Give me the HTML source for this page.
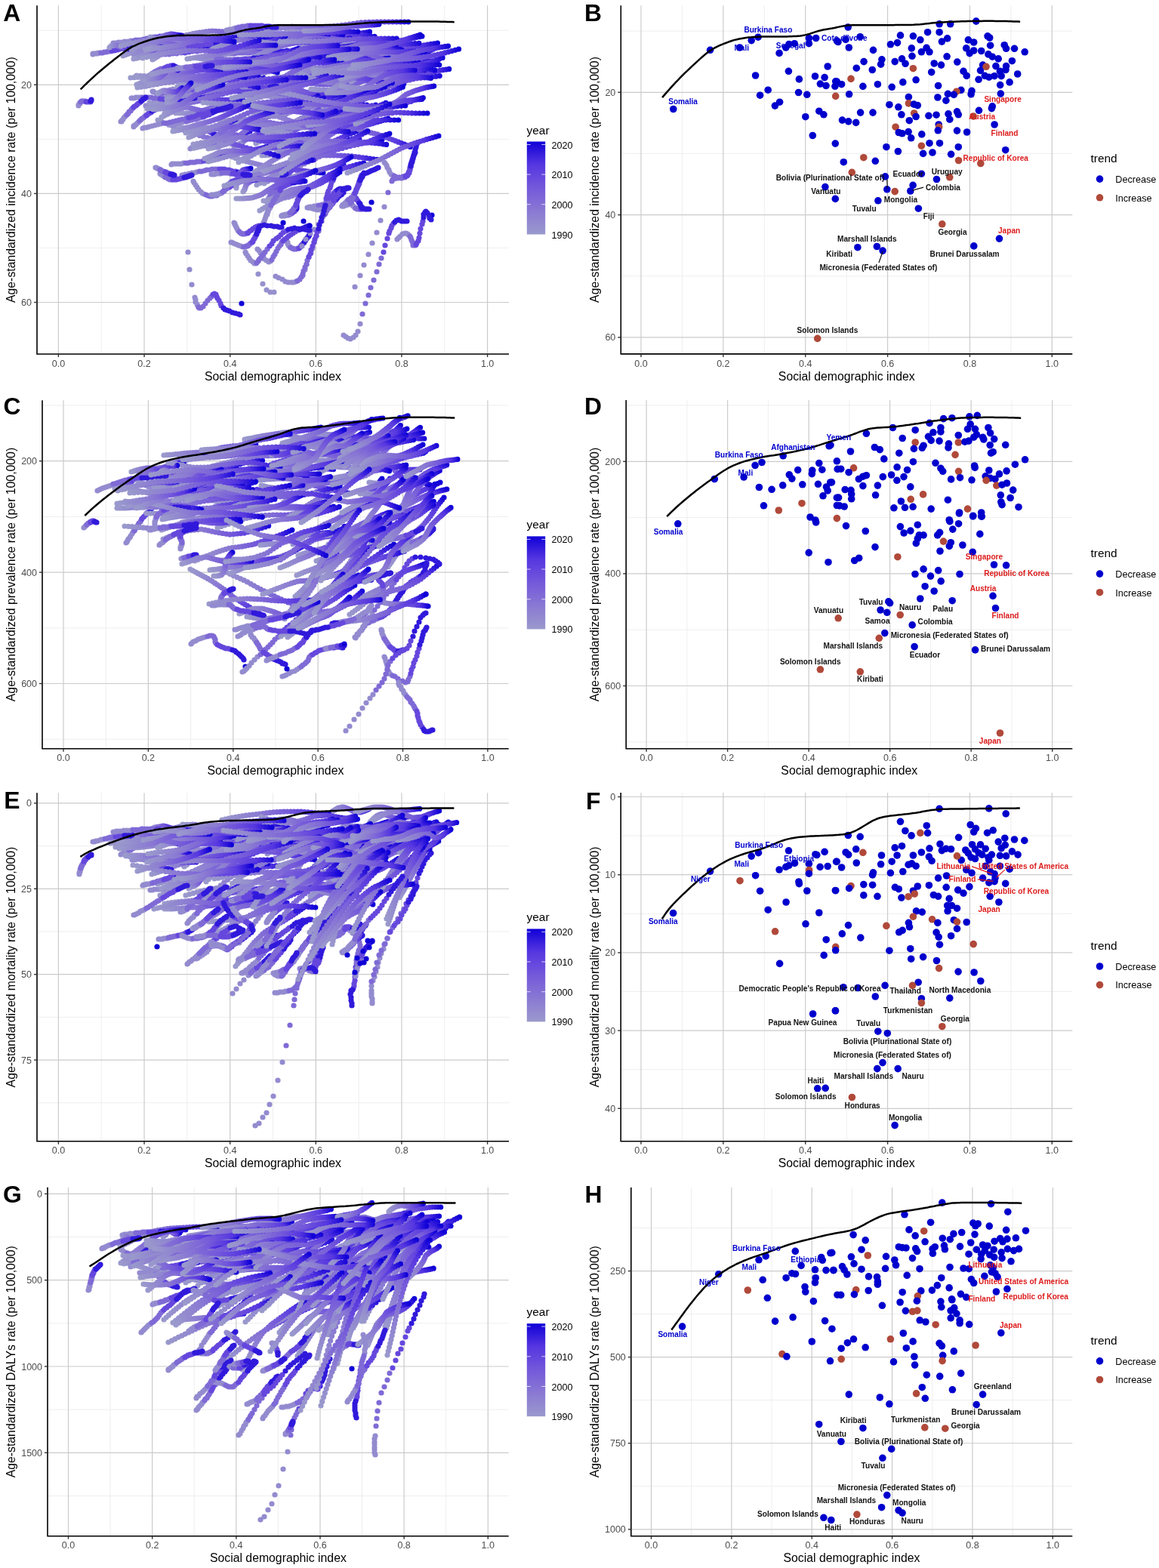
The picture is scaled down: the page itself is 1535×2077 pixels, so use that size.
<!DOCTYPE html><html><head><meta charset="utf-8"><title>SDI figure</title><style>html,body{margin:0;padding:0;background:#fff;}svg{display:block;}</style></head><body>
<svg width="1535" height="2077" viewBox="0 0 1535 2077" font-family="'Liberation Sans', Arial, Helvetica, sans-serif">
<rect width="1535" height="2077" fill="#fff"/>
<defs><linearGradient id="gr" x1="0" y1="0" x2="1" y2="0"><stop offset="0" stop-color="#9a99cc"/><stop offset=".35" stop-color="#8a79d3"/><stop offset=".62" stop-color="#7459da"/><stop offset=".84" stop-color="#5637e0"/><stop offset="1" stop-color="#1000d7"/></linearGradient><linearGradient id="gl" x1="1" y1="0" x2="0" y2="0"><stop offset="0" stop-color="#9a99cc"/><stop offset=".35" stop-color="#8a79d3"/><stop offset=".62" stop-color="#7459da"/><stop offset=".84" stop-color="#5637e0"/><stop offset="1" stop-color="#1000d7"/></linearGradient><linearGradient id="gu" x1="0" y1="1" x2="0" y2="0"><stop offset="0" stop-color="#9a99cc"/><stop offset=".35" stop-color="#8a79d3"/><stop offset=".62" stop-color="#7459da"/><stop offset=".84" stop-color="#5637e0"/><stop offset="1" stop-color="#1000d7"/></linearGradient><linearGradient id="gd" x1="0" y1="0" x2="0" y2="1"><stop offset="0" stop-color="#9a99cc"/><stop offset=".35" stop-color="#8a79d3"/><stop offset=".62" stop-color="#7459da"/><stop offset=".84" stop-color="#5637e0"/><stop offset="1" stop-color="#1000d7"/></linearGradient><linearGradient id="gur" x1="0" y1="1" x2="1" y2="0"><stop offset="0" stop-color="#9a99cc"/><stop offset=".35" stop-color="#8a79d3"/><stop offset=".62" stop-color="#7459da"/><stop offset=".84" stop-color="#5637e0"/><stop offset="1" stop-color="#1000d7"/></linearGradient><linearGradient id="gdr" x1="0" y1="0" x2="1" y2="1"><stop offset="0" stop-color="#9a99cc"/><stop offset=".35" stop-color="#8a79d3"/><stop offset=".62" stop-color="#7459da"/><stop offset=".84" stop-color="#5637e0"/><stop offset="1" stop-color="#1000d7"/></linearGradient><linearGradient id="gul" x1="1" y1="1" x2="0" y2="0"><stop offset="0" stop-color="#9a99cc"/><stop offset=".35" stop-color="#8a79d3"/><stop offset=".62" stop-color="#7459da"/><stop offset=".84" stop-color="#5637e0"/><stop offset="1" stop-color="#1000d7"/></linearGradient><linearGradient id="gdl" x1="1" y1="0" x2="0" y2="1"><stop offset="0" stop-color="#9a99cc"/><stop offset=".35" stop-color="#8a79d3"/><stop offset=".62" stop-color="#7459da"/><stop offset=".84" stop-color="#5637e0"/><stop offset="1" stop-color="#1000d7"/></linearGradient></defs>
<line x1="49.0" y1="40.25" x2="674.0" y2="40.25" stroke="#ececec" stroke-width="0.9"/>
<line x1="49.0" y1="184.35" x2="674.0" y2="184.35" stroke="#ececec" stroke-width="0.9"/>
<line x1="49.0" y1="328.45" x2="674.0" y2="328.45" stroke="#ececec" stroke-width="0.9"/>
<line x1="134.22" y1="7.2" x2="134.22" y2="469.0" stroke="#ececec" stroke-width="0.9"/>
<line x1="247.86" y1="7.2" x2="247.86" y2="469.0" stroke="#ececec" stroke-width="0.9"/>
<line x1="361.50" y1="7.2" x2="361.50" y2="469.0" stroke="#ececec" stroke-width="0.9"/>
<line x1="475.14" y1="7.2" x2="475.14" y2="469.0" stroke="#ececec" stroke-width="0.9"/>
<line x1="588.78" y1="7.2" x2="588.78" y2="469.0" stroke="#ececec" stroke-width="0.9"/>
<line x1="49.0" y1="112.30" x2="674.0" y2="112.30" stroke="#cbcbcb" stroke-width="1.2"/>
<line x1="49.0" y1="256.40" x2="674.0" y2="256.40" stroke="#cbcbcb" stroke-width="1.2"/>
<line x1="49.0" y1="400.50" x2="674.0" y2="400.50" stroke="#cbcbcb" stroke-width="1.2"/>
<line x1="77.40" y1="7.2" x2="77.40" y2="469.0" stroke="#cbcbcb" stroke-width="1.2"/>
<line x1="191.04" y1="7.2" x2="191.04" y2="469.0" stroke="#cbcbcb" stroke-width="1.2"/>
<line x1="304.68" y1="7.2" x2="304.68" y2="469.0" stroke="#cbcbcb" stroke-width="1.2"/>
<line x1="418.32" y1="7.2" x2="418.32" y2="469.0" stroke="#cbcbcb" stroke-width="1.2"/>
<line x1="531.96" y1="7.2" x2="531.96" y2="469.0" stroke="#cbcbcb" stroke-width="1.2"/>
<line x1="645.60" y1="7.2" x2="645.60" y2="469.0" stroke="#cbcbcb" stroke-width="1.2"/>
<g clip-path="url(#clipA)">
<defs><clipPath id="clipA"><rect x="49.0" y="7.2" width="625.0" height="461.8"/></clipPath></defs>
<g fill="none" stroke-width="7.2" stroke-linecap="round">
<path stroke="url(#gr)" stroke-dasharray="0 4.56" d="M221 138L233 131L251 123L268 119L285 120L302 121L321 117L341 109L355 103"/>
<path stroke="url(#gr)" stroke-dasharray="0 4.83" d="M356 195L372 199L394 204L414 206L431 206L448 206L467 207L489 210L504 212"/>
<path stroke="#938bcf" d="M104 140h0m0-1h0m1-1h0m0-1h0m1 0h0m0-1h0"/><path stroke="#7f6ad6" d="M107 135h0m1-1h0m1 0h0m1 0h0m1 0h0m2 0h0"/><path stroke="#6547dd" d="M114 135h0m1 0h0m1 0h0m1 0h0m1 0h0m1 0h0m1 0h0"/><path stroke="#3019db" d="M120 134h0m1-1h0m0-1h0"/>
<path stroke="url(#gr)" stroke-dasharray="0 3.91" d="M369 50L380 49L396 49L412 48L428 49L444 49L460 48L478 44L490 42"/>
<path stroke="url(#gr)" stroke-dasharray="0 4.35" d="M230 50L244 47L264 43L281 41L295 42L309 43L327 41L348 38L364 36"/>
<path stroke="url(#gr)" stroke-dasharray="0 1.61" d="M188 57L192 54L198 50L203 49L208 54L212 58L218 58L225 54L230 51"/>
<path stroke="#938bcf" d="M256 240h0m1 2h0m2 3h0m2 3h0m2 3h0m3 3h0m2 2h0m2 1h0"/><path stroke="#7f6ad6" d="M273 258h0m2 1h0m3 1h0m3 0h0m3-1h0m3 0h0m3-2h0m4-2h0"/><path stroke="#6547dd" d="M297 252h0m3-2h0m4-2h0m3-2h0m4-2h0m3-1h0m4-2h0m3-1h0"/><path stroke="#3019db" d="M324 239h0m3-1h0m4 0h0m3 0h0m4 0h0m3 0h0m3 0h0m2 0h0"/>
<path stroke="url(#gr)" stroke-dasharray="0 5.40" d="M350 243L364 235L385 225L405 216L424 207L444 199L465 193L489 188L506 185"/>
<path stroke="url(#gr)" stroke-dasharray="0 5.15" d="M378 141L392 138L412 133L432 129L453 124L474 120L495 116L518 113L535 111"/>
<path stroke="#938bcf" d="M466 271h0m1 1h0m1 1h0m1 1h0m1 1h0"/><path stroke="#7f6ad6" d="M471 276h0m1 0h0m1 1h0m1 0h0m1 0h0m1 0h0m1 0h0"/><path stroke="#6547dd" d="M478 277h0m1 0h0m1 0h0m1 0h0m1 0h0m1 0h0m1 0h0"/><path stroke="#3019db" d="M485 277h0m1 0h0m1 0h0m1 0h0m1 0h0"/>
<path stroke="url(#gr)" stroke-dasharray="0 4.16" d="M366 102L380 102L398 102L415 100L428 95L441 90L458 86L478 83L492 80"/>
<path stroke="url(#gr)" stroke-dasharray="0 1.66" d="M221 140L226 137L232 133L239 130L246 127L252 125L259 124L265 124L269 124"/>
<path stroke="#938bcf" d="M193 140h0m2 0h0m3 0h0m3-1h0m3 0h0m3-1h0m4 0h0m4-1h0"/><path stroke="#7f6ad6" d="M219 136h0m4 0h0m4-1h0m4 0h0m4-1h0m4-1h0m4 0h0m3-1h0"/><path stroke="#6547dd" d="M249 132h0m3-1h0m4 0h0m3-1h0m3 0h0m3-1h0m3 0h0m3 0h0"/><path stroke="#3019db" d="M274 128h0m3 0h0m2-1h0m3 0h0m2 0h0m2-1h0m2 0h0m1 0h0"/>
<path stroke="url(#gr)" stroke-dasharray="0 3.07" d="M218 150L226 146L237 140L249 135L261 131L274 126L286 122L298 118L307 115"/>
<path stroke="#938bcf" d="M321 211h0m1 0h0m1-1h0m2-1h0m2-1h0m1-1h0m3-1h0m2-1h0"/><path stroke="#7f6ad6" d="M335 203h0m2-1h0m3-1h0m2-1h0m2-2h0m3-1h0m2-1h0m2-1h0"/><path stroke="#6547dd" d="M353 194h0m2-1h0m2-1h0m2 0h0m2-1h0m2-1h0m2-1h0m2 0h0"/><path stroke="#3019db" d="M369 188h0m2-1h0m2 0h0m2-1h0m1-1h0m2 0h0m1 0h0m1-1h0"/>
<path stroke="url(#gr)" stroke-dasharray="0 5.50" d="M280 138L297 133L322 127L344 125L362 127L381 129L403 127L429 122L447 118"/>
<path stroke="url(#gr)" stroke-dasharray="0 3.24" d="M489 103L499 104L512 105L524 102L534 94L544 85L557 82L571 81L582 81"/>
<path stroke="#938bcf" d="M241 232h0m2 0h0m2-1h0m3 0h0m2-1h0m4-1h0m3 0h0m3-1h0"/><path stroke="#7f6ad6" d="M264 227h0m3 0h0m4-1h0m3-1h0m4 0h0m3-1h0m4 0h0m3 0h0"/><path stroke="#6547dd" d="M291 224h0m3 0h0m3 0h0m3 1h0m3 0h0m3 1h0m3 1h0m3 0h0"/><path stroke="#3019db" d="M315 228h0m3 1h0m3 0h0m2 1h0m3 1h0m2 0h0m2 1h0m1 0h0"/>
<path stroke="url(#gr)" stroke-dasharray="0 3.66" d="M337 105L350 105L366 106L381 110L392 116L404 122L418 124L435 125L447 125"/>
<path stroke="url(#gr)" stroke-dasharray="0 3.47" d="M243 116L254 112L269 107L282 103L293 100L304 98L319 97L336 98L348 100"/>
<path stroke="url(#gur)" stroke-dasharray="0 1.05" d="M322 254L324 251L326 245L329 242L332 240L335 239L339 238L343 238L346 238"/>
<path stroke="#938bcf" d="M150 57h0m2 0h0m2 0h0m3-1h0m4 0h0m4-1h0m4 0h0m4-1h0"/><path stroke="#7f6ad6" d="M177 54h0m3-1h0m4 0h0m3 0h0m3-1h0m4-1h0m3 0h0m3-1h0"/><path stroke="#6547dd" d="M203 50h0m3-1h0m3 0h0m3-1h0m3 0h0m2 0h0m3-1h0m3 0h0"/><path stroke="#3019db" d="M226 47h0m3 0h0m2 0h0m3 0h0m2 0h0m2 0h0m2 0h0m1 0h0"/>
<path stroke="url(#gr)" stroke-dasharray="0 4.87" d="M388 76L401 77L420 79L440 77L461 72L482 67L503 64L523 63L537 63"/>
<path stroke="url(#gr)" stroke-dasharray="0 4.33" d="M347 206L359 205L376 203L393 201L408 197L424 193L442 187L462 178L476 172"/>
<path stroke="#1000d7" d="M332 223h0"/>
<path stroke="url(#gr)" stroke-dasharray="0 3.41" d="M444 79L454 79L468 78L482 77L495 76L508 75L522 72L537 67L548 64"/>
<path stroke="url(#gr)" stroke-dasharray="0 0.87" d="M241 127L244 127L247 126L251 125L254 123L257 121L259 122L261 125L263 128"/>
<path stroke="#938bcf" d="M249 334h0m2 23h0m3 20h0m4 17h0m1 3h0m0 3h0m2 3h0m1 2h0"/><path stroke="#7f6ad6" d="M263 407h0m1 1h0m2 0h0m3-2h0m3-4h0m3-4h0m3-3h0m2-2h0"/><path stroke="#6547dd" d="M282 390h0m2-1h0m2 1h0m1 3h0m1 2h0m2 3h0m2 4h0m1 3h0"/><path stroke="#3019db" d="M296 408h0m2 2h0m3 1h0m3 1h0m4 2h0m4 1h0m4 1h0m2 1h0"/>
<path stroke="url(#gr)" stroke-dasharray="0 5.44" d="M335 53L350 55L371 58L393 57L416 51L440 45L462 44L485 47L501 49"/>
<path stroke="url(#gr)" stroke-dasharray="0 4.48" d="M443 81L458 77L479 71L497 68L514 66L530 65L548 62L567 59L580 57"/>
<path stroke="url(#gr)" stroke-dasharray="0 4.39" d="M404 68L416 69L435 70L452 71L470 69L487 67L505 63L524 58L537 53"/>
<path stroke="#938bcf" d="M408 275h0m1 0h0m1-1h0m2 0h0m2 0h0m2-1h0m2 0h0m2 0h0"/><path stroke="#7f6ad6" d="M422 272h0m2 0h0m3-1h0m2 0h0m2-1h0m1-1h0m2-2h0m2-2h0"/><path stroke="#6547dd" d="M437 263h0m1-2h0m2-2h0m1-1h0m1-2h0m1-1h0m1-1h0m1-1h0"/><path stroke="#3019db" d="M447 252h0m1-1h0m2-1h0m2 0h0m3 0h0m2 0h0m2-1h0m2 0h0"/>
<path stroke="url(#gr)" stroke-dasharray="0 2.85" d="M459 114L468 110L481 104L493 101L502 101L511 102L523 101L535 99L544 97"/>
<path stroke="#938bcf" d="M401 365h0m3-8h0m2-7h0m3-9h0m3-6h0m2-6h0m2-8h0m3-8h0"/><path stroke="#7f6ad6" d="M422 306h0m4-13h0m2-10h0m1-3h0m1-3h0m0-4h0m1-3h0m1-3h0"/><path stroke="#6547dd" d="M432 263h0m1-3h0m1-4h0m1-3h0m2-4h0m1-3h0m1-4h0m2-3h0"/><path stroke="#3019db" d="M442 236h0m2-4h0m2-2h0m2-3h0m2-3h0m2-2h0m1-2h0m2-2h0"/>
<path stroke="url(#gr)" stroke-dasharray="0 3.08" d="M387 109L396 105L408 100L421 96L433 94L446 93L458 91L470 90L479 89"/>
<path stroke="url(#gr)" stroke-dasharray="0 3.41" d="M458 110L468 105L483 100L496 98L508 102L520 105L534 104L548 99L558 94"/>
<path stroke="#938bcf" d="M379 318h0m1 2h0m1 1h0m0 2h0m1 2h0m1 1h0m1 1h0"/><path stroke="#7f6ad6" d="M385 328h0m2 1h0m1 0h0m1 1h0m2 0h0m1 0h0m2-1h0m1 0h0"/><path stroke="#6547dd" d="M396 329h0m1-1h0m1-1h0m1-1h0m0-1h0m1-1h0m1-1h0m1-1h0"/><path stroke="#3019db" d="M403 321h0m1-2h0m1-1h0m1-2h0m1-1h0m2-2h0m0-1h0m1-1h0"/>
<path stroke="url(#gr)" stroke-dasharray="0 3.27" d="M337 63L347 62L360 59L373 55L387 50L401 45L415 44L427 44L436 45"/>
<path stroke="url(#gr)" stroke-dasharray="0 4.00" d="M476 103L487 104L503 105L519 105L533 103L548 100L565 97L584 93L598 91"/>
<path stroke="url(#gur)" stroke-dasharray="0 4.57" d="M340 245L354 237L372 226L389 216L404 207L419 200L435 193L454 188L467 184"/>
<path stroke="#938bcf" d="M177 72h0m2 0h0m3 0h0m3 0h0m4 0h0m4 0h0m4 0h0m4 0h0"/><path stroke="#7f6ad6" d="M206 72h0m4 0h0m5 0h0m4 0h0m5 0h0m5-1h0m5 0h0m6-1h0"/><path stroke="#6547dd" d="M245 70h0m5-1h0m5-1h0m6 0h0m4-1h0m5-1h0m5-1h0m4-1h0"/><path stroke="#3019db" d="M284 63h0m5-1h0m4-1h0m5-1h0m3-1h0m4-1h0m3 0h0m2-1h0"/>
<path stroke="url(#gr)" stroke-dasharray="0 3.41" d="M482 82L491 78L504 73L517 71L531 73L545 75L558 72L572 66L582 61"/>
<path stroke="url(#gr)" stroke-dasharray="0 5.03" d="M436 135L451 132L474 128L494 123L512 116L530 109L550 104L571 102L587 100"/>
<path stroke="url(#gr)" stroke-dasharray="0 5.16" d="M297 65L312 64L333 62L354 65L374 72L394 80L415 83L438 84L454 84"/>
<path stroke="url(#gr)" stroke-dasharray="0 5.20" d="M326 104L341 99L363 93L383 89L402 91L420 93L442 90L465 84L483 78"/>
<path stroke="url(#gr)" stroke-dasharray="0 5.01" d="M334 112L350 110L373 108L393 107L409 110L426 112L447 111L471 107L488 104"/>
<path stroke="url(#gr)" stroke-dasharray="0 3.57" d="M344 77L354 73L368 69L382 68L397 71L412 74L427 74L442 72L452 70"/>
<path stroke="url(#gr)" stroke-dasharray="0 3.82" d="M351 187L364 187L382 186L397 183L409 178L421 172L436 167L453 164L466 162"/>
<path stroke="url(#gr)" stroke-dasharray="0 4.24" d="M424 151L435 156L452 163L468 169L484 174L500 178L517 184L535 191L547 196"/>
<path stroke="url(#gr)" stroke-dasharray="0 3.47" d="M163 74L173 70L187 66L202 63L216 62L231 62L245 63L259 65L269 66"/>
<path stroke="#938bcf" d="M193 105h0m1-1h0m1 0h0m1-1h0m1-1h0m1-2h0m1-1h0m2-1h0"/><path stroke="#7f6ad6" d="M202 97h0m2-1h0m1-1h0m2-1h0m2-1h0m2-1h0m2-1h0m3 0h0"/><path stroke="#6547dd" d="M218 90h0m2-1h0m2-1h0m2 0h0m2-1h0m1 0h0m1 0h0m1 0h0"/><path stroke="#3019db" d="M230 87h0m1 1h0m1 0h0m1 1h0m1 0h0"/>
<path stroke="url(#gr)" stroke-dasharray="0 4.13" d="M234 69L246 67L262 64L278 60L294 56L310 52L327 50L347 50L360 50"/>
<path stroke="url(#gr)" stroke-dasharray="0 3.94" d="M308 208L319 212L335 216L350 220L367 222L383 224L399 226L416 228L428 229"/>
<path stroke="#938bcf" d="M353 284h0m1-2h0m1-3h0m2-3h0m1-3h0m2-4h0m2-3h0m1-3h0"/><path stroke="#7f6ad6" d="M365 260h0m1-3h0m2-3h0m1-3h0m2-2h0m1-3h0m2-3h0m1-3h0"/><path stroke="#6547dd" d="M377 238h0m2-3h0m2-2h0m2-3h0m2-3h0m3-3h0m3-3h0m3-3h0"/><path stroke="#3019db" d="M396 216h0m3-2h0m3-1h0m3 0h0m3-1h0m3 0h0m2 0h0m2 0h0"/>
<path stroke="#938bcf" d="M227 218h0m1-1h0m2 0h0m2 0h0m3 0h0m2 0h0m3 0h0m3-1h0"/><path stroke="#7f6ad6" d="M246 216h0m3 0h0m3-1h0m3 0h0m3 0h0m3-1h0m3 0h0m3 0h0"/><path stroke="#6547dd" d="M270 213h0m3 0h0m3-1h0m3-1h0m3 0h0m3-1h0m3-1h0m3-1h0"/><path stroke="#3019db" d="M294 207h0m3 0h0m3-1h0m2-1h0m3-1h0m2 0h0m2-1h0m1 0h0"/>
<path stroke="#1000d7" d="M572 285h0"/>
<path stroke="#938bcf" d="M212 230h0m1 0h0m0 1h0m1 0h0m1 1h0m1 1h0m1 0h0m1 1h0"/><path stroke="#7f6ad6" d="M219 235h0m1 0h0m2 1h0m1 1h0m1 0h0m1 1h0m2 0h0m1 0h0"/><path stroke="#6547dd" d="M229 238h0m2 0h0m2 0h0m1 0h0m2-1h0m2 0h0m2-1h0m2 0h0"/><path stroke="#3019db" d="M244 235h0m2 0h0m1-1h0m2 0h0m1-1h0m2 0h0m1-1h0m1 0h0"/>
<path stroke="url(#gr)" stroke-dasharray="0 4.10" d="M321 203L332 201L348 198L364 191L379 181L393 171L409 165L426 162L438 161"/>
<path stroke="url(#gr)" stroke-dasharray="0 4.25" d="M435 99L449 99L469 99L486 98L500 95L514 93L531 92L551 93L566 93"/>
<path stroke="url(#gr)" stroke-dasharray="0 1.35" d="M199 49L202 50L207 51L212 50L216 48L221 46L227 45L234 46L239 47"/>
<path stroke="url(#gur)" stroke-dasharray="0 3.44" d="M337 228L345 223L357 215L369 208L383 201L397 194L410 189L424 185L433 182"/>
<path stroke="url(#gur)" stroke-dasharray="0 3.05" d="M414 160L422 159L434 157L446 153L458 146L469 139L480 133L491 126L499 122"/>
<path stroke="url(#gr)" stroke-dasharray="0 3.82" d="M406 105L420 105L438 104L454 102L466 99L479 96L494 93L511 90L523 88"/>
<path stroke="url(#gr)" stroke-dasharray="0 3.33" d="M315 234L323 233L336 232L349 230L364 225L379 221L392 217L406 214L415 211"/>
<path stroke="#938bcf" d="M310 195h0m1-1h0m2-1h0m1-1h0m2-1h0m2-1h0m2-1h0m2-1h0"/><path stroke="#7f6ad6" d="M324 186h0m2-1h0m3-1h0m2-1h0m2-2h0m3-1h0m2-1h0m2-1h0"/><path stroke="#6547dd" d="M343 178h0m2-1h0m3-1h0m2-1h0m3 0h0m3-1h0m3-1h0m3 0h0"/><path stroke="#3019db" d="M365 172h0m3 0h0m2-1h0m3 0h0m2 0h0m2-1h0m2 0h0m1 0h0"/>
<path stroke="#938bcf" d="M268 78h0m5 1h0m6 2h0m8 3h0m8 2h0m8 3h0m8 2h0m6 2h0"/><path stroke="#7f6ad6" d="M322 95h0m3 1h0m2 1h0m2 1h0m1 1h0m1 1h0m0 1h0m0 1h0"/><path stroke="#6547dd" d="M331 104h0m-2 2h0m-3 2h0m-3 3h0m-4 2h0m-3 2h0m-1 2h0m-1 2h0"/><path stroke="#3019db" d="M316 121h0m3 1h0m4 0h0m5 1h0m6 1h0m5 0h0m4 0h0m3 1h0"/>
<path stroke="url(#gr)" stroke-dasharray="0 3.12" d="M214 55L223 54L235 53L248 53L260 55L273 56L286 55L300 51L310 49"/>
<path stroke="#938bcf" d="M300 86h0m1 0h0m2 0h0m2 0h0m3 0h0m2 0h0m3 0h0m3 0h0"/><path stroke="#7f6ad6" d="M319 86h0m3 1h0m3 0h0m3 0h0m3 0h0m3-1h0m3 0h0m3 0h0"/><path stroke="#6547dd" d="M343 86h0m2 0h0m3 0h0m3-1h0m3 0h0m3 0h0m3 0h0m3-1h0"/><path stroke="#3019db" d="M365 84h0m3 0h0m3-1h0m2 0h0m2 0h0m2-1h0m2 0h0m1 0h0"/>
<path stroke="url(#gr)" stroke-dasharray="0 2.99" d="M202 79L210 74L222 67L233 62L244 59L256 58L268 56L281 55L290 55"/>
<path stroke="#938bcf" d="M400 326h0m5-9h0m6-8h0m5-5h0m6-7h0m5-9h0m1-2h0m1-1h0"/><path stroke="#7f6ad6" d="M430 284h0m1-1h0m0-2h0m1-1h0m1-1h0m1-2h0m1-1h0m1-1h0"/><path stroke="#6547dd" d="M437 274h0m1-2h0m1-1h0m1-1h0m1-1h0m1-2h0m1-1h0m2-1h0"/><path stroke="#3019db" d="M446 263h0m1-1h0m2-2h0m1-1h0m2-1h0m1-1h0m1-2h0m1 0h0"/>
<path stroke="#938bcf" d="M373 286h0m1 0h0m1 0h0m1 0h0m1 0h0m1-1h0m1 0h0"/><path stroke="#7f6ad6" d="M381 285h0m1 0h0m1-1h0m1 0h0m1-1h0m1 0h0m0-1h0m1 0h0"/><path stroke="#6547dd" d="M388 281h0m1-1h0m1 0h0m0-1h0m1-1h0m1 0h0m0-1h0m0-1h0"/><path stroke="#3019db" d="M393 276h0m0-1h0m0-1h0m0-1h0m0-1h0"/>
<path stroke="url(#gr)" stroke-dasharray="0 3.36" d="M181 112L189 109L202 105L215 101L227 97L240 94L254 91L270 89L281 87"/>
<path stroke="#938bcf" d="M252 197h0m1-1h0m2 0h0m2 0h0m2-1h0m2 0h0m2-1h0m3 0h0"/><path stroke="#7f6ad6" d="M269 193h0m2 0h0m3-1h0m3-1h0m3 0h0m3-1h0m2-1h0m3 0h0"/><path stroke="#6547dd" d="M291 188h0m2-1h0m3-1h0m3-1h0m3-1h0m3-1h0m4-1h0m3-1h0"/><path stroke="#3019db" d="M315 180h0m3-1h0m2-1h0m3-1h0m3-1h0m2-1h0m1-1h0m2 0h0"/>
<path stroke="#938bcf" d="M123 72h0m0-1h0m2 0h0m1 0h0m1 0h0m2 0h0m1-1h0m2 0h0"/><path stroke="#7f6ad6" d="M134 70h0m2 0h0m2-1h0m2 0h0m1 0h0m2-1h0m2 0h0m2 0h0"/><path stroke="#6547dd" d="M148 67h0m2 0h0m2 0h0m2-1h0m2 0h0m1-1h0m2 0h0m2-1h0"/><path stroke="#3019db" d="M163 64h0m2 0h0m1-1h0m2 0h0m1-1h0m2 0h0m1 0h0m1 0h0"/>
<path stroke="#938bcf" d="M407 275h0m3 0h0m3 1h0m3 1h0m4 1h0m4 0h0m3 0h0m2 0h0"/><path stroke="#7f6ad6" d="M431 278h0m1-1h0m1-1h0m2-1h0m1-1h0m1-2h0m2-2h0m1-2h0"/><path stroke="#6547dd" d="M442 266h0m1-3h0m2-2h0m1-2h0m2-1h0m1-2h0m2-2h0m1-1h0"/><path stroke="#3019db" d="M454 252h0m1-1h0m1-1h0m2 0h0m1 0h0m1-1h0m1 0h0m1 0h0"/>
<path stroke="#9691ce" d="M342 363h0m6 13h0m5 8h0m5 3h0m5 0h0"/>
<path stroke="url(#gr)" stroke-dasharray="0 3.21" d="M479 99L489 98L503 97L514 93L524 85L534 77L546 73L561 73L571 73"/>
<path stroke="url(#gr)" stroke-dasharray="0 5.26" d="M399 79L415 75L437 70L458 66L478 63L498 61L520 59L544 58L560 57"/>
<path stroke="url(#gr)" stroke-dasharray="0 3.47" d="M177 78L189 75L205 70L219 66L230 62L241 58L255 57L270 56L282 56"/>
<path stroke="url(#gr)" stroke-dasharray="0 3.66" d="M406 190L416 185L430 179L443 174L456 172L470 170L485 166L502 161L514 157"/>
<path stroke="url(#gr)" stroke-dasharray="0 2.99" d="M441 73L450 71L462 69L475 66L486 63L498 61L510 62L523 64L532 66"/>
<path stroke="#938bcf" d="M289 72h0m2 0h0m2-1h0m2 0h0m2 0h0m2 0h0m3 0h0m3 0h0"/><path stroke="#7f6ad6" d="M308 71h0m3 0h0m3-1h0m3 0h0m3 0h0m3 0h0m4 0h0m3 0h0"/><path stroke="#6547dd" d="M333 69h0m3 0h0m3 0h0m4 0h0m3 0h0m4 0h0m4 0h0m3-1h0"/><path stroke="#3019db" d="M361 68h0m3 0h0m4 0h0m3 0h0m2 0h0m3 0h0m2 0h0m2-1h0"/>
<path stroke="url(#gr)" stroke-dasharray="0 5.10" d="M192 64L207 61L227 58L248 56L270 54L292 53L313 53L335 53L350 53"/>
<path stroke="#938bcf" d="M306 49h0m2 0h0m2-1h0m2 0h0m3 0h0m3 0h0m3 0h0m4-1h0"/><path stroke="#7f6ad6" d="M328 47h0m4 0h0m3 0h0m3-1h0m4 0h0m3 0h0m3 0h0m3 0h0"/><path stroke="#6547dd" d="M353 46h0m2-1h0m3 0h0m2 0h0m2 0h0m2 0h0m2 0h0m2 0h0"/><path stroke="#3019db" d="M370 45h0m2 0h0m2 0h0m1 0h0m2 0h0m1 0h0m1 0h0m1 0h0"/>
<path stroke="#938bcf" d="M453 273h0m2 0h0m1-1h0m2-1h0m2 0h0m2-1h0m2-2h0m1-1h0"/><path stroke="#7f6ad6" d="M466 265h0m1-2h0m1-2h0m1-2h0m1-3h0m1-2h0m1-3h0m1-2h0"/><path stroke="#6547dd" d="M474 246h0m1-3h0m1-3h0m1-3h0m1-3h0m1-2h0m2-1h0m2-1h0"/><path stroke="#3019db" d="M486 229h0m2-1h0m2-1h0m2-1h0m3-1h0m2-1h0m2-1h0m2-1h0"/>
<path stroke="url(#gr)" stroke-dasharray="0 3.48" d="M452 60L463 59L479 59L494 58L507 57L521 55L535 53L549 50L559 48"/>
<path stroke="url(#gr)" stroke-dasharray="0 3.99" d="M381 100L392 98L408 94L423 92L437 90L451 88L468 83L487 76L500 70"/>
<path stroke="#938bcf" d="M341 330h0m2 2h0m2 3h0m3 4h0m2 4h0m3 2h0m3 2h0m2-1h0"/><path stroke="#7f6ad6" d="M360 344h0m2-4h0m2-3h0m2-4h0m2-4h0m2-3h0m2-2h0m1-3h0"/><path stroke="#6547dd" d="M375 319h0m2-2h0m3-2h0m2-2h0m3-2h0m3-2h0m3-2h0m4-2h0"/><path stroke="#3019db" d="M398 304h0m2-1h0m2-1h0m2-1h0m2-1h0m2 0h0m1-1h0m1 0h0"/>
<path stroke="url(#gr)" stroke-dasharray="0 4.43" d="M350 227L362 222L379 216L396 210L412 205L429 200L447 194L466 188L480 183"/>
<path stroke="url(#gr)" stroke-dasharray="0 1.01" d="M145 63L147 61L150 60L154 60L160 62L165 65L169 65L171 64L173 63"/>
<path stroke="#938bcf" d="M266 168h0m1 0h0m1 0h0m0 1h0m1 0h0m1 0h0m0 1h0"/><path stroke="#7f6ad6" d="M271 170h0m1 1h0m1 0h0m0 1h0m1 0h0m1 1h0m1 0h0m0 1h0"/><path stroke="#6547dd" d="M277 174h0m1 0h0m1 1h0m1 1h0m1 0h0m1 1h0"/><path stroke="#3019db" d="M283 178h0m1 0h0m1 0h0m0 1h0m1 0h0m0 1h0m1 0h0"/>
<path stroke="url(#gr)" stroke-dasharray="0 4.79" d="M233 150L246 150L266 149L285 147L306 144L326 141L346 138L367 137L381 136"/>
<path stroke="url(#gr)" stroke-dasharray="0 5.37" d="M209 159L225 166L248 174L269 181L290 186L310 191L331 197L353 202L369 207"/>
<path stroke="url(#gr)" stroke-dasharray="0 3.62" d="M278 107L288 103L303 97L318 92L332 87L347 83L361 80L375 78L385 76"/>
<path stroke="url(#gr)" stroke-dasharray="0 4.79" d="M349 266L363 264L383 261L402 254L419 243L437 231L455 223L473 218L486 215"/>
<path stroke="url(#gr)" stroke-dasharray="0 0.80" d="M192 64L195 66L198 68L201 68L204 66L206 64L209 63L212 61L214 60"/>
<path stroke="url(#gr)" stroke-dasharray="0 4.45" d="M408 140L420 140L438 139L455 139L474 142L493 144L511 142L531 137L545 134"/>
<path stroke="url(#gr)" stroke-dasharray="0 4.26" d="M384 86L395 88L412 90L429 90L446 87L463 84L482 81L501 78L515 77"/>
<path stroke="url(#gr)" stroke-dasharray="0 4.08" d="M430 64L441 64L457 64L474 66L492 73L509 79L526 81L543 82L555 82"/>
<path stroke="url(#gr)" stroke-dasharray="0 2.98" d="M489 143L497 143L508 142L518 139L528 133L538 125L550 120L564 116L575 114"/>
<path stroke="#938bcf" d="M526 317h0m2-2h0m2-2h0m3-3h0m3-1h0m2 0h0m2 1h0m1 1h0"/><path stroke="#7f6ad6" d="M543 313h0m1 2h0m1 3h0m1 2h0m1 3h0m0 2h0m2 0h0m1 0h0"/><path stroke="#6547dd" d="M551 324h0m1-2h0m2-3h0m1-4h0m1-6h0m1-6h0m2-6h0m1-4h0"/><path stroke="#3019db" d="M561 288h0m0-4h0m2-3h0m1-1h0m2 2h0m2 3h0m1 4h0m2 2h0"/>
<path stroke="url(#gur)" stroke-dasharray="0 3.60" d="M276 197L286 195L300 191L312 184L324 174L337 164L350 156L364 151L375 148"/>
<path stroke="#938bcf" d="M229 65h0m2 0h0m3 0h0m3 0h0m3 0h0m3 0h0m4 0h0m4 0h0"/><path stroke="#7f6ad6" d="M256 65h0m4-1h0m4 0h0m5 0h0m5 0h0m4 0h0m5 0h0m4-1h0"/><path stroke="#6547dd" d="M292 63h0m4 0h0m5 0h0m5-1h0m6 0h0m5 0h0m6-1h0m5 0h0"/><path stroke="#3019db" d="M334 61h0m5 0h0m5-1h0m4 0h0m5 0h0m3-1h0m4 0h0m2 0h0"/>
<path stroke="url(#gr)" stroke-dasharray="0 3.97" d="M361 185L371 179L385 171L400 165L417 159L433 155L449 149L464 144L475 140"/>
<path stroke="#938bcf" d="M185 115h0m2 0h0m4-1h0m3 0h0m4-1h0m5-1h0m4-1h0m5-1h0"/><path stroke="#7f6ad6" d="M217 109h0m4-1h0m4-1h0m4 0h0m5-1h0m4-1h0m4 0h0m4-1h0"/><path stroke="#6547dd" d="M250 104h0m4-1h0m4-1h0m4 0h0m4-1h0m4 0h0m3-1h0m4-1h0"/><path stroke="#3019db" d="M280 99h0m4-1h0m3-1h0m3 0h0m3-1h0m3-1h0m2 0h0m2 0h0"/>
<path stroke="url(#gr)" stroke-dasharray="0 3.15" d="M351 174L362 172L377 169L389 166L399 163L408 160L421 159L436 159L447 159"/>
<path stroke="url(#gr)" stroke-dasharray="0 3.11" d="M400 62L409 60L421 57L433 56L444 59L455 62L468 60L483 56L493 53"/>
<path stroke="url(#gr)" stroke-dasharray="0 3.92" d="M281 74L292 71L308 67L324 66L339 70L354 74L370 72L387 67L398 63"/>
<path stroke="url(#gr)" stroke-dasharray="0 4.94" d="M356 181L370 175L389 166L409 160L429 155L449 151L469 146L489 141L502 138"/>
<path stroke="url(#gur)" stroke-dasharray="0 1.19" d="M313 249L313 244L314 237L316 232L319 228L322 225L326 224L329 224L332 224"/>
<path stroke="url(#gr)" stroke-dasharray="0 5.40" d="M292 160L309 159L333 158L355 155L376 147L396 140L417 134L439 129L455 126"/>
<path stroke="url(#gr)" stroke-dasharray="0 3.88" d="M322 120L334 120L352 118L368 115L383 109L397 104L413 101L428 100L439 100"/>
<path stroke="url(#gr)" stroke-dasharray="0 3.33" d="M338 150L348 152L362 154L375 153L387 147L398 140L412 137L427 138L437 138"/>
<path stroke="url(#gr)" stroke-dasharray="0 3.49" d="M261 77L272 78L287 79L301 81L314 83L327 85L341 89L356 93L368 96"/>
<path stroke="url(#gr)" stroke-dasharray="0 4.96" d="M339 125L354 127L375 131L395 133L413 135L431 136L451 141L474 148L489 153"/>
<path stroke="url(#gr)" stroke-dasharray="0 3.53" d="M412 118L423 119L437 119L452 117L467 112L482 107L497 106L510 108L520 110"/>
<path stroke="url(#gr)" stroke-dasharray="0 5.21" d="M380 41L395 39L417 37L438 35L457 33L477 30L499 29L523 29L541 29"/>
<path stroke="url(#gr)" stroke-dasharray="0 3.22" d="M469 99L478 94L490 88L502 84L514 84L526 84L539 81L553 75L563 70"/>
<path stroke="url(#gr)" stroke-dasharray="0 4.65" d="M281 78L295 73L315 67L334 62L352 59L370 57L389 56L409 56L422 56"/>
<path stroke="#938bcf" d="M365 366h0m4 2h0m5 2h0m4 3h0m4 1h0m4 0h0m3 0h0m3-1h0"/><path stroke="#7f6ad6" d="M394 372h0m3-2h0m2-3h0m2-4h0m1-4h0m2-5h0m2-4h0m1-5h0"/><path stroke="#6547dd" d="M409 340h0m2-4h0m1-5h0m2-5h0m2-5h0m1-4h0m2-5h0m1-5h0"/><path stroke="#3019db" d="M422 303h0m1-5h0m2-5h0m1-5h0m2-4h0m1-5h0m1-4h0m1-3h0"/>
<path stroke="url(#gr)" stroke-dasharray="0 5.30" d="M182 116L199 113L222 109L243 107L263 107L282 107L304 106L328 106L346 105"/>
<path stroke="url(#gur)" stroke-dasharray="0 1.62" d="M273 189L276 188L281 185L287 181L293 175L300 169L305 165L311 164L315 163"/>
<path stroke="url(#gur)" stroke-dasharray="0 3.63" d="M387 205L396 202L409 197L421 190L434 181L448 172L462 165L477 160L488 157"/>
<path stroke="#938bcf" d="M470 380h0m7-15h0m5-14h0m6-14h0m5-15h0m6-14h0m5-16h0m5-18h0"/><path stroke="#7f6ad6" d="M514 255h0m5-15h0m1-2h0m2-1h0m2-1h0m3 0h0m2-1h0m3 0h0"/><path stroke="#6547dd" d="M534 234h0m3-1h0m2-1h0m2-3h0m1-2h0m1-3h0m1-3h0m1-4h0"/><path stroke="#3019db" d="M546 214h0m1-4h0m1-4h0m1-4h0m1-4h0m1-3h0m1-4h0m1-2h0"/>
<path stroke="url(#gr)" stroke-dasharray="0 4.18" d="M377 150L391 147L410 143L427 139L440 135L453 131L469 125L488 119L502 114"/>
<path stroke="url(#gr)" stroke-dasharray="0 4.21" d="M339 190L352 183L370 175L386 169L400 168L414 167L429 160L446 149L457 141"/>
<path stroke="url(#gr)" stroke-dasharray="0 3.47" d="M329 79L338 75L351 69L364 64L376 60L389 57L404 55L420 54L432 54"/>
<path stroke="url(#gur)" stroke-dasharray="0 4.00" d="M344 279L354 273L369 265L384 258L398 252L412 246L427 238L442 229L453 222"/>
<path stroke="url(#gr)" stroke-dasharray="0 5.15" d="M332 48L347 44L367 38L388 35L407 37L428 38L450 37L473 34L490 32"/>
<path stroke="url(#gr)" stroke-dasharray="0 4.22" d="M460 229L473 224L490 217L506 210L519 203L532 196L548 190L567 184L581 180"/>
<path stroke="url(#gr)" stroke-dasharray="0 5.26" d="M310 79L326 78L349 77L370 74L390 71L410 68L432 65L455 62L472 60"/>
<path stroke="#938bcf" d="M177 168h0m0-1h0m1-1h0m1 0h0m1-1h0m1-1h0m1-1h0m1-1h0"/><path stroke="#7f6ad6" d="M185 160h0m1-1h0m1-1h0m1-1h0m2-1h0m1-1h0m1-1h0m1-1h0"/><path stroke="#6547dd" d="M194 153h0m1-1h0m1-1h0m1-1h0m1 0h0m1-1h0m1 0h0m0-1h0"/><path stroke="#3019db" d="M201 147h0m1 0h0m1-1h0m1 0h0m1-1h0m1 0h0"/>
<path stroke="url(#gr)" stroke-dasharray="0 4.12" d="M276 214L288 211L305 206L322 202L340 199L357 196L374 194L390 193L401 193"/>
<path stroke="url(#gr)" stroke-dasharray="0 4.17" d="M195 144L208 143L225 141L241 138L257 135L273 132L290 132L310 133L324 134"/>
<path stroke="url(#gr)" stroke-dasharray="0 3.16" d="M367 58L376 56L387 54L400 53L412 55L425 57L439 56L453 53L464 51"/>
<path stroke="url(#gr)" stroke-dasharray="0 5.01" d="M416 98L431 94L451 89L471 87L491 91L511 94L531 92L553 86L568 81"/>
<path stroke="url(#gr)" stroke-dasharray="0 5.34" d="M349 150L365 145L387 139L408 135L427 134L447 134L469 129L493 121L510 115"/>
<path stroke="url(#gr)" stroke-dasharray="0 3.42" d="M174 65L184 61L199 56L213 55L227 58L241 62L255 63L268 61L278 60"/>
<path stroke="url(#gr)" stroke-dasharray="0 2.94" d="M465 108L473 103L484 96L495 90L505 87L515 85L527 83L540 81L550 80"/>
<path stroke="url(#gr)" stroke-dasharray="0 3.27" d="M479 103L488 105L501 107L513 105L527 97L540 90L553 89L566 91L576 93"/>
<path stroke="url(#gr)" stroke-dasharray="0 4.52" d="M454 106L467 103L486 99L504 95L521 93L538 90L556 86L576 80L590 75"/>
<path stroke="url(#gr)" stroke-dasharray="0 4.85" d="M237 169L251 169L270 169L290 171L310 178L331 184L351 187L371 188L385 189"/>
<path stroke="url(#gr)" stroke-dasharray="0 4.25" d="M308 95L320 93L336 89L353 86L372 82L390 79L408 76L426 74L438 73"/>
<path stroke="#938bcf" d="M268 77h0m2 0h0m2 0h0m2 0h0m2 0h0m3 1h0m3 0h0m2 0h0"/><path stroke="#7f6ad6" d="M287 78h0m4 0h0m3 0h0m3 1h0m3 0h0m3 0h0m3 0h0m3 0h0"/><path stroke="#6547dd" d="M312 79h0m2 0h0m3 0h0m3 0h0m4-1h0m3 0h0m3 0h0m3 0h0"/><path stroke="#3019db" d="M336 77h0m3 0h0m2 0h0m3 0h0m2-1h0m3 0h0m1 0h0m2 0h0"/>
<path stroke="#938bcf" d="M248 59h0m2 0h0m3-1h0m3 0h0m4-1h0m4 0h0m4-1h0m4 0h0"/><path stroke="#7f6ad6" d="M277 55h0m4-1h0m5 0h0m5-1h0m5 0h0m4-1h0m4-1h0m4 0h0"/><path stroke="#6547dd" d="M312 51h0m4-1h0m4 0h0m4-1h0m4 0h0m4 0h0m3 0h0m4-1h0"/><path stroke="#3019db" d="M343 48h0m3 0h0m4-1h0m3 0h0m3 0h0m2 0h0m2 0h0m2 0h0"/>
<path stroke="url(#gr)" stroke-dasharray="0 5.45" d="M198 136L213 136L235 135L257 133L281 128L305 122L327 118L349 116L365 115"/>
<path stroke="url(#gr)" stroke-dasharray="0 3.96" d="M435 76L447 73L463 70L479 68L494 69L510 69L527 69L545 68L557 68"/>
<path stroke="#938bcf" d="M354 268h0m0-1h0m1-1h0m0-1h0m1-1h0m0-2h0m1-1h0m1-2h0"/><path stroke="#7f6ad6" d="M358 258h0m1-1h0m1-2h0m1-1h0m0-1h0m1-1h0m1-1h0m1-2h0"/><path stroke="#6547dd" d="M364 248h0m1-1h0m1-1h0m1-1h0m1-2h0m1-1h0m1-1h0m1-2h0"/><path stroke="#3019db" d="M372 238h0m1-1h0m1-2h0m2-1h0m1-1h0m0-1h0m1-1h0m1-1h0"/>
<path stroke="#938bcf" d="M454 272h0m0-1h0m1 0h0m1-1h0m1-1h0m1-1h0m1-1h0m1-1h0"/><path stroke="#7f6ad6" d="M461 265h0m1-1h0m1 0h0m1-1h0m1-1h0m1 0h0m1-1h0m1 0h0"/><path stroke="#6547dd" d="M469 261h0m1 1h0m1 0h0m1 1h0m0 1h0m1 1h0m1 1h0m1 2h0"/><path stroke="#3019db" d="M476 269h0m1 1h0m0 1h0m1 2h0m1 1h0m0 1h0m1 0h0m0 1h0"/>
<path stroke="url(#gr)" stroke-dasharray="0 3.41" d="M353 267L362 262L375 256L387 251L400 249L412 248L426 242L440 234L450 228"/>
<path stroke="#938bcf" d="M223 120h0m2-1h0m4-1h0m4 0h0m4-1h0m5-1h0m5-1h0m5-1h0"/><path stroke="#7f6ad6" d="M257 113h0m5-1h0m5-1h0m4 0h0m4-1h0m4-1h0m4-1h0m4-1h0"/><path stroke="#6547dd" d="M291 107h0m3-1h0m4-1h0m5 0h0m4 0h0m5 0h0m5 0h0m6 1h0"/><path stroke="#3019db" d="M329 107h0m7 1h0m6 1h0m6 2h0m6 1h0m5 1h0m4 1h0m3 0h0"/>
<path stroke="#938bcf" d="M196 63h0m1 0h0m3 0h0m2 0h0m3 0h0m3 0h0m3 0h0m4 0h0"/><path stroke="#7f6ad6" d="M219 63h0m3 0h0m4 0h0m4 0h0m4-1h0m4 0h0m4 0h0m4 0h0"/><path stroke="#6547dd" d="M250 61h0m4 0h0m4 0h0m4-1h0m5 0h0m5-1h0m4 0h0m5-1h0"/><path stroke="#3019db" d="M286 58h0m4-1h0m4 0h0m4-1h0m4 0h0m3 0h0m3-1h0m2 0h0"/>
<path stroke="url(#gr)" stroke-dasharray="0 4.80" d="M287 169L303 165L325 161L345 160L361 163L377 166L396 165L418 162L434 160"/>
<path stroke="url(#gr)" stroke-dasharray="0 3.54" d="M439 98L450 95L467 91L481 88L493 86L505 84L519 84L535 85L547 87"/>
<path stroke="#938bcf" d="M349 295h0m1-2h0m1-3h0m1-3h0m2-3h0m1-4h0m1-3h0m2-3h0"/><path stroke="#7f6ad6" d="M359 272h0m2-3h0m1-3h0m2-2h0m1-3h0m2-2h0m1-3h0m1-2h0"/><path stroke="#6547dd" d="M371 252h0m1-2h0m2-2h0m2-1h0m2-1h0m2-1h0m3-1h0m2-1h0"/><path stroke="#3019db" d="M388 242h0m2 0h0m2-1h0m3 0h0m3 0h0m2-1h0m3 0h0m1 0h0"/>
<path stroke="url(#gr)" stroke-dasharray="0 3.15" d="M313 263L321 263L334 262L346 258L358 250L370 243L383 240L396 239L405 240"/>
<path stroke="#938bcf" d="M202 121h0m1 0h0m0 1h0m1 0h0m2 1h0m1 1h0m1 0h0m2 1h0"/><path stroke="#7f6ad6" d="M212 126h0m2 0h0m2 1h0m2 0h0m3 0h0m2 0h0m4 0h0m3 0h0"/><path stroke="#6547dd" d="M233 127h0m4 0h0m3-1h0m3 0h0m3 0h0m2 0h0m3 0h0m2-1h0"/><path stroke="#3019db" d="M256 125h0m2 0h0m2 0h0m2-1h0m2 0h0m2 0h0m1 0h0m1 0h0"/>
<path stroke="#938bcf" d="M206 222h0m1 0h0m1 1h0m1 0h0m1 1h0m1 0h0"/><path stroke="#7f6ad6" d="M212 225h0m1 0h0m0 1h0m1 0h0m1 1h0m1 0h0m1 0h0m1 1h0"/><path stroke="#6547dd" d="M219 228h0m1 0h0m1 1h0m1 0h0m1 1h0m1 0h0m1 0h0"/><path stroke="#3019db" d="M226 231h0m1 0h0m1 0h0m1 0h0m0 1h0m1 0h0m1 0h0"/>
<path stroke="url(#gr)" stroke-dasharray="0 3.24" d="M235 115L246 111L261 106L274 103L283 102L293 102L306 102L322 104L333 104"/>
<path stroke="url(#gr)" stroke-dasharray="0 5.16" d="M160 61L175 57L196 53L216 51L235 51L255 51L277 51L302 50L319 49"/>
<path stroke="#938bcf" d="M373 286h0m1-1h0m1 0h0m2 0h0m1-1h0m2 0h0m2-1h0m1 0h0"/><path stroke="#7f6ad6" d="M384 282h0m1-1h0m1-1h0m1-1h0m1-1h0m1-2h0m1-1h0m1-1h0"/><path stroke="#6547dd" d="M392 272h0m0-1h0m1-2h0m1-2h0m0-2h0m1-1h0m1-2h0m0-1h0"/><path stroke="#3019db" d="M398 259h0m1-1h0m2-2h0m1-1h0m2-1h0m2-1h0m1-1h0m1-1h0"/>
<path stroke="url(#gur)" stroke-dasharray="0 3.75" d="M354 175L363 172L376 168L389 162L403 155L418 148L432 140L448 133L460 128"/>
<path stroke="url(#gr)" stroke-dasharray="0 3.36" d="M281 65L292 61L307 55L321 52L334 55L346 57L358 55L371 51L380 47"/>
<path stroke="url(#gr)" stroke-dasharray="0 2.87" d="M271 210L279 207L290 202L301 200L311 200L321 200L334 199L348 196L357 194"/>
<path stroke="url(#gr)" stroke-dasharray="0 3.81" d="M340 54L350 56L365 58L379 57L393 49L408 42L424 41L441 44L454 46"/>
<path stroke="#938bcf" d="M289 195h0m1-1h0m0-2h0m1-1h0m0-2h0m1-2h0m0-2h0m1-2h0"/><path stroke="#7f6ad6" d="M294 181h0m1-2h0m0-2h0m1-2h0m1-2h0m1-2h0m1-2h0m0-1h0"/><path stroke="#6547dd" d="M300 167h0m1-1h0m1 0h0m1-1h0m1 0h0m1-1h0m1 0h0m1 0h0"/><path stroke="#3019db" d="M308 164h0m2 0h0m1 0h0m1 0h0m1 0h0m1-1h0"/>
<path stroke="url(#gr)" stroke-dasharray="0 4.68" d="M314 110L329 109L350 110L370 113L387 120L405 127L423 132L442 135L455 137"/>
<path stroke="#938bcf" d="M248 153h0m1-1h0m2 0h0m2-1h0m2-1h0m3-1h0m3 0h0m3-1h0"/><path stroke="#7f6ad6" d="M267 147h0m3-1h0m3-1h0m3-1h0m3-1h0m3-1h0m3-1h0m3 0h0"/><path stroke="#6547dd" d="M291 140h0m2 0h0m3-1h0m3 0h0m3 0h0m3-1h0m3 0h0m3 0h0"/><path stroke="#3019db" d="M314 138h0m3 0h0m2 0h0m3 0h0m2 0h0m2-1h0m1 0h0m2 0h0"/>
<path stroke="#938bcf" d="M280 258h0m1 0h0m2 0h0m2 0h0m2-1h0m2 0h0m2-1h0m2 0h0"/><path stroke="#7f6ad6" d="M295 254h0m2-1h0m1-2h0m2-2h0m1-3h0m2-2h0m2-2h0m1-1h0"/><path stroke="#6547dd" d="M308 240h0m3-1h0m2 0h0m2-1h0m3 0h0m2 0h0m3 0h0m2 0h0"/><path stroke="#3019db" d="M327 238h0m3 0h0m3 0h0m3 0h0m2 0h0m2 0h0m2-1h0m2 0h0"/>
<path stroke="url(#gr)" stroke-dasharray="0 4.67" d="M316 215L328 209L346 199L364 192L381 189L398 186L417 180L437 172L451 166"/>
<path stroke="url(#gr)" stroke-dasharray="0 5.00" d="M257 91L273 90L296 87L317 85L335 80L353 76L373 74L395 74L410 74"/>
<path stroke="url(#gr)" stroke-dasharray="0 3.83" d="M399 98L409 102L424 108L438 110L452 106L466 103L482 104L500 108L514 111"/>
<path stroke="url(#gr)" stroke-dasharray="0 3.14" d="M436 120L445 115L458 107L470 102L483 98L496 95L508 94L519 93L528 93"/>
<path stroke="url(#gr)" stroke-dasharray="0 3.86" d="M310 167L320 162L335 155L350 150L365 149L380 148L395 142L410 134L421 127"/>
<path stroke="url(#gr)" stroke-dasharray="0 3.73" d="M375 168L385 164L399 157L413 151L428 147L443 143L459 141L474 140L486 139"/>
<path stroke="#938bcf" d="M300 40h0m1 0h0m1 0h0m2-1h0m1 0h0m2 0h0m2-1h0m3-1h0"/><path stroke="#7f6ad6" d="M314 37h0m2-1h0m2 0h0m3-1h0m2 0h0m2 0h0m3-1h0m2 0h0"/><path stroke="#6547dd" d="M332 34h0m2 0h0m3 0h0m2 0h0m3 0h0m3 0h0m2 0h0m3 1h0"/><path stroke="#3019db" d="M353 35h0m2 0h0m2 0h0m3 1h0m2 0h0m2 0h0m1 0h0m1 0h0"/>
<path stroke="#938bcf" d="M310 295h0m1 1h0m0 1h0m1 2h0m1 2h0m1 2h0m1 2h0m1 1h0"/><path stroke="#7f6ad6" d="M317 307h0m1 1h0m1 1h0m1 0h0m1 1h0m2 0h0m1 0h0m2-1h0"/><path stroke="#6547dd" d="M328 309h0m1-1h0m2-2h0m2-1h0m2-2h0m3-2h0m2-1h0m3-1h0"/><path stroke="#3019db" d="M346 299h0m4-1h0m4 1h0m5 0h0m4 1h0m4 0h0m3 1h0m3 0h0"/>
<path stroke="url(#gr)" stroke-dasharray="0 4.66" d="M207 134L221 128L240 120L259 114L276 110L293 106L312 103L332 101L346 99"/>
<path stroke="url(#gr)" stroke-dasharray="0 4.76" d="M463 92L478 88L499 82L518 79L536 78L553 77L572 74L593 69L608 65"/>
<path stroke="url(#gr)" stroke-dasharray="0 2.92" d="M380 238L387 235L398 231L409 228L420 226L432 223L444 219L456 213L465 208"/>
<path stroke="#938bcf" d="M321 115h0m1 0h0m2 0h0m1 0h0m1 0h0m2 0h0m1 0h0"/><path stroke="#7f6ad6" d="M331 115h0m2 0h0m1 0h0m2 0h0m2 0h0m2-1h0m1 0h0m2 0h0"/><path stroke="#6547dd" d="M344 114h0m2 0h0m1 0h0m2 0h0m2 0h0m2 0h0m1 0h0m2 0h0"/><path stroke="#3019db" d="M358 114h0m1 0h0m2 0h0m1 0h0m1 0h0m2 0h0m1 0h0"/>
<path stroke="url(#gr)" stroke-dasharray="0 3.40" d="M423 67L433 66L448 65L462 63L476 59L489 57L503 57L517 59L527 60"/>
<path stroke="url(#gr)" stroke-dasharray="0 4.41" d="M240 91L254 90L273 88L292 88L310 90L327 92L344 90L362 87L375 84"/>
<path stroke="url(#gr)" stroke-dasharray="0 4.07" d="M451 104L464 101L482 97L498 95L512 98L526 100L542 98L561 92L574 88"/>
<path stroke="url(#gr)" stroke-dasharray="0 3.51" d="M428 141L438 138L451 135L465 133L480 131L496 128L510 124L524 119L534 115"/>
<path stroke="#1000d7" d="M320 402h0"/>
<path stroke="url(#gr)" stroke-dasharray="0 5.11" d="M336 155L351 149L373 141L393 137L413 138L433 139L453 134L473 125L488 118"/>
<path stroke="url(#gr)" stroke-dasharray="0 3.93" d="M327 110L339 110L355 109L371 105L386 96L401 88L416 83L432 80L443 79"/>
<path stroke="url(#gr)" stroke-dasharray="0 3.85" d="M307 130L320 127L338 123L354 120L368 117L382 115L397 112L413 109L424 106"/>
<path stroke="url(#gr)" stroke-dasharray="0 3.43" d="M413 167L422 164L435 160L448 156L460 154L473 151L488 146L503 140L514 135"/>
<path stroke="#938bcf" d="M174 130h0m1 0h0m1 0h0m2 0h0m2-1h0m2 0h0m3 0h0m2 0h0"/><path stroke="#7f6ad6" d="M189 129h0m3 0h0m3 0h0m2 0h0m3 0h0m3 1h0m3 0h0m3 0h0"/><path stroke="#6547dd" d="M212 131h0m3 0h0m3 1h0m4 0h0m3 0h0m3 0h0m3 0h0m3 0h0"/><path stroke="#3019db" d="M238 132h0m3-1h0m4 0h0m3 0h0m3 0h0m3-1h0m2 0h0m2 0h0"/>
<path stroke="url(#gr)" stroke-dasharray="0 5.33" d="M269 136L285 137L307 138L328 138L348 136L368 134L390 132L415 130L433 130"/>
<path stroke="url(#gr)" stroke-dasharray="0 3.83" d="M248 78L260 76L276 74L291 71L304 67L317 63L333 61L352 60L365 60"/>
<path stroke="url(#gr)" stroke-dasharray="0 5.43" d="M360 168L377 168L401 169L423 168L445 164L466 161L488 159L511 159L528 159"/>
<path stroke="#938bcf" d="M306 321h0m1 0h0m2 1h0m2 1h0m3 1h0m2 1h0m3 1h0m2 1h0"/><path stroke="#7f6ad6" d="M323 327h0m2 0h0m1-1h0m2 0h0m1-1h0m1-1h0m1-1h0m1-1h0"/><path stroke="#6547dd" d="M334 321h0m1-1h0m0-1h0m1-2h0m1-1h0m1-2h0m0-1h0m1-1h0"/><path stroke="#3019db" d="M340 310h0m0-1h0m1-2h0m1-1h0m0-2h0m1-1h0m0-1h0m0-1h0"/>
<path stroke="#1000d7" d="M375 295h0"/>
<path stroke="url(#gr)" stroke-dasharray="0 4.71" d="M173 103L187 102L207 100L226 98L244 95L262 92L282 91L303 92L318 93"/>
<path stroke="url(#gr)" stroke-dasharray="0 4.00" d="M297 246L308 243L324 239L340 237L358 238L375 239L391 236L407 231L418 226"/>
<path stroke="url(#gr)" stroke-dasharray="0 3.20" d="M471 164L481 159L494 153L507 147L518 143L528 139L540 135L554 131L563 129"/>
<path stroke="#938bcf" d="M509 215h0m1 1h0m2 3h0m1 3h0m2 3h0m1 3h0m2 3h0m2 1h0"/><path stroke="#7f6ad6" d="M522 233h0m2 1h0m2 1h0m3 0h0m2 1h0m1 0h0m2-1h0m2 0h0"/><path stroke="#6547dd" d="M537 234h0m2-1h0m1-1h0m1-2h0m1-1h0m0-2h0m1-2h0m0-3h0"/><path stroke="#3019db" d="M544 220h0m0-2h0m1-3h0m1-3h0m1-3h0m1-3h0m1-2h0m1-2h0"/>
<path stroke="url(#gr)" stroke-dasharray="0 4.10" d="M433 123L445 123L463 122L480 118L495 108L510 99L526 94L541 93L553 93"/>
<path stroke="url(#gr)" stroke-dasharray="0 5.14" d="M371 55L386 55L407 55L428 54L450 53L473 52L494 51L515 51L530 51"/>
<path stroke="url(#gr)" stroke-dasharray="0 4.25" d="M339 142L352 147L370 155L387 161L401 166L416 170L432 173L451 174L465 175"/>
<path stroke="#938bcf" d="M453 273h0m1 0h0m1 0h0m2-1h0m1 0h0m2-1h0m2 0h0m1-1h0"/><path stroke="#7f6ad6" d="M464 269h0m1-1h0m1-2h0m0-1h0m1-2h0m1-2h0m0-2h0m1-2h0"/><path stroke="#6547dd" d="M470 256h0m1-2h0m1-3h0m1-2h0m1-2h0m1-2h0m1-2h0m0-2h0"/><path stroke="#3019db" d="M477 239h0m1-2h0m1-2h0m1-1h0m0-2h0m1-1h0m1-1h0m0-1h0"/>
<path stroke="url(#gr)" stroke-dasharray="0 5.14" d="M408 166L424 164L447 162L468 159L486 155L505 151L526 149L549 150L566 150"/>
<path stroke="url(#gr)" stroke-dasharray="0 5.44" d="M180 101L197 103L222 105L244 106L264 105L284 104L306 107L330 113L346 117"/>
<path stroke="url(#gr)" stroke-dasharray="0 3.74" d="M443 64L455 65L471 65L486 64L499 63L512 60L527 56L544 50L557 46"/>
<path stroke="url(#gr)" stroke-dasharray="0 4.92" d="M366 173L382 177L405 184L425 187L440 187L456 187L476 188L500 190L516 192"/>
<path stroke="#938bcf" d="M160 161h0m1 0h0m0-1h0m1-1h0m1-1h0m1-2h0m1-1h0m1-1h0"/><path stroke="#7f6ad6" d="M168 152h0m1-1h0m1-1h0m1-2h0m2-1h0m1-2h0m1-1h0m1-1h0"/><path stroke="#6547dd" d="M177 142h0m1-1h0m2-1h0m1-1h0m1-1h0m1-1h0m2-1h0m1-1h0"/><path stroke="#3019db" d="M187 134h0m1-1h0m1-1h0m1-1h0m1 0h0m1-1h0m1-1h0"/>
<path stroke="url(#gr)" stroke-dasharray="0 3.07" d="M263 153L272 150L285 145L296 142L306 140L316 140L329 141L345 143L356 145"/>
<path stroke="url(#gr)" stroke-dasharray="0 5.46" d="M262 90L279 90L303 91L325 88L344 82L363 75L385 73L410 75L428 76"/>
<path stroke="url(#gr)" stroke-dasharray="0 4.63" d="M308 168L322 167L341 167L360 165L379 164L398 162L416 157L435 151L448 146"/>
<path stroke="url(#gr)" stroke-dasharray="0 3.46" d="M229 174L239 172L252 168L265 164L277 161L289 157L303 151L319 144L330 138"/>
<path stroke="url(#gr)" stroke-dasharray="0 4.63" d="M370 194L383 187L402 179L420 172L436 167L452 163L470 157L490 149L504 144"/>
<path stroke="url(#gr)" stroke-dasharray="0 5.06" d="M317 46L334 46L357 46L377 45L394 45L411 44L432 43L456 42L474 42"/>
<path stroke="#938bcf" d="M455 444h0m3 2h0m3 2h0m3 1h0m4-2h0m3-3h0m3-5h0m3-10h0"/><path stroke="#7f6ad6" d="M480 416h0m4-14h0m4-11h0m3-10h0m4-10h0m4-11h0m3-10h0m3-8h0"/><path stroke="#6547dd" d="M508 334h0m2-9h0m3-9h0m2-7h0m1-3h0m2-4h0m1-3h0m2-3h0"/><path stroke="#3019db" d="M523 294h0m2-2h0m3-1h0m2 1h0m2 1h0m2 0h0m3 0h0m2 0h0"/>
<path stroke="url(#gr)" stroke-dasharray="0 3.64" d="M297 89L310 87L327 85L342 84L354 86L366 87L380 85L397 82L409 79"/>
<path stroke="url(#gr)" stroke-dasharray="0 3.31" d="M403 41L412 41L426 40L439 39L451 37L464 35L478 34L494 33L505 32"/>
<path stroke="url(#gr)" stroke-dasharray="0 5.30" d="M374 123L390 126L412 131L433 135L453 138L474 140L496 141L520 141L537 140"/>
<path stroke="url(#gr)" stroke-dasharray="0 5.23" d="M189 77L206 73L229 69L250 67L269 67L287 68L308 64L331 57L348 52"/>
<path stroke="url(#gr)" stroke-dasharray="0 3.49" d="M370 80L379 78L393 74L406 71L421 68L435 66L450 65L465 65L476 65"/>
<path stroke="#938bcf" d="M280 231h0m1 0h0m1 0h0m2 0h0m2-1h0m2 0h0m2 0h0m2 0h0"/><path stroke="#7f6ad6" d="M294 229h0m2 0h0m2 0h0m1 0h0m2 0h0m2 0h0m2 1h0m2 0h0"/><path stroke="#6547dd" d="M308 230h0m2 0h0m2 1h0m2 0h0m1 0h0m2 0h0m2 0h0m1 0h0"/><path stroke="#3019db" d="M322 231h0m2 1h0m1 0h0m2 0h0m1 0h0m1 0h0m1 0h0m1 0h0"/>
<path stroke="url(#gr)" stroke-dasharray="0 4.05" d="M452 114L465 116L483 117L499 115L512 109L525 103L541 101L560 102L574 104"/>
<path stroke="#938bcf" d="M325 334h0m1 2h0m2 3h0m2 3h0m2 3h0m3 2h0m2 2h0m2 0h0"/><path stroke="#7f6ad6" d="M340 348h0m2-2h0m1-2h0m2-2h0m2-3h0m2-2h0m2-3h0m3-4h0"/><path stroke="#6547dd" d="M357 326h0m3-3h0m2-4h0m4-3h0m3-2h0m3-3h0m3-3h0m4-2h0"/><path stroke="#3019db" d="M382 304h0m4-1h0m4-1h0m5 1h0m4 0h0m5 1h0m4 1h0m2 0h0"/>
<path stroke="url(#gur)" stroke-dasharray="0 3.22" d="M401 196L410 189L424 179L436 171L448 166L459 161L470 156L481 153L489 150"/>
<path stroke="#1000d7" d="M410 299h0"/>
<path stroke="#1000d7" d="M492 268h0"/>
<path stroke="url(#gr)" stroke-dasharray="0 3.18" d="M250 182L259 178L272 174L284 171L297 169L309 168L322 168L336 171L346 172"/>
<path stroke="url(#gr)" stroke-dasharray="0 5.21" d="M256 191L273 188L297 184L318 182L336 182L353 182L374 181L399 178L417 177"/>
<path stroke="url(#gr)" stroke-dasharray="0 3.47" d="M359 80L370 78L387 75L401 72L412 71L423 69L437 68L453 66L465 65"/>
<path stroke="url(#gr)" stroke-dasharray="0 3.07" d="M214 155L222 151L234 145L247 142L260 145L272 148L285 147L296 144L305 141"/>
<path stroke="url(#gur)" stroke-dasharray="0 3.85" d="M257 196L268 193L284 187L299 180L312 171L325 161L339 155L354 150L364 147"/>
<path stroke="#938bcf" d="M227 165h0m1 0h0m2 0h0m3-1h0m2-1h0m3 0h0m3-1h0m3-1h0"/><path stroke="#7f6ad6" d="M247 161h0m3-1h0m4-1h0m3-1h0m3 0h0m2-1h0m3-1h0m2-1h0"/><path stroke="#6547dd" d="M269 155h0m2-1h0m2-1h0m2-1h0m2 0h0m1-1h0m2-1h0m1-1h0"/><path stroke="#3019db" d="M282 149h0m2-1h0m1-1h0m1 0h0m1-1h0m1-1h0m1 0h0"/>
<path stroke="url(#gr)" stroke-dasharray="0 3.59" d="M188 103L200 105L216 106L231 105L245 99L258 94L272 92L286 95L296 97"/>
<path stroke="url(#gr)" stroke-dasharray="0 5.41" d="M238 112L253 113L276 115L297 114L319 110L341 106L364 104L388 103L405 103"/>
<path stroke="url(#gr)" stroke-dasharray="0 3.45" d="M457 144L466 145L479 146L493 145L508 141L524 136L538 133L552 132L562 131"/>
<path stroke="url(#gr)" stroke-dasharray="0 1.13" d="M209 124L212 122L216 120L220 120L225 121L230 122L235 121L239 118L242 116"/>
<path stroke="url(#gr)" stroke-dasharray="0 4.14" d="M468 86L480 85L498 83L514 80L530 75L545 70L562 66L580 63L594 61"/>
<path stroke="url(#gr)" stroke-dasharray="0 4.85" d="M181 100L196 101L217 102L237 102L257 101L277 100L296 98L317 96L331 95"/>
<path stroke="url(#gr)" stroke-dasharray="0 5.34" d="M221 131L237 128L261 124L282 120L300 117L319 113L341 110L366 107L384 105"/>
<path stroke="url(#gr)" stroke-dasharray="0 4.46" d="M324 135L336 131L354 126L371 121L389 116L408 111L426 106L444 101L457 98"/>
<path stroke="url(#gur)" stroke-dasharray="0 1.37" d="M221 136L224 135L228 135L231 133L235 129L239 125L243 120L249 114L253 110"/>
<path stroke="url(#gr)" stroke-dasharray="0 3.72" d="M196 65L207 64L223 62L237 60L250 56L263 53L279 52L297 54L310 55"/>
<path stroke="url(#gr)" stroke-dasharray="0 4.46" d="M317 82L332 83L352 82L370 79L385 72L399 65L416 62L437 61L451 60"/>
<path stroke="url(#gr)" stroke-dasharray="0 5.08" d="M246 176L261 173L281 168L300 162L318 154L337 146L358 141L381 138L398 136"/>
<path stroke="#1000d7" d="M402 293h0"/>
<path stroke="url(#gr)" stroke-dasharray="0 1.55" d="M192 107L198 107L205 105L211 103L217 98L222 93L227 92L232 92L236 93"/>
<path stroke="url(#gr)" stroke-dasharray="0 3.08" d="M335 140L344 142L357 144L369 146L382 147L395 148L407 149L420 151L429 153"/>
<path stroke="url(#gr)" stroke-dasharray="0 5.42" d="M415 92L433 94L457 97L479 97L498 93L517 89L539 87L564 86L582 86"/>
<path stroke="url(#gr)" stroke-dasharray="0 3.19" d="M203 145L213 144L227 142L240 138L251 131L261 124L273 119L286 115L295 112"/>
<path stroke="url(#gr)" stroke-dasharray="0 5.57" d="M348 173L363 170L385 166L407 162L431 161L455 159L478 153L500 145L516 138"/>
<path stroke="#938bcf" d="M189 170h0m2-1h0m3 0h0m3-1h0m4-1h0m4-1h0m4-1h0m4-1h0"/><path stroke="#7f6ad6" d="M217 163h0m4 0h0m4-1h0m4-1h0m4-1h0m4-1h0m4-1h0m5-1h0"/><path stroke="#6547dd" d="M250 156h0m4-1h0m4-1h0m4-2h0m4-1h0m4 0h0m4-1h0m4-2h0"/><path stroke="#3019db" d="M282 147h0m4-1h0m5-1h0m3-1h0m4-1h0m3 0h0m3-1h0m2-1h0"/>
<path stroke="url(#gr)" stroke-dasharray="0 4.13" d="M198 112L211 110L230 107L246 104L261 101L275 99L292 99L312 101L325 102"/>
<path stroke="url(#gr)" stroke-dasharray="0 4.37" d="M201 98L214 95L232 92L249 89L266 86L283 83L302 82L321 82L335 82"/>
<path stroke="url(#gr)" stroke-dasharray="0 4.42" d="M385 211L398 205L416 197L434 192L452 192L470 192L487 188L504 181L516 177"/>
<path stroke="#938bcf" d="M235 90h0m1 0h0m1 0h0m1 0h0m1 0h0m2 0h0m1 0h0m2 0h0"/><path stroke="#7f6ad6" d="M246 89h0m1 0h0m2 0h0m2 0h0m1 0h0m2 0h0m2-1h0m1 0h0"/><path stroke="#6547dd" d="M259 88h0m1 0h0m2 0h0m2 0h0m1 0h0m2 0h0m2 0h0m2 0h0"/><path stroke="#3019db" d="M272 88h0m2 0h0m1-1h0m2 0h0m1 0h0m1 0h0m1 0h0m1 0h0"/>
<path stroke="url(#gr)" stroke-dasharray="0 4.53" d="M261 119L276 113L297 105L315 100L332 97L348 95L366 92L384 88L397 86"/>
<path stroke="url(#gur)" stroke-dasharray="0 4.25" d="M373 229L384 221L400 211L415 203L431 198L447 194L463 187L479 178L490 172"/>
</g>
<path d="M106.7 118.3L109.7 115.3L112.7 112.4L115.7 109.5L118.7 106.7L121.7 103.9L124.7 101.1L127.7 98.4L130.7 95.8L133.7 93.2L136.7 90.7L139.7 88.2L142.7 85.7L145.7 83.3L148.7 80.9L151.7 78.6L154.7 76.2L157.7 73.9L160.7 71.6L163.7 69.4L166.7 67.2L169.7 65.2L172.7 63.4L175.7 61.7L178.7 60.3L181.7 58.9L184.7 57.7L187.7 56.6L190.7 55.5L193.7 54.5L196.7 53.5L199.7 52.6L202.7 51.8L205.7 51.0L208.7 50.3L211.7 49.7L214.7 49.2L217.7 48.7L220.7 48.3L223.7 48.0L226.7 47.7L229.7 47.5L232.7 47.3L235.7 47.1L238.7 47.0L241.7 46.9L244.7 46.9L247.7 46.8L250.7 46.8L253.7 46.7L256.7 46.7L259.7 46.7L262.7 46.7L265.7 46.7L268.7 46.7L271.7 46.7L274.7 46.7L277.7 46.7L280.7 46.6L283.7 46.6L286.7 46.5L289.7 46.4L292.7 46.2L295.7 46.0L298.7 45.7L301.7 45.3L304.7 44.8L307.7 44.2L310.7 43.5L313.7 42.6L316.7 41.7L319.7 40.9L322.7 40.1L325.7 39.4L328.7 38.9L331.7 38.4L334.7 38.0L337.7 37.7L340.7 37.2L343.7 36.7L346.7 36.2L349.7 35.6L352.7 35.0L355.7 34.5L358.7 34.0L361.7 33.7L364.7 33.5L367.7 33.3L370.7 33.2L373.7 33.2L376.7 33.2L379.7 33.2L382.7 33.2L385.7 33.2L388.7 33.2L391.7 33.2L394.7 33.2L397.7 33.2L400.7 33.2L403.7 33.2L406.7 33.2L409.7 33.2L412.7 33.2L415.7 33.2L418.7 33.2L421.7 33.2L424.7 33.2L427.7 33.2L430.7 33.1L433.7 33.1L436.7 33.1L439.7 33.1L442.7 33.0L445.7 33.0L448.7 33.0L451.7 32.9L454.7 32.8L457.7 32.7L460.7 32.5L463.7 32.3L466.7 32.0L469.7 31.8L472.7 31.5L475.7 31.2L478.7 30.9L481.7 30.7L484.7 30.4L487.7 30.2L490.7 30.0L493.7 29.9L496.7 29.7L499.7 29.6L502.7 29.4L505.7 29.3L508.7 29.2L511.7 29.1L514.7 29.0L517.7 28.9L520.7 28.9L523.7 28.8L526.7 28.7L529.7 28.7L532.7 28.6L535.7 28.6L538.7 28.6L541.7 28.5L544.7 28.5L547.7 28.5L550.7 28.4L553.7 28.4L556.7 28.4L559.7 28.4L562.7 28.4L565.7 28.4L568.7 28.5L571.7 28.5L574.7 28.5L577.7 28.6L580.7 28.6L583.7 28.7L586.7 28.8L589.7 28.8L592.7 28.9L595.7 29.0L598.7 29.1L601.7 29.2" fill="none" stroke="#000" stroke-width="2.5"/>
</g>
<path d="M49.0 7.2 V469.0 H674.0" fill="none" stroke="#000" stroke-width="1.6"/>
<line x1="45.0" y1="112.30" x2="49.0" y2="112.30" stroke="#333" stroke-width="1.4"/>
<text x="42.0" y="116.80" text-anchor="end" font-size="12.5" fill="#4d4d4d">20</text>
<line x1="45.0" y1="256.40" x2="49.0" y2="256.40" stroke="#333" stroke-width="1.4"/>
<text x="42.0" y="260.90" text-anchor="end" font-size="12.5" fill="#4d4d4d">40</text>
<line x1="45.0" y1="400.50" x2="49.0" y2="400.50" stroke="#333" stroke-width="1.4"/>
<text x="42.0" y="405.00" text-anchor="end" font-size="12.5" fill="#4d4d4d">60</text>
<line x1="77.40" y1="469.0" x2="77.40" y2="473.0" stroke="#333" stroke-width="1.4"/>
<text x="77.40" y="485.6" text-anchor="middle" font-size="12.5" fill="#4d4d4d">0.0</text>
<line x1="191.04" y1="469.0" x2="191.04" y2="473.0" stroke="#333" stroke-width="1.4"/>
<text x="191.04" y="485.6" text-anchor="middle" font-size="12.5" fill="#4d4d4d">0.2</text>
<line x1="304.68" y1="469.0" x2="304.68" y2="473.0" stroke="#333" stroke-width="1.4"/>
<text x="304.68" y="485.6" text-anchor="middle" font-size="12.5" fill="#4d4d4d">0.4</text>
<line x1="418.32" y1="469.0" x2="418.32" y2="473.0" stroke="#333" stroke-width="1.4"/>
<text x="418.32" y="485.6" text-anchor="middle" font-size="12.5" fill="#4d4d4d">0.6</text>
<line x1="531.96" y1="469.0" x2="531.96" y2="473.0" stroke="#333" stroke-width="1.4"/>
<text x="531.96" y="485.6" text-anchor="middle" font-size="12.5" fill="#4d4d4d">0.8</text>
<line x1="645.60" y1="469.0" x2="645.60" y2="473.0" stroke="#333" stroke-width="1.4"/>
<text x="645.60" y="485.6" text-anchor="middle" font-size="12.5" fill="#4d4d4d">1.0</text>
<text x="361.5" y="503.6" text-anchor="middle" font-size="15.8" fill="#000">Social demographic index</text>
<text transform="translate(19.8 238.1) rotate(-90)" text-anchor="middle" font-size="15.8" fill="#000">Age-standardized incidence rate (per 100,000)</text>
<text x="4.2" y="27.8" font-size="31.8" font-weight="bold" fill="#000">A</text>
<defs><linearGradient id="ygA" x1="0" y1="1" x2="0" y2="0"><stop offset="0" stop-color="#9a99cc"/><stop offset="0.25" stop-color="#8a79d3"/><stop offset="0.5" stop-color="#7459da"/><stop offset="0.75" stop-color="#5637e0"/><stop offset="1" stop-color="#1000d7"/></linearGradient></defs>
<rect x="697.8" y="187.5" width="24.4" height="123.0" fill="url(#ygA)"/>
<text x="730.5" y="315.5" font-size="12.6" fill="#000">1990</text>
<line x1="697.8" y1="270.8" x2="702.7" y2="270.8" stroke="#fff" stroke-opacity="0.75" stroke-width="1"/>
<line x1="717.3" y1="270.8" x2="722.2" y2="270.8" stroke="#fff" stroke-opacity="0.75" stroke-width="1"/>
<text x="730.5" y="275.8" font-size="12.6" fill="#000">2000</text>
<line x1="697.8" y1="231.1" x2="702.7" y2="231.1" stroke="#fff" stroke-opacity="0.75" stroke-width="1"/>
<line x1="717.3" y1="231.1" x2="722.2" y2="231.1" stroke="#fff" stroke-opacity="0.75" stroke-width="1"/>
<text x="730.5" y="236.1" font-size="12.6" fill="#000">2010</text>
<line x1="697.8" y1="191.5" x2="702.7" y2="191.5" stroke="#fff" stroke-opacity="0.75" stroke-width="1"/>
<line x1="717.3" y1="191.5" x2="722.2" y2="191.5" stroke="#fff" stroke-opacity="0.75" stroke-width="1"/>
<text x="730.5" y="196.5" font-size="12.6" fill="#000">2020</text>
<text x="697.6" y="177.5" font-size="15.4" fill="#000">year</text>
<line x1="822.3" y1="41.15" x2="1420.3" y2="41.15" stroke="#ececec" stroke-width="0.9"/>
<line x1="822.3" y1="203.45" x2="1420.3" y2="203.45" stroke="#ececec" stroke-width="0.9"/>
<line x1="822.3" y1="365.75" x2="1420.3" y2="365.75" stroke="#ececec" stroke-width="0.9"/>
<line x1="903.43" y1="7.2" x2="903.43" y2="468.9" stroke="#ececec" stroke-width="0.9"/>
<line x1="1012.29" y1="7.2" x2="1012.29" y2="468.9" stroke="#ececec" stroke-width="0.9"/>
<line x1="1121.15" y1="7.2" x2="1121.15" y2="468.9" stroke="#ececec" stroke-width="0.9"/>
<line x1="1230.01" y1="7.2" x2="1230.01" y2="468.9" stroke="#ececec" stroke-width="0.9"/>
<line x1="1338.87" y1="7.2" x2="1338.87" y2="468.9" stroke="#ececec" stroke-width="0.9"/>
<line x1="822.3" y1="122.30" x2="1420.3" y2="122.30" stroke="#cbcbcb" stroke-width="1.2"/>
<line x1="822.3" y1="284.60" x2="1420.3" y2="284.60" stroke="#cbcbcb" stroke-width="1.2"/>
<line x1="822.3" y1="446.90" x2="1420.3" y2="446.90" stroke="#cbcbcb" stroke-width="1.2"/>
<line x1="849.00" y1="7.2" x2="849.00" y2="468.9" stroke="#cbcbcb" stroke-width="1.2"/>
<line x1="957.86" y1="7.2" x2="957.86" y2="468.9" stroke="#cbcbcb" stroke-width="1.2"/>
<line x1="1066.72" y1="7.2" x2="1066.72" y2="468.9" stroke="#cbcbcb" stroke-width="1.2"/>
<line x1="1175.58" y1="7.2" x2="1175.58" y2="468.9" stroke="#cbcbcb" stroke-width="1.2"/>
<line x1="1284.44" y1="7.2" x2="1284.44" y2="468.9" stroke="#cbcbcb" stroke-width="1.2"/>
<line x1="1393.30" y1="7.2" x2="1393.30" y2="468.9" stroke="#cbcbcb" stroke-width="1.2"/>
<circle cx="891.8" cy="144.5" r="4.8" fill="#0000CD"/>
<circle cx="940.6" cy="66.3" r="4.8" fill="#0000CD"/>
<circle cx="979.7" cy="63.0" r="4.8" fill="#0000CD"/>
<circle cx="995.2" cy="53.6" r="4.8" fill="#0000CD"/>
<circle cx="1004.1" cy="49.2" r="4.8" fill="#0000CD"/>
<circle cx="1032.1" cy="70.4" r="4.8" fill="#0000CD"/>
<circle cx="1040.8" cy="63.0" r="4.8" fill="#0000CD"/>
<circle cx="1044.9" cy="58.6" r="4.8" fill="#0000CD"/>
<circle cx="1052.2" cy="57.7" r="4.8" fill="#0000CD"/>
<circle cx="1071.4" cy="50.5" r="4.8" fill="#0000CD"/>
<circle cx="1071.4" cy="57.7" r="4.8" fill="#0000CD"/>
<circle cx="1080.7" cy="50.5" r="4.8" fill="#0000CD"/>
<circle cx="1108.4" cy="54.1" r="4.8" fill="#0000CD"/>
<circle cx="1096.2" cy="88.0" r="4.8" fill="#0000CD"/>
<circle cx="1044.4" cy="94.3" r="4.8" fill="#0000CD"/>
<circle cx="1000.6" cy="100.0" r="4.8" fill="#0000CD"/>
<circle cx="1058.4" cy="104.9" r="4.8" fill="#0000CD"/>
<circle cx="1079.5" cy="101.0" r="4.8" fill="#0000CD"/>
<circle cx="1092.1" cy="102.6" r="4.8" fill="#0000CD"/>
<circle cx="1086.4" cy="111.1" r="4.8" fill="#0000CD"/>
<circle cx="1094.0" cy="113.5" r="4.8" fill="#0000CD"/>
<circle cx="1106.7" cy="107.8" r="4.8" fill="#0000CD"/>
<circle cx="1105.9" cy="114.3" r="4.8" fill="#0000CD"/>
<circle cx="1017.2" cy="119.2" r="4.8" fill="#0000CD"/>
<circle cx="1006.6" cy="126.2" r="4.8" fill="#0000CD"/>
<circle cx="1057.6" cy="122.5" r="4.8" fill="#0000CD"/>
<circle cx="1068.8" cy="125.3" r="4.8" fill="#0000CD"/>
<circle cx="1106.7" cy="127.4" r="4.8" fill="#B0493A"/>
<circle cx="1032.6" cy="135.2" r="4.8" fill="#0000CD"/>
<circle cx="1026.4" cy="140.1" r="4.8" fill="#0000CD"/>
<circle cx="1084.8" cy="147.2" r="4.8" fill="#0000CD"/>
<circle cx="1090.9" cy="151.8" r="4.8" fill="#0000CD"/>
<circle cx="1066.8" cy="154.7" r="4.8" fill="#0000CD"/>
<circle cx="1123.2" cy="36.0" r="4.8" fill="#0000CD"/>
<circle cx="1244.1" cy="31.8" r="4.8" fill="#0000CD"/>
<circle cx="1258.7" cy="31.8" r="4.8" fill="#0000CD"/>
<circle cx="1292.8" cy="28.1" r="4.8" fill="#0000CD"/>
<circle cx="1228.6" cy="42.7" r="4.8" fill="#0000CD"/>
<circle cx="1244.1" cy="42.7" r="4.8" fill="#0000CD"/>
<circle cx="1139.2" cy="48.7" r="4.8" fill="#0000CD"/>
<circle cx="1120.1" cy="52.4" r="4.8" fill="#0000CD"/>
<circle cx="1110.0" cy="55.5" r="4.8" fill="#0000CD"/>
<circle cx="1192.5" cy="46.9" r="4.8" fill="#0000CD"/>
<circle cx="1209.4" cy="47.8" r="4.8" fill="#0000CD"/>
<circle cx="1218.9" cy="52.8" r="4.8" fill="#0000CD"/>
<circle cx="1254.7" cy="50.9" r="4.8" fill="#0000CD"/>
<circle cx="1247.4" cy="55.1" r="4.8" fill="#0000CD"/>
<circle cx="1308.0" cy="47.8" r="4.8" fill="#0000CD"/>
<circle cx="1310.7" cy="50.0" r="4.8" fill="#0000CD"/>
<circle cx="1282.4" cy="52.9" r="4.8" fill="#0000CD"/>
<circle cx="1289.7" cy="56.0" r="4.8" fill="#0000CD"/>
<circle cx="1188.5" cy="56.6" r="4.8" fill="#0000CD"/>
<circle cx="1179.4" cy="58.8" r="4.8" fill="#0000CD"/>
<circle cx="1124.3" cy="63.0" r="4.8" fill="#0000CD"/>
<circle cx="1156.5" cy="66.4" r="4.8" fill="#0000CD"/>
<circle cx="1207.3" cy="63.9" r="4.8" fill="#0000CD"/>
<circle cx="1227.1" cy="63.3" r="4.8" fill="#0000CD"/>
<circle cx="1231.0" cy="68.8" r="4.8" fill="#0000CD"/>
<circle cx="1220.4" cy="68.8" r="4.8" fill="#0000CD"/>
<circle cx="1311.6" cy="60.2" r="4.8" fill="#0000CD"/>
<circle cx="1330.2" cy="59.7" r="4.8" fill="#0000CD"/>
<circle cx="1332.6" cy="64.3" r="4.8" fill="#0000CD"/>
<circle cx="1343.5" cy="64.3" r="4.8" fill="#0000CD"/>
<circle cx="1357.2" cy="68.8" r="4.8" fill="#0000CD"/>
<circle cx="1279.7" cy="63.9" r="4.8" fill="#0000CD"/>
<circle cx="1289.7" cy="67.0" r="4.8" fill="#0000CD"/>
<circle cx="1284.2" cy="70.6" r="4.8" fill="#0000CD"/>
<circle cx="1299.7" cy="67.5" r="4.8" fill="#0000CD"/>
<circle cx="1208.0" cy="74.3" r="4.8" fill="#0000CD"/>
<circle cx="1254.1" cy="74.8" r="4.8" fill="#0000CD"/>
<circle cx="1308.9" cy="71.9" r="4.8" fill="#0000CD"/>
<circle cx="1314.3" cy="75.2" r="4.8" fill="#0000CD"/>
<circle cx="1322.2" cy="77.9" r="4.8" fill="#0000CD"/>
<circle cx="1340.4" cy="80.7" r="4.8" fill="#0000CD"/>
<circle cx="1167.9" cy="78.8" r="4.8" fill="#0000CD"/>
<circle cx="1166.6" cy="85.2" r="4.8" fill="#0000CD"/>
<circle cx="1144.1" cy="81.6" r="4.8" fill="#0000CD"/>
<circle cx="1134.3" cy="90.2" r="4.8" fill="#0000CD"/>
<circle cx="1155.3" cy="92.5" r="4.8" fill="#0000CD"/>
<circle cx="1185.2" cy="81.6" r="4.8" fill="#0000CD"/>
<circle cx="1194.5" cy="77.9" r="4.8" fill="#0000CD"/>
<circle cx="1199.1" cy="84.3" r="4.8" fill="#0000CD"/>
<circle cx="1209.4" cy="90.7" r="4.8" fill="#B0493A"/>
<circle cx="1237.2" cy="84.0" r="4.8" fill="#0000CD"/>
<circle cx="1246.5" cy="86.1" r="4.8" fill="#0000CD"/>
<circle cx="1267.8" cy="82.1" r="4.8" fill="#0000CD"/>
<circle cx="1233.7" cy="95.6" r="4.8" fill="#0000CD"/>
<circle cx="1276.0" cy="94.4" r="4.8" fill="#0000CD"/>
<circle cx="1280.2" cy="100.4" r="4.8" fill="#0000CD"/>
<circle cx="1301.6" cy="86.1" r="4.8" fill="#0000CD"/>
<circle cx="1298.5" cy="93.4" r="4.8" fill="#0000CD"/>
<circle cx="1318.9" cy="87.6" r="4.8" fill="#0000CD"/>
<circle cx="1332.6" cy="87.6" r="4.8" fill="#0000CD"/>
<circle cx="1324.4" cy="94.4" r="4.8" fill="#0000CD"/>
<circle cx="1332.0" cy="92.5" r="4.8" fill="#0000CD"/>
<circle cx="1347.7" cy="98.0" r="4.8" fill="#0000CD"/>
<circle cx="1304.3" cy="100.4" r="4.8" fill="#0000CD"/>
<circle cx="1309.8" cy="102.2" r="4.8" fill="#0000CD"/>
<circle cx="1317.1" cy="100.7" r="4.8" fill="#0000CD"/>
<circle cx="1326.2" cy="100.7" r="4.8" fill="#0000CD"/>
<circle cx="1296.1" cy="105.3" r="4.8" fill="#0000CD"/>
<circle cx="1337.1" cy="108.9" r="4.8" fill="#0000CD"/>
<circle cx="1324.7" cy="112.6" r="4.8" fill="#0000CD"/>
<circle cx="1325.3" cy="124.1" r="4.8" fill="#0000CD"/>
<circle cx="1306.1" cy="88.3" r="4.8" fill="#B0493A"/>
<circle cx="1127.0" cy="104.4" r="4.8" fill="#B0493A"/>
<circle cx="1108.2" cy="108.0" r="4.8" fill="#0000CD"/>
<circle cx="1114.6" cy="111.7" r="4.8" fill="#0000CD"/>
<circle cx="1142.9" cy="114.4" r="4.8" fill="#0000CD"/>
<circle cx="1162.4" cy="111.7" r="4.8" fill="#0000CD"/>
<circle cx="1181.2" cy="115.3" r="4.8" fill="#0000CD"/>
<circle cx="1195.8" cy="108.9" r="4.8" fill="#0000CD"/>
<circle cx="1213.1" cy="105.8" r="4.8" fill="#0000CD"/>
<circle cx="1242.6" cy="113.5" r="4.8" fill="#0000CD"/>
<circle cx="1272.9" cy="119.3" r="4.8" fill="#0000CD"/>
<circle cx="1266.9" cy="121.2" r="4.8" fill="#B0493A"/>
<circle cx="1287.0" cy="120.4" r="4.8" fill="#0000CD"/>
<circle cx="1286.1" cy="124.8" r="4.8" fill="#0000CD"/>
<circle cx="1255.4" cy="124.4" r="4.8" fill="#0000CD"/>
<circle cx="1263.3" cy="125.4" r="4.8" fill="#0000CD"/>
<circle cx="1241.9" cy="129.0" r="4.8" fill="#0000CD"/>
<circle cx="1252.9" cy="133.2" r="4.8" fill="#0000CD"/>
<circle cx="1124.6" cy="124.8" r="4.8" fill="#0000CD"/>
<circle cx="1203.4" cy="128.5" r="4.8" fill="#0000CD"/>
<circle cx="1203.4" cy="136.9" r="4.8" fill="#B0493A"/>
<circle cx="1210.4" cy="138.1" r="4.8" fill="#0000CD"/>
<circle cx="1215.3" cy="139.6" r="4.8" fill="#0000CD"/>
<circle cx="1177.9" cy="138.7" r="4.8" fill="#0000CD"/>
<circle cx="1189.9" cy="141.8" r="4.8" fill="#0000CD"/>
<circle cx="1139.6" cy="149.1" r="4.8" fill="#0000CD"/>
<circle cx="1156.0" cy="149.1" r="4.8" fill="#0000CD"/>
<circle cx="1193.9" cy="151.8" r="4.8" fill="#0000CD"/>
<circle cx="1210.7" cy="150.0" r="4.8" fill="#B0493A"/>
<circle cx="1213.1" cy="154.5" r="4.8" fill="#0000CD"/>
<circle cx="1229.9" cy="153.3" r="4.8" fill="#0000CD"/>
<circle cx="1240.1" cy="152.2" r="4.8" fill="#0000CD"/>
<circle cx="1256.0" cy="150.9" r="4.8" fill="#0000CD"/>
<circle cx="1267.5" cy="147.8" r="4.8" fill="#0000CD"/>
<circle cx="1269.3" cy="151.8" r="4.8" fill="#0000CD"/>
<circle cx="1257.8" cy="158.2" r="4.8" fill="#0000CD"/>
<circle cx="1296.5" cy="146.3" r="4.8" fill="#0000CD"/>
<circle cx="1314.3" cy="140.9" r="4.8" fill="#0000CD"/>
<circle cx="1313.4" cy="143.6" r="4.8" fill="#0000CD"/>
<circle cx="1289.2" cy="154.0" r="4.8" fill="#B0493A"/>
<circle cx="1115.5" cy="159.1" r="4.8" fill="#0000CD"/>
<circle cx="1123.7" cy="160.9" r="4.8" fill="#0000CD"/>
<circle cx="1133.7" cy="162.4" r="4.8" fill="#0000CD"/>
<circle cx="1204.3" cy="159.7" r="4.8" fill="#0000CD"/>
<circle cx="1243.2" cy="165.0" r="4.8" fill="#0000CD"/>
<circle cx="1317.1" cy="165.0" r="4.8" fill="#0000CD"/>
<circle cx="1186.1" cy="168.2" r="4.8" fill="#B0493A"/>
<circle cx="1243.7" cy="168.2" r="4.8" fill="#B0493A"/>
<circle cx="1242.3" cy="172.8" r="4.8" fill="#0000CD"/>
<circle cx="1190.3" cy="175.5" r="4.8" fill="#0000CD"/>
<circle cx="1194.9" cy="176.8" r="4.8" fill="#0000CD"/>
<circle cx="1203.1" cy="174.6" r="4.8" fill="#0000CD"/>
<circle cx="1206.7" cy="182.8" r="4.8" fill="#0000CD"/>
<circle cx="1220.8" cy="177.9" r="4.8" fill="#0000CD"/>
<circle cx="1267.5" cy="173.1" r="4.8" fill="#0000CD"/>
<circle cx="1280.6" cy="175.0" r="4.8" fill="#0000CD"/>
<circle cx="1076.3" cy="179.5" r="4.8" fill="#0000CD"/>
<circle cx="1106.3" cy="190.1" r="4.8" fill="#0000CD"/>
<circle cx="1173.9" cy="194.7" r="4.8" fill="#0000CD"/>
<circle cx="1189.4" cy="200.5" r="4.8" fill="#0000CD"/>
<circle cx="1220.4" cy="193.2" r="4.8" fill="#B0493A"/>
<circle cx="1231.0" cy="189.7" r="4.8" fill="#0000CD"/>
<circle cx="1244.5" cy="189.7" r="4.8" fill="#0000CD"/>
<circle cx="1269.3" cy="194.7" r="4.8" fill="#0000CD"/>
<circle cx="1222.6" cy="203.4" r="4.8" fill="#0000CD"/>
<circle cx="1235.0" cy="202.0" r="4.8" fill="#0000CD"/>
<circle cx="1259.6" cy="204.3" r="4.8" fill="#0000CD"/>
<circle cx="1331.7" cy="198.7" r="4.8" fill="#0000CD"/>
<circle cx="1143.8" cy="208.7" r="4.8" fill="#B0493A"/>
<circle cx="1117.3" cy="214.7" r="4.8" fill="#0000CD"/>
<circle cx="1159.3" cy="213.3" r="4.8" fill="#0000CD"/>
<circle cx="1269.6" cy="212.5" r="4.8" fill="#B0493A"/>
<circle cx="1298.8" cy="216.5" r="4.8" fill="#B0493A"/>
<circle cx="1128.3" cy="228.4" r="4.8" fill="#B0493A"/>
<circle cx="1172.4" cy="233.9" r="4.8" fill="#0000CD"/>
<circle cx="1220.4" cy="230.2" r="4.8" fill="#0000CD"/>
<circle cx="1240.5" cy="237.5" r="4.8" fill="#0000CD"/>
<circle cx="1257.8" cy="234.8" r="4.8" fill="#B0493A"/>
<circle cx="1209.1" cy="245.4" r="4.8" fill="#0000CD"/>
<circle cx="1174.8" cy="250.8" r="4.8" fill="#0000CD"/>
<circle cx="1185.2" cy="253.6" r="4.8" fill="#B0493A"/>
<circle cx="1205.8" cy="253.0" r="4.8" fill="#0000CD"/>
<circle cx="1092.9" cy="247.6" r="4.8" fill="#0000CD"/>
<circle cx="1106.3" cy="263.4" r="4.8" fill="#0000CD"/>
<circle cx="1162.9" cy="265.8" r="4.8" fill="#0000CD"/>
<circle cx="1216.4" cy="276.2" r="4.8" fill="#0000CD"/>
<circle cx="1247.8" cy="296.8" r="4.8" fill="#B0493A"/>
<circle cx="1323.5" cy="316.1" r="4.8" fill="#0000CD"/>
<circle cx="1289.8" cy="325.9" r="4.8" fill="#0000CD"/>
<circle cx="1135.9" cy="327.7" r="4.8" fill="#0000CD"/>
<circle cx="1161.4" cy="326.5" r="4.8" fill="#0000CD"/>
<circle cx="1169.1" cy="332.1" r="4.8" fill="#0000CD"/>
<circle cx="1082.7" cy="448.4" r="4.8" fill="#B0493A"/>
<path d="M877.1 129.1L880.1 125.6L883.1 122.1L886.1 118.8L889.1 115.4L892.1 112.1L895.1 108.9L898.1 105.8L901.1 102.7L904.1 99.7L907.1 96.7L910.1 93.8L913.1 91.0L916.1 88.1L919.1 85.4L922.1 82.6L925.1 79.8L928.1 77.1L931.1 74.5L934.1 71.9L937.1 69.6L940.1 67.4L943.1 65.4L946.1 63.7L949.1 62.1L952.1 60.7L955.1 59.4L958.1 58.1L961.1 57.0L964.1 55.8L967.1 54.8L970.1 53.8L973.1 52.9L976.1 52.2L979.1 51.5L982.1 50.9L985.1 50.4L988.1 50.0L991.1 49.6L994.1 49.4L997.1 49.1L1000.1 48.9L1003.1 48.8L1006.1 48.7L1009.1 48.6L1012.1 48.5L1015.1 48.5L1018.1 48.5L1021.1 48.4L1024.1 48.4L1027.1 48.4L1030.1 48.4L1033.1 48.4L1036.1 48.4L1039.1 48.4L1042.1 48.4L1045.1 48.3L1048.1 48.3L1051.1 48.1L1054.1 48.0L1057.1 47.7L1060.1 47.4L1063.1 47.0L1066.1 46.4L1069.1 45.7L1072.1 44.9L1075.1 43.9L1078.1 42.9L1081.1 41.9L1084.1 41.0L1087.1 40.2L1090.1 39.6L1093.1 39.0L1096.1 38.6L1099.1 38.1L1102.1 37.6L1105.1 37.0L1108.1 36.3L1111.1 35.6L1114.1 35.0L1117.1 34.4L1120.1 33.9L1123.1 33.6L1126.1 33.4L1129.1 33.3L1132.1 33.2L1135.1 33.2L1138.1 33.2L1141.1 33.2L1144.1 33.2L1147.1 33.2L1150.1 33.2L1153.1 33.2L1156.1 33.2L1159.1 33.2L1162.1 33.2L1165.1 33.2L1168.1 33.2L1171.1 33.2L1174.1 33.2L1177.1 33.2L1180.1 33.2L1183.1 33.2L1186.1 33.1L1189.1 33.1L1192.1 33.1L1195.1 33.1L1198.1 33.0L1201.1 33.0L1204.1 32.9L1207.1 32.9L1210.1 32.8L1213.1 32.6L1216.1 32.4L1219.1 32.2L1222.1 31.9L1225.1 31.6L1228.1 31.2L1231.1 30.9L1234.1 30.6L1237.1 30.3L1240.1 30.0L1243.1 29.8L1246.1 29.6L1249.1 29.4L1252.1 29.2L1255.1 29.0L1258.1 28.9L1261.1 28.8L1264.1 28.7L1267.1 28.5L1270.1 28.4L1273.1 28.3L1276.1 28.3L1279.1 28.2L1282.1 28.1L1285.1 28.1L1288.1 28.0L1291.1 28.0L1294.1 27.9L1297.1 27.9L1300.1 27.9L1303.1 27.8L1306.1 27.8L1309.1 27.8L1312.1 27.8L1315.1 27.8L1318.1 27.9L1321.1 27.9L1324.1 27.9L1327.1 28.0L1330.1 28.0L1333.1 28.1L1336.1 28.2L1339.1 28.3L1342.1 28.4L1345.1 28.5L1348.1 28.6L1351.1 28.7" fill="none" stroke="#000" stroke-width="2.5"/>
<line x1="1174.8" y1="237.5" x2="1175.2" y2="249.4" stroke="#111" stroke-width="1.2"/>
<line x1="1208.5" y1="252.1" x2="1223.1" y2="248.1" stroke="#111" stroke-width="1.2"/>
<line x1="1169.1" y1="333.2" x2="1164.0" y2="348.0" stroke="#111" stroke-width="1.2"/>
<text x="885.2" y="137.5" font-size="10.1" font-weight="bold" fill="#0000CD">Somalia</text>
<text x="985.4" y="42.7" font-size="10.1" font-weight="bold" fill="#0000CD">Burkina Faso</text>
<text x="972.4" y="66.8" font-size="10.1" font-weight="bold" fill="#0000CD">Mali</text>
<text x="1027.8" y="64.3" font-size="10.1" font-weight="bold" fill="#0000CD">Senegal</text>
<text x="1088.0" y="54.1" font-size="10.1" font-weight="bold" fill="#0000CD">Cote d&#39;Ivoire</text>
<text x="1303.4" y="135.4" font-size="10.1" font-weight="bold" fill="#DD1C1C">Singapore</text>
<text x="1283.3" y="157.6" font-size="10.1" font-weight="bold" fill="#DD1C1C">Austria</text>
<text x="1312.5" y="180.4" font-size="10.1" font-weight="bold" fill="#DD1C1C">Finland</text>
<text x="1275.5" y="212.9" font-size="10.1" font-weight="bold" fill="#DD1C1C">Republic of Korea</text>
<text x="1233.7" y="231.1" font-size="10.1" font-weight="bold" fill="#111">Uruguay</text>
<text x="1182.6" y="233.9" font-size="10.1" font-weight="bold" fill="#111">Ecuador</text>
<text x="1027.8" y="238.8" font-size="10.1" font-weight="bold" fill="#111">Bolivia (Plurinational State of)</text>
<text x="1225.9" y="251.6" font-size="10.1" font-weight="bold" fill="#111">Colombia</text>
<text x="1074.2" y="256.6" font-size="10.1" font-weight="bold" fill="#111">Vanuatu</text>
<text x="1170.8" y="267.6" font-size="10.1" font-weight="bold" fill="#111">Mongolia</text>
<text x="1128.8" y="280.4" font-size="10.1" font-weight="bold" fill="#111">Tuvalu</text>
<text x="1222.8" y="289.9" font-size="10.1" font-weight="bold" fill="#111">Fiji</text>
<text x="1242.4" y="310.5" font-size="10.1" font-weight="bold" fill="#111">Georgia</text>
<text x="1322.0" y="309.2" font-size="10.1" font-weight="bold" fill="#DD1C1C">Japan</text>
<text x="1109.1" y="319.9" font-size="10.1" font-weight="bold" fill="#111">Marshall Islands</text>
<text x="1094.3" y="339.8" font-size="10.1" font-weight="bold" fill="#111">Kiribati</text>
<text x="1231.6" y="339.8" font-size="10.1" font-weight="bold" fill="#111">Brunei Darussalam</text>
<text x="1085.4" y="357.6" font-size="10.1" font-weight="bold" fill="#111">Micronesia (Federated States of)</text>
<text x="1055.5" y="441.3" font-size="10.1" font-weight="bold" fill="#111">Solomon Islands</text>
<path d="M822.3 7.2 V468.9 H1420.3" fill="none" stroke="#000" stroke-width="1.6"/>
<line x1="818.3" y1="122.30" x2="822.3" y2="122.30" stroke="#333" stroke-width="1.4"/>
<text x="815.3" y="126.80" text-anchor="end" font-size="12.5" fill="#4d4d4d">20</text>
<line x1="818.3" y1="284.60" x2="822.3" y2="284.60" stroke="#333" stroke-width="1.4"/>
<text x="815.3" y="289.10" text-anchor="end" font-size="12.5" fill="#4d4d4d">40</text>
<line x1="818.3" y1="446.90" x2="822.3" y2="446.90" stroke="#333" stroke-width="1.4"/>
<text x="815.3" y="451.40" text-anchor="end" font-size="12.5" fill="#4d4d4d">60</text>
<line x1="849.00" y1="468.9" x2="849.00" y2="472.9" stroke="#333" stroke-width="1.4"/>
<text x="849.00" y="485.5" text-anchor="middle" font-size="12.5" fill="#4d4d4d">0.0</text>
<line x1="957.86" y1="468.9" x2="957.86" y2="472.9" stroke="#333" stroke-width="1.4"/>
<text x="957.86" y="485.5" text-anchor="middle" font-size="12.5" fill="#4d4d4d">0.2</text>
<line x1="1066.72" y1="468.9" x2="1066.72" y2="472.9" stroke="#333" stroke-width="1.4"/>
<text x="1066.72" y="485.5" text-anchor="middle" font-size="12.5" fill="#4d4d4d">0.4</text>
<line x1="1175.58" y1="468.9" x2="1175.58" y2="472.9" stroke="#333" stroke-width="1.4"/>
<text x="1175.58" y="485.5" text-anchor="middle" font-size="12.5" fill="#4d4d4d">0.6</text>
<line x1="1284.44" y1="468.9" x2="1284.44" y2="472.9" stroke="#333" stroke-width="1.4"/>
<text x="1284.44" y="485.5" text-anchor="middle" font-size="12.5" fill="#4d4d4d">0.8</text>
<line x1="1393.30" y1="468.9" x2="1393.30" y2="472.9" stroke="#333" stroke-width="1.4"/>
<text x="1393.30" y="485.5" text-anchor="middle" font-size="12.5" fill="#4d4d4d">1.0</text>
<text x="1121.3" y="503.5" text-anchor="middle" font-size="15.8" fill="#000">Social demographic index</text>
<text transform="translate(792.8 238.0) rotate(-90)" text-anchor="middle" font-size="15.8" fill="#000">Age-standardized incidence rate (per 100,000)</text>
<text x="773.9" y="27.6" font-size="31.8" font-weight="bold" fill="#000">B</text>
<text x="1444.5" y="215.0" font-size="15.4" fill="#000">trend</text>
<circle cx="1456.5" cy="237.1" r="4.8" fill="#0000CD"/>
<text x="1477.3" y="241.9" font-size="12.6" fill="#000">Decrease</text>
<circle cx="1456.5" cy="261.8" r="4.8" fill="#B0493A"/>
<text x="1477.3" y="266.5" font-size="12.6" fill="#000">Increase</text>
<line x1="56.0" y1="537.00" x2="673.7" y2="537.00" stroke="#ececec" stroke-width="0.9"/>
<line x1="56.0" y1="684.40" x2="673.7" y2="684.40" stroke="#ececec" stroke-width="0.9"/>
<line x1="56.0" y1="831.80" x2="673.7" y2="831.80" stroke="#ececec" stroke-width="0.9"/>
<line x1="56.0" y1="979.20" x2="673.7" y2="979.20" stroke="#ececec" stroke-width="0.9"/>
<line x1="140.19" y1="530.2" x2="140.19" y2="991.8" stroke="#ececec" stroke-width="0.9"/>
<line x1="252.57" y1="530.2" x2="252.57" y2="991.8" stroke="#ececec" stroke-width="0.9"/>
<line x1="364.95" y1="530.2" x2="364.95" y2="991.8" stroke="#ececec" stroke-width="0.9"/>
<line x1="477.33" y1="530.2" x2="477.33" y2="991.8" stroke="#ececec" stroke-width="0.9"/>
<line x1="589.71" y1="530.2" x2="589.71" y2="991.8" stroke="#ececec" stroke-width="0.9"/>
<line x1="56.0" y1="610.70" x2="673.7" y2="610.70" stroke="#cbcbcb" stroke-width="1.2"/>
<line x1="56.0" y1="758.10" x2="673.7" y2="758.10" stroke="#cbcbcb" stroke-width="1.2"/>
<line x1="56.0" y1="905.50" x2="673.7" y2="905.50" stroke="#cbcbcb" stroke-width="1.2"/>
<line x1="84.00" y1="530.2" x2="84.00" y2="991.8" stroke="#cbcbcb" stroke-width="1.2"/>
<line x1="196.38" y1="530.2" x2="196.38" y2="991.8" stroke="#cbcbcb" stroke-width="1.2"/>
<line x1="308.76" y1="530.2" x2="308.76" y2="991.8" stroke="#cbcbcb" stroke-width="1.2"/>
<line x1="421.14" y1="530.2" x2="421.14" y2="991.8" stroke="#cbcbcb" stroke-width="1.2"/>
<line x1="533.52" y1="530.2" x2="533.52" y2="991.8" stroke="#cbcbcb" stroke-width="1.2"/>
<line x1="645.90" y1="530.2" x2="645.90" y2="991.8" stroke="#cbcbcb" stroke-width="1.2"/>
<g clip-path="url(#clipC)">
<defs><clipPath id="clipC"><rect x="56.0" y="530.2" width="617.7" height="461.6"/></clipPath></defs>
<g fill="none" stroke-width="7.2" stroke-linecap="round">
<path stroke="url(#gur)" stroke-dasharray="0 3.87" d="M451 762L459 751L469 737L481 727L494 723L507 719L518 709L529 694L536 683"/>
<path stroke="url(#gr)" stroke-dasharray="0 4.38" d="M258 743L270 738L288 731L304 726L320 724L336 721L354 715L373 708L387 702"/>
<path stroke="url(#gur)" stroke-dasharray="0 3.69" d="M490 704L499 698L512 689L524 679L534 669L544 659L557 651L572 644L583 639"/>
<path stroke="url(#gr)" stroke-dasharray="0 5.04" d="M291 754L306 761L326 770L344 780L362 789L379 797L399 804L420 809L435 812"/>
<path stroke="#938bcf" d="M253 853h0m1-1h0m2-2h0m3-1h0m3-2h0m3-1h0m3-1h0m3-1h0"/><path stroke="#7f6ad6" d="M275 843h0m3-1h0m3 0h0m2 1h0m1 2h0m1 2h0m0 3h0m1 2h0"/><path stroke="#6547dd" d="M288 854h0m2 1h0m2 1h0m2 1h0m3 1h0m2 1h0m3 0h0m3 1h0"/><path stroke="#3019db" d="M308 861h0m3 1h0m2 2h0m3 2h0m2 2h0m2 2h0m2 2h0m1 2h0"/>
<path stroke="url(#gr)" stroke-dasharray="0 3.30" d="M324 582L335 580L350 577L364 575L377 573L390 572L403 570L416 568L425 566"/>
<path stroke="url(#gr)" stroke-dasharray="0 3.82" d="M350 743L360 741L375 736L389 731L402 723L416 715L431 711L449 709L462 708"/>
<path stroke="url(#gr)" stroke-dasharray="0 3.57" d="M414 794L426 791L441 786L455 781L465 774L475 767L489 763L505 760L518 759"/>
<path stroke="url(#gr)" stroke-dasharray="0 3.91" d="M217 603L230 602L248 600L264 599L278 599L292 599L308 597L325 593L337 590"/>
<path stroke="url(#gur)" stroke-dasharray="0 3.44" d="M471 795L482 790L497 783L510 776L519 768L528 761L540 755L555 750L565 746"/>
<path stroke="url(#gur)" stroke-dasharray="0 2.91" d="M509 683L517 679L530 674L541 668L552 662L563 657L574 653L584 650L592 648"/>
<path stroke="url(#gur)" stroke-dasharray="0 3.82" d="M514 751L522 739L534 723L544 711L552 703L560 696L570 684L580 669L588 659"/>
<path stroke="url(#gur)" stroke-dasharray="0 2.54" d="M448 686L453 683L462 679L469 674L476 668L483 661L491 652L500 642L506 634"/>
<path stroke="url(#gr)" stroke-dasharray="0 3.63" d="M402 587L412 591L427 596L441 600L454 602L467 603L482 604L499 603L511 602"/>
<path stroke="url(#gr)" stroke-dasharray="0 3.90" d="M411 591L423 588L439 584L455 582L471 582L487 582L503 578L518 573L529 568"/>
<path stroke="url(#gr)" stroke-dasharray="0 4.01" d="M261 643L274 640L294 636L310 633L322 633L335 634L351 633L370 632L384 630"/>
<path stroke="url(#gr)" stroke-dasharray="0 3.56" d="M456 615L467 611L482 604L496 602L508 604L521 606L534 602L549 595L560 589"/>
<path stroke="url(#gr)" stroke-dasharray="0 3.58" d="M363 621L375 620L390 618L404 613L416 605L427 597L441 593L457 591L468 590"/>
<path stroke="url(#gur)" stroke-dasharray="0 2.25" d="M484 584L489 583L497 582L505 578L513 569L521 560L529 555L537 552L542 550"/>
<path stroke="url(#gr)" stroke-dasharray="0 3.90" d="M352 619L363 624L380 631L395 636L407 641L420 644L436 648L454 652L467 654"/>
<path stroke="url(#gr)" stroke-dasharray="0 4.79" d="M216 714L230 709L249 703L267 701L286 705L304 708L324 706L345 700L360 695"/>
<path stroke="url(#gr)" stroke-dasharray="0 5.07" d="M288 699L303 694L324 687L343 683L361 682L380 682L401 679L425 675L442 671"/>
<path stroke="url(#gdr)" stroke-dasharray="0 3.75" d="M252 754L263 760L278 768L290 776L300 783L309 791L322 799L338 809L350 817"/>
<path stroke="url(#gr)" stroke-dasharray="0 3.28" d="M248 627L258 626L272 625L285 622L298 617L311 613L325 611L338 610L348 610"/>
<path stroke="url(#gr)" stroke-dasharray="0 2.89" d="M289 742L297 742L308 741L319 741L330 742L341 742L353 741L368 739L378 738"/>
<path stroke="url(#gr)" stroke-dasharray="0 3.48" d="M261 663L271 663L285 663L299 663L312 663L326 663L341 661L357 657L368 654"/>
<path stroke="url(#gr)" stroke-dasharray="0 3.14" d="M345 722L354 721L366 720L378 718L389 714L401 710L415 707L430 706L440 705"/>
<path stroke="url(#gur)" stroke-dasharray="0 3.96" d="M376 665L389 657L405 646L420 640L430 640L441 639L455 633L472 621L484 613"/>
<path stroke="url(#gr)" stroke-dasharray="0 3.07" d="M317 813L325 810L336 806L347 806L361 810L374 815L387 814L399 809L408 806"/>
<path stroke="#938bcf" d="M167 719h0m1-1h0m1-2h0m1-2h0m2-2h0m1-2h0m2-3h0m1-2h0"/><path stroke="#7f6ad6" d="M178 703h0m1-2h0m1-2h0m2-2h0m1-2h0m1-2h0m2-2h0m1-2h0"/><path stroke="#6547dd" d="M188 687h0m2-2h0m1-1h0m2-2h0m1-2h0m1-1h0m2-1h0m1-2h0"/><path stroke="#3019db" d="M199 675h0m1-1h0m1-1h0m1-1h0m1-2h0m1 0h0m0-1h0m1-1h0"/>
<path stroke="url(#gr)" stroke-dasharray="0 3.62" d="M334 623L345 620L360 617L374 616L388 616L402 617L417 619L433 621L445 622"/>
<path stroke="#1000d7" d="M567 803h0"/>
<path stroke="url(#gr)" stroke-dasharray="0 3.29" d="M306 759L316 755L330 749L343 745L356 743L368 740L380 735L392 728L401 723"/>
<path stroke="url(#gur)" stroke-dasharray="0 2.91" d="M427 590L436 589L447 586L458 581L467 572L476 564L487 558L499 555L507 554"/>
<path stroke="url(#gr)" stroke-dasharray="0 2.94" d="M327 817L335 818L346 820L358 819L372 815L386 811L398 809L409 809L417 809"/>
<path stroke="#938bcf" d="M484 825h0m3-1h0m4-1h0m4-1h0m4-2h0m4-2h0m4-2h0m3-2h0"/><path stroke="#7f6ad6" d="M514 812h0m2-3h0m3-3h0m2-3h0m2-4h0m2-4h0m2-4h0m3-4h0"/><path stroke="#6547dd" d="M533 783h0m3-4h0m2-3h0m3-2h0m3-3h0m3-2h0m4-2h0m3-2h0"/><path stroke="#3019db" d="M557 763h0m3-3h0m1-2h0m2-3h0m0-3h0m1-2h0m1-2h0m0-2h0"/>
<path stroke="url(#gr)" stroke-dasharray="0 4.90" d="M283 617L299 613L320 608L339 604L356 604L373 603L394 602L417 601L434 600"/>
<path stroke="url(#gr)" stroke-dasharray="0 3.74" d="M226 613L238 610L254 606L268 602L281 597L293 593L308 591L326 590L339 589"/>
<path stroke="url(#gr)" stroke-dasharray="0 3.06" d="M278 755L288 754L301 752L313 750L323 747L334 744L346 743L361 742L372 741"/>
<path stroke="url(#gur)" stroke-dasharray="0 3.87" d="M383 840L392 831L404 819L417 811L430 810L443 809L457 802L472 790L482 781"/>
<path stroke="url(#gdr)" stroke-dasharray="0 2.44" d="M503 608L509 609L517 611L526 615L535 623L545 631L554 637L563 640L569 642"/>
<path stroke="#938bcf" d="M471 845h0m1-2h0m2-2h0m1-2h0m1-2h0m1-1h0m2-1h0m1-2h0"/><path stroke="#7f6ad6" d="M481 831h0m2-2h0m2-3h0m3-1h0m3-2h0m3-1h0m3-2h0m3-1h0"/><path stroke="#6547dd" d="M503 818h0m3-1h0m3-2h0m2-2h0m3-2h0m2-3h0m2-2h0m1-2h0"/><path stroke="#3019db" d="M521 801h0m2-3h0m2-3h0m2-3h0m2-3h0m2-3h0m2-2h0m1-2h0"/>
<path stroke="url(#gur)" stroke-dasharray="0 4.14" d="M382 685L394 678L411 667L426 658L440 648L454 639L469 632L484 627L494 624"/>
<path stroke="url(#gr)" stroke-dasharray="0 4.97" d="M194 680L209 680L229 680L249 678L267 675L286 672L307 671L331 669L348 668"/>
<path stroke="url(#gr)" stroke-dasharray="0 3.61" d="M172 637L182 634L197 631L211 630L223 633L237 635L252 635L269 631L282 628"/>
<path stroke="url(#gr)" stroke-dasharray="0 3.07" d="M181 624L190 623L203 621L216 619L228 615L240 611L252 608L265 605L273 603"/>
<path stroke="#1000d7" d="M325 883h0"/>
<path stroke="url(#gr)" stroke-dasharray="0 3.10" d="M153 644L162 640L175 635L186 630L197 626L207 622L220 619L234 615L244 612"/>
<path stroke="url(#gr)" stroke-dasharray="0 2.96" d="M419 743L428 741L440 738L451 736L463 735L475 734L486 730L497 723L505 717"/>
<path stroke="url(#gr)" stroke-dasharray="0 5.21" d="M279 601L294 600L315 599L337 597L358 594L379 591L400 587L423 583L438 580"/>
<path stroke="url(#gur)" stroke-dasharray="0 2.74" d="M405 804L411 798L420 790L429 783L440 777L450 772L460 768L470 764L477 761"/>
<path stroke="url(#gr)" stroke-dasharray="0 3.61" d="M397 624L407 622L420 618L433 614L446 608L459 602L474 597L490 591L502 587"/>
<path stroke="url(#gr)" stroke-dasharray="0 2.41" d="M489 639L495 640L503 641L512 639L522 632L532 625L541 622L551 622L558 622"/>
<path stroke="#938bcf" d="M481 794h0m2-1h0m3-1h0m3-1h0m3-1h0m2-1h0m3 0h0m2 0h0"/><path stroke="#7f6ad6" d="M501 789h0m3 0h0m1-1h0m1-1h0m1-2h0m1-3h0m0-2h0m-1-2h0"/><path stroke="#6547dd" d="M507 776h0m-1-3h0m-2-2h0m-2-2h0m-1-2h0m0-2h0m0-1h0m1 0h0"/><path stroke="#3019db" d="M503 763h0m1 0h0m2-1h0m2 0h0m2-1h0m3-1h0m2 0h0m2-1h0"/>
<path stroke="url(#gur)" stroke-dasharray="0 1.49" d="M283 763L287 763L293 762L296 758L298 751L300 742L303 737L306 733L309 731"/>
<path stroke="url(#gr)" stroke-dasharray="0 2.96" d="M155 673L165 673L179 672L191 672L201 670L211 669L223 668L237 669L246 669"/>
<path stroke="url(#gr)" stroke-dasharray="0 3.11" d="M395 736L403 733L414 730L425 727L436 724L448 721L461 717L476 711L487 708"/>
<path stroke="url(#gur)" stroke-dasharray="0 4.45" d="M463 814L474 806L488 795L504 787L522 782L540 777L556 768L571 756L582 747"/>
<path stroke="url(#gur)" stroke-dasharray="0 2.25" d="M495 596L500 592L507 587L515 584L523 583L531 582L540 578L550 571L557 566"/>
<path stroke="#938bcf" d="M509 870h0m1 2h0m1 4h0m1 3h0m1 4h0m0 4h0m2 3h0m2 3h0"/><path stroke="#7f6ad6" d="M520 895h0m3 1h0m4 3h0m6 3h0m4 2h0m3-1h0m1-3h0m2-4h0"/><path stroke="#6547dd" d="M544 892h0m1-5h0m2-4h0m1-5h0m2-4h0m2-5h0m1-5h0m2-5h0"/><path stroke="#3019db" d="M556 854h0m2-5h0m1-4h0m1-4h0m1-4h0m2-2h0m1-2h0m1-2h0"/>
<path stroke="url(#gur)" stroke-dasharray="0 4.18" d="M377 820L386 807L398 790L409 776L416 766L423 757L434 744L448 729L457 718"/>
<path stroke="url(#gr)" stroke-dasharray="0 3.28" d="M307 669L318 667L334 664L347 660L357 654L367 649L379 646L394 644L404 642"/>
<path stroke="url(#gdr)" stroke-dasharray="0 2.34" d="M492 607L498 608L507 609L515 613L522 622L530 631L538 635L548 635L554 635"/>
<path stroke="url(#gr)" stroke-dasharray="0 3.79" d="M437 605L449 604L466 602L482 599L495 591L509 584L523 580L539 579L550 579"/>
<path stroke="url(#gr)" stroke-dasharray="0 4.14" d="M197 636L211 632L231 628L247 625L260 626L272 626L289 623L309 617L323 613"/>
<path stroke="url(#gur)" stroke-dasharray="0 2.95" d="M420 628L430 622L443 613L453 608L461 608L468 609L479 605L492 598L502 592"/>
<path stroke="url(#gur)" stroke-dasharray="0 3.23" d="M491 719L498 715L509 710L519 704L531 697L543 689L555 682L567 673L576 668"/>
<path stroke="url(#gur)" stroke-dasharray="0 2.67" d="M460 597L469 592L480 587L490 583L499 583L507 582L516 577L526 568L532 562"/>
<path stroke="url(#gur)" stroke-dasharray="0 2.40" d="M426 603L433 602L443 600L451 596L459 589L467 582L475 577L485 574L491 572"/>
<path stroke="url(#gr)" stroke-dasharray="0 2.78" d="M374 573L383 576L396 580L407 581L418 578L428 576L438 577L449 582L456 586"/>
<path stroke="url(#gr)" stroke-dasharray="0 3.24" d="M439 634L448 632L461 630L474 627L487 625L500 623L514 620L528 618L538 616"/>
<path stroke="url(#gur)" stroke-dasharray="0 3.35" d="M391 790L397 785L405 777L414 766L425 752L436 738L445 727L454 718L459 712"/>
<path stroke="url(#gur)" stroke-dasharray="0 1.05" d="M152 647L156 647L161 648L165 648L166 647L167 645L170 642L175 637L178 634"/>
<path stroke="url(#gr)" stroke-dasharray="0 5.43" d="M200 652L216 654L238 657L260 657L282 654L305 650L327 649L351 648L367 648"/>
<path stroke="url(#gr)" stroke-dasharray="0 3.98" d="M267 596L280 595L297 594L313 591L328 587L343 583L359 580L376 576L388 574"/>
<path stroke="url(#gr)" stroke-dasharray="0 3.56" d="M246 695L256 691L269 686L282 684L295 685L309 686L323 682L340 674L351 669"/>
<path stroke="url(#gr)" stroke-dasharray="0 4.26" d="M288 638L300 638L317 638L332 633L347 624L361 614L379 609L399 608L413 607"/>
<path stroke="url(#gr)" stroke-dasharray="0 3.80" d="M393 762L405 757L422 751L436 745L447 740L459 735L473 730L491 725L503 722"/>
<path stroke="url(#gr)" stroke-dasharray="0 1.56" d="M174 625L180 623L188 621L195 620L199 620L204 621L209 624L215 628L219 631"/>
<path stroke="url(#gr)" stroke-dasharray="0 2.38" d="M495 794L501 796L511 799L520 800L529 800L538 800L548 801L559 802L567 803"/>
<path stroke="url(#gr)" stroke-dasharray="0 2.82" d="M346 643L354 645L366 647L377 646L387 642L398 637L409 635L422 635L431 635"/>
<path stroke="url(#gr)" stroke-dasharray="0 2.72" d="M432 617L442 618L456 619L467 619L477 619L487 618L497 619L508 622L516 624"/>
<path stroke="#938bcf" d="M470 844h0m3-4h0m5-5h0m3-5h0m2-3h0m3-4h0m3-5h0m4-5h0"/><path stroke="#7f6ad6" d="M496 808h0m4-5h0m4-5h0m4-6h0m4-5h0m4-5h0m3-5h0m3-5h0"/><path stroke="#6547dd" d="M525 768h0m3-4h0m3-3h0m3-4h0m2-5h0m3-5h0m3-4h0m4-3h0"/><path stroke="#3019db" d="M550 738h0m7 0h0m7 1h0m5 1h0m5 1h0m3 2h0m3 2h0m2 2h0"/>
<path stroke="url(#gr)" stroke-dasharray="0 4.82" d="M223 613L236 615L255 619L274 619L294 616L314 613L335 613L356 617L371 619"/>
<path stroke="url(#gr)" stroke-dasharray="0 3.06" d="M428 708L437 707L449 706L461 703L473 697L485 691L497 686L509 681L517 678"/>
<path stroke="url(#gr)" stroke-dasharray="0 3.18" d="M215 688L224 686L236 684L248 684L262 688L276 692L289 691L302 687L311 684"/>
<path stroke="url(#gr)" stroke-dasharray="0 4.05" d="M348 787L361 782L379 775L394 770L407 769L419 768L435 764L454 757L468 752"/>
<path stroke="url(#gr)" stroke-dasharray="0 3.84" d="M223 641L235 643L251 645L266 646L280 647L294 646L309 644L328 641L340 638"/>
<path stroke="url(#gr)" stroke-dasharray="0 3.22" d="M417 574L427 575L442 576L455 577L466 578L478 580L491 581L505 584L516 586"/>
<path stroke="#938bcf" d="M534 722h0m1 0h0m1-1h0m1 0h0m2 0h0m1-1h0m2 0h0m2-1h0"/><path stroke="#7f6ad6" d="M546 719h0m1-1h0m2-1h0m1 0h0m2-1h0m2-1h0m1 0h0m2-1h0"/><path stroke="#6547dd" d="M558 713h0m2-1h0m1 0h0m2-1h0m1-1h0m1-1h0m2-1h0m1-1h0"/><path stroke="#3019db" d="M569 706h0m1-1h0m1-1h0m1-1h0m1-1h0m0-1h0m1 0h0m0-1h0"/>
<path stroke="url(#gur)" stroke-dasharray="0 3.38" d="M478 705L489 699L504 693L517 687L527 682L537 678L550 673L564 668L575 664"/>
<path stroke="url(#gur)" stroke-dasharray="0 2.70" d="M456 618L462 612L471 604L480 599L491 596L502 594L512 591L523 587L530 584"/>
<path stroke="url(#gr)" stroke-dasharray="0 3.86" d="M241 692L252 689L269 685L284 683L299 682L314 681L329 678L346 673L358 670"/>
<path stroke="url(#gr)" stroke-dasharray="0 3.43" d="M374 587L385 584L400 580L414 575L427 570L439 564L453 561L466 561L476 560"/>
<path stroke="url(#gr)" stroke-dasharray="0 3.16" d="M370 614L379 611L392 606L404 603L415 601L426 599L439 597L455 595L466 593"/>
<path stroke="url(#gr)" stroke-dasharray="0 2.49" d="M418 610L424 610L433 610L441 608L451 605L461 600L471 595L482 589L490 584"/>
<path stroke="url(#gr)" stroke-dasharray="0 4.11" d="M236 678L248 677L265 676L281 673L297 666L312 660L328 655L346 651L359 648"/>
<path stroke="url(#gr)" stroke-dasharray="0 4.40" d="M278 631L291 635L310 639L328 638L345 633L362 627L380 626L398 629L411 631"/>
<path stroke="url(#gr)" stroke-dasharray="0 3.82" d="M423 765L433 764L448 761L462 757L475 751L489 745L505 739L523 734L536 730"/>
<path stroke="url(#gur)" stroke-dasharray="0 3.70" d="M429 800L435 787L445 770L454 757L462 749L470 741L478 730L485 715L490 704"/>
<path stroke="#938bcf" d="M321 890h0m2-1h0m2-2h0m2-2h0m3-3h0m3-4h0m4-4h0m4-4h0"/><path stroke="#7f6ad6" d="M345 867h0m3-4h0m4-3h0m3-3h0m3-3h0m3-3h0m3-4h0m4-3h0"/><path stroke="#6547dd" d="M371 841h0m3-3h0m3-4h0m3-3h0m4-3h0m4-3h0m4-4h0m4-3h0"/><path stroke="#3019db" d="M399 815h0m2-2h0m3-3h0m2-3h0m3-3h0m3-4h0m3-3h0m2-2h0"/>
<path stroke="url(#gur)" stroke-dasharray="0 3.38" d="M387 623L396 615L408 606L421 601L434 602L447 604L459 599L470 590L478 583"/>
<path stroke="#938bcf" d="M374 896h0m3-1h0m2-1h0m4-2h0m3-2h0m4-1h0m3-2h0m3-2h0"/><path stroke="#7f6ad6" d="M399 883h0m2-2h0m3-2h0m2-2h0m2-2h0m1-3h0m1-2h0m2-2h0"/><path stroke="#6547dd" d="M414 867h0m3-2h0m2-1h0m3-2h0m3-1h0m4-1h0m4-1h0m4-1h0"/><path stroke="#3019db" d="M442 858h0m4-1h0m3 0h0m2 0h0m1 0h0m1 1h0m1 0h0"/>
<path stroke="url(#gr)" stroke-dasharray="0 2.81" d="M477 654L484 654L495 654L505 652L516 647L528 641L539 637L551 634L560 633"/>
<path stroke="#938bcf" d="M492 802h0m-1 1h0m-1 1h0m-1 1h0m-1 2h0m-1 2h0m-1 1h0m-1 2h0"/><path stroke="#7f6ad6" d="M483 813h0m-1 1h0m-1 1h0m-2 1h0m-2 1h0m-1 1h0m-2 1h0m-2 0h0"/><path stroke="#6547dd" d="M470 820h0m-2 1h0m-2 0h0m-2 1h0m-2 0h0m-2 1h0m-2 0h0m-2 0h0"/><path stroke="#3019db" d="M454 824h0m-2 0h0m-3 1h0m-2 0h0m-2 0h0m-2 0h0m-2 1h0m-1 0h0"/>
<path stroke="url(#gr)" stroke-dasharray="0 3.12" d="M341 672L350 672L363 672L375 673L386 673L398 673L411 671L426 666L437 663"/>
<path stroke="url(#gur)" stroke-dasharray="0 3.51" d="M505 722L511 715L521 705L531 696L542 688L553 679L562 667L570 652L576 641"/>
<path stroke="url(#gr)" stroke-dasharray="0 4.11" d="M179 635L190 641L206 650L221 654L235 652L250 650L267 653L286 660L299 666"/>
<path stroke="url(#gr)" stroke-dasharray="0 3.99" d="M206 643L217 638L232 633L248 629L265 627L283 625L300 624L316 622L327 622"/>
<path stroke="#938bcf" d="M332 840h0m0 1h0m1 1h0m1 2h0m2 1h0m1 2h0m1 1h0m1 2h0"/><path stroke="#7f6ad6" d="M340 851h0m1 2h0m1 1h0m1 2h0m1 2h0m1 2h0m2 1h0m1 2h0"/><path stroke="#6547dd" d="M349 864h0m1 1h0m2 1h0m2 1h0m1 1h0m2 1h0m2 1h0m1 1h0"/><path stroke="#3019db" d="M362 873h0m3 1h0m2 1h0m3 1h0m2 1h0m2 2h0m2 0h0m2 1h0"/>
<path stroke="#938bcf" d="M431 859h0m1 0h0m1 0h0m1 0h0m1 0h0m1-1h0m1 0h0"/><path stroke="#7f6ad6" d="M438 858h0m1 0h0m2-1h0m1 0h0m1 0h0m1 0h0m1 0h0m1-1h0"/><path stroke="#6547dd" d="M447 856h0m1 0h0m1 0h0m1 0h0m1 0h0m1-1h0"/><path stroke="#3019db" d="M452 855h0m1 0h0m1 0h0m1 0h0m1 0h0"/>
<path stroke="url(#gur)" stroke-dasharray="0 3.17" d="M381 844L389 838L401 830L413 824L424 819L435 815L445 807L456 798L463 791"/>
<path stroke="url(#gr)" stroke-dasharray="0 3.79" d="M216 686L228 684L246 682L261 679L273 676L285 673L299 668L316 661L328 656"/>
<path stroke="url(#gr)" stroke-dasharray="0 3.42" d="M462 594L473 595L489 595L504 593L516 587L528 582L541 580L555 581L565 581"/>
<path stroke="url(#gr)" stroke-dasharray="0 3.80" d="M440 619L450 616L464 612L479 607L494 599L509 592L525 587L540 584L551 582"/>
<path stroke="url(#gr)" stroke-dasharray="0 0.89" d="M213 625L215 624L217 623L220 623L223 625L227 626L230 624L233 619L235 616"/>
<path stroke="url(#gur)" stroke-dasharray="0 3.64" d="M464 628L475 622L490 615L502 606L511 596L520 586L533 580L549 576L560 573"/>
<path stroke="url(#gur)" stroke-dasharray="0 2.75" d="M454 687L461 683L471 677L480 671L488 664L497 656L505 648L513 639L518 632"/>
<path stroke="url(#gr)" stroke-dasharray="0 3.50" d="M315 628L325 627L339 624L353 623L367 624L382 626L396 627L412 628L423 628"/>
<path stroke="url(#gr)" stroke-dasharray="0 3.92" d="M360 617L370 615L384 612L399 608L414 603L430 598L446 591L463 583L474 578"/>
<path stroke="url(#gur)" stroke-dasharray="0 3.15" d="M513 691L519 686L528 679L537 669L548 655L558 642L567 633L576 627L583 623"/>
<path stroke="url(#gr)" stroke-dasharray="0 4.61" d="M277 800L291 797L310 794L329 793L348 794L368 796L387 796L406 795L419 795"/>
<path stroke="#938bcf" d="M353 875h0m1-1h0m1 0h0m2-1h0m3-1h0m2-1h0m3-1h0m2-1h0"/><path stroke="#7f6ad6" d="M371 867h0m3-1h0m4-1h0m4-2h0m3-1h0m2-1h0m3-2h0m2-1h0"/><path stroke="#6547dd" d="M394 857h0m2-2h0m1-1h0m2-2h0m2-1h0m1-2h0m1-2h0m2-2h0"/><path stroke="#3019db" d="M406 844h0m1-2h0m1-1h0m1-2h0m2-1h0m1-1h0m0-1h0m1-1h0"/>
<path stroke="url(#gur)" stroke-dasharray="0 2.91" d="M534 730L542 726L552 721L561 714L566 705L571 696L580 687L591 677L599 671"/>
<path stroke="#938bcf" d="M129 650h0m2-1h0m2-1h0m2-1h0m3-1h0m3-1h0m3-1h0m3-1h0"/><path stroke="#7f6ad6" d="M150 641h0m4-1h0m3-1h0m3-1h0m3-1h0m3-1h0m2 0h0m2-1h0"/><path stroke="#6547dd" d="M172 635h0m2-1h0m2 0h0m2 0h0m2-1h0m2 0h0m1 0h0m2 0h0"/><path stroke="#3019db" d="M188 633h0m3 0h0m4 0h0m6-1h0m6-1h0m5 0h0m5-1h0m3 0h0"/>
<path stroke="url(#gr)" stroke-dasharray="0 3.44" d="M214 702L225 698L241 693L255 690L267 691L280 693L293 693L308 691L319 691"/>
<path stroke="#938bcf" d="M240 740h0m1 0h0m1-1h0m1 0h0"/><path stroke="#7f6ad6" d="M244 739h0m1 0h0m1-1h0m1 0h0m1 0h0m1 0h0m0-1h0"/><path stroke="#6547dd" d="M250 737h0m1 0h0m1 0h0m1 0h0m1-1h0m1 0h0m1 0h0"/><path stroke="#3019db" d="M256 736h0m1-1h0m1 0h0m1 0h0m1 0h0"/>
<path stroke="url(#gur)" stroke-dasharray="0 3.08" d="M509 653L517 652L529 650L540 645L551 637L562 628L573 622L586 618L594 615"/>
<path stroke="url(#gur)" stroke-dasharray="0 3.51" d="M411 801L420 796L433 789L443 782L450 773L458 763L468 751L481 738L490 728"/>
<path stroke="url(#gur)" stroke-dasharray="0 3.86" d="M372 843L382 834L396 821L408 812L420 806L432 800L445 792L459 782L470 775"/>
<path stroke="url(#gr)" stroke-dasharray="0 5.35" d="M286 664L303 662L327 659L350 658L370 658L390 658L411 654L434 648L450 644"/>
<path stroke="url(#gr)" stroke-dasharray="0 3.16" d="M360 603L370 599L384 595L396 594L406 598L415 601L428 601L443 597L454 594"/>
<path stroke="#938bcf" d="M505 834h0m0 1h0m1 1h0m0 1h0m0 2h0m1 2h0m1 2h0m0 1h0"/><path stroke="#7f6ad6" d="M509 846h0m1 1h0m1 2h0m1 1h0m1 2h0m1 1h0m1 2h0m1 1h0"/><path stroke="#6547dd" d="M517 857h0m1 1h0m2 1h0m1 1h0m1 1h0m1 1h0m2 0h0m1 1h0"/><path stroke="#3019db" d="M527 863h0m1 0h0m1 0h0m1-1h0m1 0h0m1 0h0m1-1h0m1 0h0"/>
<path stroke="#938bcf" d="M528 904h0m0 2h0m1 2h0m2 2h0m1 3h0m2 2h0m1 3h0m2 2h0"/><path stroke="#7f6ad6" d="M539 923h0m2 2h0m2 2h0m1 3h0m2 2h0m2 3h0m1 2h0m1 2h0"/><path stroke="#6547dd" d="M552 942h0m1 3h0m0 3h0m1 3h0m1 4h0m1 2h0m1 3h0m2 3h0"/><path stroke="#3019db" d="M561 966h0m1 2h0m2 1h0m2 0h0m2 0h0m2-1h0m2-1h0m1 0h0"/>
<path stroke="url(#gur)" stroke-dasharray="0 3.11" d="M388 826L395 821L406 813L415 805L424 795L433 784L441 775L450 765L456 759"/>
<path stroke="url(#gr)" stroke-dasharray="0 2.26" d="M426 709L434 709L446 709L455 709L460 709L466 709L475 711L487 714L495 716"/>
<path stroke="url(#gur)" stroke-dasharray="0 2.95" d="M457 656L464 654L475 650L486 647L498 643L510 639L521 633L531 625L539 619"/>
<path stroke="url(#gur)" stroke-dasharray="0 4.95" d="M399 813L410 803L425 790L441 777L458 764L476 751L493 740L510 728L522 721"/>
<path stroke="#938bcf" d="M239 727h0m0-1h0m0-1h0m1-1h0m0-1h0m0-1h0m1-1h0m0-1h0"/><path stroke="#7f6ad6" d="M241 719h0m0-1h0m0-1h0m-1-1h0m0-1h0m-1-1h0m0-1h0m-1-1h0"/><path stroke="#6547dd" d="M239 711h0m0-1h0m0-1h0m0-1h0m1-1h0m1-1h0m1-1h0"/><path stroke="#3019db" d="M243 704h0m2-1h0m2-1h0m2-1h0m2-1h0m2-1h0m1 0h0m1-1h0"/>
<path stroke="url(#gr)" stroke-dasharray="0 4.04" d="M211 670L222 667L238 662L254 658L269 655L285 652L302 649L320 646L333 644"/>
<path stroke="url(#gr)" stroke-dasharray="0 3.04" d="M204 645L214 645L229 645L241 643L252 637L262 630L273 626L285 624L294 622"/>
<path stroke="url(#gur)" stroke-dasharray="0 3.03" d="M416 812L422 803L432 792L441 784L453 778L464 774L473 767L482 759L488 754"/>
<path stroke="url(#gr)" stroke-dasharray="0 4.80" d="M221 674L235 674L256 674L275 673L293 673L312 672L331 669L353 664L368 660"/>
<path stroke="#938bcf" d="M180 672h0m1 0h0m1 0h0m1-1h0m2 0h0m2 0h0m2-1h0m2 0h0"/><path stroke="#7f6ad6" d="M192 670h0m2 0h0m2 0h0m2-1h0m2 1h0m2 0h0m2 0h0m1 0h0"/><path stroke="#6547dd" d="M207 670h0m2 0h0m2 1h0m2 0h0m2 0h0m2 0h0m2 0h0m2 0h0"/><path stroke="#3019db" d="M223 671h0m3-1h0m2 0h0m2 0h0m2 0h0m1 0h0m2 0h0m1 0h0"/>
<path stroke="url(#gr)" stroke-dasharray="0 3.15" d="M241 747L250 744L262 739L274 738L285 741L296 744L310 745L325 744L336 743"/>
<path stroke="url(#gr)" stroke-dasharray="0 2.92" d="M454 598L461 597L472 595L483 592L494 587L505 582L517 577L530 572L539 568"/>
<path stroke="url(#gr)" stroke-dasharray="0 3.36" d="M324 834L334 830L347 824L361 819L374 816L387 813L399 808L412 801L421 797"/>
<path stroke="url(#gur)" stroke-dasharray="0 4.16" d="M388 721L398 714L413 704L429 695L445 688L461 682L476 675L491 667L501 661"/>
<path stroke="url(#gr)" stroke-dasharray="0 3.84" d="M452 824L464 823L481 821L496 817L510 812L523 806L537 800L553 793L564 787"/>
<path stroke="#938bcf" d="M211 722h0m1-1h0m1-1h0m2-1h0m1-1h0m1-1h0m1-1h0"/><path stroke="#7f6ad6" d="M219 715h0m1-1h0m2-1h0m1-1h0m1-1h0m2 0h0m1-1h0m2-1h0"/><path stroke="#6547dd" d="M230 708h0m2-1h0m1 0h0m2-1h0m1-1h0m2 0h0m2-1h0m2 0h0"/><path stroke="#3019db" d="M244 703h0m2-1h0m3 0h0m3-1h0m2 0h0m3-1h0m2 0h0m1-1h0"/>
<path stroke="url(#gr)" stroke-dasharray="0 3.30" d="M302 602L313 598L329 593L342 593L353 597L364 602L377 601L390 596L400 592"/>
<path stroke="url(#gr)" stroke-dasharray="0 4.68" d="M288 637L302 632L321 626L339 623L356 623L374 625L394 623L416 620L431 618"/>
<path stroke="url(#gur)" stroke-dasharray="0 3.01" d="M475 707L481 697L490 684L498 674L503 667L509 661L517 652L527 642L534 635"/>
<path stroke="url(#gr)" stroke-dasharray="0 5.36" d="M185 672L203 672L228 670L250 668L269 664L288 661L309 659L333 658L350 658"/>
<path stroke="url(#gr)" stroke-dasharray="0 3.13" d="M330 673L339 672L352 671L365 671L378 671L390 671L403 672L417 672L427 672"/>
<path stroke="#1000d7" d="M380 886h0"/>
<path stroke="#938bcf" d="M292 795h0m0-1h0m1-1h0m0-1h0m0-1h0"/><path stroke="#7f6ad6" d="M293 791h0m1-1h0m0-1h0m1-1h0m1-1h0m0-1h0"/><path stroke="#6547dd" d="M297 786h0m1-1h0m1 0h0m1-1h0m1 0h0m1-1h0m1 0h0"/><path stroke="#3019db" d="M304 782h0m1-1h0m1 0h0m1 0h0m1-1h0m1 0h0"/>
<path stroke="url(#gr)" stroke-dasharray="0 5.38" d="M169 670L188 667L213 665L235 662L253 660L271 657L292 654L317 651L335 649"/>
<path stroke="url(#gr)" stroke-dasharray="0 4.15" d="M440 642L452 639L468 635L484 630L498 622L512 614L529 608L548 603L561 600"/>
<path stroke="url(#gr)" stroke-dasharray="0 3.12" d="M402 801L411 797L423 791L434 785L445 779L455 774L467 771L482 769L492 768"/>
<path stroke="url(#gr)" stroke-dasharray="0 3.14" d="M470 624L478 621L490 617L502 613L515 609L528 605L541 602L554 600L564 598"/>
<path stroke="url(#gr)" stroke-dasharray="0 4.04" d="M242 609L255 608L273 606L289 605L302 604L316 602L333 601L352 599L367 598"/>
<path stroke="url(#gur)" stroke-dasharray="0 2.86" d="M509 685L516 681L526 676L534 669L539 657L545 645L554 637L565 631L573 627"/>
<path stroke="url(#gr)" stroke-dasharray="0 3.14" d="M344 636L353 635L367 634L379 634L390 635L402 637L415 636L430 633L440 631"/>
<path stroke="#938bcf" d="M281 802h0m1 0h0m3 0h0m3-1h0m3 0h0m4 0h0m3 0h0m3 0h0"/><path stroke="#7f6ad6" d="M303 801h0m2 0h0m1 1h0m1 1h0m1 1h0m1 1h0m1 1h0m2 1h0"/><path stroke="#6547dd" d="M314 807h0m2 1h0m3 1h0m3 0h0m3 1h0m3 0h0m3 1h0m2 0h0"/><path stroke="#3019db" d="M336 812h0m2 0h0m2 1h0m3 1h0m2 0h0m2 1h0m1 0h0m1 0h0"/>
<path stroke="url(#gr)" stroke-dasharray="0 5.01" d="M230 663L247 659L270 655L291 652L308 653L326 653L346 651L368 646L384 643"/>
<path stroke="url(#gr)" stroke-dasharray="0 3.98" d="M331 619L344 621L363 624L380 624L395 622L410 619L426 616L442 613L453 611"/>
<path stroke="url(#gr)" stroke-dasharray="0 3.79" d="M264 641L274 642L288 643L302 641L317 635L332 629L348 629L365 631L378 634"/>
<path stroke="url(#gr)" stroke-dasharray="0 4.16" d="M328 699L340 696L357 691L372 688L387 687L401 685L419 681L439 675L453 670"/>
<path stroke="url(#gr)" stroke-dasharray="0 3.03" d="M311 678L322 677L336 676L347 674L356 673L365 671L377 667L391 660L401 655"/>
<path stroke="url(#gr)" stroke-dasharray="0 2.49" d="M445 592L453 588L465 583L474 582L483 585L491 588L500 586L509 581L516 576"/>
<path stroke="url(#gr)" stroke-dasharray="0 4.73" d="M299 744L314 742L335 739L353 733L368 723L384 712L401 705L421 700L436 696"/>
<path stroke="#938bcf" d="M315 843h0m2-1h0m2-1h0m2-2h0m3-1h0m3-2h0m4-1h0m4-1h0"/><path stroke="#7f6ad6" d="M339 832h0m5-1h0m3-1h0m3 0h0m2 1h0m1 1h0m1 1h0m2 1h0"/><path stroke="#6547dd" d="M358 834h0m3 1h0m3 0h0m4 1h0m3 0h0m3 0h0m4 0h0m3 0h0"/><path stroke="#3019db" d="M384 836h0m3 0h0m4 0h0m3 1h0m4 1h0m4 1h0m3 1h0m2 0h0"/>
<path stroke="#1000d7" d="M456 853h0"/>
<path stroke="url(#gr)" stroke-dasharray="0 2.82" d="M214 643L221 643L232 643L243 644L253 646L264 648L277 647L290 644L300 641"/>
<path stroke="url(#gur)" stroke-dasharray="0 3.18" d="M452 730L459 727L469 723L480 715L492 704L504 693L516 687L528 684L536 682"/>
<path stroke="#938bcf" d="M111 699h0m1-1h0m1-1h0m1-1h0"/><path stroke="#7f6ad6" d="M115 695h0m1-1h0m1-1h0m1 0h0m1-1h0"/><path stroke="#6547dd" d="M120 692h0m0-1h0m1 0h0m1 0h0m0-1h0m1 0h0m1 0h0"/><path stroke="#3019db" d="M125 691h0m1 0h0m1 1h0m1 0h0"/>
<path stroke="url(#gr)" stroke-dasharray="0 3.97" d="M453 679L464 673L479 665L494 659L509 656L525 652L540 647L556 639L567 634"/>
<path stroke="url(#gur)" stroke-dasharray="0 2.20" d="M422 603L428 599L437 594L445 591L450 591L456 591L464 586L474 578L481 573"/>
<path stroke="url(#gur)" stroke-dasharray="0 3.42" d="M371 752L381 748L394 742L407 737L418 732L430 726L443 720L457 713L468 708"/>
<path stroke="url(#gr)" stroke-dasharray="0 3.87" d="M395 832L407 825L423 817L437 810L450 804L462 800L478 797L495 795L507 794"/>
<path stroke="url(#gr)" stroke-dasharray="0 2.79" d="M435 721L442 721L452 719L462 716L475 711L488 705L499 700L509 695L516 692"/>
<path stroke="url(#gr)" stroke-dasharray="0 3.29" d="M166 664L177 666L192 670L206 671L216 671L227 670L240 671L256 673L267 675"/>
<path stroke="url(#gr)" stroke-dasharray="0 3.23" d="M397 594L407 591L421 588L434 583L446 576L458 570L470 567L483 566L491 566"/>
<path stroke="url(#gur)" stroke-dasharray="0 3.00" d="M483 771L491 767L501 762L509 754L514 744L518 733L527 723L538 713L546 706"/>
<path stroke="url(#gur)" stroke-dasharray="0 2.76" d="M431 732L440 728L451 723L461 719L468 715L475 711L484 704L495 694L503 687"/>
<path stroke="url(#gr)" stroke-dasharray="0 2.42" d="M538 631L545 627L556 621L565 616L574 614L583 612L592 610L602 609L608 608"/>
<path stroke="url(#gur)" stroke-dasharray="0 4.40" d="M425 741L436 735L453 725L469 718L485 712L502 706L518 699L536 689L548 683"/>
<path stroke="url(#gr)" stroke-dasharray="0 4.95" d="M165 697L180 698L201 700L221 699L241 695L261 691L282 689L303 688L318 688"/>
<path stroke="url(#gr)" stroke-dasharray="0 3.73" d="M417 653L429 657L446 662L461 665L475 663L488 661L502 663L518 669L529 673"/>
<path stroke="url(#gur)" stroke-dasharray="0 3.77" d="M388 599L398 596L414 590L427 585L439 581L452 576L467 569L483 561L495 554"/>
<path stroke="#1000d7" d="M564 787h0"/>
<path stroke="url(#gr)" stroke-dasharray="0 5.25" d="M246 606L260 606L281 606L302 603L325 598L348 593L370 592L392 593L407 595"/>
<path stroke="url(#gur)" stroke-dasharray="0 2.81" d="M390 622L398 619L408 614L418 607L425 595L433 584L441 576L450 572L456 569"/>
<path stroke="url(#gr)" stroke-dasharray="0 2.81" d="M470 710L478 710L489 709L498 705L506 697L515 688L526 684L539 683L548 683"/>
<path stroke="url(#gr)" stroke-dasharray="0 3.17" d="M219 644L229 644L242 644L255 642L266 636L277 630L290 626L304 624L314 622"/>
<path stroke="url(#gr)" stroke-dasharray="0 3.05" d="M450 607L460 602L474 595L486 591L496 593L505 594L516 591L529 584L537 579"/>
<path stroke="#938bcf" d="M198 702h0m1 0h0m1 0h0m2-1h0m2 0h0m2-1h0m2 0h0m2-1h0"/><path stroke="#7f6ad6" d="M212 699h0m2 0h0m2-1h0m2 0h0m1 0h0m2 0h0m2 0h0m2-1h0"/><path stroke="#6547dd" d="M227 697h0m2 0h0m1 0h0m2 0h0m3 0h0m2 0h0m2 0h0m3-1h0"/><path stroke="#3019db" d="M244 696h0m3 0h0m3-1h0m2 0h0m3 0h0m2 0h0m2-1h0m1 0h0"/>
<path stroke="#938bcf" d="M205 696h0m0-1h0m0-1h0m0-2h0m0-1h0m1-2h0m0-1h0m1-2h0"/><path stroke="#7f6ad6" d="M207 685h0m1-1h0m1-2h0m1-1h0m2-1h0m1-1h0m1-2h0m2-1h0"/><path stroke="#6547dd" d="M217 676h0m2-1h0m1-1h0m2 0h0m1-1h0m2 0h0m2-1h0m2 0h0"/><path stroke="#3019db" d="M231 672h0m3 0h0m3 0h0m3 0h0m3 1h0m3 0h0m3 0h0m1 0h0"/>
<path stroke="#938bcf" d="M311 834h0m2 0h0m2-1h0m3-1h0m3-1h0m4-1h0m3-1h0m3 0h0"/><path stroke="#7f6ad6" d="M335 828h0m3-1h0m3-1h0m3-1h0m3-1h0m3 0h0m3-1h0m2-1h0"/><path stroke="#6547dd" d="M358 821h0m3 0h0m2-1h0m2 0h0m3-1h0m2 0h0m2-1h0m3 0h0"/><path stroke="#3019db" d="M378 817h0m2-1h0m4-1h0m3-1h0m3-1h0m2-1h0m3 0h0m1-1h0"/>
<path stroke="url(#gur)" stroke-dasharray="0 2.37" d="M441 727L446 722L453 716L461 710L470 705L479 701L488 696L497 692L504 689"/>
<path stroke="#938bcf" d="M490 807h0m-2 1h0m-2 2h0m-3 1h0m-3 2h0m-3 2h0m-3 2h0m-3 2h0"/><path stroke="#7f6ad6" d="M469 820h0m-2 1h0m-2 1h0m-2 0h0m-2 1h0m-1 0h0m-2 1h0m-2 0h0"/><path stroke="#6547dd" d="M454 825h0m-3 1h0m-2 1h0m-2 0h0m-3 1h0m-2 1h0m-3 0h0m-2 1h0"/><path stroke="#3019db" d="M434 831h0m-3 0h0m-3 1h0m-3 1h0m-3 1h0m-3 0h0m-2 1h0m-2 0h0"/>
<path stroke="#938bcf" d="M512 716h0m1-1h0m1 0h0m1 0h0m2 0h0m1 0h0m2-1h0m2 0h0"/><path stroke="#7f6ad6" d="M524 713h0m1 0h0m2 0h0m2-1h0m1 0h0m2-1h0m2 0h0m2-1h0"/><path stroke="#6547dd" d="M538 709h0m2 0h0m2-1h0m2-1h0m1 0h0m2-1h0m1-1h0m2 0h0"/><path stroke="#3019db" d="M551 704h0m2-1h0m1 0h0m1-1h0m1-1h0m1 0h0m1-1h0m1 0h0"/>
<path stroke="url(#gr)" stroke-dasharray="0 4.38" d="M325 752L339 750L357 746L374 740L388 730L402 720L418 712L437 706L450 702"/>
<path stroke="url(#gur)" stroke-dasharray="0 4.45" d="M387 809L396 801L407 788L417 773L424 752L431 732L440 716L451 703L459 694"/>
<path stroke="url(#gur)" stroke-dasharray="0 3.79" d="M433 620L442 615L456 608L470 601L484 595L498 589L513 584L529 579L541 575"/>
<path stroke="url(#gr)" stroke-dasharray="0 4.88" d="M198 666L213 670L233 675L252 679L270 679L287 678L308 680L331 683L348 685"/>
<path stroke="url(#gur)" stroke-dasharray="0 4.15" d="M425 769L434 760L446 747L459 735L472 724L485 713L497 701L509 688L517 679"/>
<path stroke="url(#gr)" stroke-dasharray="0 3.14" d="M181 673L190 670L202 665L214 660L225 654L237 648L250 645L263 643L273 642"/>
<path stroke="url(#gr)" stroke-dasharray="0 3.42" d="M264 659L273 656L285 650L298 645L313 639L328 633L342 629L355 626L364 625"/>
<path stroke="url(#gur)" stroke-dasharray="0 5.27" d="M426 784L439 777L456 766L473 751L488 732L504 712L519 697L536 686L548 678"/>
<path stroke="url(#gr)" stroke-dasharray="0 2.86" d="M153 648L161 647L173 645L184 643L195 641L207 639L219 639L231 642L240 645"/>
<path stroke="url(#gr)" stroke-dasharray="0 3.52" d="M477 614L487 610L501 605L514 603L527 604L540 605L554 601L570 594L581 589"/>
<path stroke="url(#gr)" stroke-dasharray="0 3.65" d="M209 648L221 647L238 646L254 645L268 642L282 640L297 639L311 640L322 640"/>
<path stroke="url(#gr)" stroke-dasharray="0 5.00" d="M200 629L216 626L237 623L258 622L276 625L295 629L316 628L338 624L353 621"/>
<path stroke="url(#gr)" stroke-dasharray="0 2.91" d="M300 630L308 627L319 624L331 623L344 626L357 629L369 630L380 629L388 629"/>
<path stroke="url(#gr)" stroke-dasharray="0 3.29" d="M248 663L259 659L274 655L287 654L298 657L308 660L321 661L337 659L348 658"/>
<path stroke="url(#gr)" stroke-dasharray="0 3.92" d="M231 646L244 643L262 639L277 635L289 630L301 625L316 623L335 621L349 621"/>
<path stroke="url(#gur)" stroke-dasharray="0 2.34" d="M465 622L470 617L477 609L485 602L493 596L502 591L510 588L519 586L525 585"/>
<path stroke="url(#gr)" stroke-dasharray="0 5.30" d="M287 643L303 647L326 652L348 654L370 654L391 653L413 654L435 658L450 660"/>
<path stroke="url(#gr)" stroke-dasharray="0 4.36" d="M155 667L169 665L188 662L205 659L220 657L235 653L252 648L272 639L286 633"/>
<path stroke="url(#gur)" stroke-dasharray="0 3.55" d="M418 762L426 757L437 751L448 743L458 732L470 720L483 712L497 705L508 700"/>
<path stroke="url(#gur)" stroke-dasharray="0 4.34" d="M440 700L451 692L466 682L481 673L497 668L512 662L527 653L543 640L553 630"/>
<path stroke="url(#gr)" stroke-dasharray="0 2.81" d="M172 648L181 650L192 652L203 654L214 655L225 655L237 653L249 650L258 647"/>
<path stroke="url(#gur)" stroke-dasharray="0 4.04" d="M406 775L412 765L422 750L431 736L442 722L452 709L462 695L471 682L478 673"/>
<path stroke="#938bcf" d="M458 968h0m5-6h0m6-9h0m6-7h0m5-8h0m5-7h0m5-6h0m4-5h0"/><path stroke="#7f6ad6" d="M498 914h0m4-5h0m4-5h0m3-5h0m2-6h0m2-6h0m1-6h0m3-5h0"/><path stroke="#6547dd" d="M520 872h0m4-4h0m4-3h0m4-3h0m3-1h0m4-2h0m3-4h0m2-6h0"/><path stroke="#3019db" d="M547 843h0m2-7h0m3-6h0m3-6h0m2-6h0m3-3h0m2-2h0m2-1h0"/>
<path stroke="url(#gr)" stroke-dasharray="0 5.42" d="M172 653L189 652L212 651L233 649L252 644L271 639L294 637L320 638L339 638"/>
<path stroke="url(#gr)" stroke-dasharray="0 5.14" d="M156 650L170 646L191 641L212 638L234 637L255 636L276 634L298 630L313 627"/>
<path stroke="url(#gr)" stroke-dasharray="0 4.53" d="M300 689L312 695L329 703L346 709L364 712L382 715L400 722L419 730L432 736"/>
<path stroke="url(#gur)" stroke-dasharray="0 3.25" d="M502 724L507 720L516 715L525 706L537 693L549 679L559 669L568 660L574 655"/>
<path stroke="url(#gur)" stroke-dasharray="0 2.63" d="M463 595L469 593L477 589L486 585L495 580L504 574L513 567L524 558L531 552"/>
<path stroke="url(#gur)" stroke-dasharray="0 3.81" d="M399 692L408 686L421 677L434 667L446 657L458 646L470 636L483 627L491 620"/>
</g>
<path d="M112.3 683.0L115.3 680.1L118.3 677.3L121.3 674.5L124.3 671.9L127.3 669.3L130.3 666.7L133.3 664.3L136.3 661.8L139.3 659.5L142.3 657.1L145.3 654.8L148.3 652.5L151.3 650.2L154.3 648.0L157.3 645.8L160.3 643.6L163.3 641.5L166.3 639.4L169.3 637.3L172.3 635.3L175.3 633.2L178.3 631.2L181.3 629.1L184.3 627.1L187.3 625.2L190.3 623.3L193.3 621.5L196.3 619.9L199.3 618.3L202.3 616.9L205.3 615.6L208.3 614.4L211.3 613.3L214.3 612.3L217.3 611.3L220.3 610.4L223.3 609.6L226.3 608.8L229.3 608.1L232.3 607.4L235.3 606.7L238.3 606.1L241.3 605.5L244.3 605.0L247.3 604.5L250.3 604.0L253.3 603.6L256.3 603.1L259.3 602.7L262.3 602.2L265.3 601.8L268.3 601.3L271.3 600.8L274.3 600.3L277.3 599.8L280.3 599.3L283.3 598.7L286.3 598.2L289.3 597.6L292.3 597.0L295.3 596.4L298.3 595.7L301.3 595.0L304.3 594.4L307.3 593.6L310.3 592.9L313.3 592.1L316.3 591.2L319.3 590.4L322.3 589.5L325.3 588.5L328.3 587.6L331.3 586.7L334.3 585.8L337.3 584.9L340.3 584.0L343.3 583.1L346.3 582.2L349.3 581.4L352.3 580.5L355.3 579.7L358.3 578.8L361.3 577.9L364.3 577.0L367.3 576.1L370.3 575.1L373.3 574.0L376.3 572.9L379.3 571.8L382.3 570.7L385.3 569.7L388.3 568.8L391.3 568.1L394.3 567.5L397.3 567.0L400.3 566.6L403.3 566.4L406.3 566.2L409.3 566.0L412.3 565.9L415.3 565.7L418.3 565.6L421.3 565.4L424.3 565.2L427.3 564.9L430.3 564.7L433.3 564.3L436.3 564.0L439.3 563.6L442.3 563.2L445.3 562.8L448.3 562.4L451.3 562.0L454.3 561.5L457.3 561.1L460.3 560.7L463.3 560.2L466.3 559.8L469.3 559.3L472.3 558.9L475.3 558.4L478.3 558.0L481.3 557.6L484.3 557.2L487.3 556.8L490.3 556.4L493.3 556.1L496.3 555.7L499.3 555.4L502.3 555.1L505.3 554.7L508.3 554.4L511.3 554.2L514.3 553.9L517.3 553.7L520.3 553.5L523.3 553.3L526.3 553.2L529.3 553.0L532.3 553.0L535.3 552.9L538.3 552.8L541.3 552.8L544.3 552.8L547.3 552.7L550.3 552.7L553.3 552.7L556.3 552.7L559.3 552.7L562.3 552.7L565.3 552.7L568.3 552.7L571.3 552.8L574.3 552.8L577.3 552.9L580.3 552.9L583.3 553.0L586.3 553.1L589.3 553.1L592.3 553.2L595.3 553.3L598.3 553.4L601.3 553.5L602.3 553.5" fill="none" stroke="#000" stroke-width="2.5"/>
</g>
<path d="M56.0 530.2 V991.8 H673.7" fill="none" stroke="#000" stroke-width="1.6"/>
<line x1="52.0" y1="610.70" x2="56.0" y2="610.70" stroke="#333" stroke-width="1.4"/>
<text x="49.0" y="615.20" text-anchor="end" font-size="12.5" fill="#4d4d4d">200</text>
<line x1="52.0" y1="758.10" x2="56.0" y2="758.10" stroke="#333" stroke-width="1.4"/>
<text x="49.0" y="762.60" text-anchor="end" font-size="12.5" fill="#4d4d4d">400</text>
<line x1="52.0" y1="905.50" x2="56.0" y2="905.50" stroke="#333" stroke-width="1.4"/>
<text x="49.0" y="910.00" text-anchor="end" font-size="12.5" fill="#4d4d4d">600</text>
<line x1="84.00" y1="991.8" x2="84.00" y2="995.8" stroke="#333" stroke-width="1.4"/>
<text x="84.00" y="1008.4" text-anchor="middle" font-size="12.5" fill="#4d4d4d">0.0</text>
<line x1="196.38" y1="991.8" x2="196.38" y2="995.8" stroke="#333" stroke-width="1.4"/>
<text x="196.38" y="1008.4" text-anchor="middle" font-size="12.5" fill="#4d4d4d">0.2</text>
<line x1="308.76" y1="991.8" x2="308.76" y2="995.8" stroke="#333" stroke-width="1.4"/>
<text x="308.76" y="1008.4" text-anchor="middle" font-size="12.5" fill="#4d4d4d">0.4</text>
<line x1="421.14" y1="991.8" x2="421.14" y2="995.8" stroke="#333" stroke-width="1.4"/>
<text x="421.14" y="1008.4" text-anchor="middle" font-size="12.5" fill="#4d4d4d">0.6</text>
<line x1="533.52" y1="991.8" x2="533.52" y2="995.8" stroke="#333" stroke-width="1.4"/>
<text x="533.52" y="1008.4" text-anchor="middle" font-size="12.5" fill="#4d4d4d">0.8</text>
<line x1="645.90" y1="991.8" x2="645.90" y2="995.8" stroke="#333" stroke-width="1.4"/>
<text x="645.90" y="1008.4" text-anchor="middle" font-size="12.5" fill="#4d4d4d">1.0</text>
<text x="364.9" y="1026.4" text-anchor="middle" font-size="15.8" fill="#000">Social demographic index</text>
<text transform="translate(19.8 761.0) rotate(-90)" text-anchor="middle" font-size="15.8" fill="#000">Age-standardized prevalence rate (per 100,000)</text>
<text x="4.4" y="549.4" font-size="31.8" font-weight="bold" fill="#000">C</text>
<defs><linearGradient id="ygC" x1="0" y1="1" x2="0" y2="0"><stop offset="0" stop-color="#9a99cc"/><stop offset="0.25" stop-color="#8a79d3"/><stop offset="0.5" stop-color="#7459da"/><stop offset="0.75" stop-color="#5637e0"/><stop offset="1" stop-color="#1000d7"/></linearGradient></defs>
<rect x="697.8" y="710.4" width="24.4" height="123.0" fill="url(#ygC)"/>
<text x="730.5" y="838.4" font-size="12.6" fill="#000">1990</text>
<line x1="697.8" y1="793.7" x2="702.7" y2="793.7" stroke="#fff" stroke-opacity="0.75" stroke-width="1"/>
<line x1="717.3" y1="793.7" x2="722.2" y2="793.7" stroke="#fff" stroke-opacity="0.75" stroke-width="1"/>
<text x="730.5" y="798.7" font-size="12.6" fill="#000">2000</text>
<line x1="697.8" y1="754.0" x2="702.7" y2="754.0" stroke="#fff" stroke-opacity="0.75" stroke-width="1"/>
<line x1="717.3" y1="754.0" x2="722.2" y2="754.0" stroke="#fff" stroke-opacity="0.75" stroke-width="1"/>
<text x="730.5" y="759.0" font-size="12.6" fill="#000">2010</text>
<line x1="697.8" y1="714.4" x2="702.7" y2="714.4" stroke="#fff" stroke-opacity="0.75" stroke-width="1"/>
<line x1="717.3" y1="714.4" x2="722.2" y2="714.4" stroke="#fff" stroke-opacity="0.75" stroke-width="1"/>
<text x="730.5" y="719.4" font-size="12.6" fill="#000">2020</text>
<text x="697.6" y="700.4" font-size="15.4" fill="#000">year</text>
<line x1="829.2" y1="537.00" x2="1420.3" y2="537.00" stroke="#ececec" stroke-width="0.9"/>
<line x1="829.2" y1="685.60" x2="1420.3" y2="685.60" stroke="#ececec" stroke-width="0.9"/>
<line x1="829.2" y1="834.20" x2="1420.3" y2="834.20" stroke="#ececec" stroke-width="0.9"/>
<line x1="829.2" y1="982.80" x2="1420.3" y2="982.80" stroke="#ececec" stroke-width="0.9"/>
<line x1="909.86" y1="530.1" x2="909.86" y2="991.8" stroke="#ececec" stroke-width="0.9"/>
<line x1="1017.38" y1="530.1" x2="1017.38" y2="991.8" stroke="#ececec" stroke-width="0.9"/>
<line x1="1124.90" y1="530.1" x2="1124.90" y2="991.8" stroke="#ececec" stroke-width="0.9"/>
<line x1="1232.42" y1="530.1" x2="1232.42" y2="991.8" stroke="#ececec" stroke-width="0.9"/>
<line x1="1339.94" y1="530.1" x2="1339.94" y2="991.8" stroke="#ececec" stroke-width="0.9"/>
<line x1="829.2" y1="611.30" x2="1420.3" y2="611.30" stroke="#cbcbcb" stroke-width="1.2"/>
<line x1="829.2" y1="759.90" x2="1420.3" y2="759.90" stroke="#cbcbcb" stroke-width="1.2"/>
<line x1="829.2" y1="908.50" x2="1420.3" y2="908.50" stroke="#cbcbcb" stroke-width="1.2"/>
<line x1="856.10" y1="530.1" x2="856.10" y2="991.8" stroke="#cbcbcb" stroke-width="1.2"/>
<line x1="963.62" y1="530.1" x2="963.62" y2="991.8" stroke="#cbcbcb" stroke-width="1.2"/>
<line x1="1071.14" y1="530.1" x2="1071.14" y2="991.8" stroke="#cbcbcb" stroke-width="1.2"/>
<line x1="1178.66" y1="530.1" x2="1178.66" y2="991.8" stroke="#cbcbcb" stroke-width="1.2"/>
<line x1="1286.18" y1="530.1" x2="1286.18" y2="991.8" stroke="#cbcbcb" stroke-width="1.2"/>
<line x1="1393.70" y1="530.1" x2="1393.70" y2="991.8" stroke="#cbcbcb" stroke-width="1.2"/>
<circle cx="946.3" cy="634.5" r="4.8" fill="#0000CD"/>
<circle cx="985.1" cy="632.0" r="4.8" fill="#0000CD"/>
<circle cx="1000.1" cy="616.5" r="4.8" fill="#0000CD"/>
<circle cx="1009.0" cy="612.5" r="4.8" fill="#0000CD"/>
<circle cx="1037.2" cy="603.8" r="4.8" fill="#0000CD"/>
<circle cx="1098.1" cy="590.8" r="4.8" fill="#0000CD"/>
<circle cx="1084.8" cy="613.6" r="4.8" fill="#0000CD"/>
<circle cx="1088.8" cy="622.2" r="4.8" fill="#0000CD"/>
<circle cx="1108.4" cy="610.8" r="4.8" fill="#0000CD"/>
<circle cx="1109.2" cy="621.4" r="4.8" fill="#0000CD"/>
<circle cx="1056.7" cy="622.6" r="4.8" fill="#0000CD"/>
<circle cx="1075.8" cy="623.1" r="4.8" fill="#0000CD"/>
<circle cx="1075.3" cy="627.6" r="4.8" fill="#0000CD"/>
<circle cx="1045.3" cy="628.8" r="4.8" fill="#0000CD"/>
<circle cx="1048.9" cy="634.1" r="4.8" fill="#0000CD"/>
<circle cx="1036.7" cy="642.9" r="4.8" fill="#0000CD"/>
<circle cx="1062.8" cy="641.8" r="4.8" fill="#0000CD"/>
<circle cx="1083.5" cy="641.3" r="4.8" fill="#0000CD"/>
<circle cx="1099.7" cy="639.0" r="4.8" fill="#0000CD"/>
<circle cx="1094.5" cy="645.0" r="4.8" fill="#0000CD"/>
<circle cx="1096.2" cy="649.9" r="4.8" fill="#0000CD"/>
<circle cx="1090.0" cy="656.8" r="4.8" fill="#0000CD"/>
<circle cx="1108.4" cy="659.2" r="4.8" fill="#0000CD"/>
<circle cx="1005.4" cy="645.5" r="4.8" fill="#0000CD"/>
<circle cx="1022.1" cy="648.3" r="4.8" fill="#0000CD"/>
<circle cx="1011.5" cy="669.8" r="4.8" fill="#0000CD"/>
<circle cx="1031.3" cy="676.0" r="4.8" fill="#B0493A"/>
<circle cx="1062.0" cy="666.7" r="4.8" fill="#B0493A"/>
<circle cx="1108.4" cy="669.5" r="4.8" fill="#0000CD"/>
<circle cx="1073.0" cy="685.0" r="4.8" fill="#0000CD"/>
<circle cx="1079.9" cy="689.0" r="4.8" fill="#0000CD"/>
<circle cx="1108.4" cy="686.6" r="4.8" fill="#B0493A"/>
<circle cx="1182.5" cy="566.5" r="4.8" fill="#0000CD"/>
<circle cx="1147.4" cy="574.3" r="4.8" fill="#0000CD"/>
<circle cx="1212.2" cy="569.7" r="4.8" fill="#0000CD"/>
<circle cx="1231.0" cy="560.4" r="4.8" fill="#0000CD"/>
<circle cx="1249.6" cy="554.6" r="4.8" fill="#0000CD"/>
<circle cx="1260.9" cy="553.7" r="4.8" fill="#0000CD"/>
<circle cx="1283.9" cy="551.9" r="4.8" fill="#0000CD"/>
<circle cx="1294.3" cy="550.4" r="4.8" fill="#0000CD"/>
<circle cx="1285.2" cy="561.9" r="4.8" fill="#0000CD"/>
<circle cx="1281.5" cy="568.3" r="4.8" fill="#0000CD"/>
<circle cx="1291.5" cy="568.3" r="4.8" fill="#0000CD"/>
<circle cx="1308.9" cy="566.5" r="4.8" fill="#0000CD"/>
<circle cx="1311.6" cy="573.7" r="4.8" fill="#0000CD"/>
<circle cx="1316.7" cy="581.6" r="4.8" fill="#0000CD"/>
<circle cx="1245.9" cy="566.5" r="4.8" fill="#0000CD"/>
<circle cx="1245.9" cy="571.9" r="4.8" fill="#0000CD"/>
<circle cx="1235.9" cy="572.8" r="4.8" fill="#0000CD"/>
<circle cx="1229.5" cy="578.3" r="4.8" fill="#0000CD"/>
<circle cx="1233.2" cy="583.4" r="4.8" fill="#0000CD"/>
<circle cx="1244.1" cy="584.1" r="4.8" fill="#0000CD"/>
<circle cx="1269.3" cy="576.5" r="4.8" fill="#0000CD"/>
<circle cx="1269.3" cy="586.0" r="4.8" fill="#B0493A"/>
<circle cx="1277.9" cy="585.2" r="4.8" fill="#0000CD"/>
<circle cx="1283.0" cy="584.1" r="4.8" fill="#0000CD"/>
<circle cx="1289.7" cy="579.2" r="4.8" fill="#0000CD"/>
<circle cx="1293.4" cy="575.6" r="4.8" fill="#0000CD"/>
<circle cx="1301.6" cy="579.2" r="4.8" fill="#0000CD"/>
<circle cx="1302.8" cy="582.0" r="4.8" fill="#0000CD"/>
<circle cx="1311.2" cy="589.6" r="4.8" fill="#0000CD"/>
<circle cx="1331.7" cy="589.3" r="4.8" fill="#0000CD"/>
<circle cx="1312.5" cy="600.2" r="4.8" fill="#0000CD"/>
<circle cx="1315.2" cy="598.7" r="4.8" fill="#0000CD"/>
<circle cx="1256.5" cy="587.8" r="4.8" fill="#0000CD"/>
<circle cx="1256.0" cy="592.9" r="4.8" fill="#0000CD"/>
<circle cx="1265.1" cy="602.4" r="4.8" fill="#B0493A"/>
<circle cx="1195.2" cy="580.5" r="4.8" fill="#0000CD"/>
<circle cx="1212.2" cy="586.0" r="4.8" fill="#B0493A"/>
<circle cx="1210.4" cy="594.4" r="4.8" fill="#0000CD"/>
<circle cx="1221.3" cy="593.3" r="4.8" fill="#0000CD"/>
<circle cx="1223.1" cy="590.2" r="4.8" fill="#0000CD"/>
<circle cx="1190.8" cy="600.2" r="4.8" fill="#0000CD"/>
<circle cx="1158.4" cy="592.5" r="4.8" fill="#0000CD"/>
<circle cx="1165.3" cy="595.6" r="4.8" fill="#0000CD"/>
<circle cx="1170.8" cy="607.9" r="4.8" fill="#0000CD"/>
<circle cx="1126.5" cy="598.0" r="4.8" fill="#0000CD"/>
<circle cx="1100.0" cy="589.6" r="4.8" fill="#0000CD"/>
<circle cx="1357.6" cy="608.8" r="4.8" fill="#0000CD"/>
<circle cx="1344.4" cy="615.2" r="4.8" fill="#0000CD"/>
<circle cx="1209.4" cy="611.7" r="4.8" fill="#0000CD"/>
<circle cx="1239.0" cy="613.3" r="4.8" fill="#0000CD"/>
<circle cx="1245.9" cy="620.3" r="4.8" fill="#0000CD"/>
<circle cx="1248.7" cy="624.3" r="4.8" fill="#0000CD"/>
<circle cx="1269.6" cy="624.3" r="4.8" fill="#B0493A"/>
<circle cx="1271.5" cy="632.7" r="4.8" fill="#0000CD"/>
<circle cx="1259.6" cy="634.9" r="4.8" fill="#0000CD"/>
<circle cx="1287.0" cy="635.8" r="4.8" fill="#0000CD"/>
<circle cx="1290.6" cy="617.0" r="4.8" fill="#0000CD"/>
<circle cx="1291.2" cy="619.4" r="4.8" fill="#0000CD"/>
<circle cx="1309.8" cy="623.0" r="4.8" fill="#0000CD"/>
<circle cx="1333.1" cy="623.9" r="4.8" fill="#0000CD"/>
<circle cx="1323.5" cy="627.9" r="4.8" fill="#0000CD"/>
<circle cx="1305.2" cy="630.8" r="4.8" fill="#0000CD"/>
<circle cx="1311.6" cy="633.4" r="4.8" fill="#0000CD"/>
<circle cx="1318.0" cy="634.5" r="4.8" fill="#0000CD"/>
<circle cx="1306.1" cy="636.3" r="4.8" fill="#B0493A"/>
<circle cx="1319.8" cy="643.1" r="4.8" fill="#B0493A"/>
<circle cx="1327.1" cy="642.2" r="4.8" fill="#0000CD"/>
<circle cx="1333.5" cy="640.0" r="4.8" fill="#0000CD"/>
<circle cx="1341.7" cy="649.1" r="4.8" fill="#0000CD"/>
<circle cx="1325.3" cy="655.8" r="4.8" fill="#0000CD"/>
<circle cx="1338.1" cy="659.5" r="4.8" fill="#0000CD"/>
<circle cx="1325.8" cy="665.0" r="4.8" fill="#0000CD"/>
<circle cx="1327.1" cy="668.6" r="4.8" fill="#0000CD"/>
<circle cx="1349.0" cy="671.7" r="4.8" fill="#0000CD"/>
<circle cx="1130.6" cy="619.9" r="4.8" fill="#B0493A"/>
<circle cx="1113.7" cy="621.2" r="4.8" fill="#0000CD"/>
<circle cx="1124.1" cy="625.7" r="4.8" fill="#0000CD"/>
<circle cx="1137.4" cy="634.5" r="4.8" fill="#0000CD"/>
<circle cx="1142.9" cy="631.2" r="4.8" fill="#0000CD"/>
<circle cx="1147.4" cy="629.7" r="4.8" fill="#0000CD"/>
<circle cx="1169.3" cy="631.6" r="4.8" fill="#0000CD"/>
<circle cx="1180.6" cy="629.0" r="4.8" fill="#0000CD"/>
<circle cx="1188.1" cy="618.8" r="4.8" fill="#0000CD"/>
<circle cx="1201.6" cy="622.5" r="4.8" fill="#0000CD"/>
<circle cx="1197.0" cy="631.6" r="4.8" fill="#0000CD"/>
<circle cx="1187.9" cy="636.3" r="4.8" fill="#0000CD"/>
<circle cx="1101.5" cy="638.9" r="4.8" fill="#0000CD"/>
<circle cx="1142.9" cy="643.6" r="4.8" fill="#0000CD"/>
<circle cx="1162.4" cy="643.1" r="4.8" fill="#0000CD"/>
<circle cx="1205.8" cy="644.9" r="4.8" fill="#0000CD"/>
<circle cx="1119.2" cy="648.5" r="4.8" fill="#0000CD"/>
<circle cx="1127.0" cy="649.4" r="4.8" fill="#0000CD"/>
<circle cx="1127.7" cy="654.6" r="4.8" fill="#0000CD"/>
<circle cx="1127.7" cy="660.8" r="4.8" fill="#0000CD"/>
<circle cx="1110.6" cy="659.1" r="4.8" fill="#0000CD"/>
<circle cx="1159.6" cy="655.8" r="4.8" fill="#0000CD"/>
<circle cx="1222.6" cy="654.9" r="4.8" fill="#B0493A"/>
<circle cx="1206.2" cy="661.3" r="4.8" fill="#B0493A"/>
<circle cx="1193.4" cy="664.0" r="4.8" fill="#0000CD"/>
<circle cx="1255.4" cy="662.2" r="4.8" fill="#0000CD"/>
<circle cx="1111.9" cy="669.9" r="4.8" fill="#0000CD"/>
<circle cx="1118.2" cy="671.0" r="4.8" fill="#0000CD"/>
<circle cx="1183.9" cy="672.8" r="4.8" fill="#0000CD"/>
<circle cx="1198.5" cy="672.3" r="4.8" fill="#0000CD"/>
<circle cx="1209.1" cy="671.3" r="4.8" fill="#0000CD"/>
<circle cx="1233.2" cy="674.1" r="4.8" fill="#0000CD"/>
<circle cx="1281.5" cy="674.1" r="4.8" fill="#B0493A"/>
<circle cx="1270.6" cy="679.0" r="4.8" fill="#0000CD"/>
<circle cx="1288.8" cy="683.2" r="4.8" fill="#0000CD"/>
<circle cx="1299.7" cy="679.0" r="4.8" fill="#0000CD"/>
<circle cx="1300.3" cy="684.1" r="4.8" fill="#0000CD"/>
<circle cx="1257.2" cy="688.7" r="4.8" fill="#0000CD"/>
<circle cx="1270.4" cy="680.0" r="4.8" fill="#0000CD"/>
<circle cx="1288.6" cy="683.9" r="4.8" fill="#0000CD"/>
<circle cx="1299.7" cy="683.9" r="4.8" fill="#0000CD"/>
<circle cx="1257.9" cy="690.7" r="4.8" fill="#0000CD"/>
<circle cx="1269.6" cy="693.7" r="4.8" fill="#0000CD"/>
<circle cx="1261.8" cy="701.1" r="4.8" fill="#0000CD"/>
<circle cx="897.8" cy="693.8" r="4.8" fill="#0000CD"/>
<circle cx="1080.7" cy="691.9" r="4.8" fill="#0000CD"/>
<circle cx="1071.2" cy="732.1" r="4.8" fill="#0000CD"/>
<circle cx="1097.0" cy="744.7" r="4.8" fill="#0000CD"/>
<circle cx="1120.5" cy="696.6" r="4.8" fill="#0000CD"/>
<circle cx="1146.3" cy="703.5" r="4.8" fill="#0000CD"/>
<circle cx="1159.0" cy="724.6" r="4.8" fill="#0000CD"/>
<circle cx="1131.7" cy="742.5" r="4.8" fill="#0000CD"/>
<circle cx="1137.7" cy="739.2" r="4.8" fill="#0000CD"/>
<circle cx="1192.4" cy="697.6" r="4.8" fill="#0000CD"/>
<circle cx="1197.1" cy="706.0" r="4.8" fill="#0000CD"/>
<circle cx="1205.9" cy="703.1" r="4.8" fill="#0000CD"/>
<circle cx="1215.3" cy="695.2" r="4.8" fill="#0000CD"/>
<circle cx="1217.3" cy="708.9" r="4.8" fill="#0000CD"/>
<circle cx="1223.1" cy="708.9" r="4.8" fill="#0000CD"/>
<circle cx="1215.3" cy="713.6" r="4.8" fill="#0000CD"/>
<circle cx="1213.3" cy="719.7" r="4.8" fill="#0000CD"/>
<circle cx="1188.9" cy="737.7" r="4.8" fill="#B0493A"/>
<circle cx="1244.6" cy="705.4" r="4.8" fill="#0000CD"/>
<circle cx="1241.7" cy="708.9" r="4.8" fill="#0000CD"/>
<circle cx="1249.5" cy="717.1" r="4.8" fill="#B0493A"/>
<circle cx="1259.3" cy="718.7" r="4.8" fill="#0000CD"/>
<circle cx="1257.3" cy="723.4" r="4.8" fill="#0000CD"/>
<circle cx="1245.0" cy="730.0" r="4.8" fill="#0000CD"/>
<circle cx="1274.9" cy="722.0" r="4.8" fill="#0000CD"/>
<circle cx="1297.8" cy="707.4" r="4.8" fill="#0000CD"/>
<circle cx="1288.2" cy="731.2" r="4.8" fill="#0000CD"/>
<circle cx="1316.5" cy="748.0" r="4.8" fill="#0000CD"/>
<circle cx="1332.6" cy="748.8" r="4.8" fill="#0000CD"/>
<circle cx="1223.1" cy="753.9" r="4.8" fill="#0000CD"/>
<circle cx="1212.0" cy="760.5" r="4.8" fill="#0000CD"/>
<circle cx="1242.7" cy="755.6" r="4.8" fill="#0000CD"/>
<circle cx="1232.5" cy="763.1" r="4.8" fill="#0000CD"/>
<circle cx="1271.0" cy="760.5" r="4.8" fill="#0000CD"/>
<circle cx="1246.2" cy="769.9" r="4.8" fill="#0000CD"/>
<circle cx="1225.1" cy="776.7" r="4.8" fill="#0000CD"/>
<circle cx="1237.2" cy="783.0" r="4.8" fill="#0000CD"/>
<circle cx="1218.8" cy="793.0" r="4.8" fill="#0000CD"/>
<circle cx="1261.2" cy="795.7" r="4.8" fill="#0000CD"/>
<circle cx="1315.0" cy="789.4" r="4.8" fill="#0000CD"/>
<circle cx="1318.5" cy="805.5" r="4.8" fill="#0000CD"/>
<circle cx="1176.8" cy="796.9" r="4.8" fill="#0000CD"/>
<circle cx="1178.6" cy="798.8" r="4.8" fill="#0000CD"/>
<circle cx="1166.1" cy="808.0" r="4.8" fill="#0000CD"/>
<circle cx="1174.8" cy="811.3" r="4.8" fill="#0000CD"/>
<circle cx="1192.2" cy="814.5" r="4.8" fill="#B0493A"/>
<circle cx="1110.2" cy="818.8" r="4.8" fill="#B0493A"/>
<circle cx="1208.2" cy="827.9" r="4.8" fill="#0000CD"/>
<circle cx="1171.8" cy="838.6" r="4.8" fill="#0000CD"/>
<circle cx="1164.3" cy="845.3" r="4.8" fill="#B0493A"/>
<circle cx="1211.1" cy="856.6" r="4.8" fill="#0000CD"/>
<circle cx="1291.6" cy="860.9" r="4.8" fill="#0000CD"/>
<circle cx="1086.4" cy="886.8" r="4.8" fill="#B0493A"/>
<circle cx="1139.3" cy="889.8" r="4.8" fill="#B0493A"/>
<circle cx="1324.5" cy="971.0" r="4.8" fill="#B0493A"/>
<path d="M883.2 684.2L886.2 681.2L889.2 678.2L892.2 675.3L895.2 672.5L898.2 669.8L901.2 667.1L904.2 664.5L907.2 662.0L910.2 659.5L913.2 657.0L916.2 654.6L919.2 652.2L922.2 649.8L925.2 647.5L928.2 645.2L931.2 642.9L934.2 640.7L937.2 638.5L940.2 636.4L943.2 634.2L946.2 632.0L949.2 629.9L952.2 627.8L955.2 625.8L958.2 623.8L961.2 622.0L964.2 620.2L967.2 618.6L970.2 617.2L973.2 615.9L976.2 614.6L979.2 613.5L982.2 612.4L985.2 611.4L988.2 610.5L991.2 609.7L994.2 608.9L997.2 608.2L1000.2 607.5L1003.2 606.8L1006.2 606.2L1009.2 605.6L1012.2 605.1L1015.2 604.6L1018.2 604.1L1021.2 603.6L1024.2 603.2L1027.2 602.7L1030.2 602.2L1033.2 601.7L1036.2 601.2L1039.2 600.7L1042.2 600.1L1045.2 599.6L1048.2 599.0L1051.2 598.4L1054.2 597.7L1057.2 597.1L1060.2 596.4L1063.2 595.7L1066.2 595.0L1069.2 594.2L1072.2 593.4L1075.2 592.6L1078.2 591.7L1081.2 590.8L1084.2 589.9L1087.2 588.9L1090.2 587.9L1093.2 586.9L1096.2 586.0L1099.2 585.0L1102.2 584.1L1105.2 583.2L1108.2 582.3L1111.2 581.4L1114.2 580.5L1117.2 579.6L1120.2 578.7L1123.2 577.7L1126.2 576.7L1129.2 575.7L1132.2 574.5L1135.2 573.4L1138.2 572.2L1141.2 571.1L1144.2 570.1L1147.2 569.1L1150.2 568.3L1153.2 567.7L1156.2 567.2L1159.2 566.9L1162.2 566.6L1165.2 566.4L1168.2 566.2L1171.2 566.1L1174.2 565.9L1177.2 565.7L1180.2 565.5L1183.2 565.3L1186.2 565.0L1189.2 564.7L1192.2 564.3L1195.2 563.9L1198.2 563.5L1201.2 563.1L1204.2 562.7L1207.2 562.2L1210.2 561.8L1213.2 561.3L1216.2 560.9L1219.2 560.4L1222.2 559.9L1225.2 559.4L1228.2 559.0L1231.2 558.5L1234.2 558.0L1237.2 557.6L1240.2 557.2L1243.2 556.8L1246.2 556.4L1249.2 556.0L1252.2 555.7L1255.2 555.3L1258.2 555.0L1261.2 554.7L1264.2 554.4L1267.2 554.1L1270.2 553.8L1273.2 553.6L1276.2 553.4L1279.2 553.3L1282.2 553.2L1285.2 553.1L1288.2 553.0L1291.2 553.0L1294.2 552.9L1297.2 552.9L1300.2 552.9L1303.2 552.8L1306.2 552.8L1309.2 552.8L1312.2 552.8L1315.2 552.8L1318.2 552.9L1321.2 552.9L1324.2 552.9L1327.2 553.0L1330.2 553.0L1333.2 553.1L1336.2 553.2L1339.2 553.3L1342.2 553.3L1345.2 553.4L1348.2 553.5L1351.2 553.7L1352.2 553.7" fill="none" stroke="#000" stroke-width="2.5"/>
<text x="946.8" y="605.6" font-size="10.1" font-weight="bold" fill="#0000CD">Burkina Faso</text>
<text x="977.6" y="630.1" font-size="10.1" font-weight="bold" fill="#0000CD">Mali</text>
<text x="1021.2" y="596.2" font-size="10.1" font-weight="bold" fill="#0000CD">Afghanistan</text>
<text x="1094.5" y="583.2" font-size="10.1" font-weight="bold" fill="#0000CD">Yemen</text>
<text x="865.7" y="708.0" font-size="10.1" font-weight="bold" fill="#0000CD">Somalia</text>
<text x="1278.8" y="741.2" font-size="10.1" font-weight="bold" fill="#DD1C1C">Singapore</text>
<text x="1303.2" y="763.1" font-size="10.1" font-weight="bold" fill="#DD1C1C">Republic of Korea</text>
<text x="1284.7" y="783.0" font-size="10.1" font-weight="bold" fill="#DD1C1C">Austria</text>
<text x="1313.6" y="819.3" font-size="10.1" font-weight="bold" fill="#DD1C1C">Finland</text>
<text x="1137.7" y="800.8" font-size="10.1" font-weight="bold" fill="#111">Tuvalu</text>
<text x="1190.9" y="808.0" font-size="10.1" font-weight="bold" fill="#111">Nauru</text>
<text x="1235.2" y="810.0" font-size="10.1" font-weight="bold" fill="#111">Palau</text>
<text x="1077.8" y="812.0" font-size="10.1" font-weight="bold" fill="#111">Vanuatu</text>
<text x="1145.5" y="825.6" font-size="10.1" font-weight="bold" fill="#111">Samoa</text>
<text x="1215.6" y="827.3" font-size="10.1" font-weight="bold" fill="#111">Colombia</text>
<text x="1179.7" y="845.3" font-size="10.1" font-weight="bold" fill="#111">Micronesia (Federated States of)</text>
<text x="1090.6" y="859.1" font-size="10.1" font-weight="bold" fill="#111">Marshall Islands</text>
<text x="1204.7" y="870.8" font-size="10.1" font-weight="bold" fill="#111">Ecuador</text>
<text x="1299.0" y="863.3" font-size="10.1" font-weight="bold" fill="#111">Brunei Darussalam</text>
<text x="1032.9" y="879.9" font-size="10.1" font-weight="bold" fill="#111">Solomon Islands</text>
<text x="1135.1" y="902.9" font-size="10.1" font-weight="bold" fill="#111">Kiribati</text>
<text x="1296.8" y="984.6" font-size="10.1" font-weight="bold" fill="#DD1C1C">Japan</text>
<path d="M829.2 530.1 V991.8 H1420.3" fill="none" stroke="#000" stroke-width="1.6"/>
<line x1="825.2" y1="611.30" x2="829.2" y2="611.30" stroke="#333" stroke-width="1.4"/>
<text x="822.2" y="615.80" text-anchor="end" font-size="12.5" fill="#4d4d4d">200</text>
<line x1="825.2" y1="759.90" x2="829.2" y2="759.90" stroke="#333" stroke-width="1.4"/>
<text x="822.2" y="764.40" text-anchor="end" font-size="12.5" fill="#4d4d4d">400</text>
<line x1="825.2" y1="908.50" x2="829.2" y2="908.50" stroke="#333" stroke-width="1.4"/>
<text x="822.2" y="913.00" text-anchor="end" font-size="12.5" fill="#4d4d4d">600</text>
<line x1="856.10" y1="991.8" x2="856.10" y2="995.8" stroke="#333" stroke-width="1.4"/>
<text x="856.10" y="1008.4" text-anchor="middle" font-size="12.5" fill="#4d4d4d">0.0</text>
<line x1="963.62" y1="991.8" x2="963.62" y2="995.8" stroke="#333" stroke-width="1.4"/>
<text x="963.62" y="1008.4" text-anchor="middle" font-size="12.5" fill="#4d4d4d">0.2</text>
<line x1="1071.14" y1="991.8" x2="1071.14" y2="995.8" stroke="#333" stroke-width="1.4"/>
<text x="1071.14" y="1008.4" text-anchor="middle" font-size="12.5" fill="#4d4d4d">0.4</text>
<line x1="1178.66" y1="991.8" x2="1178.66" y2="995.8" stroke="#333" stroke-width="1.4"/>
<text x="1178.66" y="1008.4" text-anchor="middle" font-size="12.5" fill="#4d4d4d">0.6</text>
<line x1="1286.18" y1="991.8" x2="1286.18" y2="995.8" stroke="#333" stroke-width="1.4"/>
<text x="1286.18" y="1008.4" text-anchor="middle" font-size="12.5" fill="#4d4d4d">0.8</text>
<line x1="1393.70" y1="991.8" x2="1393.70" y2="995.8" stroke="#333" stroke-width="1.4"/>
<text x="1393.70" y="1008.4" text-anchor="middle" font-size="12.5" fill="#4d4d4d">1.0</text>
<text x="1124.8" y="1026.4" text-anchor="middle" font-size="15.8" fill="#000">Social demographic index</text>
<text transform="translate(792.8 761.0) rotate(-90)" text-anchor="middle" font-size="15.8" fill="#000">Age-standardized prevalence rate (per 100,000)</text>
<text x="773.9" y="549.1" font-size="31.8" font-weight="bold" fill="#000">D</text>
<text x="1444.5" y="738.0" font-size="15.4" fill="#000">trend</text>
<circle cx="1456.5" cy="760.1" r="4.8" fill="#0000CD"/>
<text x="1477.3" y="764.9" font-size="12.6" fill="#000">Decrease</text>
<circle cx="1456.5" cy="784.7" r="4.8" fill="#B0493A"/>
<text x="1477.3" y="789.5" font-size="12.6" fill="#000">Increase</text>
<line x1="49.0" y1="1120.60" x2="674.0" y2="1120.60" stroke="#ececec" stroke-width="0.9"/>
<line x1="49.0" y1="1234.00" x2="674.0" y2="1234.00" stroke="#ececec" stroke-width="0.9"/>
<line x1="49.0" y1="1347.40" x2="674.0" y2="1347.40" stroke="#ececec" stroke-width="0.9"/>
<line x1="49.0" y1="1460.80" x2="674.0" y2="1460.80" stroke="#ececec" stroke-width="0.9"/>
<line x1="134.22" y1="1050.2" x2="134.22" y2="1511.8" stroke="#ececec" stroke-width="0.9"/>
<line x1="247.86" y1="1050.2" x2="247.86" y2="1511.8" stroke="#ececec" stroke-width="0.9"/>
<line x1="361.50" y1="1050.2" x2="361.50" y2="1511.8" stroke="#ececec" stroke-width="0.9"/>
<line x1="475.14" y1="1050.2" x2="475.14" y2="1511.8" stroke="#ececec" stroke-width="0.9"/>
<line x1="588.78" y1="1050.2" x2="588.78" y2="1511.8" stroke="#ececec" stroke-width="0.9"/>
<line x1="49.0" y1="1063.90" x2="674.0" y2="1063.90" stroke="#cbcbcb" stroke-width="1.2"/>
<line x1="49.0" y1="1177.30" x2="674.0" y2="1177.30" stroke="#cbcbcb" stroke-width="1.2"/>
<line x1="49.0" y1="1290.70" x2="674.0" y2="1290.70" stroke="#cbcbcb" stroke-width="1.2"/>
<line x1="49.0" y1="1404.10" x2="674.0" y2="1404.10" stroke="#cbcbcb" stroke-width="1.2"/>
<line x1="77.40" y1="1050.2" x2="77.40" y2="1511.8" stroke="#cbcbcb" stroke-width="1.2"/>
<line x1="191.04" y1="1050.2" x2="191.04" y2="1511.8" stroke="#cbcbcb" stroke-width="1.2"/>
<line x1="304.68" y1="1050.2" x2="304.68" y2="1511.8" stroke="#cbcbcb" stroke-width="1.2"/>
<line x1="418.32" y1="1050.2" x2="418.32" y2="1511.8" stroke="#cbcbcb" stroke-width="1.2"/>
<line x1="531.96" y1="1050.2" x2="531.96" y2="1511.8" stroke="#cbcbcb" stroke-width="1.2"/>
<line x1="645.60" y1="1050.2" x2="645.60" y2="1511.8" stroke="#cbcbcb" stroke-width="1.2"/>
<g clip-path="url(#clipE)">
<defs><clipPath id="clipE"><rect x="49.0" y="1050.2" width="625.0" height="461.6"/></clipPath></defs>
<g fill="none" stroke-width="7.2" stroke-linecap="round">
<path stroke="url(#gur)" stroke-dasharray="0 3.37" d="M446 1174L455 1163L466 1149L476 1137L485 1128L493 1120L503 1112L513 1106L520 1101"/>
<path stroke="url(#gr)" stroke-dasharray="0 3.94" d="M290 1112L301 1112L318 1112L333 1109L346 1104L360 1099L377 1097L396 1097L410 1098"/>
<path stroke="url(#gr)" stroke-dasharray="0 3.38" d="M354 1131L364 1124L377 1115L390 1109L404 1105L418 1103L431 1102L443 1102L452 1103"/>
<path stroke="url(#gr)" stroke-dasharray="0 2.28" d="M461 1132L466 1130L474 1128L482 1125L490 1121L498 1117L508 1113L519 1109L527 1106"/>
<path stroke="url(#gur)" stroke-dasharray="0 3.42" d="M449 1154L458 1147L470 1137L482 1129L492 1124L503 1119L515 1113L529 1105L539 1100"/>
<path stroke="#938bcf" d="M210 1244h0m1 0h0m1 0h0m2 0h0m1 0h0m2-1h0m2 0h0m2 0h0"/><path stroke="#7f6ad6" d="M223 1242h0m2 0h0m1-1h0m2 0h0m1 0h0m2-1h0m2 0h0m1 0h0"/><path stroke="#6547dd" d="M236 1239h0m2 0h0m1 0h0m2-1h0m1 0h0m2-1h0m2-1h0m1-1h0"/><path stroke="#3019db" d="M249 1235h0m1-1h0m2-1h0m2-1h0m1-1h0m1-1h0m1-1h0m1 0h0"/>
<path stroke="url(#gr)" stroke-dasharray="0 3.81" d="M464 1129L474 1127L488 1123L502 1118L516 1109L531 1101L547 1097L564 1095L576 1094"/>
<path stroke="url(#gr)" stroke-dasharray="0 1.25" d="M195 1104L198 1101L201 1098L205 1096L211 1095L216 1094L221 1095L226 1097L230 1098"/>
<path stroke="url(#gr)" stroke-dasharray="0 4.52" d="M294 1122L307 1122L326 1123L344 1122L361 1120L378 1118L397 1117L419 1117L434 1118"/>
<path stroke="url(#gr)" stroke-dasharray="0 1.97" d="M435 1079L440 1075L448 1070L455 1069L463 1072L471 1076L478 1076L485 1073L490 1071"/>
<path stroke="url(#gur)" stroke-dasharray="0 3.92" d="M379 1215L390 1207L406 1196L420 1187L434 1180L447 1173L461 1168L476 1163L486 1159"/>
<path stroke="url(#gur)" stroke-dasharray="0 3.19" d="M472 1145L481 1139L493 1130L504 1123L512 1117L521 1111L533 1107L548 1103L558 1101"/>
<path stroke="#938bcf" d="M456 1228h0m2 2h0m3 1h0m3 2h0m3 3h0m3 2h0m2 3h0m2 4h0"/><path stroke="#7f6ad6" d="M476 1248h0m1 4h0m0 3h0m-2 4h0m-1 4h0m-1 4h0m-1 5h0m0 4h0"/><path stroke="#6547dd" d="M471 1281h0m0 5h0m-1 4h0m0 4h0m0 5h0m-1 4h0m0 3h0m-1 3h0"/><path stroke="#3019db" d="M467 1311h0m-2 1h0m0 2h0m-1 3h0m1 4h0m0 4h0m1 4h0m0 3h0"/>
<path stroke="#938bcf" d="M160 1132h0m1-1h0m1 0h0m1-1h0m2 0h0m1-1h0m2-1h0m2-1h0"/><path stroke="#7f6ad6" d="M171 1126h0m2 0h0m1-1h0m1-1h0m1 0h0m1-1h0m1-1h0m1 0h0"/><path stroke="#6547dd" d="M180 1121h0m1-1h0m1 0h0m1-1h0m1 0h0m2-1h0m1 0h0m2-1h0"/><path stroke="#3019db" d="M192 1117h0m2-1h0m3 0h0m2-1h0m2 0h0m2 0h0m2-1h0m1 0h0"/>
<path stroke="#938bcf" d="M494 1299h0m2-5h0m2-7h0m2-6h0m1-6h0m2-6h0m2-6h0m3-6h0"/><path stroke="#7f6ad6" d="M510 1250h0m3-7h0m3-8h0m4-6h0m4-6h0m3-6h0m4-7h0m4-6h0"/><path stroke="#6547dd" d="M538 1197h0m3-5h0m3-5h0m2-4h0m2-3h0m1-5h0m2-6h0m2-6h0"/><path stroke="#3019db" d="M555 1157h0m2-4h0m2-5h0m2-4h0m2-5h0m3-3h0m3-4h0m2-2h0"/>
<path stroke="url(#gr)" stroke-dasharray="0 4.59" d="M294 1086L308 1083L327 1080L344 1078L361 1076L378 1075L398 1075L420 1077L436 1078"/>
<path stroke="url(#gr)" stroke-dasharray="0 4.77" d="M209 1171L223 1166L243 1159L261 1152L279 1143L297 1134L315 1127L333 1122L346 1118"/>
<path stroke="url(#gr)" stroke-dasharray="0 4.56" d="M218 1197L232 1195L253 1193L272 1190L288 1187L305 1183L323 1180L343 1177L357 1175"/>
<path stroke="url(#gr)" stroke-dasharray="0 4.17" d="M331 1126L344 1126L363 1125L379 1123L394 1119L408 1114L425 1110L444 1107L457 1104"/>
<path stroke="#938bcf" d="M199 1179h0m1 0h0m2 0h0m2-1h0m2 0h0m3 0h0m2 0h0m3 0h0"/><path stroke="#7f6ad6" d="M217 1178h0m2-1h0m3 0h0m2-1h0m3 0h0m2-1h0m3 0h0m2-1h0"/><path stroke="#6547dd" d="M237 1174h0m2-1h0m2-1h0m3 0h0m2-1h0m2-1h0m3-1h0m2 0h0"/><path stroke="#3019db" d="M255 1168h0m3-1h0m2-1h0m2-1h0m2-1h0m2-1h0m1 0h0m1-1h0"/>
<path stroke="url(#gr)" stroke-dasharray="0 2.89" d="M471 1076L481 1073L495 1069L506 1069L515 1071L523 1074L535 1074L548 1072L558 1071"/>
<path stroke="url(#gr)" stroke-dasharray="0 2.51" d="M475 1126L482 1125L493 1123L502 1120L511 1115L520 1111L531 1110L542 1110L550 1111"/>
<path stroke="url(#gr)" stroke-dasharray="0 1.87" d="M521 1115L526 1110L531 1104L537 1100L543 1099L550 1099L558 1099L567 1098L574 1098"/>
<path stroke="#938bcf" d="M316 1272h0m1 0h0m2 0h0m1-1h0m2-1h0m2 0h0m1-1h0m2-1h0"/><path stroke="#7f6ad6" d="M328 1267h0m2-1h0m1-1h0m2-1h0m1-1h0m2-2h0m1-1h0m1-1h0"/><path stroke="#6547dd" d="M339 1258h0m1-2h0m2-1h0m1-1h0m2-2h0m1-1h0m2-1h0m1-1h0"/><path stroke="#3019db" d="M351 1247h0m2-1h0m3-1h0m3-2h0m3-1h0m3-1h0m2-2h0m2 0h0"/>
<path stroke="#938bcf" d="M444 1223h0m0-1h0m-1-1h0m0-1h0m0-2h0m-1-1h0m0-1h0"/><path stroke="#7f6ad6" d="M442 1215h0m0-1h0m0-1h0m0-1h0m0-1h0m0-1h0m1-1h0"/><path stroke="#6547dd" d="M444 1208h0m0-1h0m1-1h0m1 0h0m0-1h0m1 0h0m1-1h0m1-1h0"/><path stroke="#3019db" d="M449 1203h0m1 0h0m1-1h0m1 0h0m1 0h0m1-1h0m1 0h0"/>
<path stroke="url(#gr)" stroke-dasharray="0 2.82" d="M499 1119L507 1116L520 1112L530 1108L539 1103L548 1099L558 1095L571 1091L580 1088"/>
<path stroke="url(#gur)" stroke-dasharray="0 2.99" d="M529 1189L535 1179L543 1164L550 1151L556 1140L562 1129L568 1122L576 1117L581 1114"/>
<path stroke="#938bcf" d="M316 1272h0m1 0h0m2-1h0m1-1h0m2-1h0m2-1h0m2 0h0m2-1h0"/><path stroke="#7f6ad6" d="M329 1266h0m2-1h0m1-2h0m1-1h0m2-1h0m1-1h0m1-1h0m2-1h0"/><path stroke="#6547dd" d="M340 1257h0m1 0h0m1 0h0m1 0h0m1 0h0m2-1h0m1 0h0"/><path stroke="#3019db" d="M349 1254h0m3-1h0m3-3h0m3-2h0m3-3h0m3-2h0m3-2h0m1-1h0"/>
<path stroke="#938bcf" d="M339 1293h0m1-1h0m1-1h0m2-1h0m1-1h0m2-1h0m1-1h0m2-1h0"/><path stroke="#7f6ad6" d="M350 1285h0m2-2h0m2-1h0m2-1h0m1-2h0m2-2h0m2-2h0m1-2h0"/><path stroke="#6547dd" d="M364 1271h0m2-2h0m1-2h0m2-2h0m1-2h0m2-1h0m1-2h0m1-2h0"/><path stroke="#3019db" d="M376 1257h0m1-2h0m1-2h0m2-2h0m2-2h0m1-1h0m1-2h0m1-1h0"/>
<path stroke="url(#gr)" stroke-dasharray="0 3.34" d="M283 1124L295 1123L311 1122L325 1120L336 1117L348 1114L361 1115L375 1119L385 1121"/>
<path stroke="url(#gur)" stroke-dasharray="0 4.11" d="M339 1203L351 1194L367 1182L381 1172L394 1164L406 1156L421 1149L436 1142L447 1137"/>
<path stroke="#938bcf" d="M280 1236h0m1 0h0m1 0h0m2 0h0m2 0h0m2 0h0m2 0h0m2 0h0"/><path stroke="#7f6ad6" d="M293 1236h0m2 0h0m2 1h0m2 0h0m1 1h0m2 0h0m2 0h0m1 1h0"/><path stroke="#6547dd" d="M307 1239h0m1-1h0m2 0h0m1-1h0m2 0h0m1-1h0m1-1h0m1 0h0"/><path stroke="#3019db" d="M317 1234h0m1 0h0m1 0h0m1-1h0m1 0h0m0-1h0m1 0h0"/>
<path stroke="url(#gr)" stroke-dasharray="0 2.85" d="M402 1169L409 1165L419 1160L430 1155L441 1152L452 1149L464 1146L477 1144L486 1143"/>
<path stroke="url(#gr)" stroke-dasharray="0 1.99" d="M444 1152L450 1149L459 1146L467 1143L474 1142L482 1140L489 1137L496 1133L501 1130"/>
<path stroke="url(#gur)" stroke-dasharray="0 2.60" d="M510 1170L515 1164L522 1155L529 1145L537 1134L544 1123L551 1116L556 1111L560 1108"/>
<path stroke="url(#gr)" stroke-dasharray="0 3.95" d="M305 1111L316 1113L332 1114L348 1112L362 1106L377 1100L393 1098L411 1100L424 1102"/>
<path stroke="url(#gr)" stroke-dasharray="0 2.41" d="M484 1100L492 1100L503 1100L512 1100L520 1099L528 1097L537 1094L548 1089L556 1085"/>
<path stroke="#938bcf" d="M322 1288h0m2-1h0m2-2h0m4-3h0m2-2h0m3-3h0m3-2h0m3-3h0"/><path stroke="#7f6ad6" d="M343 1269h0m3-3h0m3-3h0m2-3h0m3-3h0m3-4h0m2-3h0m3-3h0"/><path stroke="#6547dd" d="M365 1244h0m2-3h0m3-2h0m3-2h0m2-2h0m3-2h0m3-2h0m2-2h0"/><path stroke="#3019db" d="M387 1227h0m3-3h0m3-2h0m4-1h0m4-2h0m4 0h0m4-1h0m3 0h0"/>
<path stroke="#938bcf" d="M354 1221h0m0-1h0m1-1h0m1-1h0m0-1h0m1-1h0m1-1h0m1-1h0"/><path stroke="#7f6ad6" d="M360 1213h0m1-2h0m1-1h0m1-1h0m1 0h0m1-1h0m1-1h0m1-1h0"/><path stroke="#6547dd" d="M368 1205h0m1-1h0m1 0h0m1-1h0m1-1h0m1 0h0m1-1h0m1-1h0"/><path stroke="#3019db" d="M376 1199h0m1-1h0m1-1h0m1 0h0m0-1h0m1 0h0"/>
<path stroke="#938bcf" d="M410 1273h0m1-1h0m1-2h0m1-1h0m1-1h0m1-1h0m1-2h0"/><path stroke="#7f6ad6" d="M417 1264h0m0-1h0m1-1h0m1-1h0m1-1h0m1-1h0m1 0h0"/><path stroke="#6547dd" d="M422 1258h0m1 0h0m0-1h0m1 0h0m1-1h0m1 0h0"/><path stroke="#3019db" d="M426 1256h0m1 0h0m1-1h0"/>
<path stroke="url(#gur)" stroke-dasharray="0 2.10" d="M428 1159L432 1155L439 1150L445 1144L450 1136L456 1130L462 1124L470 1119L476 1115"/>
<path stroke="url(#gur)" stroke-dasharray="0 5.15" d="M317 1249L329 1233L346 1211L362 1193L378 1179L393 1167L408 1157L423 1148L434 1143"/>
<path stroke="#938bcf" d="M434 1236h0m1 0h0m2 1h0m2 1h0m2 0h0m2 1h0m1 0h0m1-1h0"/><path stroke="#7f6ad6" d="M446 1238h0m2-1h0m1-1h0m1-1h0m2-1h0m2-2h0m1-2h0m2-1h0"/><path stroke="#6547dd" d="M458 1228h0m1 0h0m1 0h0m1 0h0m1 0h0m1 0h0m1 1h0m1 1h0"/><path stroke="#3019db" d="M467 1230h0m1 1h0m1 0h0m2-1h0m1-2h0m1-1h0m2-2h0m0-1h0"/>
<path stroke="url(#gur)" stroke-dasharray="0 3.24" d="M255 1140L266 1136L281 1130L293 1125L302 1121L310 1117L322 1111L337 1106L348 1102"/>
<path stroke="url(#gr)" stroke-dasharray="0 5.30" d="M242 1163L257 1157L279 1149L299 1141L317 1133L336 1125L357 1120L381 1117L397 1115"/>
<path stroke="url(#gr)" stroke-dasharray="0 4.53" d="M269 1107L284 1107L305 1107L324 1107L340 1108L355 1108L374 1107L394 1105L409 1103"/>
<path stroke="url(#gr)" stroke-dasharray="0 5.26" d="M205 1115L220 1114L242 1113L263 1112L286 1111L308 1110L330 1111L352 1114L368 1116"/>
<path stroke="url(#gr)" stroke-dasharray="0 3.14" d="M365 1178L375 1174L388 1170L400 1168L410 1169L422 1171L435 1172L450 1172L461 1172"/>
<path stroke="url(#gr)" stroke-dasharray="0 5.17" d="M294 1125L309 1124L330 1124L350 1125L370 1128L390 1131L412 1132L436 1133L454 1134"/>
<path stroke="url(#gr)" stroke-dasharray="0 5.24" d="M220 1164L236 1162L258 1158L279 1155L299 1153L320 1151L341 1149L365 1147L381 1146"/>
<path stroke="url(#gur)" stroke-dasharray="0 4.86" d="M305 1206L317 1196L335 1182L353 1173L370 1169L387 1166L405 1159L425 1149L439 1142"/>
<path stroke="url(#gr)" stroke-dasharray="0 2.80" d="M150 1112L159 1109L171 1106L183 1104L194 1104L205 1104L216 1106L228 1108L236 1110"/>
<path stroke="url(#gr)" stroke-dasharray="0 4.03" d="M231 1116L243 1113L261 1109L277 1107L294 1105L310 1104L326 1104L343 1104L355 1105"/>
<path stroke="url(#gr)" stroke-dasharray="0 1.77" d="M490 1089L494 1085L500 1080L506 1078L513 1080L520 1083L527 1084L535 1083L540 1082"/>
<path stroke="url(#gur)" stroke-dasharray="0 4.28" d="M244 1148L256 1139L272 1126L288 1119L302 1117L317 1116L333 1111L351 1103L364 1098"/>
<path stroke="url(#gr)" stroke-dasharray="0 3.76" d="M473 1137L484 1134L499 1129L514 1125L529 1121L544 1117L558 1111L572 1104L582 1098"/>
<path stroke="#938bcf" d="M189 1173h0m1-1h0m1 0h0m2 0h0m1-1h0m2 0h0m2 0h0m2-1h0"/><path stroke="#7f6ad6" d="M202 1170h0m1-1h0m2 0h0m2-1h0m2-1h0m2 0h0m2-1h0m2 0h0"/><path stroke="#6547dd" d="M217 1165h0m2-1h0m2 0h0m2-1h0m2-1h0m2 0h0m3-1h0m2 0h0"/><path stroke="#3019db" d="M234 1161h0m3-1h0m2 0h0m2-1h0m2 0h0m2-1h0m1 0h0m2 0h0"/>
<path stroke="#938bcf" d="M397 1283h0m1 0h0m2 0h0m1 0h0m2 0h0m2 0h0m2 0h0m1 1h0"/><path stroke="#7f6ad6" d="M410 1286h0m2 0h0m2 1h0m1-1h0m1-1h0m1-1h0m0-2h0m1-1h0"/><path stroke="#6547dd" d="M418 1280h0m1-2h0m1-1h0m1-1h0m1-1h0m0-2h0m1-1h0m0-2h0"/><path stroke="#3019db" d="M424 1268h0m0-2h0m1-2h0m0-2h0m1-2h0m0-2h0m1-1h0m0-1h0"/>
<path stroke="url(#gr)" stroke-dasharray="0 5.10" d="M246 1186L260 1182L281 1177L302 1176L323 1181L345 1185L366 1185L387 1182L401 1180"/>
<path stroke="url(#gr)" stroke-dasharray="0 4.03" d="M250 1096L264 1097L282 1099L299 1098L313 1096L327 1094L344 1093L362 1094L375 1094"/>
<path stroke="url(#gr)" stroke-dasharray="0 2.42" d="M440 1159L446 1155L455 1150L464 1147L475 1146L485 1145L495 1142L504 1139L510 1136"/>
<path stroke="url(#gr)" stroke-dasharray="0 3.10" d="M146 1117L156 1115L169 1111L182 1108L195 1105L207 1103L219 1100L231 1098L240 1097"/>
<path stroke="url(#gur)" stroke-dasharray="0 2.83" d="M411 1187L419 1181L430 1173L440 1167L451 1164L461 1161L472 1157L483 1153L490 1150"/>
<path stroke="url(#gur)" stroke-dasharray="0 4.00" d="M312 1280L322 1267L336 1249L349 1236L361 1228L374 1221L385 1214L397 1206L405 1200"/>
<path stroke="#938bcf" d="M280 1200h0m1-1h0m1-1h0m1-1h0m2-1h0m1 0h0m1-1h0"/><path stroke="#7f6ad6" d="M288 1194h0m1 0h0m1-1h0m2-1h0m1 0h0m1-1h0m1-1h0m1 0h0"/><path stroke="#6547dd" d="M298 1189h0m1-1h0m1-2h0m1-1h0m1-1h0m1-1h0m2-2h0m1-1h0"/><path stroke="#3019db" d="M307 1179h0m2-1h0m1-1h0m2-1h0m1-1h0m2 0h0m1-1h0m0-1h0"/>
<path stroke="url(#gur)" stroke-dasharray="0 4.23" d="M435 1244L444 1232L458 1215L471 1203L484 1194L496 1186L511 1178L526 1171L538 1166"/>
<path stroke="#1000d7" d="M208 1254h0"/>
<path stroke="#938bcf" d="M433 1235h0m1 0h0m2 1h0m2 1h0m1 1h0m2 1h0m2 1h0m2 0h0"/><path stroke="#7f6ad6" d="M446 1240h0m1-1h0m2 0h0m1-1h0m1-1h0m2-1h0m1-1h0m1-2h0"/><path stroke="#6547dd" d="M457 1231h0m1-1h0m1-1h0m2-1h0m1 0h0m1 1h0m2 0h0m1 1h0"/><path stroke="#3019db" d="M467 1230h0m2 0h0m1 0h0m2-1h0m1-2h0m2-1h0m1-1h0m1-1h0"/>
<path stroke="url(#gr)" stroke-dasharray="0 2.91" d="M181 1111L190 1113L203 1115L215 1115L227 1110L239 1106L250 1104L261 1105L269 1106"/>
<path stroke="#938bcf" d="M260 1270h0m2-1h0m3-2h0m3-2h0m3-2h0m3-2h0m2-3h0m1-2h0"/><path stroke="#7f6ad6" d="M279 1254h0m2-1h0m3 0h0m4 0h0m4 0h0m3 0h0m2 1h0m1 1h0"/><path stroke="#6547dd" d="M299 1257h0m2 1h0m1-1h0m2-1h0m3-2h0m2-3h0m3-2h0m2-1h0"/><path stroke="#3019db" d="M316 1247h0m3-2h0m2-1h0m3-2h0m2-2h0m3-2h0m2-2h0m2-1h0"/>
<path stroke="url(#gr)" stroke-dasharray="0 3.06" d="M188 1098L198 1100L213 1102L225 1102L235 1099L244 1096L256 1095L271 1095L281 1095"/>
<path stroke="#938bcf" d="M471 1293h0m0-2h0m0-2h0m1-2h0m1-2h0m0-2h0m1-3h0m0-1h0"/><path stroke="#7f6ad6" d="M475 1277h0m0-1h0m1-2h0m0-1h0m1-2h0m0-1h0m1-1h0m0-2h0"/><path stroke="#6547dd" d="M479 1266h0m0-1h0m1-1h0m0-2h0m1-1h0m1-2h0m1-1h0m1-2h0"/><path stroke="#3019db" d="M485 1255h0m2-2h0m1-1h0m1-2h0m1-1h0m1-1h0m1-1h0m1-1h0"/>
<path stroke="#938bcf" d="M353 1222h0m1-2h0m1-2h0m2-3h0m2-2h0m2-3h0m1-2h0m2-2h0"/><path stroke="#7f6ad6" d="M365 1203h0m2-2h0m1-2h0m2-2h0m1-2h0m2-2h0m1-2h0m2-2h0"/><path stroke="#6547dd" d="M377 1187h0m2-2h0m1-1h0m1-2h0m2-1h0m2-1h0m2-1h0m3-1h0"/><path stroke="#3019db" d="M393 1177h0m2-1h0m3 0h0m2 0h0m2 1h0m2 1h0m1 0h0m1 1h0"/>
<path stroke="url(#gur)" stroke-dasharray="0 3.37" d="M204 1155L213 1146L226 1136L239 1129L252 1129L265 1130L277 1126L288 1120L296 1115"/>
<path stroke="url(#gr)" stroke-dasharray="0 2.32" d="M423 1159L430 1162L439 1165L449 1165L458 1161L468 1156L476 1156L484 1160L489 1164"/>
<path stroke="url(#gur)" stroke-dasharray="0 3.13" d="M442 1165L452 1155L464 1144L475 1137L484 1138L492 1139L503 1135L515 1126L523 1120"/>
<path stroke="#938bcf" d="M399 1285h0m1 0h0m1-1h0m1 0h0m1 0h0m2 0h0m1-1h0"/><path stroke="#7f6ad6" d="M407 1283h0m1 0h0m1 0h0m1 0h0m1-1h0m1 0h0m1-1h0m1 0h0"/><path stroke="#6547dd" d="M415 1280h0m1-2h0m1-1h0m0-2h0m1-2h0m1-1h0m1-2h0m0-2h0"/><path stroke="#3019db" d="M421 1266h0m1-1h0m1-2h0m1-2h0m1-2h0m1-2h0m0-1h0m1-1h0"/>
<path stroke="url(#gr)" stroke-dasharray="0 3.30" d="M434 1104L445 1104L461 1103L475 1101L488 1099L500 1097L512 1095L526 1093L535 1092"/>
<path stroke="url(#gur)" stroke-dasharray="0 2.76" d="M425 1132L432 1125L441 1115L451 1108L461 1104L471 1101L481 1098L492 1096L499 1094"/>
<path stroke="url(#gr)" stroke-dasharray="0 3.40" d="M460 1117L471 1112L485 1106L498 1102L509 1102L520 1102L534 1101L550 1099L562 1098"/>
<path stroke="url(#gr)" stroke-dasharray="0 2.83" d="M167 1134L175 1133L186 1133L197 1134L208 1136L220 1138L232 1136L244 1133L253 1130"/>
<path stroke="#938bcf" d="M364 1315h0m2 0h0m2 0h0m3-1h0m3 0h0m2 0h0m2-1h0m3 0h0"/><path stroke="#7f6ad6" d="M383 1312h0m2 0h0m2-1h0m3-2h0m1-1h0m2-2h0m1-2h0m1-3h0"/><path stroke="#6547dd" d="M396 1298h0m1-3h0m1-3h0m1-3h0m1-2h0m2-3h0m2-1h0m2-1h0"/><path stroke="#3019db" d="M408 1282h0m3 0h0m2 0h0m2 1h0m1 1h0m1 1h0m1 1h0m0 1h0"/>
<path stroke="url(#gur)" stroke-dasharray="0 3.46" d="M484 1171L491 1157L501 1139L510 1127L521 1124L531 1122L541 1115L551 1106L557 1099"/>
<path stroke="#938bcf" d="M493 1329h0m0-2h0m0-4h0m-1-3h0m0-3h0m0-2h0m0-3h0m0-6h0"/><path stroke="#7f6ad6" d="M492 1300h0m3-9h0m2-7h0m2-9h0m3-10h0m3-6h0m4-8h0m4-8h0"/><path stroke="#6547dd" d="M517 1234h0m5-8h0m5-5h0m3-4h0m2-5h0m3-5h0m2-3h0m2-5h0"/><path stroke="#3019db" d="M541 1195h0m3-4h0m1-3h0m2-3h0m1-4h0m2-3h0m1-2h0m1-2h0"/>
<path stroke="url(#gur)" stroke-dasharray="0 3.72" d="M436 1131L445 1122L458 1109L471 1100L485 1096L500 1093L514 1090L528 1087L537 1084"/>
<path stroke="url(#gur)" stroke-dasharray="0 3.40" d="M434 1183L443 1177L455 1168L467 1162L480 1159L493 1156L506 1151L519 1143L528 1137"/>
<path stroke="#1000d7" d="M489 1255h0"/>
<path stroke="url(#gur)" stroke-dasharray="0 2.85" d="M497 1133L503 1128L512 1121L522 1113L534 1103L546 1095L556 1091L565 1090L571 1090"/>
<path stroke="url(#gr)" stroke-dasharray="0 2.00" d="M455 1093L460 1095L467 1098L475 1098L482 1095L491 1093L499 1093L508 1096L514 1098"/>
<path stroke="url(#gr)" stroke-dasharray="0 2.80" d="M411 1176L418 1178L429 1182L441 1184L452 1184L463 1185L474 1188L486 1194L494 1198"/>
<path stroke="url(#gr)" stroke-dasharray="0 4.93" d="M265 1128L279 1128L300 1127L320 1127L338 1127L357 1128L377 1131L400 1136L417 1139"/>
<path stroke="url(#gr)" stroke-dasharray="0 0.76" d="M151 1107L152 1108L154 1108L157 1109L161 1110L165 1111L168 1110L171 1108L173 1107"/>
<path stroke="#938bcf" d="M123 1115h0m1 0h0m1 0h0m2-1h0m2 0h0m3-1h0m2-1h0m2 0h0"/><path stroke="#7f6ad6" d="M139 1111h0m2 0h0m2-1h0m2 0h0m1-1h0m2 0h0m2 0h0m1-1h0"/><path stroke="#6547dd" d="M153 1108h0m1 0h0m2 0h0m2-1h0m1 0h0m2 0h0m1 0h0m2 0h0"/><path stroke="#3019db" d="M165 1106h0m2 0h0m2 0h0m1 0h0m2 0h0m1 0h0m1 0h0m1 0h0"/>
<path stroke="url(#gr)" stroke-dasharray="0 3.01" d="M462 1117L470 1114L482 1111L493 1109L504 1110L515 1110L528 1109L543 1106L554 1104"/>
<path stroke="url(#gr)" stroke-dasharray="0 2.94" d="M377 1162L386 1166L399 1170L411 1174L420 1176L429 1178L441 1180L455 1182L465 1184"/>
<path stroke="url(#gur)" stroke-dasharray="0 4.36" d="M377 1188L388 1176L403 1160L417 1147L427 1137L438 1127L451 1117L468 1108L479 1101"/>
<path stroke="url(#gr)" stroke-dasharray="0 3.20" d="M456 1208L465 1202L476 1194L489 1187L502 1181L515 1176L527 1173L539 1172L547 1171"/>
<path stroke="url(#gr)" stroke-dasharray="0 1.79" d="M159 1120L165 1120L173 1120L180 1119L185 1118L190 1117L198 1115L207 1114L214 1113"/>
<path stroke="url(#gr)" stroke-dasharray="0 3.17" d="M218 1204L227 1204L241 1203L253 1202L263 1202L275 1200L288 1198L304 1193L315 1190"/>
<path stroke="url(#gr)" stroke-dasharray="0 4.35" d="M317 1132L330 1126L349 1118L366 1113L381 1113L395 1114L413 1111L433 1107L447 1103"/>
<path stroke="url(#gur)" stroke-dasharray="0 5.74" d="M271 1192L286 1178L309 1159L329 1147L347 1142L365 1139L387 1132L411 1123L429 1117"/>
<path stroke="url(#gur)" stroke-dasharray="0 3.84" d="M398 1172L407 1163L421 1151L434 1141L446 1132L459 1125L473 1120L488 1118L499 1117"/>
<path stroke="#938bcf" d="M362 1289h0m1 0h0m1 0h0m1 0h0m1-1h0m2 0h0m1 0h0m1-1h0"/><path stroke="#7f6ad6" d="M372 1287h0m1-1h0m1-1h0m2-1h0m1 0h0m2-1h0m1-1h0m1-1h0"/><path stroke="#6547dd" d="M382 1280h0m1-1h0m1-1h0m1-1h0m1-1h0m0-1h0m1-1h0m1-1h0"/><path stroke="#3019db" d="M389 1272h0m1-1h0m0-2h0m1-1h0m1-1h0m0-1h0m1-1h0"/>
<path stroke="url(#gur)" stroke-dasharray="0 3.08" d="M467 1173L475 1164L486 1151L495 1140L502 1132L508 1124L517 1118L527 1112L535 1108"/>
<path stroke="#938bcf" d="M248 1223h0m1-1h0m1-2h0m2-2h0m2-2h0m2-1h0m1-2h0m2-2h0"/><path stroke="#7f6ad6" d="M261 1210h0m1-2h0m2-2h0m1-1h0m2-2h0m2-1h0m1-2h0m2-2h0"/><path stroke="#6547dd" d="M273 1197h0m2-2h0m2-1h0m1-2h0m2-2h0m2-1h0m1-2h0m2-2h0"/><path stroke="#3019db" d="M286 1184h0m2-2h0m2-1h0m2-2h0m2-1h0m2-1h0m2-2h0m2 0h0"/>
<path stroke="url(#gr)" stroke-dasharray="0 3.18" d="M479 1150L488 1145L501 1139L513 1134L523 1129L535 1126L547 1124L562 1125L572 1125"/>
<path stroke="#938bcf" d="M320 1289h0m2 0h0m2-1h0m3 0h0m3-1h0m2-1h0m3-1h0m3-2h0"/><path stroke="#7f6ad6" d="M341 1282h0m3-2h0m2-1h0m3-1h0m2-2h0m2-1h0m2-2h0m3-3h0"/><path stroke="#6547dd" d="M360 1267h0m3-3h0m2-3h0m2-2h0m3-3h0m2-2h0m2-2h0m3-3h0"/><path stroke="#3019db" d="M379 1247h0m2-2h0m3-3h0m2-2h0m3-3h0m3-3h0m2-2h0m2-2h0"/>
<path stroke="url(#gur)" stroke-dasharray="0 4.24" d="M417 1245L423 1227L432 1203L441 1185L449 1175L457 1167L467 1157L479 1145L488 1137"/>
<path stroke="url(#gur)" stroke-dasharray="0 2.69" d="M529 1129L535 1120L543 1108L551 1102L560 1103L569 1105L578 1102L587 1094L594 1089"/>
<path stroke="url(#gur)" stroke-dasharray="0 4.31" d="M427 1161L437 1150L452 1134L466 1124L481 1118L495 1114L511 1107L528 1100L539 1094"/>
<path stroke="#1000d7" d="M473 1269h0"/>
<path stroke="#938bcf" d="M105 1158h0m0-1h0m0-1h0m1-1h0m0-1h0m0-2h0m1-1h0"/><path stroke="#7f6ad6" d="M107 1150h0m0-1h0m1-1h0m0-1h0m1-1h0m0-1h0m1-1h0m1-1h0"/><path stroke="#6547dd" d="M111 1141h0m1-1h0m0-1h0m1 0h0m1-1h0m0-1h0m1-1h0m1 0h0"/><path stroke="#3019db" d="M117 1135h0m1-1h0m1-1h0m1 0h0m1 0h0m0-1h0"/>
<path stroke="url(#gur)" stroke-dasharray="0 3.18" d="M429 1244L437 1235L449 1224L459 1215L468 1210L477 1206L487 1198L497 1188L504 1181"/>
<path stroke="url(#gr)" stroke-dasharray="0 4.93" d="M295 1115L310 1115L331 1115L351 1116L369 1119L387 1121L408 1122L431 1122L447 1122"/>
<path stroke="url(#gur)" stroke-dasharray="0 2.73" d="M520 1158L527 1152L537 1144L547 1136L556 1130L564 1123L573 1117L581 1110L587 1106"/>
<path stroke="url(#gr)" stroke-dasharray="0 3.49" d="M300 1125L310 1121L324 1117L338 1116L352 1122L367 1127L381 1127L394 1124L404 1122"/>
<path stroke="url(#gur)" stroke-dasharray="0 0.82" d="M250 1177L253 1175L258 1173L261 1171L263 1169L265 1166L267 1164L268 1162L269 1161"/>
<path stroke="url(#gur)" stroke-dasharray="0 2.94" d="M413 1155L420 1146L431 1133L441 1125L450 1121L458 1118L468 1115L480 1113L488 1111"/>
<path stroke="url(#gr)" stroke-dasharray="0 3.90" d="M346 1082L357 1086L373 1090L388 1090L402 1086L417 1081L433 1080L451 1083L464 1085"/>
<path stroke="url(#gur)" stroke-dasharray="0 2.11" d="M446 1140L452 1133L459 1125L465 1118L469 1113L472 1109L479 1104L487 1099L493 1095"/>
<path stroke="url(#gr)" stroke-dasharray="0 2.02" d="M487 1102L493 1103L501 1104L510 1102L518 1098L526 1093L534 1091L541 1091L547 1092"/>
<path stroke="#938bcf" d="M310 1193h0m1-1h0m1 0h0m1-1h0m1 0h0m1-1h0m1 0h0"/><path stroke="#7f6ad6" d="M317 1189h0m1-1h0m1 0h0m1-1h0m1 0h0m1-1h0m1 0h0m2-1h0"/><path stroke="#6547dd" d="M326 1184h0m1 0h0m2-1h0m1 0h0m1 0h0m2 0h0m1 0h0m2 0h0"/><path stroke="#3019db" d="M337 1184h0m2 0h0m1 1h0m2 1h0m1 0h0m2 1h0m1 0h0m0 1h0"/>
<path stroke="url(#gr)" stroke-dasharray="0 3.38" d="M228 1099L238 1101L252 1103L265 1104L278 1101L290 1098L304 1096L320 1096L331 1096"/>
<path stroke="#938bcf" d="M316 1271h0m1-1h0m1 0h0m1 0h0m2-1h0m1 0h0m2 0h0m1-1h0"/><path stroke="#7f6ad6" d="M327 1268h0m2-1h0m1 0h0m2-1h0m2-1h0m2 0h0m2-1h0m2-1h0"/><path stroke="#6547dd" d="M342 1262h0m2-1h0m2-1h0m2 0h0m2-1h0m3-1h0m2-1h0m2-1h0"/><path stroke="#3019db" d="M359 1254h0m3-1h0m2-1h0m2-1h0m2-1h0m2-1h0m2-1h0m1 0h0"/>
<path stroke="#938bcf" d="M455 1261h0m0-1h0m1-1h0m1 0h0m1-1h0m2-1h0m1-1h0m1-1h0"/><path stroke="#7f6ad6" d="M463 1254h0m0-1h0m1 0h0m1-1h0m0-1h0m1 0h0m1-1h0m0-1h0"/><path stroke="#6547dd" d="M468 1249h0m1-1h0m0-1h0m1 0h0m1-1h0m0-1h0m1 0h0m1-1h0"/><path stroke="#3019db" d="M473 1243h0m1 0h0m2-1h0m1-1h0m1-1h0m1 0h0m0-1h0m1 0h0"/>
<path stroke="#938bcf" d="M389 1271h0m2-2h0m2-3h0m2-3h0m2-2h0m1-3h0m2-2h0m1-2h0"/><path stroke="#7f6ad6" d="M403 1252h0m2-3h0m2-2h0m2-2h0m1-2h0m2-2h0m1-2h0m2-1h0"/><path stroke="#6547dd" d="M416 1236h0m2-2h0m1-2h0m2-2h0m1-2h0m2-2h0m1-1h0m2-2h0"/><path stroke="#3019db" d="M428 1222h0m2-2h0m1-1h0m2-2h0m1-1h0m2-1h0m1-2h0m1 0h0"/>
<path stroke="url(#gu)" stroke-dasharray="0 4.48" d="M440 1251L444 1234L450 1211L456 1191L463 1175L470 1161L476 1146L483 1132L488 1122"/>
<path stroke="url(#gur)" stroke-dasharray="0 5.41" d="M212 1186L229 1177L252 1165L272 1155L289 1149L306 1144L326 1135L349 1125L365 1117"/>
<path stroke="#938bcf" d="M239 1208h0m1 0h0m1-1h0m1 0h0m1 0h0m1-1h0m1-1h0m2 0h0"/><path stroke="#7f6ad6" d="M248 1204h0m1-2h0m1-1h0m2-1h0m1-2h0m2-1h0m1-2h0m1-1h0"/><path stroke="#6547dd" d="M259 1193h0m1-1h0m1-1h0m2-1h0m1-2h0m1-1h0m2-1h0m1-1h0"/><path stroke="#3019db" d="M270 1184h0m1-1h0m2-1h0m1-1h0m2-2h0m1-1h0m1-1h0m1 0h0"/>
<path stroke="url(#gur)" stroke-dasharray="0 4.63" d="M286 1236L298 1230L315 1221L332 1212L349 1203L366 1195L383 1187L402 1179L415 1174"/>
<path stroke="url(#gr)" stroke-dasharray="0 3.13" d="M350 1092L358 1089L370 1085L382 1085L395 1089L407 1093L420 1092L433 1088L443 1084"/>
<path stroke="url(#gr)" stroke-dasharray="0 4.16" d="M297 1186L310 1179L328 1171L344 1165L358 1162L372 1160L388 1158L407 1155L421 1153"/>
<path stroke="url(#gur)" stroke-dasharray="0 3.26" d="M452 1161L460 1153L470 1143L480 1134L490 1127L500 1120L510 1112L522 1103L530 1097"/>
<path stroke="url(#gr)" stroke-dasharray="0 4.50" d="M220 1175L234 1172L254 1168L271 1163L286 1156L300 1150L319 1146L340 1145L355 1144"/>
<path stroke="url(#gr)" stroke-dasharray="0 3.75" d="M360 1197L370 1190L384 1182L397 1174L411 1169L425 1164L440 1160L456 1158L467 1157"/>
<path stroke="url(#gr)" stroke-dasharray="0 3.08" d="M492 1088L501 1083L512 1077L524 1075L535 1079L546 1083L559 1082L572 1077L582 1074"/>
<path stroke="url(#gur)" stroke-dasharray="0 3.51" d="M423 1141L430 1134L442 1125L454 1116L469 1108L484 1100L497 1094L508 1090L516 1088"/>
<path stroke="url(#gur)" stroke-dasharray="0 4.55" d="M273 1168L284 1157L301 1142L318 1131L336 1126L353 1122L370 1118L386 1113L397 1109"/>
<path stroke="url(#gur)" stroke-dasharray="0 3.82" d="M430 1213L438 1201L449 1186L458 1171L465 1157L472 1145L482 1135L495 1128L504 1123"/>
<path stroke="url(#gr)" stroke-dasharray="0 2.93" d="M153 1122L162 1119L175 1115L186 1112L198 1113L209 1114L221 1115L233 1117L242 1119"/>
<path stroke="url(#gr)" stroke-dasharray="0 3.11" d="M326 1110L336 1111L350 1112L363 1112L376 1109L389 1107L402 1107L414 1107L422 1108"/>
<path stroke="url(#gr)" stroke-dasharray="0 3.43" d="M243 1123L252 1124L266 1126L279 1124L292 1119L305 1114L319 1113L335 1116L346 1118"/>
<path stroke="url(#gr)" stroke-dasharray="0 2.26" d="M437 1105L445 1102L456 1099L465 1097L471 1097L476 1098L486 1097L497 1096L506 1094"/>
<path stroke="url(#gr)" stroke-dasharray="0 3.33" d="M352 1182L362 1180L376 1178L389 1175L401 1170L413 1165L426 1160L440 1156L450 1152"/>
<path stroke="url(#gr)" stroke-dasharray="0 4.08" d="M314 1112L326 1108L343 1102L360 1099L377 1098L394 1097L411 1096L427 1094L438 1093"/>
<path stroke="#938bcf" d="M308 1316h0m5-6h0m5-7h0m5-5h0m6-6h0m1-1h0m0-1h0m1 0h0"/><path stroke="#7f6ad6" d="M332 1289h0m1-1h0m1-1h0m1-1h0m1-1h0m1 0h0m1-1h0m1-1h0"/><path stroke="#6547dd" d="M340 1282h0m2-1h0m1-1h0m1-1h0m1-1h0m1-1h0m2-1h0m1-1h0"/><path stroke="#3019db" d="M350 1274h0m1-1h0m2-2h0m1-1h0m1-1h0m1-1h0m1-1h0m1-1h0"/>
<path stroke="#938bcf" d="M389 1272h0m1-1h0m2-2h0m1-2h0m2-2h0m1-2h0m2-3h0m1-2h0"/><path stroke="#7f6ad6" d="M401 1256h0m1-2h0m1-2h0m2-2h0m1-2h0m2-1h0m1-2h0m1-2h0"/><path stroke="#6547dd" d="M411 1242h0m1-1h0m2-2h0m1-1h0m1-1h0m1-1h0m1-1h0m2-2h0"/><path stroke="#3019db" d="M421 1232h0m2-2h0m1-1h0m1-1h0m1-1h0m1-1h0m1 0h0m1-1h0"/>
<path stroke="url(#gur)" stroke-dasharray="0 3.95" d="M439 1196L449 1185L463 1170L475 1158L484 1149L493 1142L505 1133L520 1123L531 1116"/>
<path stroke="url(#gur)" stroke-dasharray="0 2.76" d="M412 1125L421 1122L434 1117L445 1113L453 1109L462 1105L471 1100L483 1095L491 1091"/>
<path stroke="#938bcf" d="M341 1292h0m2-2h0m2-3h0m2-3h0m2-3h0m2-2h0m2-2h0m2-3h0"/><path stroke="#7f6ad6" d="M357 1272h0m1-2h0m3-3h0m2-3h0m2-2h0m3-3h0m2-3h0m3-2h0"/><path stroke="#6547dd" d="M375 1251h0m2-3h0m3-2h0m2-3h0m3-3h0m3-3h0m2-3h0m3-3h0"/><path stroke="#3019db" d="M395 1229h0m3-3h0m2-2h0m2-2h0m3-1h0m2-2h0m2-1h0m1 0h0"/>
<path stroke="#938bcf" d="M358 1233h0m1 0h0m1-2h0m1-1h0m2-2h0m1-1h0m2-2h0m2-1h0"/><path stroke="#7f6ad6" d="M369 1223h0m1-1h0m2-1h0m1-1h0m1-1h0m2-1h0m1-1h0m1-1h0"/><path stroke="#6547dd" d="M380 1215h0m1-1h0m2-1h0m1-1h0m2-1h0m1-1h0m2-1h0m1-1h0"/><path stroke="#3019db" d="M392 1207h0m2-2h0m2-1h0m2-1h0m2-1h0m2-1h0m2-1h0m1 0h0"/>
<path stroke="url(#gur)" stroke-dasharray="0 2.00" d="M417 1220L422 1217L429 1213L435 1208L440 1202L444 1196L451 1190L459 1185L465 1181"/>
<path stroke="#938bcf" d="M454 1262h0m1-1h0m1-1h0m2-1h0m1 0h0m1-1h0m1-1h0"/><path stroke="#7f6ad6" d="M462 1255h0m2-1h0m1-1h0m2-2h0m1-1h0m1-2h0m1-1h0m1-1h0"/><path stroke="#6547dd" d="M472 1244h0m1-1h0m1-1h0m1-2h0m1-1h0m0-1h0m1-2h0m1-1h0"/><path stroke="#3019db" d="M478 1234h0m1-2h0m1-1h0m1-2h0m1-1h0m2-2h0m0-1h0m1-1h0"/>
<path stroke="#938bcf" d="M338 1491h0m5-3h0m5-8h0m5-6h0m4-11h0m5-11h0m6-21h0m6-24h0"/><path stroke="#7f6ad6" d="M379 1385h0m5-27h0m5-26h0m1-8h0m1-8h0m2-7h0m2-9h0m2-8h0"/><path stroke="#6547dd" d="M399 1288h0m1-3h0m2-3h0m3-4h0m3-4h0m4-4h0m3-4h0m3-4h0"/><path stroke="#3019db" d="M421 1258h0m4-5h0m2-5h0m2-5h0m1-5h0m2-5h0m2-5h0m1-4h0"/>
<path stroke="url(#gur)" stroke-dasharray="0 3.29" d="M255 1230L263 1225L274 1218L286 1211L298 1202L310 1194L323 1190L337 1189L346 1188"/>
<path stroke="url(#gr)" stroke-dasharray="0 3.44" d="M298 1138L307 1133L319 1127L332 1122L345 1116L359 1111L373 1108L388 1108L398 1108"/>
<path stroke="#938bcf" d="M389 1274h0m1-2h0m1-2h0m2-2h0m1-3h0m1-2h0m2-2h0m1-2h0"/><path stroke="#7f6ad6" d="M399 1258h0m1-2h0m1-2h0m2-2h0m1-1h0m1-2h0m1-1h0m2-2h0"/><path stroke="#6547dd" d="M409 1245h0m1-2h0m1-1h0m1-2h0m2-1h0m1-2h0m1-1h0m1-2h0"/><path stroke="#3019db" d="M418 1233h0m2-2h0m1-1h0m1-2h0m2-1h0m1-1h0m1-1h0m1-1h0"/>
<path stroke="url(#gr)" stroke-dasharray="0 4.67" d="M204 1204L217 1201L236 1196L255 1194L275 1196L294 1198L313 1196L332 1192L346 1188"/>
<path stroke="#938bcf" d="M364 1291h0m1 0h0m1 1h0m1 0h0m1 1h0m1 0h0m2 0h0m1 0h0"/><path stroke="#7f6ad6" d="M373 1293h0m1-1h0m1-1h0m0-1h0m1-1h0m1-1h0m1-1h0m0-2h0"/><path stroke="#6547dd" d="M379 1284h0m1-1h0m1-2h0m1-1h0m0-1h0m1-2h0m1-1h0m1-1h0"/><path stroke="#3019db" d="M386 1273h0m1-2h0m1-2h0m1-1h0m2-2h0m1-2h0m1-1h0m0-1h0"/>
<path stroke="#938bcf" d="M177 1212h0m1 0h0m2-1h0m2-1h0m2-1h0m2-2h0m3-1h0m2-1h0"/><path stroke="#7f6ad6" d="M194 1203h0m2-1h0m3-2h0m3-2h0m3-2h0m3-2h0m2-1h0m3-2h0"/><path stroke="#6547dd" d="M216 1189h0m2-1h0m3-2h0m3-2h0m2-1h0m3-1h0m2-2h0m2-1h0"/><path stroke="#3019db" d="M236 1178h0m2-1h0m2-1h0m2-1h0m2-1h0m1-1h0m2 0h0m1 0h0"/>
<path stroke="url(#gr)" stroke-dasharray="0 3.20" d="M221 1100L231 1097L245 1093L257 1092L268 1095L279 1098L293 1099L308 1098L318 1097"/>
<path stroke="url(#gr)" stroke-dasharray="0 3.38" d="M179 1123L190 1122L205 1120L218 1118L230 1117L241 1116L255 1113L271 1108L282 1104"/>
<path stroke="url(#gur)" stroke-dasharray="0 4.83" d="M353 1253L361 1237L373 1216L386 1199L401 1186L415 1175L428 1162L440 1149L449 1140"/>
<path stroke="url(#gur)" stroke-dasharray="0 2.62" d="M507 1175L513 1164L522 1150L529 1139L534 1133L539 1127L545 1122L553 1117L558 1114"/>
<path stroke="url(#gr)" stroke-dasharray="0 3.70" d="M427 1113L436 1106L449 1098L463 1094L478 1095L494 1096L508 1093L523 1086L533 1080"/>
<path stroke="url(#gr)" stroke-dasharray="0 4.63" d="M277 1221L290 1220L309 1218L327 1215L346 1208L365 1202L384 1200L404 1201L418 1202"/>
<path stroke="url(#gr)" stroke-dasharray="0 1.97" d="M510 1103L516 1098L523 1091L529 1089L536 1090L543 1092L550 1091L558 1087L564 1083"/>
<path stroke="#938bcf" d="M150 1102h0m2 0h0m2-1h0m3 0h0m3 0h0m4-1h0m4 0h0m4 0h0"/><path stroke="#7f6ad6" d="M176 1099h0m4 0h0m4 0h0m4-1h0m3 0h0m4 0h0m4 0h0m4 0h0"/><path stroke="#6547dd" d="M208 1098h0m4 0h0m4 0h0m4 0h0m4 0h0m4-1h0m4 0h0m5 0h0"/><path stroke="#3019db" d="M242 1097h0m4 0h0m5-1h0m4 0h0m4 0h0m4 0h0m3 0h0m2-1h0"/>
<path stroke="url(#gur)" stroke-dasharray="0 3.07" d="M487 1142L495 1139L507 1134L518 1129L529 1123L540 1116L552 1111L565 1107L574 1104"/>
<path stroke="#1000d7" d="M487 1246h0"/>
<path stroke="url(#gr)" stroke-dasharray="0 4.90" d="M159 1115L175 1116L197 1116L217 1115L233 1111L249 1107L269 1106L293 1107L310 1109"/>
<path stroke="url(#gr)" stroke-dasharray="0 3.12" d="M386 1125L394 1127L406 1130L417 1130L429 1127L440 1125L454 1126L469 1131L480 1135"/>
<path stroke="url(#gr)" stroke-dasharray="0 3.43" d="M377 1130L387 1125L400 1118L413 1113L424 1111L435 1108L449 1104L465 1098L476 1094"/>
<path stroke="url(#gr)" stroke-dasharray="0 3.09" d="M408 1130L418 1126L430 1119L442 1114L453 1111L465 1109L477 1108L490 1109L500 1110"/>
<path stroke="url(#gur)" stroke-dasharray="0 4.73" d="M308 1170L320 1161L338 1149L356 1140L374 1134L392 1128L410 1121L427 1113L439 1107"/>
<path stroke="url(#gur)" stroke-dasharray="0 3.99" d="M514 1224L519 1209L526 1187L533 1171L538 1160L543 1150L550 1138L560 1123L566 1113"/>
<path stroke="url(#gur)" stroke-dasharray="0 4.76" d="M467 1234L476 1216L489 1192L501 1175L511 1166L522 1159L535 1147L549 1132L560 1122"/>
<path stroke="url(#gur)" stroke-dasharray="0 3.75" d="M281 1234L291 1224L305 1210L318 1201L330 1199L342 1197L355 1191L368 1182L377 1175"/>
<path stroke="#938bcf" d="M241 1239h0m1 1h0m2 1h0m1 0h0m2 1h0m2 1h0m2 0h0m3 1h0"/><path stroke="#7f6ad6" d="M256 1243h0m3 0h0m3 0h0m3-1h0m2 0h0m3-1h0m2-1h0m2-2h0"/><path stroke="#6547dd" d="M276 1237h0m2-2h0m2-1h0m2-2h0m1-1h0m1-2h0m2-2h0m1-1h0"/><path stroke="#3019db" d="M288 1224h0m2-2h0m1-1h0m2-2h0m2-1h0m2-2h0m2-1h0m1-1h0"/>
<path stroke="url(#gr)" stroke-dasharray="0 3.57" d="M213 1118L223 1117L237 1115L250 1112L263 1106L276 1100L291 1097L308 1097L320 1098"/>
<path stroke="url(#gr)" stroke-dasharray="0 2.26" d="M540 1118L547 1112L556 1105L564 1102L570 1106L576 1110L584 1108L592 1102L598 1098"/>
<path stroke="url(#gur)" stroke-dasharray="0 4.09" d="M427 1253L435 1241L447 1225L459 1211L470 1197L482 1185L494 1176L507 1170L516 1166"/>
<path stroke="#1000d7" d="M470 1288h0"/>
<path stroke="url(#gr)" stroke-dasharray="0 3.48" d="M428 1118L439 1117L454 1115L469 1113L482 1109L496 1105L510 1103L524 1101L534 1099"/>
<path stroke="url(#gur)" stroke-dasharray="0 3.66" d="M382 1170L390 1157L402 1139L412 1127L422 1122L432 1117L444 1111L456 1102L465 1096"/>
<path stroke="url(#gr)" stroke-dasharray="0 2.89" d="M296 1094L304 1094L314 1095L325 1097L337 1100L348 1102L361 1102L374 1099L384 1096"/>
<path stroke="url(#gur)" stroke-dasharray="0 4.65" d="M413 1247L420 1229L430 1205L440 1186L448 1173L456 1162L465 1148L475 1132L482 1121"/>
<path stroke="#938bcf" d="M248 1277h0m1-1h0m2-2h0m2-1h0m2-2h0m3-2h0m2-2h0m2-2h0"/><path stroke="#7f6ad6" d="M264 1263h0m2-2h0m2-2h0m2-2h0m2-2h0m3-2h0m2-2h0m3-2h0"/><path stroke="#6547dd" d="M282 1247h0m2-2h0m3-2h0m2-2h0m3-2h0m2-3h0m4-2h0m3-2h0"/><path stroke="#3019db" d="M305 1229h0m3-1h0m3-1h0m2 0h0m3 2h0m2 1h0m1 2h0m2 1h0"/>
<path stroke="url(#gr)" stroke-dasharray="0 2.17" d="M456 1140L462 1137L470 1133L478 1128L484 1122L490 1117L499 1115L508 1117L516 1118"/>
<path stroke="url(#gr)" stroke-dasharray="0 4.92" d="M288 1141L301 1132L320 1120L339 1112L359 1107L379 1104L398 1101L418 1099L431 1098"/>
<path stroke="url(#gr)" stroke-dasharray="0 3.05" d="M369 1138L379 1134L393 1128L405 1124L417 1120L429 1118L441 1116L452 1116L460 1116"/>
<path stroke="url(#gur)" stroke-dasharray="0 3.33" d="M446 1214L451 1202L458 1186L466 1173L473 1161L480 1150L488 1141L495 1133L501 1127"/>
<path stroke="#1000d7" d="M482 1275h0"/>
<path stroke="url(#gur)" stroke-dasharray="0 4.34" d="M463 1190L474 1176L489 1158L502 1144L513 1133L524 1125L538 1119L555 1114L567 1111"/>
<path stroke="url(#gr)" stroke-dasharray="0 3.58" d="M448 1118L459 1112L475 1105L489 1099L500 1095L511 1093L525 1092L542 1093L554 1094"/>
<path stroke="url(#gr)" stroke-dasharray="0 3.23" d="M415 1123L426 1125L442 1128L455 1130L464 1131L473 1131L486 1133L503 1135L514 1137"/>
<path stroke="#938bcf" d="M258 1229h0m1 0h0m0-1h0m1 0h0m1-1h0m1-1h0m2 0h0m1-1h0"/><path stroke="#7f6ad6" d="M266 1224h0m1 0h0m1-1h0m1-1h0m1-1h0m1-1h0m1-1h0m1-1h0"/><path stroke="#6547dd" d="M274 1217h0m1-1h0m1-1h0m1-1h0m1-1h0m1-1h0m1-1h0m1-1h0"/><path stroke="#3019db" d="M283 1209h0m1-1h0m1-1h0m1-1h0m1 0h0m1-1h0m1-1h0"/>
<path stroke="#938bcf" d="M280 1253h0m1 0h0m2-1h0m1 0h0m2 0h0m2-1h0m2 1h0m2 0h0"/><path stroke="#7f6ad6" d="M293 1253h0m1 1h0m2 1h0m1 1h0m2 1h0m2 0h0m2-1h0m2-2h0"/><path stroke="#6547dd" d="M307 1253h0m2-2h0m2-1h0m2-1h0m2-2h0m2-1h0m2-1h0m1-2h0"/><path stroke="#3019db" d="M322 1242h0m1-1h0m2-1h0m2-2h0m1-1h0m2-2h0m1-1h0m1-1h0"/>
<path stroke="url(#gr)" stroke-dasharray="0 3.38" d="M209 1123L219 1119L233 1113L246 1111L260 1112L274 1114L287 1112L300 1107L310 1103"/>
<path stroke="url(#gr)" stroke-dasharray="0 4.50" d="M314 1168L327 1168L346 1169L364 1171L382 1174L400 1177L418 1177L438 1175L453 1174"/>
<path stroke="url(#gur)" stroke-dasharray="0 5.34" d="M309 1193L323 1181L342 1166L362 1156L382 1155L403 1154L424 1148L444 1138L458 1130"/>
<path stroke="#1000d7" d="M460 1265h0"/>
<path stroke="url(#gr)" stroke-dasharray="0 4.15" d="M250 1122L263 1117L282 1110L298 1105L313 1103L327 1101L344 1101L362 1102L375 1102"/>
<path stroke="url(#gr)" stroke-dasharray="0 3.57" d="M477 1130L488 1125L504 1119L517 1115L528 1111L538 1107L552 1102L569 1096L581 1092"/>
<path stroke="url(#gur)" stroke-dasharray="0 5.78" d="M395 1297L406 1276L420 1246L434 1224L445 1210L457 1197L468 1180L480 1160L489 1146"/>
<path stroke="#1000d7" d="M493 1247h0"/>
<path stroke="url(#gr)" stroke-dasharray="0 3.55" d="M237 1158L248 1158L264 1157L279 1157L293 1156L307 1155L321 1155L336 1154L346 1153"/>
<path stroke="url(#gr)" stroke-dasharray="0 4.08" d="M201 1158L213 1154L232 1147L248 1142L264 1139L279 1135L295 1133L312 1132L324 1131"/>
<path stroke="url(#gr)" stroke-dasharray="0 2.73" d="M527 1113L536 1111L548 1108L558 1104L566 1100L574 1095L585 1093L598 1091L607 1089"/>
<path stroke="url(#gr)" stroke-dasharray="0 5.40" d="M284 1164L301 1161L325 1157L347 1155L366 1156L384 1157L407 1158L432 1158L451 1158"/>
<path stroke="#1000d7" d="M477 1276h0"/>
<path stroke="url(#gr)" stroke-dasharray="0 3.39" d="M201 1142L211 1139L225 1136L239 1135L253 1137L267 1139L281 1139L295 1139L305 1138"/>
<path stroke="url(#gr)" stroke-dasharray="0 3.88" d="M310 1109L322 1106L338 1102L353 1100L367 1102L380 1103L397 1101L415 1097L428 1094"/>
<path stroke="url(#gr)" stroke-dasharray="0 3.97" d="M214 1177L225 1172L242 1167L257 1162L273 1158L288 1155L305 1152L321 1149L333 1147"/>
<path stroke="url(#gr)" stroke-dasharray="0 4.84" d="M216 1110L229 1107L249 1104L268 1100L288 1095L307 1091L327 1089L349 1087L364 1086"/>
<path stroke="url(#gr)" stroke-dasharray="0 2.36" d="M450 1149L458 1143L469 1136L477 1134L483 1138L489 1141L497 1139L507 1133L514 1129"/>
<path stroke="url(#gr)" stroke-dasharray="0 2.18" d="M407 1097L415 1095L426 1092L435 1090L443 1088L451 1086L459 1084L467 1082L472 1081"/>
<path stroke="#938bcf" d="M340 1253h0m1-1h0m1 0h0m1-1h0m2-1h0m1-2h0m2-1h0m1-1h0"/><path stroke="#7f6ad6" d="M351 1245h0m1-1h0m1-2h0m1-1h0m1-1h0m1-2h0m1-1h0m1-2h0"/><path stroke="#6547dd" d="M359 1234h0m0-1h0m1-2h0m1-1h0m0-1h0m1-2h0m0-1h0m1-1h0"/><path stroke="#3019db" d="M364 1223h0m1-1h0m1-1h0m1-2h0m2-1h0m1-1h0m1-1h0m0-1h0"/>
<path stroke="url(#gr)" stroke-dasharray="0 1.70" d="M427 1112L431 1109L437 1107L443 1106L449 1107L456 1108L463 1106L470 1102L476 1099"/>
<path stroke="url(#gr)" stroke-dasharray="0 4.07" d="M329 1114L343 1111L362 1106L378 1102L390 1096L402 1092L418 1089L437 1087L451 1086"/>
<path stroke="#938bcf" d="M175 1139h0m1 0h0m1 0h0m2 0h0m2-1h0m2 0h0m3 0h0m2 0h0"/><path stroke="#7f6ad6" d="M190 1138h0m3 0h0m2 0h0m2 1h0m2 0h0m2 1h0m2 2h0m3 1h0"/><path stroke="#6547dd" d="M208 1144h0m2 2h0m2 1h0m2 1h0m1 1h0m2 1h0m1 0h0m2 1h0"/><path stroke="#3019db" d="M221 1151h0m1 0h0m1 0h0m1 1h0m1 0h0m1 0h0m1 0h0"/>
<path stroke="url(#gr)" stroke-dasharray="0 3.16" d="M166 1133L174 1135L186 1138L199 1140L214 1141L228 1141L242 1142L254 1142L263 1142"/>
<path stroke="url(#gr)" stroke-dasharray="0 2.85" d="M202 1111L212 1109L226 1107L237 1105L246 1106L254 1106L266 1105L280 1104L290 1103"/>
<path stroke="url(#gur)" stroke-dasharray="0 4.08" d="M447 1174L456 1162L469 1145L482 1132L495 1124L508 1118L521 1110L534 1102L544 1097"/>
<path stroke="url(#gr)" stroke-dasharray="0 4.48" d="M158 1116L172 1114L191 1112L209 1112L224 1115L240 1118L259 1117L280 1115L295 1113"/>
<path stroke="url(#gr)" stroke-dasharray="0 5.23" d="M231 1165L247 1158L270 1148L290 1141L307 1136L324 1132L345 1126L368 1120L385 1115"/>
<path stroke="#938bcf" d="M279 1248h0m2 0h0m3 2h0m3 1h0m3 1h0m2 2h0m2 1h0m3 1h0"/><path stroke="#7f6ad6" d="M301 1256h0m5-3h0m6-3h0m6-4h0m4-4h0m4-3h0m3-4h0m1-3h0"/><path stroke="#6547dd" d="M331 1230h0m0-3h0m-1-2h0m-2-2h0m-3-2h0m-5-2h0m-5-2h0m-4-2h0"/><path stroke="#3019db" d="M308 1213h0m-2-2h0m-2-2h0m-2-3h0m-2-2h0m-2-4h0m-1-2h0m-1-2h0"/>
<path stroke="url(#gr)" stroke-dasharray="0 5.54" d="M176 1146L193 1149L216 1154L238 1157L260 1158L282 1158L305 1157L329 1154L346 1151"/>
<path stroke="#938bcf" d="M309 1205h0m1 1h0m1 1h0m1 2h0m2 2h0m1 1h0m2 2h0m1 2h0"/><path stroke="#7f6ad6" d="M319 1217h0m1 1h0m1 0h0m1 1h0m1 0h0m1 0h0m0 1h0m1 0h0"/><path stroke="#6547dd" d="M326 1221h0m1 0h0m1 1h0m1 1h0m1 0h0m1 1h0m0 1h0m1 0h0"/><path stroke="#3019db" d="M333 1226h0m0 1h0m0 1h0m1 1h0m0 1h0m0 1h0m1 1h0"/>
<path stroke="#938bcf" d="M442 1196h0m0-1h0m1-1h0m0-1h0m1-1h0m1-1h0m1-1h0m1-1h0"/><path stroke="#7f6ad6" d="M447 1188h0m1-1h0m1 0h0m1-1h0m1 0h0m0-1h0m1 0h0m1-1h0"/><path stroke="#6547dd" d="M454 1184h0m0-1h0m1 0h0m1 0h0m1 0h0m1-1h0m1 0h0"/><path stroke="#3019db" d="M460 1182h0m1 0h0m1 0h0m1 0h0m1 1h0m1 0h0"/>
<path stroke="url(#gur)" stroke-dasharray="0 3.64" d="M430 1215L437 1207L447 1195L458 1184L470 1174L483 1164L495 1155L506 1147L514 1141"/>
<path stroke="url(#gur)" stroke-dasharray="0 5.08" d="M411 1270L421 1254L436 1232L449 1214L459 1199L470 1186L482 1171L496 1156L506 1145"/>
<path stroke="url(#gr)" stroke-dasharray="0 2.84" d="M464 1115L471 1111L482 1105L492 1101L504 1100L515 1099L527 1098L540 1098L549 1098"/>
<path stroke="url(#gr)" stroke-dasharray="0 4.48" d="M242 1092L257 1093L278 1093L297 1093L314 1091L331 1088L349 1087L367 1087L380 1087"/>
<path stroke="url(#gr)" stroke-dasharray="0 4.91" d="M212 1143L226 1142L247 1141L267 1140L288 1140L308 1140L328 1140L349 1139L364 1139"/>
<path stroke="#1000d7" d="M481 1260h0"/>
<path stroke="url(#gr)" stroke-dasharray="0 3.73" d="M195 1142L205 1139L219 1135L233 1130L248 1124L264 1118L280 1117L296 1118L307 1119"/>
<path stroke="url(#gr)" stroke-dasharray="0 2.94" d="M368 1148L376 1145L389 1141L401 1137L412 1132L424 1127L435 1123L446 1120L454 1119"/>
<path stroke="url(#gur)" stroke-dasharray="0 3.12" d="M383 1176L392 1170L405 1161L417 1153L427 1145L437 1137L448 1133L459 1132L466 1131"/>
<path stroke="url(#gr)" stroke-dasharray="0 4.62" d="M196 1131L210 1129L230 1127L248 1122L266 1115L284 1109L303 1105L322 1105L335 1104"/>
<path stroke="url(#gr)" stroke-dasharray="0 3.17" d="M494 1114L504 1112L519 1111L531 1108L540 1104L550 1100L563 1098L579 1097L590 1096"/>
<path stroke="url(#gr)" stroke-dasharray="0 3.51" d="M205 1102L215 1100L229 1098L242 1099L254 1106L266 1112L281 1112L298 1109L310 1107"/>
<path stroke="url(#gur)" stroke-dasharray="0 4.26" d="M335 1201L345 1186L360 1167L373 1154L384 1148L396 1144L410 1137L426 1129L437 1123"/>
<path stroke="url(#gr)" stroke-dasharray="0 3.25" d="M357 1109L368 1109L383 1110L397 1110L409 1110L421 1110L434 1113L447 1117L456 1120"/>
<path stroke="url(#gr)" stroke-dasharray="0 4.36" d="M190 1113L205 1111L226 1108L243 1106L258 1104L272 1103L290 1103L310 1104L325 1105"/>
<path stroke="url(#gr)" stroke-dasharray="0 3.95" d="M158 1124L170 1123L188 1120L203 1117L216 1112L229 1107L245 1105L264 1105L278 1105"/>
<path stroke="url(#gr)" stroke-dasharray="0 2.01" d="M467 1107L473 1108L483 1109L492 1108L500 1107L507 1105L514 1102L521 1098L526 1095"/>
<path stroke="url(#gur)" stroke-dasharray="0 3.93" d="M512 1217L518 1203L527 1183L535 1165L541 1150L547 1137L554 1125L561 1115L566 1109"/>
<path stroke="#938bcf" d="M306 1193h0m1 0h0m1 0h0m1 0h0m1-1h0m1 0h0m1 0h0"/><path stroke="#7f6ad6" d="M313 1191h0m1 0h0m1 0h0m2-1h0m1 0h0m1 0h0m2 0h0m1-1h0"/><path stroke="#6547dd" d="M323 1189h0m2 0h0m2 0h0m1 0h0m2-1h0m2 0h0m2 0h0m2 0h0"/><path stroke="#3019db" d="M338 1188h0m1 0h0m2 0h0m2 0h0m1-1h0m2 0h0m1 0h0m1 0h0"/>
<path stroke="url(#gr)" stroke-dasharray="0 3.22" d="M182 1154L191 1151L204 1147L216 1144L227 1142L239 1139L252 1135L267 1129L278 1125"/>
<path stroke="url(#gr)" stroke-dasharray="0 2.92" d="M241 1164L249 1163L261 1161L272 1158L285 1155L298 1153L310 1153L322 1155L330 1156"/>
<path stroke="url(#gr)" stroke-dasharray="0 4.69" d="M216 1099L231 1101L252 1104L271 1103L287 1099L304 1095L324 1094L345 1095L360 1096"/>
<path stroke="#938bcf" d="M453 1261h0m2-1h0m3-2h0m3-3h0m2-2h0m2-2h0m2-2h0m2-2h0"/><path stroke="#7f6ad6" d="M470 1244h0m2-4h0m2-3h0m2-2h0m3-4h0m3-3h0m3-4h0m3-5h0"/><path stroke="#6547dd" d="M491 1216h0m3-3h0m3-3h0m3-3h0m3-4h0m3-4h0m3-5h0m3-4h0"/><path stroke="#3019db" d="M515 1185h0m3-4h0m3-4h0m2-3h0m3-4h0m2-3h0m3-3h0m2-3h0"/>
<path stroke="url(#gur)" stroke-dasharray="0 4.71" d="M410 1235L421 1221L436 1201L450 1183L461 1168L472 1154L484 1143L497 1134L507 1127"/>
<path stroke="#1000d7" d="M485 1270h0"/>
<path stroke="url(#gr)" stroke-dasharray="0 3.38" d="M376 1115L385 1108L398 1098L411 1093L424 1091L437 1091L450 1089L464 1087L474 1085"/>
<path stroke="url(#gr)" stroke-dasharray="0 3.61" d="M237 1105L247 1102L261 1099L275 1098L291 1100L306 1103L321 1103L337 1102L347 1102"/>
<path stroke="#938bcf" d="M260 1241h0m1 0h0m2 0h0m2-1h0m2 0h0m2 0h0m2-1h0m2 0h0"/><path stroke="#7f6ad6" d="M276 1239h0m2 0h0m2 0h0m2 0h0m2 0h0m2 0h0m2 1h0m2 0h0"/><path stroke="#6547dd" d="M292 1240h0m2 1h0m2 0h0m2 0h0m2 0h0m2 0h0m2-1h0m2 0h0"/><path stroke="#3019db" d="M309 1239h0m2-1h0m2-1h0m2-1h0m1-1h0m2 0h0m1-1h0m1 0h0"/>
<path stroke="url(#gr)" stroke-dasharray="0 5.10" d="M296 1100L312 1102L333 1105L354 1106L374 1106L393 1105L415 1103L437 1100L454 1098"/>
<path stroke="url(#gr)" stroke-dasharray="0 3.35" d="M434 1139L444 1139L458 1140L472 1141L484 1142L496 1144L510 1145L526 1148L537 1150"/>
</g>
<path d="M106.4 1134.9L109.4 1133.0L112.4 1131.2L115.4 1129.5L118.4 1128.0L121.4 1126.6L124.4 1125.3L127.4 1124.0L130.4 1122.7L133.4 1121.5L136.4 1120.3L139.4 1119.1L142.4 1117.9L145.4 1116.7L148.4 1115.6L151.4 1114.5L154.4 1113.4L157.4 1112.3L160.4 1111.2L163.4 1110.2L166.4 1109.2L169.4 1108.2L172.4 1107.3L175.4 1106.4L178.4 1105.5L181.4 1104.7L184.4 1103.9L187.4 1103.1L190.4 1102.4L193.4 1101.7L196.4 1101.1L199.4 1100.4L202.4 1099.9L205.4 1099.3L208.4 1098.8L211.4 1098.3L214.4 1097.9L217.4 1097.4L220.4 1097.0L223.4 1096.6L226.4 1096.3L229.4 1095.9L232.4 1095.6L235.4 1095.2L238.4 1094.8L241.4 1094.5L244.4 1094.1L247.4 1093.6L250.4 1093.2L253.4 1092.7L256.4 1092.2L259.4 1091.7L262.4 1091.2L265.4 1090.6L268.4 1090.1L271.4 1089.6L274.4 1089.2L277.4 1088.8L280.4 1088.5L283.4 1088.2L286.4 1088.0L289.4 1087.8L292.4 1087.6L295.4 1087.4L298.4 1087.3L301.4 1087.1L304.4 1087.0L307.4 1086.9L310.4 1086.9L313.4 1086.8L316.4 1086.7L319.4 1086.7L322.4 1086.6L325.4 1086.6L328.4 1086.5L331.4 1086.5L334.4 1086.4L337.4 1086.3L340.4 1086.3L343.4 1086.2L346.4 1086.1L349.4 1086.1L352.4 1086.0L355.4 1085.8L358.4 1085.7L361.4 1085.5L364.4 1085.2L367.4 1084.8L370.4 1084.3L373.4 1083.7L376.4 1083.1L379.4 1082.4L382.4 1081.7L385.4 1080.9L388.4 1080.1L391.4 1079.3L394.4 1078.6L397.4 1077.9L400.4 1077.3L403.4 1076.7L406.4 1076.3L409.4 1075.9L412.4 1075.7L415.4 1075.4L418.4 1075.2L421.4 1075.0L424.4 1074.9L427.4 1074.7L430.4 1074.6L433.4 1074.4L436.4 1074.3L439.4 1074.1L442.4 1074.0L445.4 1073.9L448.4 1073.7L451.4 1073.6L454.4 1073.4L457.4 1073.2L460.4 1073.0L463.4 1072.8L466.4 1072.5L469.4 1072.3L472.4 1072.1L475.4 1071.9L478.4 1071.7L481.4 1071.5L484.4 1071.4L487.4 1071.2L490.4 1071.2L493.4 1071.1L496.4 1071.1L499.4 1071.0L502.4 1071.0L505.4 1071.0L508.4 1071.0L511.4 1070.9L514.4 1070.9L517.4 1070.9L520.4 1070.9L523.4 1070.9L526.4 1070.9L529.4 1070.8L532.4 1070.8L535.4 1070.8L538.4 1070.8L541.4 1070.8L544.4 1070.8L547.4 1070.8L550.4 1070.7L553.4 1070.7L556.4 1070.7L559.4 1070.7L562.4 1070.7L565.4 1070.7L568.4 1070.7L571.4 1070.6L574.4 1070.6L577.4 1070.6L580.4 1070.6L583.4 1070.6L586.4 1070.6L589.4 1070.6L592.4 1070.6L595.4 1070.6L598.4 1070.5L601.4 1070.5" fill="none" stroke="#000" stroke-width="2.5"/>
</g>
<path d="M49.0 1050.2 V1511.8 H674.0" fill="none" stroke="#000" stroke-width="1.6"/>
<line x1="45.0" y1="1063.90" x2="49.0" y2="1063.90" stroke="#333" stroke-width="1.4"/>
<text x="42.0" y="1068.40" text-anchor="end" font-size="12.5" fill="#4d4d4d">0</text>
<line x1="45.0" y1="1177.30" x2="49.0" y2="1177.30" stroke="#333" stroke-width="1.4"/>
<text x="42.0" y="1181.80" text-anchor="end" font-size="12.5" fill="#4d4d4d">25</text>
<line x1="45.0" y1="1290.70" x2="49.0" y2="1290.70" stroke="#333" stroke-width="1.4"/>
<text x="42.0" y="1295.20" text-anchor="end" font-size="12.5" fill="#4d4d4d">50</text>
<line x1="45.0" y1="1404.10" x2="49.0" y2="1404.10" stroke="#333" stroke-width="1.4"/>
<text x="42.0" y="1408.60" text-anchor="end" font-size="12.5" fill="#4d4d4d">75</text>
<line x1="77.40" y1="1511.8" x2="77.40" y2="1515.8" stroke="#333" stroke-width="1.4"/>
<text x="77.40" y="1528.4" text-anchor="middle" font-size="12.5" fill="#4d4d4d">0.0</text>
<line x1="191.04" y1="1511.8" x2="191.04" y2="1515.8" stroke="#333" stroke-width="1.4"/>
<text x="191.04" y="1528.4" text-anchor="middle" font-size="12.5" fill="#4d4d4d">0.2</text>
<line x1="304.68" y1="1511.8" x2="304.68" y2="1515.8" stroke="#333" stroke-width="1.4"/>
<text x="304.68" y="1528.4" text-anchor="middle" font-size="12.5" fill="#4d4d4d">0.4</text>
<line x1="418.32" y1="1511.8" x2="418.32" y2="1515.8" stroke="#333" stroke-width="1.4"/>
<text x="418.32" y="1528.4" text-anchor="middle" font-size="12.5" fill="#4d4d4d">0.6</text>
<line x1="531.96" y1="1511.8" x2="531.96" y2="1515.8" stroke="#333" stroke-width="1.4"/>
<text x="531.96" y="1528.4" text-anchor="middle" font-size="12.5" fill="#4d4d4d">0.8</text>
<line x1="645.60" y1="1511.8" x2="645.60" y2="1515.8" stroke="#333" stroke-width="1.4"/>
<text x="645.60" y="1528.4" text-anchor="middle" font-size="12.5" fill="#4d4d4d">1.0</text>
<text x="361.5" y="1546.4" text-anchor="middle" font-size="15.8" fill="#000">Social demographic index</text>
<text transform="translate(19.8 1281.0) rotate(-90)" text-anchor="middle" font-size="15.8" fill="#000">Age-standardized mortality rate (per 100,000)</text>
<text x="5.3" y="1071.4" font-size="31.8" font-weight="bold" fill="#000">E</text>
<defs><linearGradient id="ygE" x1="0" y1="1" x2="0" y2="0"><stop offset="0" stop-color="#9a99cc"/><stop offset="0.25" stop-color="#8a79d3"/><stop offset="0.5" stop-color="#7459da"/><stop offset="0.75" stop-color="#5637e0"/><stop offset="1" stop-color="#1000d7"/></linearGradient></defs>
<rect x="697.8" y="1230.4" width="24.4" height="123.0" fill="url(#ygE)"/>
<text x="730.5" y="1358.4" font-size="12.6" fill="#000">1990</text>
<line x1="697.8" y1="1313.7" x2="702.7" y2="1313.7" stroke="#fff" stroke-opacity="0.75" stroke-width="1"/>
<line x1="717.3" y1="1313.7" x2="722.2" y2="1313.7" stroke="#fff" stroke-opacity="0.75" stroke-width="1"/>
<text x="730.5" y="1318.7" font-size="12.6" fill="#000">2000</text>
<line x1="697.8" y1="1274.0" x2="702.7" y2="1274.0" stroke="#fff" stroke-opacity="0.75" stroke-width="1"/>
<line x1="717.3" y1="1274.0" x2="722.2" y2="1274.0" stroke="#fff" stroke-opacity="0.75" stroke-width="1"/>
<text x="730.5" y="1279.0" font-size="12.6" fill="#000">2010</text>
<line x1="697.8" y1="1234.4" x2="702.7" y2="1234.4" stroke="#fff" stroke-opacity="0.75" stroke-width="1"/>
<line x1="717.3" y1="1234.4" x2="722.2" y2="1234.4" stroke="#fff" stroke-opacity="0.75" stroke-width="1"/>
<text x="730.5" y="1239.4" font-size="12.6" fill="#000">2020</text>
<text x="697.6" y="1220.4" font-size="15.4" fill="#000">year</text>
<line x1="822.2" y1="1107.10" x2="1420.3" y2="1107.10" stroke="#ececec" stroke-width="0.9"/>
<line x1="822.2" y1="1210.30" x2="1420.3" y2="1210.30" stroke="#ececec" stroke-width="0.9"/>
<line x1="822.2" y1="1313.50" x2="1420.3" y2="1313.50" stroke="#ececec" stroke-width="0.9"/>
<line x1="822.2" y1="1416.70" x2="1420.3" y2="1416.70" stroke="#ececec" stroke-width="0.9"/>
<line x1="903.43" y1="1050.1" x2="903.43" y2="1511.8" stroke="#ececec" stroke-width="0.9"/>
<line x1="1012.29" y1="1050.1" x2="1012.29" y2="1511.8" stroke="#ececec" stroke-width="0.9"/>
<line x1="1121.15" y1="1050.1" x2="1121.15" y2="1511.8" stroke="#ececec" stroke-width="0.9"/>
<line x1="1230.01" y1="1050.1" x2="1230.01" y2="1511.8" stroke="#ececec" stroke-width="0.9"/>
<line x1="1338.87" y1="1050.1" x2="1338.87" y2="1511.8" stroke="#ececec" stroke-width="0.9"/>
<line x1="822.2" y1="1055.50" x2="1420.3" y2="1055.50" stroke="#cbcbcb" stroke-width="1.2"/>
<line x1="822.2" y1="1158.70" x2="1420.3" y2="1158.70" stroke="#cbcbcb" stroke-width="1.2"/>
<line x1="822.2" y1="1261.90" x2="1420.3" y2="1261.90" stroke="#cbcbcb" stroke-width="1.2"/>
<line x1="822.2" y1="1365.10" x2="1420.3" y2="1365.10" stroke="#cbcbcb" stroke-width="1.2"/>
<line x1="822.2" y1="1468.30" x2="1420.3" y2="1468.30" stroke="#cbcbcb" stroke-width="1.2"/>
<line x1="849.00" y1="1050.1" x2="849.00" y2="1511.8" stroke="#cbcbcb" stroke-width="1.2"/>
<line x1="957.86" y1="1050.1" x2="957.86" y2="1511.8" stroke="#cbcbcb" stroke-width="1.2"/>
<line x1="1066.72" y1="1050.1" x2="1066.72" y2="1511.8" stroke="#cbcbcb" stroke-width="1.2"/>
<line x1="1175.58" y1="1050.1" x2="1175.58" y2="1511.8" stroke="#cbcbcb" stroke-width="1.2"/>
<line x1="1284.44" y1="1050.1" x2="1284.44" y2="1511.8" stroke="#cbcbcb" stroke-width="1.2"/>
<line x1="1393.30" y1="1050.1" x2="1393.30" y2="1511.8" stroke="#cbcbcb" stroke-width="1.2"/>
<circle cx="940.6" cy="1154.1" r="4.8" fill="#0000CD"/>
<circle cx="891.6" cy="1209.5" r="4.8" fill="#0000CD"/>
<circle cx="980.0" cy="1166.7" r="4.8" fill="#B0493A"/>
<circle cx="995.2" cy="1134.1" r="4.8" fill="#0000CD"/>
<circle cx="1004.5" cy="1129.7" r="4.8" fill="#0000CD"/>
<circle cx="1000.6" cy="1159.7" r="4.8" fill="#0000CD"/>
<circle cx="1006.6" cy="1180.2" r="4.8" fill="#0000CD"/>
<circle cx="1017.2" cy="1205.2" r="4.8" fill="#0000CD"/>
<circle cx="1044.5" cy="1126.8" r="4.8" fill="#0000CD"/>
<circle cx="1032.1" cy="1152.0" r="4.8" fill="#0000CD"/>
<circle cx="1040.8" cy="1148.3" r="4.8" fill="#0000CD"/>
<circle cx="1044.9" cy="1146.3" r="4.8" fill="#0000CD"/>
<circle cx="1052.5" cy="1143.4" r="4.8" fill="#0000CD"/>
<circle cx="1057.9" cy="1168.0" r="4.8" fill="#0000CD"/>
<circle cx="1058.4" cy="1170.7" r="4.8" fill="#0000CD"/>
<circle cx="1041.1" cy="1195.0" r="4.8" fill="#0000CD"/>
<circle cx="1068.8" cy="1180.0" r="4.8" fill="#0000CD"/>
<circle cx="1071.4" cy="1144.2" r="4.8" fill="#0000CD"/>
<circle cx="1071.7" cy="1152.5" r="4.8" fill="#B0493A"/>
<circle cx="1071.4" cy="1157.2" r="4.8" fill="#0000CD"/>
<circle cx="1079.9" cy="1131.7" r="4.8" fill="#0000CD"/>
<circle cx="1081.8" cy="1132.5" r="4.8" fill="#0000CD"/>
<circle cx="1092.1" cy="1128.4" r="4.8" fill="#0000CD"/>
<circle cx="1086.1" cy="1148.4" r="4.8" fill="#0000CD"/>
<circle cx="1096.2" cy="1147.5" r="4.8" fill="#0000CD"/>
<circle cx="1107.6" cy="1141.4" r="4.8" fill="#0000CD"/>
<circle cx="1106.7" cy="1179.7" r="4.8" fill="#0000CD"/>
<circle cx="1084.8" cy="1209.0" r="4.8" fill="#0000CD"/>
<circle cx="1244.1" cy="1071.3" r="4.8" fill="#0000CD"/>
<circle cx="1309.8" cy="1070.9" r="4.8" fill="#0000CD"/>
<circle cx="1332.2" cy="1077.9" r="4.8" fill="#0000CD"/>
<circle cx="1123.3" cy="1106.5" r="4.8" fill="#0000CD"/>
<circle cx="1139.2" cy="1108.3" r="4.8" fill="#0000CD"/>
<circle cx="1192.5" cy="1088.3" r="4.8" fill="#0000CD"/>
<circle cx="1198.9" cy="1100.5" r="4.8" fill="#0000CD"/>
<circle cx="1207.1" cy="1106.9" r="4.8" fill="#0000CD"/>
<circle cx="1218.9" cy="1103.4" r="4.8" fill="#B0493A"/>
<circle cx="1227.3" cy="1093.7" r="4.8" fill="#0000CD"/>
<circle cx="1228.6" cy="1103.4" r="4.8" fill="#0000CD"/>
<circle cx="1285.2" cy="1092.5" r="4.8" fill="#0000CD"/>
<circle cx="1292.4" cy="1097.4" r="4.8" fill="#0000CD"/>
<circle cx="1289.7" cy="1102.0" r="4.8" fill="#0000CD"/>
<circle cx="1307.6" cy="1103.2" r="4.8" fill="#0000CD"/>
<circle cx="1315.2" cy="1099.8" r="4.8" fill="#0000CD"/>
<circle cx="1269.6" cy="1109.3" r="4.8" fill="#0000CD"/>
<circle cx="1330.8" cy="1110.2" r="4.8" fill="#0000CD"/>
<circle cx="1343.5" cy="1112.0" r="4.8" fill="#0000CD"/>
<circle cx="1356.8" cy="1113.4" r="4.8" fill="#0000CD"/>
<circle cx="1322.2" cy="1115.1" r="4.8" fill="#0000CD"/>
<circle cx="1331.3" cy="1119.3" r="4.8" fill="#0000CD"/>
<circle cx="1326.2" cy="1123.5" r="4.8" fill="#0000CD"/>
<circle cx="1287.5" cy="1118.7" r="4.8" fill="#0000CD"/>
<circle cx="1298.5" cy="1118.9" r="4.8" fill="#0000CD"/>
<circle cx="1305.2" cy="1124.2" r="4.8" fill="#0000CD"/>
<circle cx="1291.5" cy="1124.8" r="4.8" fill="#0000CD"/>
<circle cx="1278.8" cy="1126.0" r="4.8" fill="#0000CD"/>
<circle cx="1282.4" cy="1130.2" r="4.8" fill="#0000CD"/>
<circle cx="1296.1" cy="1129.7" r="4.8" fill="#0000CD"/>
<circle cx="1300.7" cy="1132.1" r="4.8" fill="#0000CD"/>
<circle cx="1313.4" cy="1132.1" r="4.8" fill="#0000CD"/>
<circle cx="1324.4" cy="1133.3" r="4.8" fill="#0000CD"/>
<circle cx="1332.6" cy="1133.9" r="4.8" fill="#0000CD"/>
<circle cx="1340.4" cy="1127.9" r="4.8" fill="#0000CD"/>
<circle cx="1348.1" cy="1132.1" r="4.8" fill="#0000CD"/>
<circle cx="1286.1" cy="1135.7" r="4.8" fill="#0000CD"/>
<circle cx="1291.5" cy="1137.5" r="4.8" fill="#0000CD"/>
<circle cx="1308.9" cy="1135.7" r="4.8" fill="#0000CD"/>
<circle cx="1309.8" cy="1139.4" r="4.8" fill="#0000CD"/>
<circle cx="1273.3" cy="1139.4" r="4.8" fill="#0000CD"/>
<circle cx="1267.5" cy="1133.9" r="4.8" fill="#B0493A"/>
<circle cx="1245.0" cy="1118.0" r="4.8" fill="#0000CD"/>
<circle cx="1247.4" cy="1126.6" r="4.8" fill="#0000CD"/>
<circle cx="1252.9" cy="1124.2" r="4.8" fill="#0000CD"/>
<circle cx="1259.6" cy="1124.8" r="4.8" fill="#0000CD"/>
<circle cx="1231.0" cy="1123.8" r="4.8" fill="#0000CD"/>
<circle cx="1230.4" cy="1134.8" r="4.8" fill="#0000CD"/>
<circle cx="1234.1" cy="1140.3" r="4.8" fill="#0000CD"/>
<circle cx="1220.4" cy="1129.0" r="4.8" fill="#0000CD"/>
<circle cx="1209.4" cy="1133.0" r="4.8" fill="#0000CD"/>
<circle cx="1185.2" cy="1122.9" r="4.8" fill="#0000CD"/>
<circle cx="1194.5" cy="1120.7" r="4.8" fill="#0000CD"/>
<circle cx="1188.1" cy="1133.0" r="4.8" fill="#0000CD"/>
<circle cx="1181.2" cy="1141.2" r="4.8" fill="#0000CD"/>
<circle cx="1167.5" cy="1133.0" r="4.8" fill="#0000CD"/>
<circle cx="1166.6" cy="1144.8" r="4.8" fill="#0000CD"/>
<circle cx="1203.1" cy="1145.4" r="4.8" fill="#0000CD"/>
<circle cx="1207.6" cy="1143.9" r="4.8" fill="#0000CD"/>
<circle cx="1213.1" cy="1147.2" r="4.8" fill="#0000CD"/>
<circle cx="1195.8" cy="1154.5" r="4.8" fill="#0000CD"/>
<circle cx="1179.4" cy="1156.3" r="4.8" fill="#0000CD"/>
<circle cx="1156.5" cy="1155.8" r="4.8" fill="#0000CD"/>
<circle cx="1155.6" cy="1158.9" r="4.8" fill="#0000CD"/>
<circle cx="1133.7" cy="1124.8" r="4.8" fill="#0000CD"/>
<circle cx="1142.9" cy="1129.3" r="4.8" fill="#B0493A"/>
<circle cx="1120.1" cy="1129.0" r="4.8" fill="#0000CD"/>
<circle cx="1123.7" cy="1132.1" r="4.8" fill="#0000CD"/>
<circle cx="1134.3" cy="1143.0" r="4.8" fill="#0000CD"/>
<circle cx="1108.2" cy="1141.2" r="4.8" fill="#0000CD"/>
<circle cx="1114.6" cy="1149.0" r="4.8" fill="#0000CD"/>
<circle cx="1106.4" cy="1179.5" r="4.8" fill="#0000CD"/>
<circle cx="1127.0" cy="1173.5" r="4.8" fill="#B0493A"/>
<circle cx="1124.6" cy="1176.7" r="4.8" fill="#0000CD"/>
<circle cx="1143.8" cy="1171.6" r="4.8" fill="#0000CD"/>
<circle cx="1155.6" cy="1172.2" r="4.8" fill="#0000CD"/>
<circle cx="1143.8" cy="1185.9" r="4.8" fill="#0000CD"/>
<circle cx="1162.0" cy="1187.3" r="4.8" fill="#0000CD"/>
<circle cx="1185.4" cy="1175.3" r="4.8" fill="#0000CD"/>
<circle cx="1190.3" cy="1177.7" r="4.8" fill="#0000CD"/>
<circle cx="1193.9" cy="1189.1" r="4.8" fill="#0000CD"/>
<circle cx="1209.4" cy="1180.0" r="4.8" fill="#0000CD"/>
<circle cx="1215.3" cy="1174.0" r="4.8" fill="#0000CD"/>
<circle cx="1203.1" cy="1187.7" r="4.8" fill="#B0493A"/>
<circle cx="1211.3" cy="1184.0" r="4.8" fill="#B0493A"/>
<circle cx="1230.4" cy="1172.7" r="4.8" fill="#0000CD"/>
<circle cx="1242.6" cy="1163.1" r="4.8" fill="#0000CD"/>
<circle cx="1253.6" cy="1160.0" r="4.8" fill="#0000CD"/>
<circle cx="1253.2" cy="1175.3" r="4.8" fill="#0000CD"/>
<circle cx="1236.4" cy="1185.5" r="4.8" fill="#0000CD"/>
<circle cx="1242.6" cy="1187.3" r="4.8" fill="#0000CD"/>
<circle cx="1257.2" cy="1190.4" r="4.8" fill="#0000CD"/>
<circle cx="1268.7" cy="1178.9" r="4.8" fill="#0000CD"/>
<circle cx="1276.0" cy="1183.1" r="4.8" fill="#0000CD"/>
<circle cx="1283.9" cy="1174.6" r="4.8" fill="#0000CD"/>
<circle cx="1279.7" cy="1152.1" r="4.8" fill="#0000CD"/>
<circle cx="1287.0" cy="1156.3" r="4.8" fill="#0000CD"/>
<circle cx="1301.6" cy="1163.1" r="4.8" fill="#0000CD"/>
<circle cx="1309.8" cy="1169.1" r="4.8" fill="#0000CD"/>
<circle cx="1317.1" cy="1167.6" r="4.8" fill="#0000CD"/>
<circle cx="1318.0" cy="1163.1" r="4.8" fill="#0000CD"/>
<circle cx="1311.6" cy="1154.9" r="4.8" fill="#0000CD"/>
<circle cx="1317.1" cy="1157.6" r="4.8" fill="#0000CD"/>
<circle cx="1305.2" cy="1147.2" r="4.8" fill="#0000CD"/>
<circle cx="1324.4" cy="1147.2" r="4.8" fill="#0000CD"/>
<circle cx="1337.1" cy="1151.2" r="4.8" fill="#0000CD"/>
<circle cx="1331.7" cy="1170.4" r="4.8" fill="#0000CD"/>
<circle cx="1311.2" cy="1187.3" r="4.8" fill="#0000CD"/>
<circle cx="1322.9" cy="1195.0" r="4.8" fill="#0000CD"/>
<circle cx="1254.7" cy="1199.5" r="4.8" fill="#0000CD"/>
<circle cx="1260.5" cy="1199.5" r="4.8" fill="#0000CD"/>
<circle cx="1267.5" cy="1203.2" r="4.8" fill="#0000CD"/>
<circle cx="1255.1" cy="1206.8" r="4.8" fill="#0000CD"/>
<circle cx="1213.5" cy="1206.8" r="4.8" fill="#0000CD"/>
<circle cx="1221.3" cy="1208.1" r="4.8" fill="#0000CD"/>
<circle cx="1026.6" cy="1233.8" r="4.8" fill="#B0493A"/>
<circle cx="1067.0" cy="1223.8" r="4.8" fill="#0000CD"/>
<circle cx="1123.5" cy="1225.6" r="4.8" fill="#0000CD"/>
<circle cx="1115.3" cy="1236.9" r="4.8" fill="#0000CD"/>
<circle cx="1094.2" cy="1244.7" r="4.8" fill="#0000CD"/>
<circle cx="1106.7" cy="1254.4" r="4.8" fill="#B0493A"/>
<circle cx="1106.7" cy="1258.8" r="4.8" fill="#0000CD"/>
<circle cx="1091.2" cy="1265.4" r="4.8" fill="#0000CD"/>
<circle cx="1032.6" cy="1276.4" r="4.8" fill="#0000CD"/>
<circle cx="1117.0" cy="1307.7" r="4.8" fill="#0000CD"/>
<circle cx="1106.4" cy="1338.8" r="4.8" fill="#0000CD"/>
<circle cx="1076.6" cy="1343.0" r="4.8" fill="#0000CD"/>
<circle cx="1209.4" cy="1214.2" r="4.8" fill="#B0493A"/>
<circle cx="1234.6" cy="1217.8" r="4.8" fill="#B0493A"/>
<circle cx="1241.9" cy="1222.4" r="4.8" fill="#0000CD"/>
<circle cx="1263.3" cy="1218.7" r="4.8" fill="#0000CD"/>
<circle cx="1267.5" cy="1221.1" r="4.8" fill="#B0493A"/>
<circle cx="1280.2" cy="1221.5" r="4.8" fill="#0000CD"/>
<circle cx="1267.5" cy="1230.2" r="4.8" fill="#0000CD"/>
<circle cx="1259.6" cy="1239.7" r="4.8" fill="#0000CD"/>
<circle cx="1240.1" cy="1235.1" r="4.8" fill="#0000CD"/>
<circle cx="1243.2" cy="1241.2" r="4.8" fill="#0000CD"/>
<circle cx="1244.5" cy="1251.2" r="4.8" fill="#0000CD"/>
<circle cx="1289.2" cy="1250.6" r="4.8" fill="#B0493A"/>
<circle cx="1203.4" cy="1222.4" r="4.8" fill="#0000CD"/>
<circle cx="1204.5" cy="1227.8" r="4.8" fill="#0000CD"/>
<circle cx="1195.2" cy="1232.4" r="4.8" fill="#0000CD"/>
<circle cx="1190.7" cy="1234.8" r="4.8" fill="#0000CD"/>
<circle cx="1173.9" cy="1226.4" r="4.8" fill="#B0493A"/>
<circle cx="1139.8" cy="1242.1" r="4.8" fill="#0000CD"/>
<circle cx="1177.9" cy="1259.2" r="4.8" fill="#0000CD"/>
<circle cx="1205.8" cy="1256.7" r="4.8" fill="#0000CD"/>
<circle cx="1206.7" cy="1270.2" r="4.8" fill="#0000CD"/>
<circle cx="1222.6" cy="1267.6" r="4.8" fill="#0000CD"/>
<circle cx="1240.5" cy="1272.5" r="4.8" fill="#0000CD"/>
<circle cx="1243.6" cy="1282.6" r="4.8" fill="#B0493A"/>
<circle cx="1269.1" cy="1287.1" r="4.8" fill="#0000CD"/>
<circle cx="1290.1" cy="1288.0" r="4.8" fill="#0000CD"/>
<circle cx="1298.8" cy="1299.5" r="4.8" fill="#0000CD"/>
<circle cx="1216.2" cy="1301.2" r="4.8" fill="#0000CD"/>
<circle cx="1208.5" cy="1305.4" r="4.8" fill="#B0493A"/>
<circle cx="1172.1" cy="1305.4" r="4.8" fill="#0000CD"/>
<circle cx="1136.1" cy="1308.5" r="4.8" fill="#0000CD"/>
<circle cx="1159.3" cy="1320.0" r="4.8" fill="#0000CD"/>
<circle cx="1220.4" cy="1322.7" r="4.8" fill="#0000CD"/>
<circle cx="1220.4" cy="1328.5" r="4.8" fill="#B0493A"/>
<circle cx="1257.8" cy="1322.1" r="4.8" fill="#0000CD"/>
<circle cx="1106.5" cy="1338.8" r="4.8" fill="#0000CD"/>
<circle cx="1247.8" cy="1359.7" r="4.8" fill="#B0493A"/>
<circle cx="1162.8" cy="1366.2" r="4.8" fill="#0000CD"/>
<circle cx="1175.3" cy="1368.7" r="4.8" fill="#0000CD"/>
<circle cx="1169.0" cy="1407.6" r="4.8" fill="#0000CD"/>
<circle cx="1161.8" cy="1415.6" r="4.8" fill="#0000CD"/>
<circle cx="1189.2" cy="1415.6" r="4.8" fill="#0000CD"/>
<circle cx="1082.7" cy="1441.8" r="4.8" fill="#0000CD"/>
<circle cx="1093.2" cy="1441.4" r="4.8" fill="#0000CD"/>
<circle cx="1128.4" cy="1453.5" r="4.8" fill="#B0493A"/>
<circle cx="1185.1" cy="1490.6" r="4.8" fill="#0000CD"/>
<path d="M876.8 1217.2L879.8 1212.6L882.8 1208.3L885.8 1204.4L888.8 1200.8L891.8 1197.5L894.8 1194.3L897.8 1191.3L900.8 1188.3L903.8 1185.4L906.8 1182.6L909.8 1179.8L912.8 1177.0L915.8 1174.2L918.8 1171.5L921.8 1168.9L924.8 1166.3L927.8 1163.8L930.8 1161.3L933.8 1159.0L936.8 1156.6L939.8 1154.4L942.8 1152.3L945.8 1150.2L948.8 1148.2L951.8 1146.3L954.8 1144.5L957.8 1142.8L960.8 1141.2L963.8 1139.7L966.8 1138.2L969.8 1136.9L972.8 1135.6L975.8 1134.4L978.8 1133.3L981.8 1132.2L984.8 1131.2L987.8 1130.3L990.8 1129.4L993.8 1128.5L996.8 1127.7L999.8 1126.9L1002.8 1126.0L1005.8 1125.1L1008.8 1124.2L1011.8 1123.2L1014.8 1122.1L1017.8 1121.0L1020.8 1119.8L1023.8 1118.5L1026.8 1117.3L1029.8 1116.0L1032.8 1114.8L1035.8 1113.7L1038.8 1112.7L1041.8 1111.9L1044.8 1111.1L1047.8 1110.5L1050.8 1110.0L1053.8 1109.5L1056.8 1109.1L1059.8 1108.8L1062.8 1108.5L1065.8 1108.2L1068.8 1108.0L1071.8 1107.8L1074.8 1107.6L1077.8 1107.4L1080.8 1107.3L1083.8 1107.2L1086.8 1107.1L1089.8 1106.9L1092.8 1106.8L1095.8 1106.7L1098.8 1106.5L1101.8 1106.4L1104.8 1106.2L1107.8 1106.0L1110.8 1105.8L1113.8 1105.5L1116.8 1105.2L1119.8 1104.7L1122.8 1104.1L1125.8 1103.3L1128.8 1102.2L1131.8 1101.0L1134.8 1099.5L1137.8 1097.9L1140.8 1096.1L1143.8 1094.3L1146.8 1092.5L1149.8 1090.6L1152.8 1088.9L1155.8 1087.2L1158.8 1085.8L1161.8 1084.5L1164.8 1083.5L1167.8 1082.7L1170.8 1082.1L1173.8 1081.5L1176.8 1081.1L1179.8 1080.6L1182.8 1080.3L1185.8 1079.9L1188.8 1079.6L1191.8 1079.2L1194.8 1078.9L1197.8 1078.6L1200.8 1078.3L1203.8 1077.9L1206.8 1077.5L1209.8 1077.1L1212.8 1076.7L1215.8 1076.2L1218.8 1075.7L1221.8 1075.1L1224.8 1074.6L1227.8 1074.0L1230.8 1073.6L1233.8 1073.1L1236.8 1072.7L1239.8 1072.4L1242.8 1072.2L1245.8 1072.0L1248.8 1071.8L1251.8 1071.8L1254.8 1071.7L1257.8 1071.6L1260.8 1071.6L1263.8 1071.5L1266.8 1071.5L1269.8 1071.4L1272.8 1071.4L1275.8 1071.4L1278.8 1071.3L1281.8 1071.3L1284.8 1071.3L1287.8 1071.2L1290.8 1071.2L1293.8 1071.2L1296.8 1071.1L1299.8 1071.1L1302.8 1071.1L1305.8 1071.0L1308.8 1071.0L1311.8 1071.0L1314.8 1070.9L1317.8 1070.9L1320.8 1070.9L1323.8 1070.8L1326.8 1070.8L1329.8 1070.8L1332.8 1070.7L1335.8 1070.7L1338.8 1070.7L1341.8 1070.7L1344.8 1070.7L1347.8 1070.6L1350.8 1070.6" fill="none" stroke="#000" stroke-width="2.5"/>
<line x1="1287.0" y1="1147.6" x2="1314.3" y2="1157.6" stroke="#DD1C1C" stroke-width="1.2"/>
<line x1="1330.8" y1="1152.1" x2="1319.8" y2="1162.2" stroke="#DD1C1C" stroke-width="1.2"/>
<line x1="1294.8" y1="1164.9" x2="1315.2" y2="1167.3" stroke="#DD1C1C" stroke-width="1.2"/>
<text x="973.2" y="1122.7" font-size="10.1" font-weight="bold" fill="#0000CD">Burkina Faso</text>
<text x="972.4" y="1147.5" font-size="10.1" font-weight="bold" fill="#0000CD">Mali</text>
<text x="915.0" y="1167.8" font-size="10.1" font-weight="bold" fill="#0000CD">Niger</text>
<text x="1038.3" y="1140.9" font-size="10.1" font-weight="bold" fill="#0000CD">Ethiopia</text>
<text x="858.9" y="1223.8" font-size="10.1" font-weight="bold" fill="#0000CD">Somalia</text>
<text x="1240.5" y="1150.7" font-size="10.1" font-weight="bold" fill="#DD1C1C">Lithuania</text>
<text x="1296.0" y="1150.5" font-size="10.1" font-weight="bold" fill="#DD1C1C">United States of America</text>
<text x="1256.5" y="1168.0" font-size="10.1" font-weight="bold" fill="#DD1C1C">Finland</text>
<text x="1302.8" y="1184.4" font-size="10.1" font-weight="bold" fill="#DD1C1C">Republic of Korea</text>
<text x="1295.5" y="1208.4" font-size="10.1" font-weight="bold" fill="#DD1C1C">Japan</text>
<text x="978.5" y="1313.1" font-size="10.1" font-weight="bold" fill="#111">Democratic People&#39;s Republic of Korea</text>
<text x="1178.4" y="1316.3" font-size="10.1" font-weight="bold" fill="#111">Thailand</text>
<text x="1230.4" y="1315.4" font-size="10.1" font-weight="bold" fill="#111">North Macedonia</text>
<text x="1169.8" y="1341.8" font-size="10.1" font-weight="bold" fill="#111">Turkmenistan</text>
<text x="1245.8" y="1353.1" font-size="10.1" font-weight="bold" fill="#111">Georgia</text>
<text x="1017.6" y="1358.3" font-size="10.1" font-weight="bold" fill="#111">Papua New Guinea</text>
<text x="1134.3" y="1359.3" font-size="10.1" font-weight="bold" fill="#111">Tuvalu</text>
<text x="1116.7" y="1382.8" font-size="10.1" font-weight="bold" fill="#111">Bolivia (Plurinational State of)</text>
<text x="1104.0" y="1400.7" font-size="10.1" font-weight="bold" fill="#111">Micronesia (Federated States of)</text>
<text x="1104.6" y="1429.3" font-size="10.1" font-weight="bold" fill="#111">Marshall Islands</text>
<text x="1194.5" y="1429.3" font-size="10.1" font-weight="bold" fill="#111">Nauru</text>
<text x="1069.4" y="1434.6" font-size="10.1" font-weight="bold" fill="#111">Haiti</text>
<text x="1026.8" y="1456.0" font-size="10.1" font-weight="bold" fill="#111">Solomon Islands</text>
<text x="1118.6" y="1467.8" font-size="10.1" font-weight="bold" fill="#111">Honduras</text>
<text x="1176.9" y="1484.4" font-size="10.1" font-weight="bold" fill="#111">Mongolia</text>
<path d="M822.2 1050.1 V1511.8 H1420.3" fill="none" stroke="#000" stroke-width="1.6"/>
<line x1="818.2" y1="1055.50" x2="822.2" y2="1055.50" stroke="#333" stroke-width="1.4"/>
<text x="815.2" y="1060.00" text-anchor="end" font-size="12.5" fill="#4d4d4d">0</text>
<line x1="818.2" y1="1158.70" x2="822.2" y2="1158.70" stroke="#333" stroke-width="1.4"/>
<text x="815.2" y="1163.20" text-anchor="end" font-size="12.5" fill="#4d4d4d">10</text>
<line x1="818.2" y1="1261.90" x2="822.2" y2="1261.90" stroke="#333" stroke-width="1.4"/>
<text x="815.2" y="1266.40" text-anchor="end" font-size="12.5" fill="#4d4d4d">20</text>
<line x1="818.2" y1="1365.10" x2="822.2" y2="1365.10" stroke="#333" stroke-width="1.4"/>
<text x="815.2" y="1369.60" text-anchor="end" font-size="12.5" fill="#4d4d4d">30</text>
<line x1="818.2" y1="1468.30" x2="822.2" y2="1468.30" stroke="#333" stroke-width="1.4"/>
<text x="815.2" y="1472.80" text-anchor="end" font-size="12.5" fill="#4d4d4d">40</text>
<line x1="849.00" y1="1511.8" x2="849.00" y2="1515.8" stroke="#333" stroke-width="1.4"/>
<text x="849.00" y="1528.4" text-anchor="middle" font-size="12.5" fill="#4d4d4d">0.0</text>
<line x1="957.86" y1="1511.8" x2="957.86" y2="1515.8" stroke="#333" stroke-width="1.4"/>
<text x="957.86" y="1528.4" text-anchor="middle" font-size="12.5" fill="#4d4d4d">0.2</text>
<line x1="1066.72" y1="1511.8" x2="1066.72" y2="1515.8" stroke="#333" stroke-width="1.4"/>
<text x="1066.72" y="1528.4" text-anchor="middle" font-size="12.5" fill="#4d4d4d">0.4</text>
<line x1="1175.58" y1="1511.8" x2="1175.58" y2="1515.8" stroke="#333" stroke-width="1.4"/>
<text x="1175.58" y="1528.4" text-anchor="middle" font-size="12.5" fill="#4d4d4d">0.6</text>
<line x1="1284.44" y1="1511.8" x2="1284.44" y2="1515.8" stroke="#333" stroke-width="1.4"/>
<text x="1284.44" y="1528.4" text-anchor="middle" font-size="12.5" fill="#4d4d4d">0.8</text>
<line x1="1393.30" y1="1511.8" x2="1393.30" y2="1515.8" stroke="#333" stroke-width="1.4"/>
<text x="1393.30" y="1528.4" text-anchor="middle" font-size="12.5" fill="#4d4d4d">1.0</text>
<text x="1121.2" y="1546.4" text-anchor="middle" font-size="15.8" fill="#000">Social demographic index</text>
<text transform="translate(792.8 1280.9) rotate(-90)" text-anchor="middle" font-size="15.8" fill="#000">Age-standardized mortality rate (per 100,000)</text>
<text x="775.9" y="1072.0" font-size="31.8" font-weight="bold" fill="#000">F</text>
<text x="1444.5" y="1257.9" font-size="15.4" fill="#000">trend</text>
<circle cx="1456.5" cy="1280.0" r="4.8" fill="#0000CD"/>
<text x="1477.3" y="1284.8" font-size="12.6" fill="#000">Decrease</text>
<circle cx="1456.5" cy="1304.6" r="4.8" fill="#B0493A"/>
<text x="1477.3" y="1309.4" font-size="12.6" fill="#000">Increase</text>
<line x1="63.0" y1="1638.55" x2="673.7" y2="1638.55" stroke="#ececec" stroke-width="0.9"/>
<line x1="63.0" y1="1752.85" x2="673.7" y2="1752.85" stroke="#ececec" stroke-width="0.9"/>
<line x1="63.0" y1="1867.15" x2="673.7" y2="1867.15" stroke="#ececec" stroke-width="0.9"/>
<line x1="63.0" y1="1981.45" x2="673.7" y2="1981.45" stroke="#ececec" stroke-width="0.9"/>
<line x1="146.08" y1="1572.8" x2="146.08" y2="2034.7" stroke="#ececec" stroke-width="0.9"/>
<line x1="257.24" y1="1572.8" x2="257.24" y2="2034.7" stroke="#ececec" stroke-width="0.9"/>
<line x1="368.40" y1="1572.8" x2="368.40" y2="2034.7" stroke="#ececec" stroke-width="0.9"/>
<line x1="479.56" y1="1572.8" x2="479.56" y2="2034.7" stroke="#ececec" stroke-width="0.9"/>
<line x1="590.72" y1="1572.8" x2="590.72" y2="2034.7" stroke="#ececec" stroke-width="0.9"/>
<line x1="63.0" y1="1581.40" x2="673.7" y2="1581.40" stroke="#cbcbcb" stroke-width="1.2"/>
<line x1="63.0" y1="1695.70" x2="673.7" y2="1695.70" stroke="#cbcbcb" stroke-width="1.2"/>
<line x1="63.0" y1="1810.00" x2="673.7" y2="1810.00" stroke="#cbcbcb" stroke-width="1.2"/>
<line x1="63.0" y1="1924.30" x2="673.7" y2="1924.30" stroke="#cbcbcb" stroke-width="1.2"/>
<line x1="90.50" y1="1572.8" x2="90.50" y2="2034.7" stroke="#cbcbcb" stroke-width="1.2"/>
<line x1="201.66" y1="1572.8" x2="201.66" y2="2034.7" stroke="#cbcbcb" stroke-width="1.2"/>
<line x1="312.82" y1="1572.8" x2="312.82" y2="2034.7" stroke="#cbcbcb" stroke-width="1.2"/>
<line x1="423.98" y1="1572.8" x2="423.98" y2="2034.7" stroke="#cbcbcb" stroke-width="1.2"/>
<line x1="535.14" y1="1572.8" x2="535.14" y2="2034.7" stroke="#cbcbcb" stroke-width="1.2"/>
<line x1="646.30" y1="1572.8" x2="646.30" y2="2034.7" stroke="#cbcbcb" stroke-width="1.2"/>
<g clip-path="url(#clipG)">
<defs><clipPath id="clipG"><rect x="63.0" y="1572.8" width="610.7" height="461.9"/></clipPath></defs>
<g fill="none" stroke-width="7.2" stroke-linecap="round">
<path stroke="url(#gr)" stroke-dasharray="0 2.07" d="M542 1633L546 1628L551 1622L558 1620L568 1624L577 1628L584 1626L591 1621L595 1617"/>
<path stroke="url(#gr)" stroke-dasharray="0 4.02" d="M340 1663L352 1658L369 1652L384 1646L400 1640L415 1634L430 1629L447 1627L458 1625"/>
<path stroke="#938bcf" d="M325 1815h0m1-1h0m1-1h0"/><path stroke="#7f6ad6" d="M328 1812h0m1-1h0m0-1h0m1 0h0m1-1h0"/><path stroke="#6547dd" d="M331 1809h0m1-1h0m1-1h0m0-1h0m1 0h0m0-1h0"/><path stroke="#3019db" d="M335 1805h0m1-1h0m0-1h0m1 0h0"/>
<path stroke="#938bcf" d="M160 1655h0m1 0h0m0 1h0m1 0h0m1 1h0m1 1h0m1 1h0m1 0h0"/><path stroke="#7f6ad6" d="M168 1660h0m1 0h0m1 1h0m1 0h0m2 0h0m1 0h0m2 0h0m1 0h0"/><path stroke="#6547dd" d="M179 1660h0m1 0h0m2 0h0m1-1h0m1 0h0m1 0h0m2-1h0m1 0h0"/><path stroke="#3019db" d="M189 1657h0m1-1h0m1-1h0m1 0h0m1-1h0m1-1h0m1 0h0m1 0h0"/>
<path stroke="url(#gr)" stroke-dasharray="0 2.92" d="M183 1677L192 1680L204 1684L216 1686L229 1686L241 1687L253 1689L264 1691L272 1694"/>
<path stroke="url(#gu)" stroke-dasharray="0 5.65" d="M442 1813L448 1788L456 1754L464 1727L472 1708L480 1691L489 1675L497 1660L503 1650"/>
<path stroke="#938bcf" d="M260 1868h0m1-1h0m1-1h0m1-2h0m2-2h0m2-2h0m1-2h0m1-1h0"/><path stroke="#7f6ad6" d="M271 1855h0m1-2h0m2-1h0m1-2h0m1-2h0m1-1h0m1-2h0m1-2h0"/><path stroke="#6547dd" d="M280 1842h0m1-2h0m1-2h0m1-2h0m2-2h0m1-2h0m1-2h0m2-2h0"/><path stroke="#3019db" d="M290 1826h0m2-2h0m1-2h0m2-2h0m1-2h0m2-1h0m1-2h0m1-1h0"/>
<path stroke="url(#gr)" stroke-dasharray="0 3.43" d="M287 1664L298 1660L312 1655L326 1652L339 1651L351 1651L365 1651L380 1651L391 1652"/>
<path stroke="url(#gr)" stroke-dasharray="0 3.02" d="M446 1623L456 1619L470 1614L482 1612L492 1615L502 1617L513 1615L527 1610L536 1607"/>
<path stroke="url(#gr)" stroke-dasharray="0 2.47" d="M450 1655L457 1652L468 1649L478 1648L488 1648L497 1648L507 1646L516 1641L523 1637"/>
<path stroke="url(#gr)" stroke-dasharray="0 5.24" d="M286 1720L301 1713L322 1704L342 1698L362 1696L383 1696L404 1694L427 1692L444 1690"/>
<path stroke="#938bcf" d="M360 1779h0m1 0h0m0 1h0m1 1h0m1 1h0"/><path stroke="#7f6ad6" d="M363 1783h0m1 0h0m0 1h0m1 0h0m0 1h0m0 1h0m1 0h0m0 1h0"/><path stroke="#6547dd" d="M366 1787h0m1 1h0m0 1h0m0 1h0m1 1h0m0 1h0"/><path stroke="#3019db" d="M368 1792h0m0 1h0m0 1h0m0 1h0"/>
<path stroke="#938bcf" d="M345 2013h0m5-4h0m5-9h0m5-8h0m4-12h0m5-12h0m6-22h0m6-23h0"/><path stroke="#7f6ad6" d="M385 1901h0m1-7h0m0-5h0m1-3h0m1-4h0m2-4h0m2-4h0m2-4h0"/><path stroke="#6547dd" d="M396 1866h0m4-6h0m3-6h0m2-8h0m3-4h0m4-2h0m5-1h0m4 1h0"/><path stroke="#3019db" d="M424 1836h0m2-6h0m2-5h0m2-4h0m1-5h0m2-6h0m2-6h0m2-4h0"/>
<path stroke="url(#gr)" stroke-dasharray="0 5.11" d="M304 1640L321 1638L343 1634L364 1633L381 1632L399 1633L420 1634L444 1636L462 1637"/>
<path stroke="url(#gr)" stroke-dasharray="0 3.84" d="M225 1648L238 1648L256 1646L271 1642L284 1634L297 1626L311 1623L327 1625L339 1627"/>
<path stroke="url(#gr)" stroke-dasharray="0 3.25" d="M382 1674L392 1673L405 1671L418 1668L429 1662L441 1655L454 1652L469 1652L479 1651"/>
<path stroke="url(#gur)" stroke-dasharray="0 3.30" d="M476 1671L485 1662L497 1650L509 1643L519 1642L529 1643L541 1639L555 1634L565 1629"/>
<path stroke="url(#gr)" stroke-dasharray="0 2.99" d="M312 1657L321 1657L333 1657L345 1655L354 1652L364 1649L377 1646L392 1644L403 1643"/>
<path stroke="#938bcf" d="M497 1927h0m-1-3h0m0-4h0m0-3h0m0-4h0m0-3h0m0-4h0m1-4h0"/><path stroke="#7f6ad6" d="M498 1889h0m1-10h0m1-10h0m2-11h0m3-13h0m4-8h0m4-9h0m3-9h0"/><path stroke="#6547dd" d="M520 1812h0m4-10h0m3-9h0m4-6h0m2-8h0m4-8h0m3-8h0m2-4h0"/><path stroke="#3019db" d="M545 1753h0m3-6h0m2-6h0m3-6h0m3-6h0m2-6h0m3-5h0m1-4h0"/>
<path stroke="url(#gr)" stroke-dasharray="0 1.93" d="M438 1687L444 1689L452 1691L460 1692L467 1690L473 1687L480 1689L488 1694L494 1698"/>
<path stroke="url(#gur)" stroke-dasharray="0 2.76" d="M484 1667L492 1664L503 1660L513 1654L521 1646L529 1639L539 1635L551 1635L560 1635"/>
<path stroke="url(#gr)" stroke-dasharray="0 3.17" d="M264 1689L273 1681L285 1671L296 1664L307 1661L318 1660L330 1658L343 1656L353 1654"/>
<path stroke="url(#gur)" stroke-dasharray="0 4.50" d="M233 1755L245 1746L262 1732L278 1721L293 1711L308 1702L324 1696L341 1692L354 1690"/>
<path stroke="url(#gur)" stroke-dasharray="0 4.04" d="M435 1768L439 1754L446 1735L453 1717L460 1699L468 1684L477 1672L485 1664L491 1659"/>
<path stroke="url(#gur)" stroke-dasharray="0 2.60" d="M529 1672L535 1665L544 1655L553 1648L561 1646L569 1643L577 1638L586 1631L592 1625"/>
<path stroke="url(#gur)" stroke-dasharray="0 3.51" d="M477 1699L485 1691L497 1679L508 1669L520 1660L531 1651L541 1643L552 1634L559 1628"/>
<path stroke="url(#gur)" stroke-dasharray="0 5.16" d="M442 1749L452 1733L467 1711L481 1692L492 1677L504 1663L519 1650L535 1639L547 1631"/>
<path stroke="url(#gur)" stroke-dasharray="0 3.92" d="M513 1686L522 1677L534 1664L547 1653L561 1642L576 1632L589 1623L601 1616L609 1612"/>
<path stroke="url(#gr)" stroke-dasharray="0 2.87" d="M164 1674L172 1672L183 1669L194 1667L205 1666L216 1665L228 1663L242 1659L251 1656"/>
<path stroke="url(#gur)" stroke-dasharray="0 3.11" d="M465 1708L472 1696L481 1681L490 1670L497 1664L505 1661L514 1655L525 1649L534 1644"/>
<path stroke="url(#gr)" stroke-dasharray="0 5.27" d="M258 1672L273 1668L294 1661L315 1656L335 1652L357 1647L378 1641L400 1634L416 1629"/>
<path stroke="url(#gr)" stroke-dasharray="0 1.03" d="M196 1652L197 1654L200 1656L204 1656L210 1653L217 1650L220 1649L223 1650L224 1651"/>
<path stroke="#938bcf" d="M378 1900h0m0-1h0m1 0h0m0-1h0m1 0h0m0-1h0m1-1h0"/><path stroke="#7f6ad6" d="M382 1895h0m0-1h0m1 0h0m0-1h0m1-1h0"/><path stroke="#6547dd" d="M384 1891h0m1-1h0m0-1h0m1-1h0"/><path stroke="#3019db" d="M386 1887h0m0-1h0m1 0h0m0-1h0m0-1h0m1 0h0m0-1h0"/>
<path stroke="url(#gur)" stroke-dasharray="0 2.22" d="M468 1657L473 1654L480 1650L488 1646L498 1643L508 1640L516 1636L524 1631L530 1627"/>
<path stroke="#938bcf" d="M373 1864h0m2 0h0m4-1h0m3 0h0m3-1h0m3-1h0m2-1h0m2-1h0"/><path stroke="#7f6ad6" d="M394 1858h0m3-2h0m4-3h0m3-2h0m3-2h0m2-3h0m2-3h0m2-3h0"/><path stroke="#6547dd" d="M415 1839h0m2 0h0m2 0h0m1 1h0m1-2h0m1-2h0m1-2h0m1-3h0"/><path stroke="#3019db" d="M425 1829h0m2-1h0m1-2h0m1-3h0m1-5h0m1-6h0m1-6h0m1-4h0"/>
<path stroke="url(#gur)" stroke-dasharray="0 3.61" d="M356 1728L363 1717L374 1702L384 1690L396 1682L408 1676L420 1671L433 1667L443 1665"/>
<path stroke="url(#gr)" stroke-dasharray="0 4.28" d="M162 1650L174 1644L190 1635L207 1630L226 1627L244 1626L262 1625L278 1625L290 1625"/>
<path stroke="url(#gur)" stroke-dasharray="0 2.74" d="M501 1719L510 1711L521 1701L530 1694L537 1690L544 1687L554 1684L566 1682L575 1680"/>
<path stroke="url(#gr)" stroke-dasharray="0 4.33" d="M217 1748L228 1738L244 1725L260 1715L278 1709L295 1705L311 1702L327 1700L338 1698"/>
<path stroke="url(#gur)" stroke-dasharray="0 1.86" d="M462 1643L467 1637L473 1629L479 1624L483 1623L488 1623L494 1621L503 1617L509 1614"/>
<path stroke="url(#gr)" stroke-dasharray="0 3.72" d="M479 1638L489 1636L503 1632L516 1626L528 1615L540 1605L555 1601L572 1599L584 1599"/>
<path stroke="url(#gr)" stroke-dasharray="0 4.92" d="M295 1659L309 1655L329 1649L349 1644L367 1641L385 1637L406 1632L428 1627L443 1623"/>
<path stroke="url(#gr)" stroke-dasharray="0 2.40" d="M527 1637L533 1634L543 1630L552 1628L562 1626L572 1626L582 1625L592 1624L599 1624"/>
<path stroke="url(#gr)" stroke-dasharray="0 1.54" d="M199 1653L203 1653L209 1652L214 1650L220 1647L227 1644L233 1643L240 1644L245 1644"/>
<path stroke="url(#gur)" stroke-dasharray="0 3.78" d="M419 1697L428 1686L441 1672L452 1660L461 1651L470 1644L481 1635L495 1625L504 1618"/>
<path stroke="url(#gr)" stroke-dasharray="0 3.65" d="M414 1649L424 1644L438 1638L452 1633L467 1631L481 1629L495 1625L510 1618L520 1613"/>
<path stroke="#938bcf" d="M348 1879h0m1-2h0m2-2h0m2-3h0m2-3h0m2-2h0m2-2h0m2-2h0"/><path stroke="#7f6ad6" d="M363 1860h0m2-2h0m1-3h0m2-4h0m2-3h0m2-4h0m2-3h0m2-3h0"/><path stroke="#6547dd" d="M378 1834h0m2-3h0m1-3h0m2-2h0m2-3h0m2-2h0m2-2h0m2-3h0"/><path stroke="#3019db" d="M394 1812h0m3-3h0m3-4h0m3-2h0m2-3h0m2-2h0m2-1h0m1-2h0"/>
<path stroke="url(#gr)" stroke-dasharray="0 3.41" d="M480 1637L489 1633L502 1627L515 1623L528 1619L542 1615L556 1613L571 1612L582 1611"/>
<path stroke="url(#gur)" stroke-dasharray="0 4.30" d="M412 1730L422 1722L435 1711L449 1699L462 1685L476 1672L491 1663L507 1658L519 1654"/>
<path stroke="url(#gur)" stroke-dasharray="0 4.68" d="M298 1803L310 1793L328 1778L345 1766L360 1757L375 1749L391 1741L408 1733L420 1727"/>
<path stroke="#1000d7" d="M466 1813h0"/>
<path stroke="url(#gur)" stroke-dasharray="0 4.18" d="M510 1757L515 1740L523 1717L529 1698L533 1684L539 1672L546 1660L555 1648L562 1639"/>
<path stroke="url(#gur)" stroke-dasharray="0 3.97" d="M275 1680L286 1675L302 1667L316 1657L331 1645L345 1633L358 1627L372 1625L382 1624"/>
<path stroke="#938bcf" d="M327 1860h0m1 0h0m1-1h0m2-1h0m2-1h0m1 0h0m2-1h0m2-1h0"/><path stroke="#7f6ad6" d="M340 1854h0m1-2h0m1-1h0m2-1h0m1-2h0m2-1h0m1-2h0m1-1h0"/><path stroke="#6547dd" d="M350 1843h0m1-2h0m1-1h0m1-1h0m1-2h0m1-1h0m2-1h0m1-2h0"/><path stroke="#3019db" d="M359 1832h0m1-2h0m2-1h0m2-2h0m1-1h0m1-2h0m2-1h0"/>
<path stroke="url(#gr)" stroke-dasharray="0 5.41" d="M246 1699L262 1690L284 1678L305 1671L323 1669L341 1667L363 1661L387 1652L404 1646"/>
<path stroke="url(#gur)" stroke-dasharray="0 3.83" d="M394 1796L403 1782L415 1763L425 1749L433 1741L441 1734L451 1725L463 1715L472 1707"/>
<path stroke="#938bcf" d="M162 1636h0m1 0h0m2-1h0m2 0h0m2 0h0m3-1h0m2 0h0m3 0h0"/><path stroke="#7f6ad6" d="M180 1633h0m2 0h0m2 0h0m2 0h0m3-1h0m2 0h0m2 0h0m2 0h0"/><path stroke="#6547dd" d="M197 1632h0m2 0h0m2 0h0m2 0h0m2 0h0m2 0h0m2 0h0m2-1h0"/><path stroke="#3019db" d="M213 1631h0m3 0h0m2 0h0m2 0h0m2 0h0m2 0h0m2 0h0m1 0h0"/>
<path stroke="url(#gr)" stroke-dasharray="0 1.05" d="M159 1650L161 1646L163 1641L165 1638L168 1639L171 1641L175 1641L180 1641L184 1641"/>
<path stroke="url(#gur)" stroke-dasharray="0 3.15" d="M461 1775L464 1765L470 1751L477 1739L486 1728L494 1719L501 1709L506 1699L509 1692"/>
<path stroke="#938bcf" d="M117 1709h0m1-1h0m0-1h0m0-1h0m0-1h0m1-1h0m0-2h0m0-1h0"/><path stroke="#7f6ad6" d="M120 1699h0m0-1h0m0-1h0m1-1h0m0-2h0m0-1h0m1-1h0m0-2h0"/><path stroke="#6547dd" d="M122 1689h0m1-1h0m0-1h0m1-1h0m0-1h0m1-2h0m1-1h0m0-1h0"/><path stroke="#3019db" d="M127 1681h0m1-1h0m1-1h0m1-1h0m1-1h0m1-1h0m1-1h0"/>
<path stroke="url(#gr)" stroke-dasharray="0 3.03" d="M278 1692L288 1689L301 1686L313 1683L324 1682L335 1681L348 1681L361 1682L371 1684"/>
<path stroke="url(#gr)" stroke-dasharray="0 2.91" d="M380 1611L389 1611L401 1611L412 1612L423 1616L434 1619L446 1619L459 1615L468 1612"/>
<path stroke="url(#gur)" stroke-dasharray="0 4.60" d="M309 1712L323 1705L342 1695L360 1687L376 1679L392 1671L409 1664L426 1657L438 1653"/>
<path stroke="url(#gr)" stroke-dasharray="0 3.29" d="M252 1694L262 1696L276 1699L289 1701L301 1701L313 1701L327 1700L343 1698L354 1697"/>
<path stroke="url(#gr)" stroke-dasharray="0 0.91" d="M216 1638L219 1636L222 1632L225 1631L229 1633L232 1635L235 1635L238 1633L239 1631"/>
<path stroke="url(#gr)" stroke-dasharray="0 3.32" d="M454 1664L464 1658L476 1649L488 1644L500 1645L511 1645L524 1641L537 1633L547 1627"/>
<path stroke="url(#gur)" stroke-dasharray="0 3.64" d="M492 1690L503 1684L518 1676L531 1667L543 1658L555 1649L567 1642L580 1636L589 1632"/>
<path stroke="url(#gr)" stroke-dasharray="0 4.77" d="M309 1708L323 1705L342 1701L361 1698L380 1697L398 1697L418 1698L440 1699L455 1701"/>
<path stroke="#938bcf" d="M135 1654h0m1-1h0m2 0h0m1-1h0m2-1h0m2-1h0m2-1h0m2 0h0"/><path stroke="#7f6ad6" d="M149 1648h0m2-1h0m2-1h0m2 0h0m2-1h0m1 0h0m2-1h0m2 0h0"/><path stroke="#6547dd" d="M163 1644h0m2-1h0m1 0h0m2 0h0m1-1h0m2 0h0m2 0h0m1-1h0"/><path stroke="#3019db" d="M176 1641h0m2 0h0m1 0h0m2 0h0m1-1h0m1 0h0m1 0h0m1 0h0"/>
<path stroke="url(#gr)" stroke-dasharray="0 5.07" d="M295 1689L311 1685L333 1679L353 1673L369 1668L386 1663L406 1656L428 1647L444 1641"/>
<path stroke="url(#gur)" stroke-dasharray="0 6.57" d="M419 1839L428 1810L439 1771L451 1742L462 1722L474 1706L486 1688L498 1670L507 1658"/>
<path stroke="url(#gr)" stroke-dasharray="0 2.11" d="M481 1625L488 1621L497 1616L505 1613L513 1611L520 1610L528 1609L536 1608L543 1607"/>
<path stroke="url(#gur)" stroke-dasharray="0 3.56" d="M370 1765L378 1756L390 1743L401 1733L410 1724L419 1715L431 1708L445 1700L455 1695"/>
<path stroke="url(#gur)" stroke-dasharray="0 3.64" d="M388 1702L399 1695L414 1686L426 1678L436 1672L446 1665L459 1659L475 1653L486 1648"/>
<path stroke="url(#gur)" stroke-dasharray="0 4.15" d="M431 1713L439 1702L450 1685L461 1670L472 1655L484 1641L496 1632L509 1626L518 1622"/>
<path stroke="url(#gur)" stroke-dasharray="0 5.92" d="M262 1703L278 1690L301 1673L322 1662L341 1658L361 1656L384 1649L409 1639L427 1631"/>
<path stroke="#938bcf" d="M173 1678h0m0-1h0m1-1h0m1-1h0m1 0h0m0-1h0"/><path stroke="#7f6ad6" d="M177 1673h0m1-1h0m1 0h0m0-1h0m1-1h0m1-1h0m1-1h0m1-1h0"/><path stroke="#6547dd" d="M183 1666h0m1-2h0m1-1h0m1-1h0m1-1h0m1-1h0m1-1h0"/><path stroke="#3019db" d="M190 1658h0m1-1h0m1-1h0m1-1h0"/>
<path stroke="url(#gur)" stroke-dasharray="0 2.25" d="M439 1660L444 1657L453 1652L461 1646L470 1638L478 1630L486 1626L492 1625L497 1624"/>
<path stroke="#938bcf" d="M441 1789h0m1 0h0m1 0h0m2 0h0m1 0h0m2-1h0m1 0h0m2-1h0"/><path stroke="#7f6ad6" d="M452 1787h0m1-1h0m1-1h0m1-1h0m1-1h0m2 0h0m1-1h0m1-1h0"/><path stroke="#6547dd" d="M461 1781h0m1-1h0m1 0h0m1 0h0m1 0h0m1 1h0m1 0h0m1 0h0"/><path stroke="#3019db" d="M469 1781h0m1 0h0m1 0h0m1 0h0m1 1h0m1 0h0m1 0h0"/>
<path stroke="url(#gr)" stroke-dasharray="0 2.78" d="M302 1621L310 1624L321 1627L332 1627L342 1626L352 1624L364 1622L377 1620L387 1618"/>
<path stroke="url(#gur)" stroke-dasharray="0 4.98" d="M482 1750L492 1730L505 1704L517 1684L527 1673L537 1663L549 1652L565 1639L576 1630"/>
<path stroke="url(#gur)" stroke-dasharray="0 3.88" d="M457 1697L465 1688L477 1676L489 1665L502 1658L516 1650L528 1641L541 1629L549 1621"/>
<path stroke="url(#gr)" stroke-dasharray="0 2.96" d="M250 1637L258 1636L270 1634L282 1633L294 1633L306 1632L318 1631L331 1628L341 1626"/>
<path stroke="url(#gur)" stroke-dasharray="0 3.40" d="M418 1717L426 1708L437 1695L447 1683L456 1672L465 1662L474 1654L485 1648L492 1643"/>
<path stroke="url(#gur)" stroke-dasharray="0 6.08" d="M398 1868L409 1845L425 1815L439 1790L452 1771L465 1755L479 1740L496 1727L507 1717"/>
<path stroke="url(#gr)" stroke-dasharray="0 3.38" d="M255 1639L266 1636L280 1631L294 1631L306 1637L318 1643L331 1643L345 1639L355 1636"/>
<path stroke="url(#gr)" stroke-dasharray="0 3.69" d="M261 1639L274 1642L291 1645L307 1646L320 1644L333 1643L348 1644L363 1648L374 1651"/>
<path stroke="url(#gur)" stroke-dasharray="0 2.80" d="M481 1689L486 1681L493 1669L500 1660L505 1653L511 1646L518 1637L527 1627L533 1620"/>
<path stroke="#938bcf" d="M283 1831h0m1 0h0m2 0h0m2 1h0m2 0h0m3 0h0m2 1h0m2 1h0"/><path stroke="#7f6ad6" d="M299 1835h0m2 1h0m2 1h0m2 0h0m2 0h0m2 0h0m2-2h0m2-2h0"/><path stroke="#6547dd" d="M316 1831h0m2-3h0m1-2h0m2-2h0m2-2h0m1-2h0m1-1h0m1-2h0"/><path stroke="#3019db" d="M328 1816h0m1-2h0m2-2h0m2-2h0m2-2h0m2-2h0m1-1h0m1-1h0"/>
<path stroke="url(#gu)" stroke-dasharray="0 4.54" d="M440 1817L446 1802L454 1779L461 1758L467 1738L473 1719L480 1705L487 1695L493 1688"/>
<path stroke="url(#gr)" stroke-dasharray="0 2.11" d="M508 1674L515 1671L524 1667L532 1663L540 1658L548 1653L556 1651L563 1652L568 1652"/>
<path stroke="url(#gr)" stroke-dasharray="0 3.58" d="M376 1647L387 1639L402 1629L415 1621L425 1617L435 1615L449 1611L465 1608L477 1606"/>
<path stroke="url(#gur)" stroke-dasharray="0 4.71" d="M228 1703L240 1696L257 1686L274 1677L291 1667L308 1657L325 1650L344 1643L358 1638"/>
<path stroke="url(#gr)" stroke-dasharray="0 3.50" d="M411 1696L422 1690L437 1682L450 1675L464 1671L477 1668L490 1666L503 1666L513 1667"/>
<path stroke="#938bcf" d="M185 1686h0m2 0h0m2 0h0m3 0h0m3 0h0m3 1h0m3 0h0m3 0h0"/><path stroke="#7f6ad6" d="M206 1688h0m2 1h0m2 2h0m2 1h0m2 2h0m1 1h0m1 2h0m2 1h0"/><path stroke="#6547dd" d="M219 1699h0m1 1h0m1 0h0m1 1h0m1 0h0m1 1h0m1 0h0m2 0h0"/><path stroke="#3019db" d="M228 1703h0m1 0h0m1 1h0m1 0h0m1 0h0m2 0h0m0 1h0m1 0h0"/>
<path stroke="url(#gr)" stroke-dasharray="0 3.63" d="M360 1754L372 1748L388 1739L402 1734L413 1730L424 1728L438 1724L454 1719L465 1716"/>
<path stroke="url(#gr)" stroke-dasharray="0 3.66" d="M207 1689L219 1684L236 1677L250 1673L261 1672L272 1671L287 1668L303 1663L315 1659"/>
<path stroke="url(#gr)" stroke-dasharray="0 3.18" d="M480 1645L489 1641L503 1635L516 1630L527 1626L539 1623L551 1620L564 1618L574 1617"/>
<path stroke="url(#gur)" stroke-dasharray="0 3.17" d="M482 1702L489 1690L498 1674L506 1662L512 1655L518 1649L525 1641L534 1631L541 1624"/>
<path stroke="url(#gur)" stroke-dasharray="0 3.32" d="M160 1673L168 1667L179 1658L190 1650L201 1641L212 1634L224 1630L239 1629L249 1629"/>
<path stroke="url(#gur)" stroke-dasharray="0 3.11" d="M451 1651L460 1648L473 1642L483 1636L492 1629L501 1623L513 1619L528 1616L538 1614"/>
<path stroke="url(#gr)" stroke-dasharray="0 5.36" d="M224 1685L239 1677L261 1666L281 1659L300 1656L320 1654L341 1649L365 1642L382 1637"/>
<path stroke="url(#gur)" stroke-dasharray="0 1.95" d="M523 1642L530 1637L539 1631L547 1626L554 1622L561 1619L567 1618L573 1619L577 1619"/>
<path stroke="url(#gur)" stroke-dasharray="0 4.27" d="M512 1759L518 1740L526 1713L533 1694L538 1683L543 1675L550 1663L560 1650L567 1640"/>
<path stroke="url(#gur)" stroke-dasharray="0 2.98" d="M487 1782L492 1770L499 1754L508 1744L517 1740L527 1738L536 1733L544 1726L549 1720"/>
<path stroke="#938bcf" d="M260 1852h0m1-2h0m2-1h0m2-3h0m3-2h0m2-2h0m2-2h0m2-2h0"/><path stroke="#7f6ad6" d="M275 1836h0m2-2h0m1-1h0m1-2h0m1-2h0m2-1h0m1-2h0m1-2h0"/><path stroke="#6547dd" d="M284 1823h0m1-2h0m1-2h0m2-1h0m1-2h0m1-1h0m1-1h0m2-2h0"/><path stroke="#3019db" d="M294 1811h0m2-1h0m1-2h0m2-1h0m2-2h0m2-1h0m2-1h0m1-1h0"/>
<path stroke="url(#gur)" stroke-dasharray="0 2.10" d="M538 1695L544 1690L551 1683L557 1676L561 1670L564 1663L570 1658L578 1654L583 1650"/>
<path stroke="url(#gur)" stroke-dasharray="0 4.71" d="M325 1751L335 1741L349 1725L363 1711L376 1695L390 1681L405 1671L422 1664L435 1659"/>
<path stroke="#938bcf" d="M352 1814h0m1 0h0m2-1h0m2-1h0m2-1h0m3-1h0m2-2h0m3-1h0"/><path stroke="#7f6ad6" d="M369 1805h0m2-1h0m2-2h0m3-2h0m2-2h0m2-2h0m2-2h0m2-2h0"/><path stroke="#6547dd" d="M386 1790h0m2-1h0m1-1h0m2-1h0m2-2h0m1-1h0m2-1h0m1-2h0"/><path stroke="#3019db" d="M399 1779h0m2-2h0m2-2h0m1-3h0m2-2h0m2-3h0m1-1h0m1-2h0"/>
<path stroke="#938bcf" d="M206 1680h0m1 0h0m1-1h0m1 0h0m1 0h0m1 0h0m1 0h0m2 0h0"/><path stroke="#7f6ad6" d="M215 1679h0m2 0h0m2 0h0m1-1h0m2 0h0m1 0h0m2 0h0m1 0h0"/><path stroke="#6547dd" d="M227 1677h0m2 0h0m1 0h0m2 0h0m1-1h0m2 0h0m2 0h0m1-1h0"/><path stroke="#3019db" d="M240 1675h0m1 0h0m1-1h0m2 0h0m1 0h0m1 0h0m1 0h0m1-1h0"/>
<path stroke="url(#gur)" stroke-dasharray="0 3.50" d="M384 1684L392 1677L402 1668L413 1657L425 1646L438 1635L449 1627L461 1622L469 1619"/>
<path stroke="url(#gr)" stroke-dasharray="0 2.92" d="M190 1701L199 1702L213 1702L225 1701L237 1696L248 1691L259 1691L270 1693L278 1695"/>
<path stroke="#938bcf" d="M202 1728h0m1-1h0m1 0h0m1 0h0m1-1h0m2 0h0m1 0h0m2-1h0"/><path stroke="#7f6ad6" d="M212 1725h0m2-1h0m2 0h0m2-1h0m1-1h0m2 0h0m2-1h0m2-1h0"/><path stroke="#6547dd" d="M227 1719h0m3-1h0m2-1h0m2-1h0m2 0h0m2-1h0m2-1h0m2-1h0"/><path stroke="#3019db" d="M245 1712h0m2-1h0m2-1h0m2-1h0m3 0h0m1-1h0m2-1h0m1 0h0"/>
<path stroke="url(#gur)" stroke-dasharray="0 3.28" d="M209 1678L219 1669L233 1657L245 1650L254 1650L263 1650L275 1646L288 1640L298 1635"/>
<path stroke="url(#gur)" stroke-dasharray="0 4.74" d="M245 1726L257 1718L273 1706L290 1694L307 1682L324 1671L341 1663L359 1658L372 1654"/>
<path stroke="url(#gur)" stroke-dasharray="0 4.40" d="M442 1756L449 1736L458 1708L467 1687L475 1675L483 1664L490 1654L498 1643L504 1636"/>
<path stroke="url(#gr)" stroke-dasharray="0 4.19" d="M292 1679L306 1680L325 1680L341 1680L355 1679L369 1679L386 1680L407 1682L422 1684"/>
<path stroke="url(#gur)" stroke-dasharray="0 4.26" d="M442 1694L452 1684L467 1670L481 1660L495 1655L510 1650L525 1643L541 1633L552 1625"/>
<path stroke="url(#gur)" stroke-dasharray="0 4.15" d="M321 1814L329 1799L339 1779L349 1764L360 1754L371 1746L383 1737L397 1728L407 1722"/>
<path stroke="url(#gr)" stroke-dasharray="0 2.85" d="M235 1749L242 1748L253 1747L264 1746L278 1745L292 1743L304 1742L315 1741L323 1740"/>
<path stroke="url(#gur)" stroke-dasharray="0 3.61" d="M414 1729L422 1721L434 1710L446 1701L457 1695L468 1689L481 1681L495 1671L505 1665"/>
<path stroke="url(#gr)" stroke-dasharray="0 2.97" d="M194 1643L204 1644L219 1645L232 1645L243 1644L254 1642L265 1641L277 1641L285 1640"/>
<path stroke="url(#gur)" stroke-dasharray="0 4.71" d="M393 1740L400 1722L410 1699L422 1682L436 1672L450 1664L462 1651L473 1637L480 1627"/>
<path stroke="url(#gur)" stroke-dasharray="0 4.06" d="M398 1720L409 1712L425 1701L439 1693L452 1687L466 1682L480 1674L496 1664L506 1657"/>
<path stroke="url(#gr)" stroke-dasharray="0 4.94" d="M223 1778L237 1771L258 1761L276 1753L292 1749L308 1744L327 1737L348 1727L364 1720"/>
<path stroke="url(#gr)" stroke-dasharray="0 3.08" d="M246 1688L254 1687L266 1686L277 1684L289 1682L302 1680L315 1678L330 1677L341 1677"/>
<path stroke="url(#gr)" stroke-dasharray="0 4.70" d="M285 1732L300 1725L320 1717L339 1711L355 1710L371 1710L390 1707L411 1702L426 1699"/>
<path stroke="url(#gur)" stroke-dasharray="0 2.34" d="M512 1684L518 1679L527 1672L534 1665L538 1656L543 1648L549 1642L558 1639L564 1636"/>
<path stroke="url(#gur)" stroke-dasharray="0 3.25" d="M468 1759L474 1747L482 1730L489 1717L495 1705L500 1695L506 1686L513 1677L518 1671"/>
<path stroke="url(#gur)" stroke-dasharray="0 4.88" d="M229 1752L243 1741L262 1726L280 1715L295 1706L310 1699L328 1693L348 1689L362 1686"/>
<path stroke="url(#gr)" stroke-dasharray="0 3.39" d="M200 1659L209 1660L222 1661L236 1661L251 1661L266 1659L280 1657L294 1652L303 1649"/>
<path stroke="url(#gr)" stroke-dasharray="0 3.48" d="M172 1664L183 1662L199 1659L214 1657L227 1656L240 1654L254 1651L267 1647L277 1643"/>
<path stroke="#938bcf" d="M264 1788h0m2-2h0m1-4h0m3-4h0m2-3h0m2-3h0m2-3h0m1-2h0"/><path stroke="#7f6ad6" d="M279 1765h0m2-2h0m2-3h0m2-2h0m2-3h0m2-2h0m2-2h0m1-2h0"/><path stroke="#6547dd" d="M294 1747h0m2-1h0m2-2h0m3-2h0m3-2h0m3-2h0m3-2h0m2-2h0"/><path stroke="#3019db" d="M315 1733h0m2-2h0m2-2h0m3-2h0m2-3h0m3-3h0m2-2h0m2-2h0"/>
<path stroke="url(#gur)" stroke-dasharray="0 4.68" d="M347 1736L357 1726L371 1713L387 1700L404 1688L421 1676L437 1666L453 1658L464 1652"/>
<path stroke="#938bcf" d="M256 1709h0m1 0h0m2 1h0m2 0h0m3 1h0m2 1h0m2 1h0m2 1h0"/><path stroke="#7f6ad6" d="M272 1715h0m1 1h0m2 1h0m2 1h0m1 1h0m2 1h0m1 1h0m2 1h0"/><path stroke="#6547dd" d="M284 1722h0m2 1h0m2 0h0m2 0h0m3 0h0m4-1h0m3 0h0m4-1h0"/><path stroke="#3019db" d="M307 1720h0m4-1h0m4-1h0m3 0h0m4-1h0m4-1h0m3 0h0m2-1h0"/>
<path stroke="url(#gur)" stroke-dasharray="0 3.63" d="M422 1762L431 1756L444 1746L457 1738L471 1733L485 1727L498 1720L510 1712L519 1706"/>
<path stroke="url(#gr)" stroke-dasharray="0 3.16" d="M399 1633L407 1630L418 1626L431 1623L445 1618L459 1614L473 1614L485 1615L494 1617"/>
<path stroke="url(#gur)" stroke-dasharray="0 2.88" d="M474 1781L482 1775L493 1766L501 1757L507 1747L512 1738L521 1733L532 1729L541 1727"/>
<path stroke="url(#gr)" stroke-dasharray="0 3.56" d="M405 1695L415 1690L429 1683L443 1677L456 1673L469 1669L484 1666L499 1664L510 1663"/>
<path stroke="url(#gur)" stroke-dasharray="0 3.13" d="M387 1767L397 1758L410 1745L421 1738L430 1737L440 1737L450 1734L461 1728L470 1723"/>
<path stroke="#938bcf" d="M285 1815h0m1-1h0m1-2h0m1-1h0m1-1h0m1-1h0m1-2h0"/><path stroke="#7f6ad6" d="M291 1806h0m1-2h0m1-1h0m1-1h0m1-1h0m1-2h0m0-1h0m1-1h0"/><path stroke="#6547dd" d="M298 1795h0m1-1h0m1-1h0m0-1h0m1-1h0m1-1h0m1-1h0m1-1h0"/><path stroke="#3019db" d="M305 1787h0m1-1h0m1-1h0m1-1h0m0-1h0m1 0h0m1-1h0"/>
<path stroke="url(#gr)" stroke-dasharray="0 3.66" d="M325 1657L336 1652L352 1646L366 1640L379 1635L392 1631L407 1627L422 1624L433 1623"/>
<path stroke="url(#gr)" stroke-dasharray="0 4.17" d="M236 1665L250 1663L270 1660L286 1656L299 1650L312 1644L329 1642L348 1641L362 1641"/>
<path stroke="url(#gur)" stroke-dasharray="0 5.09" d="M432 1758L442 1737L458 1710L471 1691L481 1681L492 1674L505 1662L520 1648L530 1637"/>
<path stroke="url(#gr)" stroke-dasharray="0 4.26" d="M328 1647L342 1651L360 1655L378 1657L394 1658L411 1658L428 1658L446 1656L459 1655"/>
<path stroke="url(#gur)" stroke-dasharray="0 2.90" d="M448 1737L453 1726L459 1712L466 1702L475 1696L484 1691L492 1684L500 1676L505 1670"/>
<path stroke="url(#gr)" stroke-dasharray="0 4.12" d="M186 1692L199 1690L217 1688L233 1686L248 1683L264 1681L281 1681L299 1683L313 1685"/>
<path stroke="url(#gr)" stroke-dasharray="0 4.62" d="M163 1663L177 1665L196 1666L214 1665L231 1659L248 1652L267 1650L288 1651L304 1652"/>
<path stroke="url(#gur)" stroke-dasharray="0 3.81" d="M507 1721L515 1704L526 1682L535 1666L542 1658L548 1652L557 1643L568 1633L575 1626"/>
<path stroke="url(#gur)" stroke-dasharray="0 3.34" d="M407 1766L414 1759L424 1749L434 1740L446 1729L457 1719L469 1713L481 1710L490 1708"/>
<path stroke="url(#gur)" stroke-dasharray="0 2.01" d="M531 1655L535 1651L542 1644L550 1639L558 1634L565 1631L573 1628L579 1625L584 1624"/>
<path stroke="url(#gr)" stroke-dasharray="0 5.53" d="M291 1666L306 1662L327 1655L349 1650L371 1647L393 1643L416 1637L440 1629L457 1624"/>
<path stroke="url(#gu)" stroke-dasharray="0 5.30" d="M513 1795L519 1770L526 1737L533 1712L539 1694L545 1679L553 1665L563 1651L570 1642"/>
<path stroke="url(#gr)" stroke-dasharray="0 4.04" d="M271 1662L284 1662L301 1662L316 1658L329 1651L342 1643L359 1640L378 1641L391 1642"/>
<path stroke="#938bcf" d="M481 1768h0m1 3h0m1 3h0m0 4h0m1 3h0m0 4h0m-1 3h0m0 4h0"/><path stroke="#7f6ad6" d="M482 1796h0m-1 3h0m-1 3h0m-1 3h0m0 3h0m-1 3h0m-1 4h0m0 4h0"/><path stroke="#6547dd" d="M476 1824h0m-1 5h0m0 4h0m-1 5h0m0 4h0m-1 4h0m0 4h0m-1 3h0"/><path stroke="#3019db" d="M471 1856h0m-1 3h0m0 3h0m0 3h0m0 3h0m1 4h0m0 3h0m1 3h0"/>
<path stroke="url(#gr)" stroke-dasharray="0 3.63" d="M296 1676L307 1673L324 1669L338 1666L349 1665L360 1663L375 1658L392 1652L404 1647"/>
<path stroke="url(#gur)" stroke-dasharray="0 5.18" d="M286 1702L299 1691L319 1677L337 1666L355 1658L373 1651L393 1645L414 1639L429 1635"/>
<path stroke="url(#gr)" stroke-dasharray="0 3.14" d="M294 1626L304 1625L317 1625L329 1624L340 1622L351 1620L364 1622L379 1625L390 1628"/>
<path stroke="url(#gur)" stroke-dasharray="0 2.58" d="M447 1711L453 1707L463 1703L471 1698L480 1694L488 1690L498 1684L509 1678L518 1673"/>
<path stroke="url(#gur)" stroke-dasharray="0 3.31" d="M366 1698L373 1694L385 1689L397 1682L410 1673L423 1664L436 1660L449 1659L458 1658"/>
<path stroke="url(#gur)" stroke-dasharray="0 3.69" d="M463 1685L472 1677L484 1665L496 1655L506 1646L517 1637L530 1630L545 1625L556 1622"/>
<path stroke="url(#gur)" stroke-dasharray="0 3.71" d="M293 1753L303 1744L318 1731L331 1722L343 1717L355 1713L366 1705L379 1696L387 1689"/>
<path stroke="#938bcf" d="M460 1857h0m1-2h0m2-2h0m2-3h0m2-3h0m1-2h0m2-3h0m1-2h0"/><path stroke="#7f6ad6" d="M473 1836h0m2-4h0m1-5h0m2-4h0m1-4h0m2-3h0m2-2h0m1-3h0"/><path stroke="#6547dd" d="M486 1809h0m2-4h0m3-3h0m2-3h0m2-3h0m1-4h0m2-3h0m1-3h0"/><path stroke="#3019db" d="M501 1783h0m2-4h0m1-3h0m2-3h0m1-3h0m1-3h0m1-3h0m1-2h0"/>
<path stroke="#938bcf" d="M304 1810h0m1 0h0m1 1h0m1 0h0m1 0h0m1 0h0"/><path stroke="#7f6ad6" d="M309 1812h0m1 0h0m1 0h0m1 0h0m1 0h0m1 0h0m1 0h0m1 0h0"/><path stroke="#6547dd" d="M317 1812h0m1 0h0m0-1h0m1 0h0m1-1h0m1 0h0m1-1h0m1-1h0"/><path stroke="#3019db" d="M324 1808h0m1-1h0m1-1h0m1-1h0m1 0h0m0-1h0m1 0h0"/>
<path stroke="url(#gr)" stroke-dasharray="0 3.33" d="M242 1645L251 1647L263 1649L276 1648L289 1643L302 1638L317 1636L332 1637L343 1638"/>
<path stroke="url(#gr)" stroke-dasharray="0 4.38" d="M317 1655L329 1656L347 1658L364 1660L382 1663L401 1666L419 1667L438 1666L452 1665"/>
<path stroke="#938bcf" d="M250 1763h0m1 0h0m1-1h0m1-1h0m1-1h0m2-1h0m1-1h0m2-1h0"/><path stroke="#7f6ad6" d="M261 1757h0m1-1h0m2-1h0m1-1h0m2-1h0m2-1h0m1-2h0m2-1h0"/><path stroke="#6547dd" d="M273 1748h0m2-2h0m1-1h0m1-2h0m1-2h0m1-1h0m1-2h0m1-2h0"/><path stroke="#3019db" d="M282 1735h0m1-2h0m1-1h0m2-2h0m1-1h0m1-2h0m1-1h0"/>
<path stroke="url(#gur)" stroke-dasharray="0 3.96" d="M431 1703L443 1698L459 1691L473 1682L484 1671L495 1661L509 1654L525 1649L537 1647"/>
<path stroke="url(#gur)" stroke-dasharray="0 2.83" d="M492 1663L500 1654L512 1643L522 1635L531 1631L539 1629L548 1625L558 1622L566 1619"/>
<path stroke="url(#gur)" stroke-dasharray="0 3.49" d="M405 1753L412 1745L422 1735L433 1724L447 1712L461 1701L472 1694L482 1689L489 1686"/>
<path stroke="url(#gr)" stroke-dasharray="0 3.23" d="M362 1701L372 1707L386 1714L398 1719L410 1719L421 1718L434 1719L448 1719L457 1720"/>
<path stroke="url(#gur)" stroke-dasharray="0 3.33" d="M196 1709L206 1701L219 1690L232 1684L243 1685L255 1686L266 1682L278 1675L287 1669"/>
<path stroke="url(#gr)" stroke-dasharray="0 3.20" d="M344 1616L354 1616L369 1616L382 1615L392 1613L403 1610L416 1607L430 1604L441 1601"/>
<path stroke="url(#gur)" stroke-dasharray="0 4.04" d="M494 1700L501 1688L513 1671L524 1656L536 1644L549 1633L562 1626L574 1621L583 1617"/>
<path stroke="url(#gu)" stroke-dasharray="0 4.45" d="M420 1799L424 1784L431 1762L437 1742L443 1722L450 1704L457 1690L465 1679L470 1672"/>
<path stroke="url(#gur)" stroke-dasharray="0 4.09" d="M339 1679L349 1669L364 1657L378 1650L392 1649L406 1649L422 1644L440 1636L452 1630"/>
<path stroke="url(#gr)" stroke-dasharray="0 2.55" d="M463 1683L469 1685L478 1689L488 1691L500 1693L511 1694L522 1693L532 1690L539 1688"/>
<path stroke="url(#gur)" stroke-dasharray="0 2.69" d="M483 1670L488 1663L495 1654L502 1646L510 1639L517 1632L525 1624L533 1615L539 1609"/>
<path stroke="url(#gu)" stroke-dasharray="0 4.88" d="M447 1806L452 1786L459 1759L465 1737L469 1723L474 1709L480 1693L487 1675L492 1662"/>
<path stroke="url(#gr)" stroke-dasharray="0 3.63" d="M340 1640L352 1637L369 1632L383 1627L395 1621L406 1616L420 1613L436 1612L447 1611"/>
<path stroke="#938bcf" d="M260 1791h0m1 0h0m1 1h0m2 0h0m2 1h0m2 0h0m2 0h0m1 0h0"/><path stroke="#7f6ad6" d="M273 1793h0m1 0h0m1 0h0m1-1h0m1 0h0m1-1h0m1 0h0m1-1h0"/><path stroke="#6547dd" d="M282 1789h0m1-2h0m2-1h0m2-2h0m2-2h0m2-1h0m2-2h0m2-2h0"/><path stroke="#3019db" d="M297 1775h0m2-1h0m3-2h0m2-2h0m3-2h0m2-1h0m2-2h0m1-1h0"/>
<path stroke="url(#gr)" stroke-dasharray="0 4.73" d="M294 1646L309 1642L331 1637L351 1633L368 1630L385 1627L404 1625L424 1624L438 1623"/>
<path stroke="url(#gr)" stroke-dasharray="0 3.31" d="M268 1626L280 1624L295 1622L309 1619L321 1617L333 1615L346 1614L360 1614L370 1615"/>
<path stroke="url(#gr)" stroke-dasharray="0 5.16" d="M303 1677L320 1674L343 1671L364 1670L383 1672L402 1674L423 1674L446 1673L462 1671"/>
<path stroke="url(#gr)" stroke-dasharray="0 4.29" d="M194 1649L208 1647L227 1643L243 1640L258 1638L273 1635L291 1633L311 1631L326 1629"/>
<path stroke="url(#gur)" stroke-dasharray="0 2.31" d="M438 1675L443 1670L450 1663L456 1655L461 1644L465 1634L471 1628L478 1624L483 1623"/>
<path stroke="#938bcf" d="M310 1807h0m1 0h0m1 0h0m0-1h0m1 0h0m1 0h0"/><path stroke="#7f6ad6" d="M315 1806h0m1 0h0m1 0h0m0-1h0m1 0h0m1 0h0m1 0h0"/><path stroke="#6547dd" d="M321 1805h0m1 0h0m0-1h0m1 0h0m1 0h0m1 0h0"/><path stroke="#3019db" d="M326 1803h0m1 0h0m1 0h0m1 0h0"/>
<path stroke="#938bcf" d="M300 1765h0m1 1h0m1 0h0m1 1h0m1 1h0m2 1h0m1 1h0m2 1h0"/><path stroke="#7f6ad6" d="M311 1772h0m1 1h0m2 1h0m1 2h0m2 1h0m1 2h0m2 1h0m2 1h0"/><path stroke="#6547dd" d="M324 1782h0m1 1h0m3 1h0m2 1h0m2 1h0m2 1h0m1 0h0m2 1h0"/><path stroke="#3019db" d="M338 1789h0m1 0h0m1 1h0m1 0h0m1 1h0m1 0h0m0 1h0m1 0h0"/>
<path stroke="#938bcf" d="M316 1901h0m2-2h0m2-4h0m2-3h0m1-3h0m2-2h0m1-3h0m2-2h0"/><path stroke="#7f6ad6" d="M329 1880h0m2-3h0m1-2h0m2-3h0m3-5h0m3-5h0m3-6h0m4-4h0"/><path stroke="#6547dd" d="M350 1847h0m4-4h0m4-4h0m4-3h0m3-4h0m3-4h0m3-3h0m3-4h0"/><path stroke="#3019db" d="M378 1816h0m4-5h0m3-3h0m4-3h0m4-3h0m4-3h0m4-3h0m3-3h0"/>
<path stroke="url(#gr)" stroke-dasharray="0 2.89" d="M177 1677L184 1674L195 1670L205 1670L217 1675L228 1680L240 1680L253 1675L262 1672"/>
<path stroke="#938bcf" d="M348 1816h0m1 0h0m0-1h0m1 0h0m1 0h0m1-1h0m1 0h0"/><path stroke="#7f6ad6" d="M354 1813h0m1 0h0m1-1h0m1 0h0m1-1h0m1 0h0m1-1h0m1-1h0"/><path stroke="#6547dd" d="M363 1809h0m1-1h0m1 0h0m2-1h0m1-1h0m1 0h0m1-1h0m1-1h0"/><path stroke="#3019db" d="M372 1804h0m1-1h0m0-1h0m1 0h0m1-1h0m1-1h0m1 0h0"/>
<path stroke="#938bcf" d="M223 1815h0m0-1h0m2-1h0m1-1h0m1-1h0m2-1h0m1-2h0m2-1h0"/><path stroke="#7f6ad6" d="M234 1805h0m1-1h0m2-1h0m1-1h0m2-1h0m1-1h0m1-1h0m2-1h0"/><path stroke="#6547dd" d="M245 1798h0m1-1h0m2-1h0m1-1h0m2 0h0m1-1h0m2 0h0m2-1h0"/><path stroke="#3019db" d="M258 1792h0m1 0h0m2 0h0m2-1h0m2 0h0m1 0h0m2-1h0"/>
<path stroke="url(#gur)" stroke-dasharray="0 5.68" d="M279 1747L295 1736L317 1720L338 1709L360 1704L382 1700L403 1694L424 1686L439 1680"/>
<path stroke="url(#gur)" stroke-dasharray="0 4.58" d="M358 1790L368 1776L382 1756L394 1741L405 1730L416 1720L428 1708L443 1695L453 1685"/>
<path stroke="url(#gur)" stroke-dasharray="0 4.21" d="M379 1705L388 1696L401 1682L414 1670L427 1659L440 1649L454 1639L469 1630L480 1624"/>
<path stroke="url(#gur)" stroke-dasharray="0 3.12" d="M488 1673L493 1664L502 1652L511 1643L522 1635L533 1628L543 1621L552 1614L559 1609"/>
<path stroke="url(#gr)" stroke-dasharray="0 3.07" d="M390 1672L400 1674L415 1676L427 1678L437 1679L447 1680L460 1679L474 1676L484 1674"/>
<path stroke="url(#gur)" stroke-dasharray="0 3.35" d="M242 1687L250 1680L262 1670L273 1663L284 1658L295 1654L308 1649L322 1642L332 1638"/>
<path stroke="url(#gr)" stroke-dasharray="0 4.02" d="M245 1647L259 1642L278 1635L294 1631L307 1630L320 1629L335 1629L354 1629L367 1629"/>
<path stroke="url(#gr)" stroke-dasharray="0 3.72" d="M345 1655L356 1659L371 1663L386 1666L401 1666L416 1665L431 1665L447 1665L459 1665"/>
<path stroke="url(#gr)" stroke-dasharray="0 1.62" d="M447 1612L452 1611L458 1611L464 1609L471 1607L477 1604L484 1600L489 1596L493 1593"/>
<path stroke="url(#gr)" stroke-dasharray="0 3.54" d="M458 1647L470 1643L486 1637L500 1633L513 1630L525 1627L539 1626L554 1625L565 1624"/>
<path stroke="url(#gr)" stroke-dasharray="0 4.61" d="M177 1665L192 1663L213 1660L231 1656L248 1650L265 1646L284 1643L304 1643L318 1643"/>
<path stroke="url(#gr)" stroke-dasharray="0 3.92" d="M224 1650L235 1651L251 1651L265 1649L279 1644L294 1638L310 1637L329 1637L343 1638"/>
<path stroke="url(#gr)" stroke-dasharray="0 2.81" d="M286 1643L294 1644L306 1644L317 1643L328 1639L340 1634L351 1633L363 1633L371 1634"/>
<path stroke="url(#gr)" stroke-dasharray="0 5.28" d="M186 1662L203 1659L227 1656L249 1656L269 1659L289 1661L310 1661L332 1657L348 1654"/>
<path stroke="url(#gr)" stroke-dasharray="0 3.85" d="M176 1666L186 1663L201 1658L216 1653L230 1646L244 1641L260 1639L278 1639L290 1641"/>
<path stroke="url(#gr)" stroke-dasharray="0 2.98" d="M407 1637L415 1633L425 1627L437 1623L450 1622L463 1623L475 1622L488 1622L496 1622"/>
<path stroke="url(#gur)" stroke-dasharray="0 3.89" d="M307 1725L318 1717L333 1707L347 1699L360 1692L373 1686L386 1678L400 1668L410 1661"/>
<path stroke="url(#gr)" stroke-dasharray="0 3.72" d="M205 1654L217 1655L234 1655L249 1653L262 1647L274 1641L289 1638L305 1638L317 1638"/>
<path stroke="url(#gr)" stroke-dasharray="0 2.86" d="M244 1676L251 1673L261 1670L273 1669L286 1671L299 1674L312 1674L323 1673L331 1672"/>
<path stroke="url(#gur)" stroke-dasharray="0 3.71" d="M455 1700L464 1690L476 1676L489 1667L503 1662L517 1658L530 1652L543 1646L552 1642"/>
<path stroke="url(#gr)" stroke-dasharray="0 1.56" d="M515 1605L518 1602L523 1599L529 1597L534 1597L541 1598L548 1597L555 1595L561 1594"/>
<path stroke="url(#gur)" stroke-dasharray="0 3.92" d="M460 1770L468 1756L478 1737L487 1720L495 1706L503 1694L512 1685L523 1678L531 1674"/>
<path stroke="#938bcf" d="M187 1765h0m1-1h0m2-2h0m1-1h0m2-2h0m2-2h0m2-2h0m2-1h0"/><path stroke="#7f6ad6" d="M201 1752h0m2-1h0m2-2h0m2-2h0m2-2h0m2-3h0m2-3h0m2-2h0"/><path stroke="#6547dd" d="M217 1735h0m2-2h0m2-1h0m2-2h0m2-1h0m2-2h0m2-2h0m2-2h0"/><path stroke="#3019db" d="M234 1721h0m2-2h0m2-2h0m2-2h0m2-2h0m2-2h0m2-1h0m2-1h0"/>
<path stroke="url(#gr)" stroke-dasharray="0 3.54" d="M212 1670L222 1668L236 1666L251 1661L265 1655L280 1648L294 1646L308 1646L317 1646"/>
<path stroke="url(#gr)" stroke-dasharray="0 4.40" d="M200 1675L212 1667L229 1657L246 1650L261 1646L277 1643L294 1639L314 1635L328 1631"/>
<path stroke="url(#gu)" stroke-dasharray="0 5.88" d="M425 1862L432 1840L442 1810L451 1784L459 1760L467 1739L476 1721L487 1705L494 1695"/>
<path stroke="url(#gur)" stroke-dasharray="0 3.43" d="M479 1750L484 1734L491 1712L497 1696L505 1687L512 1680L518 1671L523 1662L527 1656"/>
<path stroke="url(#gr)" stroke-dasharray="0 4.73" d="M311 1631L325 1631L346 1630L365 1629L383 1627L401 1625L421 1622L441 1618L456 1615"/>
<path stroke="url(#gr)" stroke-dasharray="0 3.64" d="M304 1650L314 1647L329 1642L344 1638L360 1636L375 1634L390 1634L405 1636L415 1637"/>
</g>
<path d="M118.5 1677.5L121.5 1675.6L124.5 1673.7L127.5 1671.7L130.5 1669.7L133.5 1667.7L136.5 1665.7L139.5 1663.7L142.5 1661.8L145.5 1660.0L148.5 1658.2L151.5 1656.4L154.5 1654.7L157.5 1653.0L160.5 1651.4L163.5 1649.8L166.5 1648.3L169.5 1646.9L172.5 1645.5L175.5 1644.2L178.5 1643.0L181.5 1641.9L184.5 1640.8L187.5 1639.8L190.5 1638.8L193.5 1637.9L196.5 1637.0L199.5 1636.2L202.5 1635.4L205.5 1634.7L208.5 1634.0L211.5 1633.3L214.5 1632.6L217.5 1632.0L220.5 1631.4L223.5 1630.8L226.5 1630.3L229.5 1629.7L232.5 1629.2L235.5 1628.8L238.5 1628.3L241.5 1627.8L244.5 1627.4L247.5 1626.9L250.5 1626.4L253.5 1625.9L256.5 1625.3L259.5 1624.8L262.5 1624.2L265.5 1623.7L268.5 1623.1L271.5 1622.6L274.5 1622.1L277.5 1621.6L280.5 1621.1L283.5 1620.7L286.5 1620.3L289.5 1619.8L292.5 1619.4L295.5 1619.1L298.5 1618.7L301.5 1618.3L304.5 1618.0L307.5 1617.6L310.5 1617.3L313.5 1616.9L316.5 1616.6L319.5 1616.2L322.5 1615.9L325.5 1615.5L328.5 1615.2L331.5 1614.9L334.5 1614.5L337.5 1614.2L340.5 1613.9L343.5 1613.7L346.5 1613.4L349.5 1613.2L352.5 1612.9L355.5 1612.7L358.5 1612.5L361.5 1612.2L364.5 1611.9L367.5 1611.5L370.5 1611.0L373.5 1610.5L376.5 1609.9L379.5 1609.2L382.5 1608.5L385.5 1607.7L388.5 1606.9L391.5 1606.1L394.5 1605.4L397.5 1604.6L400.5 1603.9L403.5 1603.2L406.5 1602.6L409.5 1602.0L412.5 1601.5L415.5 1601.0L418.5 1600.6L421.5 1600.2L424.5 1600.0L427.5 1599.7L430.5 1599.5L433.5 1599.3L436.5 1599.1L439.5 1598.9L442.5 1598.7L445.5 1598.5L448.5 1598.3L451.5 1598.1L454.5 1597.9L457.5 1597.7L460.5 1597.4L463.5 1597.2L466.5 1596.9L469.5 1596.7L472.5 1596.4L475.5 1596.1L478.5 1595.8L481.5 1595.6L484.5 1595.3L487.5 1595.0L490.5 1594.7L493.5 1594.5L496.5 1594.2L499.5 1594.0L502.5 1593.7L505.5 1593.5L508.5 1593.4L511.5 1593.3L514.5 1593.3L517.5 1593.2L520.5 1593.2L523.5 1593.2L526.5 1593.2L529.5 1593.2L532.5 1593.2L535.5 1593.2L538.5 1593.2L541.5 1593.2L544.5 1593.2L547.5 1593.2L550.5 1593.2L553.5 1593.2L556.5 1593.2L559.5 1593.2L562.5 1593.2L565.5 1593.2L568.5 1593.2L571.5 1593.2L574.5 1593.3L577.5 1593.3L580.5 1593.3L583.5 1593.3L586.5 1593.3L589.5 1593.4L592.5 1593.4L595.5 1593.4L598.5 1593.5L601.5 1593.5L603.5 1593.5" fill="none" stroke="#000" stroke-width="2.5"/>
</g>
<path d="M63.0 1572.8 V2034.7 H673.7" fill="none" stroke="#000" stroke-width="1.6"/>
<line x1="59.0" y1="1581.40" x2="63.0" y2="1581.40" stroke="#333" stroke-width="1.4"/>
<text x="56.0" y="1585.90" text-anchor="end" font-size="12.5" fill="#4d4d4d">0</text>
<line x1="59.0" y1="1695.70" x2="63.0" y2="1695.70" stroke="#333" stroke-width="1.4"/>
<text x="56.0" y="1700.20" text-anchor="end" font-size="12.5" fill="#4d4d4d">500</text>
<line x1="59.0" y1="1810.00" x2="63.0" y2="1810.00" stroke="#333" stroke-width="1.4"/>
<text x="56.0" y="1814.50" text-anchor="end" font-size="12.5" fill="#4d4d4d">1000</text>
<line x1="59.0" y1="1924.30" x2="63.0" y2="1924.30" stroke="#333" stroke-width="1.4"/>
<text x="56.0" y="1928.80" text-anchor="end" font-size="12.5" fill="#4d4d4d">1500</text>
<line x1="90.50" y1="2034.7" x2="90.50" y2="2038.7" stroke="#333" stroke-width="1.4"/>
<text x="90.50" y="2051.3" text-anchor="middle" font-size="12.5" fill="#4d4d4d">0.0</text>
<line x1="201.66" y1="2034.7" x2="201.66" y2="2038.7" stroke="#333" stroke-width="1.4"/>
<text x="201.66" y="2051.3" text-anchor="middle" font-size="12.5" fill="#4d4d4d">0.2</text>
<line x1="312.82" y1="2034.7" x2="312.82" y2="2038.7" stroke="#333" stroke-width="1.4"/>
<text x="312.82" y="2051.3" text-anchor="middle" font-size="12.5" fill="#4d4d4d">0.4</text>
<line x1="423.98" y1="2034.7" x2="423.98" y2="2038.7" stroke="#333" stroke-width="1.4"/>
<text x="423.98" y="2051.3" text-anchor="middle" font-size="12.5" fill="#4d4d4d">0.6</text>
<line x1="535.14" y1="2034.7" x2="535.14" y2="2038.7" stroke="#333" stroke-width="1.4"/>
<text x="535.14" y="2051.3" text-anchor="middle" font-size="12.5" fill="#4d4d4d">0.8</text>
<line x1="646.30" y1="2034.7" x2="646.30" y2="2038.7" stroke="#333" stroke-width="1.4"/>
<text x="646.30" y="2051.3" text-anchor="middle" font-size="12.5" fill="#4d4d4d">1.0</text>
<text x="368.4" y="2069.3" text-anchor="middle" font-size="15.8" fill="#000">Social demographic index</text>
<text transform="translate(19.8 1803.8) rotate(-90)" text-anchor="middle" font-size="15.8" fill="#000">Age-standardized DALYs rate (per 100,000)</text>
<text x="4.0" y="1592.8" font-size="31.8" font-weight="bold" fill="#000">G</text>
<defs><linearGradient id="ygG" x1="0" y1="1" x2="0" y2="0"><stop offset="0" stop-color="#9a99cc"/><stop offset="0.25" stop-color="#8a79d3"/><stop offset="0.5" stop-color="#7459da"/><stop offset="0.75" stop-color="#5637e0"/><stop offset="1" stop-color="#1000d7"/></linearGradient></defs>
<rect x="697.8" y="1753.2" width="24.4" height="123.0" fill="url(#ygG)"/>
<text x="730.5" y="1881.2" font-size="12.6" fill="#000">1990</text>
<line x1="697.8" y1="1836.5" x2="702.7" y2="1836.5" stroke="#fff" stroke-opacity="0.75" stroke-width="1"/>
<line x1="717.3" y1="1836.5" x2="722.2" y2="1836.5" stroke="#fff" stroke-opacity="0.75" stroke-width="1"/>
<text x="730.5" y="1841.5" font-size="12.6" fill="#000">2000</text>
<line x1="697.8" y1="1796.8" x2="702.7" y2="1796.8" stroke="#fff" stroke-opacity="0.75" stroke-width="1"/>
<line x1="717.3" y1="1796.8" x2="722.2" y2="1796.8" stroke="#fff" stroke-opacity="0.75" stroke-width="1"/>
<text x="730.5" y="1801.8" font-size="12.6" fill="#000">2010</text>
<line x1="697.8" y1="1757.1" x2="702.7" y2="1757.1" stroke="#fff" stroke-opacity="0.75" stroke-width="1"/>
<line x1="717.3" y1="1757.1" x2="722.2" y2="1757.1" stroke="#fff" stroke-opacity="0.75" stroke-width="1"/>
<text x="730.5" y="1762.1" font-size="12.6" fill="#000">2020</text>
<text x="697.6" y="1743.2" font-size="15.4" fill="#000">year</text>
<line x1="835.8" y1="1626.57" x2="1420.3" y2="1626.57" stroke="#ececec" stroke-width="0.9"/>
<line x1="835.8" y1="1740.63" x2="1420.3" y2="1740.63" stroke="#ececec" stroke-width="0.9"/>
<line x1="835.8" y1="1854.70" x2="1420.3" y2="1854.70" stroke="#ececec" stroke-width="0.9"/>
<line x1="835.8" y1="1968.77" x2="1420.3" y2="1968.77" stroke="#ececec" stroke-width="0.9"/>
<line x1="915.68" y1="1572.9" x2="915.68" y2="2034.7" stroke="#ececec" stroke-width="0.9"/>
<line x1="1022.04" y1="1572.9" x2="1022.04" y2="2034.7" stroke="#ececec" stroke-width="0.9"/>
<line x1="1128.40" y1="1572.9" x2="1128.40" y2="2034.7" stroke="#ececec" stroke-width="0.9"/>
<line x1="1234.76" y1="1572.9" x2="1234.76" y2="2034.7" stroke="#ececec" stroke-width="0.9"/>
<line x1="1341.12" y1="1572.9" x2="1341.12" y2="2034.7" stroke="#ececec" stroke-width="0.9"/>
<line x1="835.8" y1="1683.60" x2="1420.3" y2="1683.60" stroke="#cbcbcb" stroke-width="1.2"/>
<line x1="835.8" y1="1797.67" x2="1420.3" y2="1797.67" stroke="#cbcbcb" stroke-width="1.2"/>
<line x1="835.8" y1="1911.73" x2="1420.3" y2="1911.73" stroke="#cbcbcb" stroke-width="1.2"/>
<line x1="835.8" y1="2025.80" x2="1420.3" y2="2025.80" stroke="#cbcbcb" stroke-width="1.2"/>
<line x1="862.50" y1="1572.9" x2="862.50" y2="2034.7" stroke="#cbcbcb" stroke-width="1.2"/>
<line x1="968.86" y1="1572.9" x2="968.86" y2="2034.7" stroke="#cbcbcb" stroke-width="1.2"/>
<line x1="1075.22" y1="1572.9" x2="1075.22" y2="2034.7" stroke="#cbcbcb" stroke-width="1.2"/>
<line x1="1181.58" y1="1572.9" x2="1181.58" y2="2034.7" stroke="#cbcbcb" stroke-width="1.2"/>
<line x1="1287.94" y1="1572.9" x2="1287.94" y2="2034.7" stroke="#cbcbcb" stroke-width="1.2"/>
<line x1="1394.30" y1="1572.9" x2="1394.30" y2="2034.7" stroke="#cbcbcb" stroke-width="1.2"/>
<circle cx="951.7" cy="1687.8" r="4.8" fill="#0000CD"/>
<circle cx="1005.0" cy="1668.8" r="4.8" fill="#0000CD"/>
<circle cx="1014.2" cy="1663.9" r="4.8" fill="#0000CD"/>
<circle cx="1010.2" cy="1695.3" r="4.8" fill="#0000CD"/>
<circle cx="990.3" cy="1709.0" r="4.8" fill="#B0493A"/>
<circle cx="1016.4" cy="1719.3" r="4.8" fill="#0000CD"/>
<circle cx="1053.3" cy="1657.4" r="4.8" fill="#0000CD"/>
<circle cx="1061.1" cy="1676.4" r="4.8" fill="#0000CD"/>
<circle cx="1048.9" cy="1686.7" r="4.8" fill="#0000CD"/>
<circle cx="1053.5" cy="1687.5" r="4.8" fill="#0000CD"/>
<circle cx="1041.1" cy="1692.7" r="4.8" fill="#0000CD"/>
<circle cx="1087.7" cy="1665.5" r="4.8" fill="#0000CD"/>
<circle cx="1089.3" cy="1669.3" r="4.8" fill="#0000CD"/>
<circle cx="1099.9" cy="1659.8" r="4.8" fill="#0000CD"/>
<circle cx="1079.5" cy="1681.8" r="4.8" fill="#0000CD"/>
<circle cx="1094.0" cy="1682.6" r="4.8" fill="#0000CD"/>
<circle cx="1103.8" cy="1682.6" r="4.8" fill="#0000CD"/>
<circle cx="1080.2" cy="1692.7" r="4.8" fill="#0000CD"/>
<circle cx="1079.5" cy="1698.9" r="4.8" fill="#0000CD"/>
<circle cx="1066.0" cy="1704.6" r="4.8" fill="#0000CD"/>
<circle cx="1066.8" cy="1711.1" r="4.8" fill="#0000CD"/>
<circle cx="1077.4" cy="1723.6" r="4.8" fill="#0000CD"/>
<circle cx="1109.0" cy="1715.2" r="4.8" fill="#0000CD"/>
<circle cx="1247.8" cy="1593.1" r="4.8" fill="#0000CD"/>
<circle cx="1312.5" cy="1594.6" r="4.8" fill="#0000CD"/>
<circle cx="1334.8" cy="1605.2" r="4.8" fill="#0000CD"/>
<circle cx="1198.0" cy="1608.8" r="4.8" fill="#0000CD"/>
<circle cx="1232.6" cy="1619.2" r="4.8" fill="#0000CD"/>
<circle cx="1288.8" cy="1620.1" r="4.8" fill="#0000CD"/>
<circle cx="1295.2" cy="1621.0" r="4.8" fill="#0000CD"/>
<circle cx="1291.9" cy="1623.8" r="4.8" fill="#0000CD"/>
<circle cx="1310.3" cy="1624.1" r="4.8" fill="#0000CD"/>
<circle cx="1332.6" cy="1629.3" r="4.8" fill="#0000CD"/>
<circle cx="1358.5" cy="1630.2" r="4.8" fill="#0000CD"/>
<circle cx="1130.1" cy="1635.6" r="4.8" fill="#0000CD"/>
<circle cx="1146.2" cy="1642.9" r="4.8" fill="#0000CD"/>
<circle cx="1204.0" cy="1628.9" r="4.8" fill="#0000CD"/>
<circle cx="1223.7" cy="1630.7" r="4.8" fill="#B0493A"/>
<circle cx="1212.2" cy="1636.9" r="4.8" fill="#0000CD"/>
<circle cx="1225.1" cy="1644.8" r="4.8" fill="#0000CD"/>
<circle cx="1262.9" cy="1634.4" r="4.8" fill="#0000CD"/>
<circle cx="1273.7" cy="1632.5" r="4.8" fill="#0000CD"/>
<circle cx="1248.3" cy="1640.2" r="4.8" fill="#0000CD"/>
<circle cx="1258.3" cy="1641.7" r="4.8" fill="#0000CD"/>
<circle cx="1291.0" cy="1635.1" r="4.8" fill="#0000CD"/>
<circle cx="1324.7" cy="1640.6" r="4.8" fill="#0000CD"/>
<circle cx="1334.0" cy="1641.1" r="4.8" fill="#0000CD"/>
<circle cx="1345.4" cy="1639.8" r="4.8" fill="#0000CD"/>
<circle cx="1317.1" cy="1644.2" r="4.8" fill="#0000CD"/>
<circle cx="1328.0" cy="1644.8" r="4.8" fill="#0000CD"/>
<circle cx="1285.7" cy="1646.0" r="4.8" fill="#0000CD"/>
<circle cx="1301.6" cy="1649.0" r="4.8" fill="#0000CD"/>
<circle cx="1308.0" cy="1650.2" r="4.8" fill="#0000CD"/>
<circle cx="1271.5" cy="1651.1" r="4.8" fill="#0000CD"/>
<circle cx="1250.5" cy="1649.9" r="4.8" fill="#0000CD"/>
<circle cx="1251.4" cy="1654.8" r="4.8" fill="#0000CD"/>
<circle cx="1238.3" cy="1651.7" r="4.8" fill="#0000CD"/>
<circle cx="1235.0" cy="1654.4" r="4.8" fill="#0000CD"/>
<circle cx="1235.4" cy="1660.3" r="4.8" fill="#0000CD"/>
<circle cx="1293.4" cy="1655.2" r="4.8" fill="#0000CD"/>
<circle cx="1304.3" cy="1656.6" r="4.8" fill="#0000CD"/>
<circle cx="1316.2" cy="1655.2" r="4.8" fill="#0000CD"/>
<circle cx="1326.2" cy="1658.8" r="4.8" fill="#0000CD"/>
<circle cx="1334.4" cy="1654.4" r="4.8" fill="#0000CD"/>
<circle cx="1342.6" cy="1656.6" r="4.8" fill="#0000CD"/>
<circle cx="1349.5" cy="1654.4" r="4.8" fill="#0000CD"/>
<circle cx="1299.7" cy="1661.2" r="4.8" fill="#0000CD"/>
<circle cx="1310.7" cy="1662.1" r="4.8" fill="#0000CD"/>
<circle cx="1316.7" cy="1665.4" r="4.8" fill="#0000CD"/>
<circle cx="1299.2" cy="1667.6" r="4.8" fill="#0000CD"/>
<circle cx="1327.1" cy="1666.6" r="4.8" fill="#0000CD"/>
<circle cx="1339.0" cy="1670.8" r="4.8" fill="#0000CD"/>
<circle cx="1283.0" cy="1661.2" r="4.8" fill="#0000CD"/>
<circle cx="1190.3" cy="1651.7" r="4.8" fill="#0000CD"/>
<circle cx="1194.9" cy="1652.6" r="4.8" fill="#0000CD"/>
<circle cx="1200.0" cy="1653.0" r="4.8" fill="#0000CD"/>
<circle cx="1212.7" cy="1653.9" r="4.8" fill="#0000CD"/>
<circle cx="1214.6" cy="1657.5" r="4.8" fill="#0000CD"/>
<circle cx="1208.5" cy="1666.6" r="4.8" fill="#0000CD"/>
<circle cx="1184.8" cy="1669.0" r="4.8" fill="#0000CD"/>
<circle cx="1186.6" cy="1675.8" r="4.8" fill="#0000CD"/>
<circle cx="1173.5" cy="1664.3" r="4.8" fill="#0000CD"/>
<circle cx="1172.6" cy="1680.3" r="4.8" fill="#0000CD"/>
<circle cx="1218.0" cy="1680.7" r="4.8" fill="#0000CD"/>
<circle cx="1201.2" cy="1689.4" r="4.8" fill="#0000CD"/>
<circle cx="1258.0" cy="1678.5" r="4.8" fill="#0000CD"/>
<circle cx="1276.0" cy="1680.0" r="4.8" fill="#0000CD"/>
<circle cx="1283.3" cy="1680.7" r="4.8" fill="#0000CD"/>
<circle cx="1311.6" cy="1675.8" r="4.8" fill="#0000CD"/>
<circle cx="1315.2" cy="1679.4" r="4.8" fill="#0000CD"/>
<circle cx="1313.4" cy="1684.9" r="4.8" fill="#0000CD"/>
<circle cx="1318.0" cy="1686.7" r="4.8" fill="#0000CD"/>
<circle cx="1321.1" cy="1691.3" r="4.8" fill="#0000CD"/>
<circle cx="1303.9" cy="1690.4" r="4.8" fill="#0000CD"/>
<circle cx="1286.4" cy="1694.6" r="4.8" fill="#0000CD"/>
<circle cx="1289.7" cy="1699.5" r="4.8" fill="#0000CD"/>
<circle cx="1246.8" cy="1692.7" r="4.8" fill="#0000CD"/>
<circle cx="1241.4" cy="1702.6" r="4.8" fill="#0000CD"/>
<circle cx="1257.2" cy="1705.9" r="4.8" fill="#0000CD"/>
<circle cx="1234.4" cy="1709.1" r="4.8" fill="#0000CD"/>
<circle cx="1272.4" cy="1714.1" r="4.8" fill="#0000CD"/>
<circle cx="1279.7" cy="1718.3" r="4.8" fill="#0000CD"/>
<circle cx="1260.5" cy="1720.8" r="4.8" fill="#0000CD"/>
<circle cx="1245.9" cy="1724.1" r="4.8" fill="#0000CD"/>
<circle cx="1319.4" cy="1711.0" r="4.8" fill="#0000CD"/>
<circle cx="1333.9" cy="1707.3" r="4.8" fill="#0000CD"/>
<circle cx="1101.8" cy="1659.4" r="4.8" fill="#0000CD"/>
<circle cx="1104.0" cy="1682.5" r="4.8" fill="#0000CD"/>
<circle cx="1127.4" cy="1664.8" r="4.8" fill="#0000CD"/>
<circle cx="1149.3" cy="1663.0" r="4.8" fill="#B0493A"/>
<circle cx="1141.0" cy="1655.2" r="4.8" fill="#0000CD"/>
<circle cx="1131.0" cy="1673.9" r="4.8" fill="#0000CD"/>
<circle cx="1115.5" cy="1677.6" r="4.8" fill="#0000CD"/>
<circle cx="1118.2" cy="1682.2" r="4.8" fill="#0000CD"/>
<circle cx="1121.9" cy="1688.0" r="4.8" fill="#0000CD"/>
<circle cx="1141.0" cy="1681.2" r="4.8" fill="#0000CD"/>
<circle cx="1150.5" cy="1690.9" r="4.8" fill="#0000CD"/>
<circle cx="1161.5" cy="1691.6" r="4.8" fill="#0000CD"/>
<circle cx="1162.4" cy="1697.7" r="4.8" fill="#0000CD"/>
<circle cx="1162.4" cy="1701.3" r="4.8" fill="#0000CD"/>
<circle cx="1133.7" cy="1708.6" r="4.8" fill="#B0493A"/>
<circle cx="1131.4" cy="1714.6" r="4.8" fill="#0000CD"/>
<circle cx="1113.7" cy="1715.4" r="4.8" fill="#0000CD"/>
<circle cx="1150.2" cy="1709.5" r="4.8" fill="#0000CD"/>
<circle cx="1195.2" cy="1711.7" r="4.8" fill="#0000CD"/>
<circle cx="1219.8" cy="1709.9" r="4.8" fill="#0000CD"/>
<circle cx="1215.3" cy="1716.8" r="4.8" fill="#B0493A"/>
<circle cx="1214.4" cy="1723.2" r="4.8" fill="#0000CD"/>
<circle cx="1192.1" cy="1725.0" r="4.8" fill="#0000CD"/>
<circle cx="1168.4" cy="1729.3" r="4.8" fill="#0000CD"/>
<circle cx="1260.9" cy="1721.8" r="4.8" fill="#0000CD"/>
<circle cx="1263.8" cy="1732.4" r="4.8" fill="#0000CD"/>
<circle cx="1259.1" cy="1736.1" r="4.8" fill="#0000CD"/>
<circle cx="1266.9" cy="1740.1" r="4.8" fill="#0000CD"/>
<circle cx="1259.2" cy="1745.9" r="4.8" fill="#0000CD"/>
<circle cx="1271.1" cy="1748.8" r="4.8" fill="#0000CD"/>
<circle cx="1271.1" cy="1752.8" r="4.8" fill="#0000CD"/>
<circle cx="1283.7" cy="1754.3" r="4.8" fill="#0000CD"/>
<circle cx="1246.8" cy="1731.3" r="4.8" fill="#0000CD"/>
<circle cx="1199.4" cy="1736.4" r="4.8" fill="#0000CD"/>
<circle cx="1208.5" cy="1737.3" r="4.8" fill="#B0493A"/>
<circle cx="1214.9" cy="1736.1" r="4.8" fill="#B0493A"/>
<circle cx="1218.2" cy="1748.8" r="4.8" fill="#0000CD"/>
<circle cx="1225.9" cy="1751.0" r="4.8" fill="#0000CD"/>
<circle cx="1239.2" cy="1754.7" r="4.8" fill="#B0493A"/>
<circle cx="1325.8" cy="1765.6" r="4.8" fill="#0000CD"/>
<circle cx="1292.1" cy="1782.0" r="4.8" fill="#B0493A"/>
<circle cx="903.6" cy="1757.1" r="4.8" fill="#0000CD"/>
<circle cx="1026.6" cy="1750.1" r="4.8" fill="#0000CD"/>
<circle cx="1050.1" cy="1744.9" r="4.8" fill="#0000CD"/>
<circle cx="1092.6" cy="1749.6" r="4.8" fill="#0000CD"/>
<circle cx="1101.9" cy="1760.2" r="4.8" fill="#0000CD"/>
<circle cx="1075.3" cy="1777.0" r="4.8" fill="#0000CD"/>
<circle cx="1035.9" cy="1793.6" r="4.8" fill="#B0493A"/>
<circle cx="1041.9" cy="1796.9" r="4.8" fill="#0000CD"/>
<circle cx="1099.5" cy="1802.8" r="4.8" fill="#0000CD"/>
<circle cx="1130.5" cy="1773.8" r="4.8" fill="#0000CD"/>
<circle cx="1122.4" cy="1778.7" r="4.8" fill="#0000CD"/>
<circle cx="1114.2" cy="1786.2" r="4.8" fill="#0000CD"/>
<circle cx="1146.2" cy="1784.8" r="4.8" fill="#0000CD"/>
<circle cx="1179.4" cy="1773.8" r="4.8" fill="#B0493A"/>
<circle cx="1196.3" cy="1766.0" r="4.8" fill="#0000CD"/>
<circle cx="1209.1" cy="1776.9" r="4.8" fill="#0000CD"/>
<circle cx="1200.3" cy="1785.7" r="4.8" fill="#0000CD"/>
<circle cx="1244.1" cy="1779.3" r="4.8" fill="#0000CD"/>
<circle cx="1247.4" cy="1782.9" r="4.8" fill="#0000CD"/>
<circle cx="1263.3" cy="1789.9" r="4.8" fill="#0000CD"/>
<circle cx="1248.7" cy="1795.3" r="4.8" fill="#0000CD"/>
<circle cx="1248.1" cy="1802.6" r="4.8" fill="#B0493A"/>
<circle cx="1210.9" cy="1797.0" r="4.8" fill="#0000CD"/>
<circle cx="1211.6" cy="1808.1" r="4.8" fill="#0000CD"/>
<circle cx="1183.5" cy="1803.9" r="4.8" fill="#0000CD"/>
<circle cx="1114.2" cy="1800.3" r="4.8" fill="#B0493A"/>
<circle cx="1227.3" cy="1821.2" r="4.8" fill="#0000CD"/>
<circle cx="1244.7" cy="1823.1" r="4.8" fill="#0000CD"/>
<circle cx="1272.7" cy="1819.1" r="4.8" fill="#0000CD"/>
<circle cx="1221.3" cy="1837.7" r="4.8" fill="#0000CD"/>
<circle cx="1213.6" cy="1845.9" r="4.8" fill="#B0493A"/>
<circle cx="1225.3" cy="1852.3" r="4.8" fill="#0000CD"/>
<circle cx="1261.4" cy="1840.8" r="4.8" fill="#0000CD"/>
<circle cx="1301.6" cy="1847.1" r="4.8" fill="#0000CD"/>
<circle cx="1293.2" cy="1860.6" r="4.8" fill="#0000CD"/>
<circle cx="1124.3" cy="1847.1" r="4.8" fill="#0000CD"/>
<circle cx="1165.3" cy="1851.0" r="4.8" fill="#0000CD"/>
<circle cx="1177.9" cy="1859.8" r="4.8" fill="#0000CD"/>
<circle cx="1084.7" cy="1886.7" r="4.8" fill="#0000CD"/>
<circle cx="1142.9" cy="1891.7" r="4.8" fill="#0000CD"/>
<circle cx="1224.8" cy="1890.9" r="4.8" fill="#B0493A"/>
<circle cx="1251.8" cy="1892.2" r="4.8" fill="#B0493A"/>
<circle cx="1113.9" cy="1909.5" r="4.8" fill="#0000CD"/>
<circle cx="1180.7" cy="1919.4" r="4.8" fill="#0000CD"/>
<circle cx="1168.9" cy="1931.3" r="4.8" fill="#0000CD"/>
<circle cx="1174.8" cy="1980.6" r="4.8" fill="#0000CD"/>
<circle cx="1167.6" cy="1996.7" r="4.8" fill="#0000CD"/>
<circle cx="1190.1" cy="2000.6" r="4.8" fill="#0000CD"/>
<circle cx="1195.1" cy="2004.1" r="4.8" fill="#0000CD"/>
<circle cx="1134.9" cy="2006.1" r="4.8" fill="#B0493A"/>
<circle cx="1090.9" cy="2010.3" r="4.8" fill="#0000CD"/>
<circle cx="1100.8" cy="2013.5" r="4.8" fill="#0000CD"/>
<path d="M889.3 1761.4L892.3 1757.4L895.3 1753.3L898.3 1749.2L901.3 1745.0L904.3 1740.9L907.3 1736.7L910.3 1732.7L913.3 1728.7L916.3 1724.9L919.3 1721.2L922.3 1717.5L925.3 1714.0L928.3 1710.6L931.3 1707.2L934.3 1704.0L937.3 1701.0L940.3 1698.1L943.3 1695.4L946.3 1692.9L949.3 1690.5L952.3 1688.2L955.3 1686.1L958.3 1684.1L961.3 1682.2L964.3 1680.4L967.3 1678.7L970.3 1677.1L973.3 1675.5L976.3 1674.0L979.3 1672.6L982.3 1671.3L985.3 1670.0L988.3 1668.8L991.3 1667.6L994.3 1666.5L997.3 1665.4L1000.3 1664.4L1003.3 1663.4L1006.3 1662.4L1009.3 1661.4L1012.3 1660.4L1015.3 1659.4L1018.3 1658.3L1021.3 1657.2L1024.3 1656.0L1027.3 1654.9L1030.3 1653.7L1033.3 1652.6L1036.3 1651.6L1039.3 1650.5L1042.3 1649.5L1045.3 1648.5L1048.3 1647.6L1051.3 1646.7L1054.3 1645.9L1057.3 1645.1L1060.3 1644.3L1063.3 1643.5L1066.3 1642.8L1069.3 1642.1L1072.3 1641.3L1075.3 1640.6L1078.3 1639.9L1081.3 1639.1L1084.3 1638.4L1087.3 1637.7L1090.3 1637.0L1093.3 1636.3L1096.3 1635.6L1099.3 1635.0L1102.3 1634.4L1105.3 1633.8L1108.3 1633.3L1111.3 1632.8L1114.3 1632.3L1117.3 1631.8L1120.3 1631.2L1123.3 1630.6L1126.3 1629.9L1129.3 1629.0L1132.3 1628.0L1135.3 1626.8L1138.3 1625.4L1141.3 1623.9L1144.3 1622.3L1147.3 1620.6L1150.3 1619.0L1153.3 1617.4L1156.3 1615.9L1159.3 1614.4L1162.3 1613.0L1165.3 1611.7L1168.3 1610.5L1171.3 1609.4L1174.3 1608.4L1177.3 1607.6L1180.3 1606.9L1183.3 1606.4L1186.3 1605.9L1189.3 1605.4L1192.3 1605.0L1195.3 1604.6L1198.3 1604.2L1201.3 1603.8L1204.3 1603.4L1207.3 1603.0L1210.3 1602.6L1213.3 1602.1L1216.3 1601.6L1219.3 1601.0L1222.3 1600.5L1225.3 1599.9L1228.3 1599.4L1231.3 1598.8L1234.3 1598.2L1237.3 1597.7L1240.3 1597.1L1243.3 1596.5L1246.3 1596.0L1249.3 1595.4L1252.3 1594.9L1255.3 1594.4L1258.3 1594.0L1261.3 1593.6L1264.3 1593.4L1267.3 1593.2L1270.3 1593.2L1273.3 1593.1L1276.3 1593.1L1279.3 1593.1L1282.3 1593.1L1285.3 1593.1L1288.3 1593.1L1291.3 1593.1L1294.3 1593.1L1297.3 1593.1L1300.3 1593.1L1303.3 1593.1L1306.3 1593.1L1309.3 1593.1L1312.3 1593.1L1315.3 1593.1L1318.3 1593.1L1321.3 1593.2L1324.3 1593.2L1327.3 1593.2L1330.3 1593.3L1333.3 1593.3L1336.3 1593.4L1339.3 1593.4L1342.3 1593.5L1345.3 1593.5L1348.3 1593.6L1351.3 1593.7L1353.3 1593.7" fill="none" stroke="#000" stroke-width="2.5"/>
<text x="969.9" y="1656.9" font-size="10.1" font-weight="bold" fill="#0000CD">Burkina Faso</text>
<text x="982.5" y="1682.3" font-size="10.1" font-weight="bold" fill="#0000CD">Mali</text>
<text x="926.0" y="1702.1" font-size="10.1" font-weight="bold" fill="#0000CD">Niger</text>
<text x="1047.3" y="1672.0" font-size="10.1" font-weight="bold" fill="#0000CD">Ethiopia</text>
<text x="871.4" y="1771.0" font-size="10.1" font-weight="bold" fill="#0000CD">Somalia</text>
<text x="1282.4" y="1679.4" font-size="10.1" font-weight="bold" fill="#DD1C1C">Lithuania</text>
<text x="1296.1" y="1700.8" font-size="10.1" font-weight="bold" fill="#DD1C1C">United States of America</text>
<text x="1282.4" y="1724.1" font-size="10.1" font-weight="bold" fill="#DD1C1C">Finland</text>
<text x="1328.6" y="1721.4" font-size="10.1" font-weight="bold" fill="#DD1C1C">Republic of Korea</text>
<text x="1324.0" y="1758.7" font-size="10.1" font-weight="bold" fill="#DD1C1C">Japan</text>
<text x="1289.7" y="1840.4" font-size="10.1" font-weight="bold" fill="#111">Greenland</text>
<text x="1260.0" y="1873.6" font-size="10.1" font-weight="bold" fill="#111">Brunei Darussalam</text>
<text x="1112.7" y="1884.8" font-size="10.1" font-weight="bold" fill="#111">Kiribati</text>
<text x="1180.0" y="1884.0" font-size="10.1" font-weight="bold" fill="#111">Turkmenistan</text>
<text x="1259.5" y="1891.7" font-size="10.1" font-weight="bold" fill="#111">Georgia</text>
<text x="1081.7" y="1902.6" font-size="10.1" font-weight="bold" fill="#111">Vanuatu</text>
<text x="1131.7" y="1912.7" font-size="10.1" font-weight="bold" fill="#111">Bolivia (Plurinational State of)</text>
<text x="1140.6" y="1944.7" font-size="10.1" font-weight="bold" fill="#111">Tuvalu</text>
<text x="1109.7" y="1973.9" font-size="10.1" font-weight="bold" fill="#111">Micronesia (Federated States of)</text>
<text x="1081.7" y="1991.2" font-size="10.1" font-weight="bold" fill="#111">Marshall Islands</text>
<text x="1182.0" y="1993.7" font-size="10.1" font-weight="bold" fill="#111">Mongolia</text>
<text x="1003.0" y="2008.6" font-size="10.1" font-weight="bold" fill="#111">Solomon Islands</text>
<text x="1125.0" y="2019.2" font-size="10.1" font-weight="bold" fill="#111">Honduras</text>
<text x="1193.6" y="2017.7" font-size="10.1" font-weight="bold" fill="#111">Nauru</text>
<text x="1092.3" y="2027.1" font-size="10.1" font-weight="bold" fill="#111">Haiti</text>
<path d="M835.8 1572.9 V2034.7 H1420.3" fill="none" stroke="#000" stroke-width="1.6"/>
<line x1="831.8" y1="1683.60" x2="835.8" y2="1683.60" stroke="#333" stroke-width="1.4"/>
<text x="828.8" y="1688.10" text-anchor="end" font-size="12.5" fill="#4d4d4d">250</text>
<line x1="831.8" y1="1797.67" x2="835.8" y2="1797.67" stroke="#333" stroke-width="1.4"/>
<text x="828.8" y="1802.17" text-anchor="end" font-size="12.5" fill="#4d4d4d">500</text>
<line x1="831.8" y1="1911.73" x2="835.8" y2="1911.73" stroke="#333" stroke-width="1.4"/>
<text x="828.8" y="1916.23" text-anchor="end" font-size="12.5" fill="#4d4d4d">750</text>
<line x1="831.8" y1="2025.80" x2="835.8" y2="2025.80" stroke="#333" stroke-width="1.4"/>
<text x="828.8" y="2030.30" text-anchor="end" font-size="12.5" fill="#4d4d4d">1000</text>
<line x1="862.50" y1="2034.7" x2="862.50" y2="2038.7" stroke="#333" stroke-width="1.4"/>
<text x="862.50" y="2051.3" text-anchor="middle" font-size="12.5" fill="#4d4d4d">0.0</text>
<line x1="968.86" y1="2034.7" x2="968.86" y2="2038.7" stroke="#333" stroke-width="1.4"/>
<text x="968.86" y="2051.3" text-anchor="middle" font-size="12.5" fill="#4d4d4d">0.2</text>
<line x1="1075.22" y1="2034.7" x2="1075.22" y2="2038.7" stroke="#333" stroke-width="1.4"/>
<text x="1075.22" y="2051.3" text-anchor="middle" font-size="12.5" fill="#4d4d4d">0.4</text>
<line x1="1181.58" y1="2034.7" x2="1181.58" y2="2038.7" stroke="#333" stroke-width="1.4"/>
<text x="1181.58" y="2051.3" text-anchor="middle" font-size="12.5" fill="#4d4d4d">0.6</text>
<line x1="1287.94" y1="2034.7" x2="1287.94" y2="2038.7" stroke="#333" stroke-width="1.4"/>
<text x="1287.94" y="2051.3" text-anchor="middle" font-size="12.5" fill="#4d4d4d">0.8</text>
<line x1="1394.30" y1="2034.7" x2="1394.30" y2="2038.7" stroke="#333" stroke-width="1.4"/>
<text x="1394.30" y="2051.3" text-anchor="middle" font-size="12.5" fill="#4d4d4d">1.0</text>
<text x="1128.0" y="2069.3" text-anchor="middle" font-size="15.8" fill="#000">Social demographic index</text>
<text transform="translate(792.8 1803.8) rotate(-90)" text-anchor="middle" font-size="15.8" fill="#000">Age-standardized DALYs rate (per 100,000)</text>
<text x="774.5" y="1593.4" font-size="31.8" font-weight="bold" fill="#000">H</text>
<text x="1444.5" y="1780.8" font-size="15.4" fill="#000">trend</text>
<circle cx="1456.5" cy="1802.9" r="4.8" fill="#0000CD"/>
<text x="1477.3" y="1807.7" font-size="12.6" fill="#000">Decrease</text>
<circle cx="1456.5" cy="1827.5" r="4.8" fill="#B0493A"/>
<text x="1477.3" y="1832.3" font-size="12.6" fill="#000">Increase</text>
</svg></body></html>
